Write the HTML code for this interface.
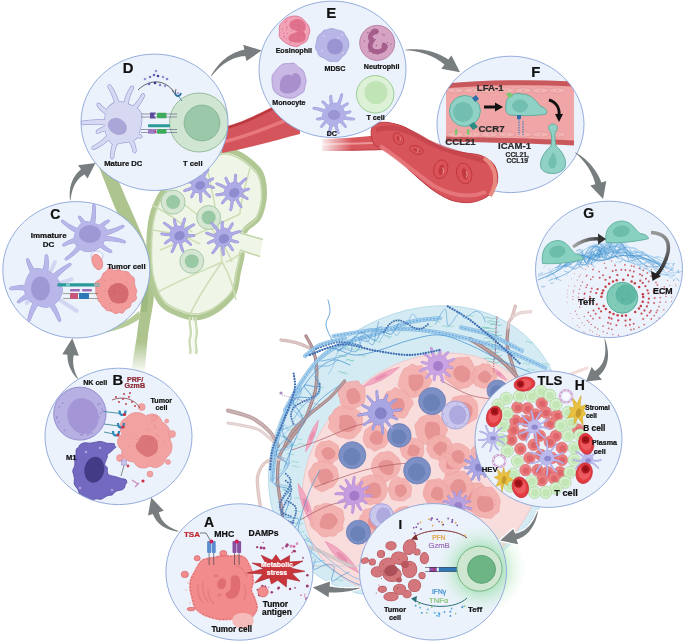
<!DOCTYPE html>
<html><head><meta charset="utf-8"><style>
html,body{margin:0;padding:0;background:#fff;width:685px;height:642px;overflow:hidden}
svg{display:block;will-change:transform}
text{font-family:"Liberation Sans",sans-serif}
</style></head><body>
<svg width="685" height="642" viewBox="0 0 685 642">
<defs><clipPath id="clipA"><ellipse cx="239.4" cy="572.0" rx="73.5" ry="68.2"/></clipPath><clipPath id="clipB"><ellipse cx="118.5" cy="436.4" rx="73.5" ry="68.2"/></clipPath><clipPath id="clipC"><ellipse cx="76.3" cy="269.8" rx="73.5" ry="68.2"/></clipPath><clipPath id="clipD"><ellipse cx="154.5" cy="122.3" rx="73.5" ry="68.2"/></clipPath><clipPath id="clipE"><ellipse cx="332.5" cy="69.3" rx="73.5" ry="68.2"/></clipPath><clipPath id="clipF"><ellipse cx="510.5" cy="124.4" rx="73.5" ry="68.2"/></clipPath><clipPath id="clipG"><ellipse cx="609.0" cy="269.4" rx="73.5" ry="68.2"/></clipPath><clipPath id="clipH"><ellipse cx="548.5" cy="439.2" rx="73.5" ry="68.2"/></clipPath><clipPath id="clipI"><ellipse cx="433.0" cy="571.8" rx="73.5" ry="68.2"/></clipPath>
<radialGradient id="glow" cx="0.5" cy="0.5" r="0.5"><stop offset="0" stop-color="#6fcf85" stop-opacity="0.85"/><stop offset="0.5" stop-color="#8fdca0" stop-opacity="0.55"/><stop offset="0.75" stop-color="#bfeac8" stop-opacity="0.3"/><stop offset="1" stop-color="#e0f5e4" stop-opacity="0"/></radialGradient>
<linearGradient id="vfade" x1="0" y1="0" x2="1" y2="0"><stop offset="0" stop-color="#fff" stop-opacity="1"/><stop offset="1" stop-color="#fff" stop-opacity="0"/></linearGradient>
<linearGradient id="gfade" x1="0" y1="0" x2="0" y2="1"><stop offset="0" stop-color="#fff" stop-opacity="0"/><stop offset="1" stop-color="#fff" stop-opacity="1"/></linearGradient>
<linearGradient id="garr" gradientUnits="userSpaceOnUse" x1="573" y1="0" x2="602" y2="0"><stop offset="0" stop-color="#aaa"/><stop offset="1" stop-color="#333"/></linearGradient>
<linearGradient id="curv" x1="0" y1="0" x2="0" y2="1"><stop offset="0" stop-color="#999" /><stop offset="1" stop-color="#222"/></linearGradient>
</defs>
<path d="M95.00,155.00 C94.40,156.70 98.90,166.50 101.00,172.00 C103.10,177.50 112.90,202.70 116.00,210.00 C119.10,217.30 129.50,238.50 132.00,245.00 C134.50,251.50 140.05,269.50 141.00,275.00 C141.95,280.50 141.90,294.00 141.50,300.00 C141.10,306.00 137.95,327.80 137.00,335.00 C136.05,342.20 131.30,368.30 132.00,372.00 C132.70,375.70 142.40,375.70 144.00,372.00 C145.60,368.30 147.04,342.20 148.00,335.00 C148.96,327.80 153.00,306.00 153.60,300.00 C154.20,294.00 154.76,280.50 154.00,275.00 C153.24,269.50 148.50,252.00 146.00,245.00 C143.50,238.00 132.30,212.70 129.00,205.00 C125.70,197.30 115.20,173.00 113.00,168.00 C110.80,163.00 108.80,156.30 107.00,155.00 C105.20,153.70 95.60,153.30 95.00,155.00Z" fill="#adc48f" stroke="none" stroke-width="1" />
<rect x="120" y="342" width="40" height="32" fill="url(#gfade)"/>
<path d="M141,318 C130,326 118,330 104,333 L104,330 C118,326 128,321 139,311 Z" fill="#b5cb98" stroke="none" stroke-width="1" />
<path d="M163.70,190.30 C169.43,182.20 180.23,168.99 190.00,163.00 C199.77,157.01 218.54,149.41 228.80,150.40 C239.06,151.39 253.07,163.16 258.40,169.60 C263.72,176.03 264.21,186.19 264.30,193.30 C264.39,200.41 261.75,211.65 259.00,217.00 C256.25,222.35 248.70,225.55 246.00,229.00 C243.30,232.45 241.60,236.25 241.00,240.00 C240.40,243.75 242.45,249.02 242.00,254.00 C241.55,258.98 239.35,267.20 238.00,273.20 C236.65,279.20 236.60,288.24 233.00,294.00 C229.40,299.76 220.18,308.06 214.00,311.60 C207.82,315.14 199.35,318.49 191.80,317.60 C184.25,316.72 169.70,311.04 163.70,305.70 C157.70,300.36 154.02,289.98 151.80,282.00 C149.58,274.02 148.90,262.25 148.90,252.50 C148.90,242.75 149.58,226.33 151.80,217.00 C154.02,207.67 157.97,198.40 163.70,190.30Z" fill="#eff6e7" stroke="#b1c895" stroke-width="5.5" />
<path d="M163.70,190.30 C169.43,182.20 180.23,168.99 190.00,163.00 C199.77,157.01 218.54,149.41 228.80,150.40 C239.06,151.39 253.07,163.16 258.40,169.60 C263.72,176.03 264.21,186.19 264.30,193.30 C264.39,200.41 261.75,211.65 259.00,217.00 C256.25,222.35 248.70,225.55 246.00,229.00 C243.30,232.45 241.60,236.25 241.00,240.00 C240.40,243.75 242.45,249.02 242.00,254.00 C241.55,258.98 239.35,267.20 238.00,273.20 C236.65,279.20 236.60,288.24 233.00,294.00 C229.40,299.76 220.18,308.06 214.00,311.60 C207.82,315.14 199.35,318.49 191.80,317.60 C184.25,316.72 169.70,311.04 163.70,305.70 C157.70,300.36 154.02,289.98 151.80,282.00 C149.58,274.02 148.90,262.25 148.90,252.50 C148.90,242.75 149.58,226.33 151.80,217.00 C154.02,207.67 157.97,198.40 163.70,190.30Z" fill="none" stroke="#c8dab0" stroke-width="1.6" transform="translate(206 234) scale(0.955) translate(-206 -234)"/>
<path d="M141,262 C142,280 143,296 141,312 L147,312 C149,296 149,280 147,262 Z" fill="#9bb87c" stroke="none" stroke-width="1" opacity="0.8"/>
<path d="M238,231 L263,239 L260,257 L238,251 Z" fill="#eff6e7" stroke="none" stroke-width="1" />
<path d="M240,233 L263,239.5 M240,250 L260,256.5" fill="none" stroke="#c3d6ab" stroke-width="1.4" />
<path d="M158,292 C180,280 200,272 222,262" fill="none" stroke="#cddeb6" stroke-width="1.5" />
<path d="M160,250 C186,240 214,226 240,214" fill="none" stroke="#cddeb6" stroke-width="1.5" />
<path d="M178,200 C198,214 220,232 232,262" fill="none" stroke="#cddeb6" stroke-width="1.5" />
<path d="M205,158 C212,190 218,215 222,262" fill="none" stroke="#cddeb6" stroke-width="1.5" />
<path d="M190,315 C196,300 206,285 222,262" fill="none" stroke="#cddeb6" stroke-width="1.5" />
<path d="M236,300 C234,290 230,275 222,262" fill="none" stroke="#cddeb6" stroke-width="1.5" />
<path d="M152,230 C172,232 186,236 200,244" fill="none" stroke="#cddeb6" stroke-width="1.5" />
<path d="M250,168 C244,190 240,205 240,214" fill="none" stroke="#cddeb6" stroke-width="1.5" />
<path d="M226,262 C236,258 240,254 242,252" fill="none" stroke="#cddeb6" stroke-width="1.5" />
<path d="M152,205 C170,214 180,222 192,232" fill="none" stroke="#cddeb6" stroke-width="1.5" />
<path d="M190,317 C188,325 193,330 190,338 C188,344 192,348 190,354" fill="none" stroke="#cadcb4" stroke-width="2.4" />
<path d="M196,317 C194,325 199,330 196,338 C194,344 198,348 196,354" fill="none" stroke="#cadcb4" stroke-width="2.4" />
<path d="M193,317 C191,325 196,330 193,338 C191,344 195,348 193,354" fill="none" stroke="#f3f8ec" stroke-width="1.2" />
<circle cx="173.10" cy="202.10" r="12.00" fill="#d5e7d3" stroke="#aac9a9" stroke-width="1" />
<circle cx="173.10" cy="202.10" r="7.00" fill="#99c9a4" stroke="none" stroke-width="1" />
<circle cx="208.70" cy="217.50" r="12.00" fill="#d5e7d3" stroke="#aac9a9" stroke-width="1" />
<circle cx="208.70" cy="217.50" r="7.00" fill="#99c9a4" stroke="none" stroke-width="1" />
<circle cx="191.80" cy="261.30" r="12.00" fill="#d5e7d3" stroke="#aac9a9" stroke-width="1" />
<circle cx="191.80" cy="261.30" r="7.00" fill="#99c9a4" stroke="none" stroke-width="1" />
<g >
<g fill="#918dd6" stroke="#918dd6" stroke-width="0.80" stroke-linejoin="round"><path d="M208.40,184.77 C207.93,186.76 205.50,189.46 204.00,190.80 C202.50,192.14 201.22,192.72 199.42,192.79 C197.62,192.87 194.44,192.24 193.21,191.24 C191.98,190.24 192.20,188.70 192.05,186.78 C191.89,184.85 191.47,181.27 192.30,179.68 C193.13,178.09 195.42,177.87 197.02,177.24 C198.63,176.60 200.29,175.60 201.92,175.87 C203.55,176.14 205.72,177.38 206.80,178.86 C207.89,180.34 208.87,182.78 208.40,184.77Z"/><path d="M204.09,186.84 L205.03,186.89 L205.97,186.97 L206.91,187.07 L207.84,187.21 L208.76,187.38 L209.68,187.57 L210.60,187.80 L211.51,188.06 L212.41,188.35 L213.31,188.67 L214.62,188.13 L214.07,186.82 L213.13,186.42 L212.18,186.05 L211.23,185.72 L210.26,185.41 L209.28,185.14 L208.29,184.89 L207.30,184.69 L206.29,184.51 L205.28,184.36 L204.25,184.25Z"/><path d="M201.45,188.95 L202.11,189.89 L202.80,190.81 L203.51,191.71 L204.24,192.58 L205.00,193.44 L205.78,194.26 L206.59,195.07 L207.42,195.85 L208.27,196.61 L209.14,197.35 L210.55,197.24 L210.45,195.83 L209.66,195.09 L208.89,194.33 L208.15,193.55 L207.43,192.75 L206.74,191.93 L206.07,191.09 L205.42,190.23 L204.81,189.36 L204.21,188.46 L203.64,187.55Z"/><path d="M198.37,189.76 L198.65,190.94 L198.89,192.12 L199.10,193.30 L199.28,194.49 L199.43,195.69 L199.55,196.88 L199.64,198.08 L199.70,199.29 L199.72,200.50 L199.72,201.72 L200.68,202.76 L201.72,201.80 L201.78,200.54 L201.82,199.27 L201.82,198.01 L201.79,196.75 L201.73,195.48 L201.63,194.23 L201.50,192.97 L201.34,191.71 L201.14,190.46 L200.91,189.20Z"/><path d="M195.58,187.93 L194.95,188.75 L194.35,189.58 L193.78,190.42 L193.24,191.28 L192.73,192.16 L192.25,193.06 L191.79,193.96 L191.37,194.89 L190.97,195.83 L190.61,196.78 L191.17,198.08 L192.47,197.52 L192.86,196.65 L193.28,195.80 L193.73,194.96 L194.20,194.15 L194.70,193.35 L195.22,192.57 L195.77,191.80 L196.34,191.05 L196.94,190.33 L197.56,189.61Z"/><path d="M193.83,185.28 L192.92,185.85 L191.99,186.40 L191.05,186.91 L190.09,187.40 L189.13,187.86 L188.14,188.29 L187.15,188.70 L186.14,189.07 L185.12,189.42 L184.08,189.74 L183.37,190.97 L184.59,191.68 L185.70,191.40 L186.80,191.09 L187.88,190.75 L188.96,190.38 L190.03,189.98 L191.08,189.55 L192.12,189.08 L193.15,188.59 L194.17,188.06 L195.18,187.50Z"/><path d="M194.68,182.03 L193.47,181.63 L192.26,181.27 L191.04,180.93 L189.81,180.63 L188.57,180.36 L187.34,180.12 L186.09,179.91 L184.84,179.74 L183.58,179.60 L182.32,179.49 L181.23,180.38 L182.12,181.48 L183.33,181.64 L184.52,181.83 L185.71,182.06 L186.89,182.31 L188.06,182.60 L189.22,182.91 L190.37,183.26 L191.51,183.63 L192.65,184.04 L193.78,184.47Z"/><path d="M196.68,179.55 L195.95,178.96 L195.23,178.34 L194.54,177.71 L193.86,177.05 L193.21,176.37 L192.59,175.67 L191.98,174.95 L191.39,174.20 L190.83,173.44 L190.29,172.65 L188.92,172.32 L188.59,173.70 L189.12,174.57 L189.67,175.43 L190.24,176.27 L190.85,177.08 L191.48,177.88 L192.13,178.65 L192.82,179.41 L193.53,180.14 L194.26,180.86 L195.02,181.55Z"/><path d="M200.05,179.39 L200.07,178.24 L200.06,177.09 L200.01,175.95 L199.93,174.81 L199.82,173.68 L199.67,172.55 L199.49,171.43 L199.28,170.31 L199.04,169.19 L198.77,168.08 L197.56,167.34 L196.82,168.54 L197.02,169.61 L197.20,170.67 L197.34,171.74 L197.45,172.81 L197.53,173.88 L197.57,174.95 L197.59,176.02 L197.58,177.10 L197.53,178.17 L197.46,179.25Z"/><path d="M203.02,180.55 L203.49,179.44 L203.99,178.34 L204.51,177.25 L205.06,176.19 L205.64,175.13 L206.25,174.09 L206.89,173.07 L207.55,172.06 L208.24,171.07 L208.96,170.08 L208.80,168.68 L207.39,168.84 L206.59,169.83 L205.82,170.83 L205.08,171.85 L204.36,172.89 L203.67,173.95 L203.01,175.02 L202.37,176.12 L201.77,177.23 L201.19,178.36 L200.64,179.51Z"/><path d="M204.20,183.67 L205.19,183.38 L206.16,183.06 L207.12,182.71 L208.07,182.33 L209.00,181.92 L209.91,181.49 L210.81,181.02 L211.70,180.52 L212.57,179.99 L213.43,179.43 L213.74,178.05 L212.36,177.74 L211.53,178.21 L210.69,178.66 L209.83,179.07 L208.97,179.45 L208.10,179.81 L207.22,180.13 L206.33,180.43 L205.42,180.70 L204.51,180.93 L203.59,181.14Z"/></g>
<g fill="#aeabe6"><path d="M208.40,184.77 C207.93,186.76 205.50,189.46 204.00,190.80 C202.50,192.14 201.22,192.72 199.42,192.79 C197.62,192.87 194.44,192.24 193.21,191.24 C191.98,190.24 192.20,188.70 192.05,186.78 C191.89,184.85 191.47,181.27 192.30,179.68 C193.13,178.09 195.42,177.87 197.02,177.24 C198.63,176.60 200.29,175.60 201.92,175.87 C203.55,176.14 205.72,177.38 206.80,178.86 C207.89,180.34 208.87,182.78 208.40,184.77Z"/><path d="M204.09,186.84 L205.03,186.89 L205.97,186.97 L206.91,187.07 L207.84,187.21 L208.76,187.38 L209.68,187.57 L210.60,187.80 L211.51,188.06 L212.41,188.35 L213.31,188.67 L214.62,188.13 L214.07,186.82 L213.13,186.42 L212.18,186.05 L211.23,185.72 L210.26,185.41 L209.28,185.14 L208.29,184.89 L207.30,184.69 L206.29,184.51 L205.28,184.36 L204.25,184.25Z"/><path d="M201.45,188.95 L202.11,189.89 L202.80,190.81 L203.51,191.71 L204.24,192.58 L205.00,193.44 L205.78,194.26 L206.59,195.07 L207.42,195.85 L208.27,196.61 L209.14,197.35 L210.55,197.24 L210.45,195.83 L209.66,195.09 L208.89,194.33 L208.15,193.55 L207.43,192.75 L206.74,191.93 L206.07,191.09 L205.42,190.23 L204.81,189.36 L204.21,188.46 L203.64,187.55Z"/><path d="M198.37,189.76 L198.65,190.94 L198.89,192.12 L199.10,193.30 L199.28,194.49 L199.43,195.69 L199.55,196.88 L199.64,198.08 L199.70,199.29 L199.72,200.50 L199.72,201.72 L200.68,202.76 L201.72,201.80 L201.78,200.54 L201.82,199.27 L201.82,198.01 L201.79,196.75 L201.73,195.48 L201.63,194.23 L201.50,192.97 L201.34,191.71 L201.14,190.46 L200.91,189.20Z"/><path d="M195.58,187.93 L194.95,188.75 L194.35,189.58 L193.78,190.42 L193.24,191.28 L192.73,192.16 L192.25,193.06 L191.79,193.96 L191.37,194.89 L190.97,195.83 L190.61,196.78 L191.17,198.08 L192.47,197.52 L192.86,196.65 L193.28,195.80 L193.73,194.96 L194.20,194.15 L194.70,193.35 L195.22,192.57 L195.77,191.80 L196.34,191.05 L196.94,190.33 L197.56,189.61Z"/><path d="M193.83,185.28 L192.92,185.85 L191.99,186.40 L191.05,186.91 L190.09,187.40 L189.13,187.86 L188.14,188.29 L187.15,188.70 L186.14,189.07 L185.12,189.42 L184.08,189.74 L183.37,190.97 L184.59,191.68 L185.70,191.40 L186.80,191.09 L187.88,190.75 L188.96,190.38 L190.03,189.98 L191.08,189.55 L192.12,189.08 L193.15,188.59 L194.17,188.06 L195.18,187.50Z"/><path d="M194.68,182.03 L193.47,181.63 L192.26,181.27 L191.04,180.93 L189.81,180.63 L188.57,180.36 L187.34,180.12 L186.09,179.91 L184.84,179.74 L183.58,179.60 L182.32,179.49 L181.23,180.38 L182.12,181.48 L183.33,181.64 L184.52,181.83 L185.71,182.06 L186.89,182.31 L188.06,182.60 L189.22,182.91 L190.37,183.26 L191.51,183.63 L192.65,184.04 L193.78,184.47Z"/><path d="M196.68,179.55 L195.95,178.96 L195.23,178.34 L194.54,177.71 L193.86,177.05 L193.21,176.37 L192.59,175.67 L191.98,174.95 L191.39,174.20 L190.83,173.44 L190.29,172.65 L188.92,172.32 L188.59,173.70 L189.12,174.57 L189.67,175.43 L190.24,176.27 L190.85,177.08 L191.48,177.88 L192.13,178.65 L192.82,179.41 L193.53,180.14 L194.26,180.86 L195.02,181.55Z"/><path d="M200.05,179.39 L200.07,178.24 L200.06,177.09 L200.01,175.95 L199.93,174.81 L199.82,173.68 L199.67,172.55 L199.49,171.43 L199.28,170.31 L199.04,169.19 L198.77,168.08 L197.56,167.34 L196.82,168.54 L197.02,169.61 L197.20,170.67 L197.34,171.74 L197.45,172.81 L197.53,173.88 L197.57,174.95 L197.59,176.02 L197.58,177.10 L197.53,178.17 L197.46,179.25Z"/><path d="M203.02,180.55 L203.49,179.44 L203.99,178.34 L204.51,177.25 L205.06,176.19 L205.64,175.13 L206.25,174.09 L206.89,173.07 L207.55,172.06 L208.24,171.07 L208.96,170.08 L208.80,168.68 L207.39,168.84 L206.59,169.83 L205.82,170.83 L205.08,171.85 L204.36,172.89 L203.67,173.95 L203.01,175.02 L202.37,176.12 L201.77,177.23 L201.19,178.36 L200.64,179.51Z"/><path d="M204.20,183.67 L205.19,183.38 L206.16,183.06 L207.12,182.71 L208.07,182.33 L209.00,181.92 L209.91,181.49 L210.81,181.02 L211.70,180.52 L212.57,179.99 L213.43,179.43 L213.74,178.05 L212.36,177.74 L211.53,178.21 L210.69,178.66 L209.83,179.07 L208.97,179.45 L208.10,179.81 L207.22,180.13 L206.33,180.43 L205.42,180.70 L204.51,180.93 L203.59,181.14Z"/></g>
<ellipse cx="200.2" cy="185.4" rx="5.1" ry="4.2" fill="#8f8bcf" transform="rotate(-25 200.2 185.4)"/>
</g>
<g >
<g fill="#918dd6" stroke="#918dd6" stroke-width="0.80" stroke-linejoin="round"><path d="M242.76,194.62 C242.39,196.11 241.03,196.00 239.32,197.11 C237.60,198.22 234.44,201.10 232.48,201.28 C230.51,201.47 228.91,199.55 227.51,198.23 C226.11,196.90 224.34,195.10 224.10,193.34 C223.85,191.58 225.09,189.28 226.04,187.67 C227.00,186.06 228.00,184.57 229.83,183.70 C231.66,182.84 235.09,181.75 237.04,182.49 C238.99,183.23 240.58,186.13 241.53,188.15 C242.48,190.17 243.13,193.13 242.76,194.62Z"/><path d="M237.67,195.41 L238.63,195.69 L239.59,196.00 L240.53,196.34 L241.46,196.71 L242.38,197.11 L243.28,197.54 L244.18,197.99 L245.06,198.47 L245.93,198.98 L246.79,199.53 L248.18,199.27 L247.93,197.88 L247.05,197.26 L246.16,196.66 L245.25,196.09 L244.33,195.55 L243.38,195.04 L242.43,194.56 L241.45,194.11 L240.46,193.68 L239.46,193.29 L238.44,192.93Z"/><path d="M234.52,197.02 L234.98,198.14 L235.47,199.24 L235.99,200.33 L236.54,201.41 L237.11,202.46 L237.72,203.50 L238.35,204.52 L239.01,205.53 L239.70,206.51 L240.42,207.48 L241.81,207.71 L242.04,206.31 L241.40,205.35 L240.80,204.38 L240.22,203.39 L239.67,202.39 L239.14,201.38 L238.65,200.36 L238.18,199.32 L237.75,198.26 L237.34,197.20 L236.96,196.12Z"/><path d="M231.15,197.12 L231.14,198.41 L231.10,199.69 L231.03,200.96 L230.93,202.23 L230.80,203.50 L230.63,204.77 L230.44,206.04 L230.21,207.30 L229.96,208.56 L229.67,209.81 L230.37,211.04 L231.60,210.33 L231.96,209.04 L232.29,207.75 L232.58,206.44 L232.84,205.14 L233.08,203.82 L233.27,202.51 L233.44,201.18 L233.58,199.85 L233.68,198.51 L233.75,197.17Z"/><path d="M228.66,194.65 L227.83,195.34 L227.02,196.06 L226.23,196.79 L225.47,197.55 L224.74,198.33 L224.03,199.13 L223.35,199.96 L222.69,200.80 L222.05,201.67 L221.44,202.55 L221.68,203.95 L223.08,203.71 L223.70,202.90 L224.34,202.13 L225.00,201.37 L225.69,200.64 L226.39,199.93 L227.12,199.24 L227.87,198.58 L228.64,197.94 L229.42,197.32 L230.24,196.72Z"/><path d="M227.48,191.50 L226.40,191.86 L225.31,192.20 L224.21,192.50 L223.10,192.77 L221.99,193.01 L220.87,193.23 L219.74,193.41 L218.61,193.56 L217.47,193.68 L216.32,193.77 L215.36,194.81 L216.40,195.77 L217.60,195.74 L218.81,195.67 L220.01,195.57 L221.20,195.44 L222.39,195.28 L223.58,195.08 L224.76,194.86 L225.94,194.60 L227.11,194.30 L228.28,193.98Z"/><path d="M229.05,188.34 L227.90,187.65 L226.74,186.99 L225.56,186.35 L224.37,185.75 L223.16,185.18 L221.94,184.64 L220.71,184.12 L219.47,183.64 L218.21,183.19 L216.94,182.77 L215.67,183.39 L216.29,184.66 L217.49,185.12 L218.68,185.61 L219.85,186.13 L221.01,186.67 L222.15,187.25 L223.28,187.85 L224.39,188.47 L225.49,189.13 L226.57,189.81 L227.64,190.52Z"/><path d="M231.71,186.25 L231.09,185.46 L230.50,184.64 L229.94,183.82 L229.41,182.97 L228.90,182.11 L228.42,181.23 L227.96,180.34 L227.53,179.43 L227.13,178.51 L226.75,177.56 L225.48,176.95 L224.86,178.22 L225.20,179.24 L225.57,180.25 L225.97,181.24 L226.41,182.22 L226.87,183.19 L227.36,184.14 L227.88,185.08 L228.43,186.01 L229.01,186.92 L229.62,187.81Z"/><path d="M235.20,186.81 L235.49,185.63 L235.74,184.44 L235.96,183.26 L236.15,182.07 L236.30,180.88 L236.42,179.68 L236.51,178.48 L236.57,177.28 L236.59,176.08 L236.58,174.87 L235.58,173.87 L234.58,174.86 L234.53,176.01 L234.45,177.16 L234.34,178.30 L234.20,179.43 L234.02,180.56 L233.82,181.68 L233.59,182.79 L233.32,183.90 L233.03,185.00 L232.70,186.10Z"/><path d="M237.99,188.70 L238.75,187.67 L239.53,186.65 L240.34,185.66 L241.17,184.69 L242.02,183.74 L242.90,182.81 L243.80,181.91 L244.73,181.02 L245.67,180.15 L246.65,179.31 L246.79,177.90 L245.39,177.75 L244.34,178.58 L243.31,179.44 L242.31,180.32 L241.33,181.22 L240.37,182.15 L239.43,183.10 L238.52,184.07 L237.63,185.07 L236.76,186.09 L235.91,187.13Z"/><path d="M238.55,192.16 L239.63,192.09 L240.70,191.99 L241.77,191.86 L242.83,191.69 L243.88,191.49 L244.93,191.26 L245.97,190.99 L247.00,190.70 L248.02,190.37 L249.03,190.01 L249.66,188.74 L248.39,188.12 L247.41,188.40 L246.44,188.65 L245.46,188.88 L244.47,189.07 L243.48,189.23 L242.49,189.35 L241.50,189.45 L240.50,189.52 L239.50,189.56 L238.49,189.56Z"/></g>
<g fill="#aeabe6"><path d="M242.76,194.62 C242.39,196.11 241.03,196.00 239.32,197.11 C237.60,198.22 234.44,201.10 232.48,201.28 C230.51,201.47 228.91,199.55 227.51,198.23 C226.11,196.90 224.34,195.10 224.10,193.34 C223.85,191.58 225.09,189.28 226.04,187.67 C227.00,186.06 228.00,184.57 229.83,183.70 C231.66,182.84 235.09,181.75 237.04,182.49 C238.99,183.23 240.58,186.13 241.53,188.15 C242.48,190.17 243.13,193.13 242.76,194.62Z"/><path d="M237.67,195.41 L238.63,195.69 L239.59,196.00 L240.53,196.34 L241.46,196.71 L242.38,197.11 L243.28,197.54 L244.18,197.99 L245.06,198.47 L245.93,198.98 L246.79,199.53 L248.18,199.27 L247.93,197.88 L247.05,197.26 L246.16,196.66 L245.25,196.09 L244.33,195.55 L243.38,195.04 L242.43,194.56 L241.45,194.11 L240.46,193.68 L239.46,193.29 L238.44,192.93Z"/><path d="M234.52,197.02 L234.98,198.14 L235.47,199.24 L235.99,200.33 L236.54,201.41 L237.11,202.46 L237.72,203.50 L238.35,204.52 L239.01,205.53 L239.70,206.51 L240.42,207.48 L241.81,207.71 L242.04,206.31 L241.40,205.35 L240.80,204.38 L240.22,203.39 L239.67,202.39 L239.14,201.38 L238.65,200.36 L238.18,199.32 L237.75,198.26 L237.34,197.20 L236.96,196.12Z"/><path d="M231.15,197.12 L231.14,198.41 L231.10,199.69 L231.03,200.96 L230.93,202.23 L230.80,203.50 L230.63,204.77 L230.44,206.04 L230.21,207.30 L229.96,208.56 L229.67,209.81 L230.37,211.04 L231.60,210.33 L231.96,209.04 L232.29,207.75 L232.58,206.44 L232.84,205.14 L233.08,203.82 L233.27,202.51 L233.44,201.18 L233.58,199.85 L233.68,198.51 L233.75,197.17Z"/><path d="M228.66,194.65 L227.83,195.34 L227.02,196.06 L226.23,196.79 L225.47,197.55 L224.74,198.33 L224.03,199.13 L223.35,199.96 L222.69,200.80 L222.05,201.67 L221.44,202.55 L221.68,203.95 L223.08,203.71 L223.70,202.90 L224.34,202.13 L225.00,201.37 L225.69,200.64 L226.39,199.93 L227.12,199.24 L227.87,198.58 L228.64,197.94 L229.42,197.32 L230.24,196.72Z"/><path d="M227.48,191.50 L226.40,191.86 L225.31,192.20 L224.21,192.50 L223.10,192.77 L221.99,193.01 L220.87,193.23 L219.74,193.41 L218.61,193.56 L217.47,193.68 L216.32,193.77 L215.36,194.81 L216.40,195.77 L217.60,195.74 L218.81,195.67 L220.01,195.57 L221.20,195.44 L222.39,195.28 L223.58,195.08 L224.76,194.86 L225.94,194.60 L227.11,194.30 L228.28,193.98Z"/><path d="M229.05,188.34 L227.90,187.65 L226.74,186.99 L225.56,186.35 L224.37,185.75 L223.16,185.18 L221.94,184.64 L220.71,184.12 L219.47,183.64 L218.21,183.19 L216.94,182.77 L215.67,183.39 L216.29,184.66 L217.49,185.12 L218.68,185.61 L219.85,186.13 L221.01,186.67 L222.15,187.25 L223.28,187.85 L224.39,188.47 L225.49,189.13 L226.57,189.81 L227.64,190.52Z"/><path d="M231.71,186.25 L231.09,185.46 L230.50,184.64 L229.94,183.82 L229.41,182.97 L228.90,182.11 L228.42,181.23 L227.96,180.34 L227.53,179.43 L227.13,178.51 L226.75,177.56 L225.48,176.95 L224.86,178.22 L225.20,179.24 L225.57,180.25 L225.97,181.24 L226.41,182.22 L226.87,183.19 L227.36,184.14 L227.88,185.08 L228.43,186.01 L229.01,186.92 L229.62,187.81Z"/><path d="M235.20,186.81 L235.49,185.63 L235.74,184.44 L235.96,183.26 L236.15,182.07 L236.30,180.88 L236.42,179.68 L236.51,178.48 L236.57,177.28 L236.59,176.08 L236.58,174.87 L235.58,173.87 L234.58,174.86 L234.53,176.01 L234.45,177.16 L234.34,178.30 L234.20,179.43 L234.02,180.56 L233.82,181.68 L233.59,182.79 L233.32,183.90 L233.03,185.00 L232.70,186.10Z"/><path d="M237.99,188.70 L238.75,187.67 L239.53,186.65 L240.34,185.66 L241.17,184.69 L242.02,183.74 L242.90,182.81 L243.80,181.91 L244.73,181.02 L245.67,180.15 L246.65,179.31 L246.79,177.90 L245.39,177.75 L244.34,178.58 L243.31,179.44 L242.31,180.32 L241.33,181.22 L240.37,182.15 L239.43,183.10 L238.52,184.07 L237.63,185.07 L236.76,186.09 L235.91,187.13Z"/><path d="M238.55,192.16 L239.63,192.09 L240.70,191.99 L241.77,191.86 L242.83,191.69 L243.88,191.49 L244.93,191.26 L245.97,190.99 L247.00,190.70 L248.02,190.37 L249.03,190.01 L249.66,188.74 L248.39,188.12 L247.41,188.40 L246.44,188.65 L245.46,188.88 L244.47,189.07 L243.48,189.23 L242.49,189.35 L241.50,189.45 L240.50,189.52 L239.50,189.56 L238.49,189.56Z"/></g>
<ellipse cx="234.2" cy="192.8" rx="5.4" ry="4.5" fill="#8f8bcf" transform="rotate(-25 234.2 192.8)"/>
</g>
<g >
<g fill="#918dd6" stroke="#918dd6" stroke-width="0.80" stroke-linejoin="round"><path d="M187.57,235.35 C187.21,237.25 186.40,240.14 184.87,241.38 C183.34,242.61 180.27,242.47 178.39,242.76 C176.52,243.05 174.94,244.07 173.60,243.11 C172.27,242.14 170.75,239.26 170.38,236.96 C170.01,234.66 170.42,231.12 171.37,229.31 C172.33,227.50 174.41,226.47 176.09,226.08 C177.77,225.70 179.62,226.36 181.45,227.00 C183.28,227.64 186.04,228.55 187.06,229.94 C188.08,231.33 187.94,233.44 187.57,235.35Z"/><path d="M182.04,239.22 L182.92,239.72 L183.78,240.23 L184.62,240.78 L185.44,241.34 L186.25,241.94 L187.03,242.56 L187.80,243.20 L188.55,243.87 L189.28,244.56 L190.00,245.28 L191.41,245.35 L191.48,243.94 L190.77,243.13 L190.03,242.35 L189.28,241.59 L188.50,240.86 L187.69,240.15 L186.87,239.47 L186.02,238.81 L185.15,238.17 L184.26,237.56 L183.35,236.97Z"/><path d="M178.61,240.08 L178.81,241.28 L179.04,242.46 L179.30,243.64 L179.59,244.81 L179.91,245.97 L180.27,247.12 L180.66,248.25 L181.07,249.38 L181.52,250.50 L182.00,251.60 L183.31,252.14 L183.85,250.83 L183.44,249.75 L183.07,248.67 L182.73,247.57 L182.42,246.48 L182.14,245.37 L181.89,244.26 L181.67,243.14 L181.48,242.02 L181.32,240.89 L181.19,239.75Z"/><path d="M175.30,239.43 L175.01,240.67 L174.68,241.91 L174.33,243.14 L173.94,244.36 L173.53,245.56 L173.08,246.76 L172.61,247.95 L172.10,249.13 L171.57,250.30 L171.01,251.46 L171.42,252.81 L172.77,252.39 L173.41,251.22 L174.02,250.03 L174.60,248.83 L175.15,247.62 L175.67,246.39 L176.16,245.15 L176.63,243.89 L177.06,242.63 L177.46,241.35 L177.83,240.06Z"/><path d="M173.44,236.46 L172.47,236.94 L171.52,237.46 L170.59,238.00 L169.68,238.56 L168.79,239.16 L167.92,239.78 L167.06,240.43 L166.23,241.10 L165.42,241.81 L164.62,242.53 L164.55,243.94 L165.96,244.02 L166.74,243.38 L167.54,242.77 L168.36,242.18 L169.19,241.62 L170.04,241.09 L170.90,240.58 L171.78,240.10 L172.67,239.65 L173.58,239.23 L174.50,238.83Z"/><path d="M173.00,233.12 L171.86,233.23 L170.72,233.31 L169.58,233.36 L168.44,233.38 L167.30,233.36 L166.17,233.32 L165.03,233.24 L163.89,233.13 L162.75,232.99 L161.61,232.82 L160.44,233.62 L161.24,234.79 L162.42,235.03 L163.60,235.23 L164.79,235.41 L165.99,235.55 L167.18,235.66 L168.38,235.74 L169.59,235.78 L170.79,235.79 L172.00,235.77 L173.22,235.71Z"/><path d="M175.24,230.40 L174.27,229.46 L173.29,228.56 L172.28,227.67 L171.25,226.82 L170.21,225.99 L169.14,225.19 L168.06,224.41 L166.96,223.66 L165.83,222.94 L164.69,222.24 L163.31,222.56 L163.63,223.94 L164.70,224.66 L165.75,225.40 L166.77,226.17 L167.78,226.96 L168.76,227.78 L169.72,228.62 L170.67,229.48 L171.59,230.36 L172.49,231.27 L173.37,232.20Z"/><path d="M178.29,228.96 L177.87,228.04 L177.48,227.12 L177.12,226.19 L176.79,225.24 L176.49,224.29 L176.21,223.33 L175.97,222.36 L175.76,221.37 L175.57,220.38 L175.42,219.38 L174.32,218.49 L173.43,219.59 L173.53,220.67 L173.67,221.73 L173.83,222.79 L174.03,223.84 L174.27,224.89 L174.53,225.92 L174.83,226.96 L175.16,227.98 L175.52,229.00 L175.91,230.01Z"/><path d="M181.57,230.28 L182.12,229.20 L182.63,228.10 L183.11,227.00 L183.56,225.88 L183.98,224.75 L184.37,223.62 L184.72,222.47 L185.05,221.31 L185.34,220.14 L185.60,218.96 L184.86,217.76 L183.65,218.51 L183.35,219.62 L183.01,220.71 L182.65,221.80 L182.25,222.87 L181.83,223.93 L181.38,224.97 L180.90,226.01 L180.40,227.03 L179.86,228.04 L179.30,229.03Z"/><path d="M183.86,232.75 L184.84,231.92 L185.83,231.11 L186.84,230.33 L187.86,229.57 L188.91,228.83 L189.97,228.13 L191.06,227.44 L192.16,226.79 L193.27,226.16 L194.41,225.55 L194.87,224.21 L193.53,223.75 L192.33,224.33 L191.13,224.93 L189.96,225.56 L188.80,226.22 L187.66,226.91 L186.53,227.62 L185.42,228.36 L184.33,229.14 L183.25,229.93 L182.19,230.76Z"/><path d="M183.63,236.26 L184.70,236.43 L185.77,236.57 L186.84,236.68 L187.91,236.76 L188.98,236.80 L190.05,236.81 L191.12,236.79 L192.19,236.73 L193.26,236.64 L194.33,236.52 L195.22,235.42 L194.13,234.53 L193.11,234.59 L192.11,234.61 L191.10,234.61 L190.10,234.57 L189.10,234.50 L188.10,234.41 L187.11,234.28 L186.13,234.12 L185.14,233.93 L184.16,233.71Z"/></g>
<g fill="#aeabe6"><path d="M187.57,235.35 C187.21,237.25 186.40,240.14 184.87,241.38 C183.34,242.61 180.27,242.47 178.39,242.76 C176.52,243.05 174.94,244.07 173.60,243.11 C172.27,242.14 170.75,239.26 170.38,236.96 C170.01,234.66 170.42,231.12 171.37,229.31 C172.33,227.50 174.41,226.47 176.09,226.08 C177.77,225.70 179.62,226.36 181.45,227.00 C183.28,227.64 186.04,228.55 187.06,229.94 C188.08,231.33 187.94,233.44 187.57,235.35Z"/><path d="M182.04,239.22 L182.92,239.72 L183.78,240.23 L184.62,240.78 L185.44,241.34 L186.25,241.94 L187.03,242.56 L187.80,243.20 L188.55,243.87 L189.28,244.56 L190.00,245.28 L191.41,245.35 L191.48,243.94 L190.77,243.13 L190.03,242.35 L189.28,241.59 L188.50,240.86 L187.69,240.15 L186.87,239.47 L186.02,238.81 L185.15,238.17 L184.26,237.56 L183.35,236.97Z"/><path d="M178.61,240.08 L178.81,241.28 L179.04,242.46 L179.30,243.64 L179.59,244.81 L179.91,245.97 L180.27,247.12 L180.66,248.25 L181.07,249.38 L181.52,250.50 L182.00,251.60 L183.31,252.14 L183.85,250.83 L183.44,249.75 L183.07,248.67 L182.73,247.57 L182.42,246.48 L182.14,245.37 L181.89,244.26 L181.67,243.14 L181.48,242.02 L181.32,240.89 L181.19,239.75Z"/><path d="M175.30,239.43 L175.01,240.67 L174.68,241.91 L174.33,243.14 L173.94,244.36 L173.53,245.56 L173.08,246.76 L172.61,247.95 L172.10,249.13 L171.57,250.30 L171.01,251.46 L171.42,252.81 L172.77,252.39 L173.41,251.22 L174.02,250.03 L174.60,248.83 L175.15,247.62 L175.67,246.39 L176.16,245.15 L176.63,243.89 L177.06,242.63 L177.46,241.35 L177.83,240.06Z"/><path d="M173.44,236.46 L172.47,236.94 L171.52,237.46 L170.59,238.00 L169.68,238.56 L168.79,239.16 L167.92,239.78 L167.06,240.43 L166.23,241.10 L165.42,241.81 L164.62,242.53 L164.55,243.94 L165.96,244.02 L166.74,243.38 L167.54,242.77 L168.36,242.18 L169.19,241.62 L170.04,241.09 L170.90,240.58 L171.78,240.10 L172.67,239.65 L173.58,239.23 L174.50,238.83Z"/><path d="M173.00,233.12 L171.86,233.23 L170.72,233.31 L169.58,233.36 L168.44,233.38 L167.30,233.36 L166.17,233.32 L165.03,233.24 L163.89,233.13 L162.75,232.99 L161.61,232.82 L160.44,233.62 L161.24,234.79 L162.42,235.03 L163.60,235.23 L164.79,235.41 L165.99,235.55 L167.18,235.66 L168.38,235.74 L169.59,235.78 L170.79,235.79 L172.00,235.77 L173.22,235.71Z"/><path d="M175.24,230.40 L174.27,229.46 L173.29,228.56 L172.28,227.67 L171.25,226.82 L170.21,225.99 L169.14,225.19 L168.06,224.41 L166.96,223.66 L165.83,222.94 L164.69,222.24 L163.31,222.56 L163.63,223.94 L164.70,224.66 L165.75,225.40 L166.77,226.17 L167.78,226.96 L168.76,227.78 L169.72,228.62 L170.67,229.48 L171.59,230.36 L172.49,231.27 L173.37,232.20Z"/><path d="M178.29,228.96 L177.87,228.04 L177.48,227.12 L177.12,226.19 L176.79,225.24 L176.49,224.29 L176.21,223.33 L175.97,222.36 L175.76,221.37 L175.57,220.38 L175.42,219.38 L174.32,218.49 L173.43,219.59 L173.53,220.67 L173.67,221.73 L173.83,222.79 L174.03,223.84 L174.27,224.89 L174.53,225.92 L174.83,226.96 L175.16,227.98 L175.52,229.00 L175.91,230.01Z"/><path d="M181.57,230.28 L182.12,229.20 L182.63,228.10 L183.11,227.00 L183.56,225.88 L183.98,224.75 L184.37,223.62 L184.72,222.47 L185.05,221.31 L185.34,220.14 L185.60,218.96 L184.86,217.76 L183.65,218.51 L183.35,219.62 L183.01,220.71 L182.65,221.80 L182.25,222.87 L181.83,223.93 L181.38,224.97 L180.90,226.01 L180.40,227.03 L179.86,228.04 L179.30,229.03Z"/><path d="M183.86,232.75 L184.84,231.92 L185.83,231.11 L186.84,230.33 L187.86,229.57 L188.91,228.83 L189.97,228.13 L191.06,227.44 L192.16,226.79 L193.27,226.16 L194.41,225.55 L194.87,224.21 L193.53,223.75 L192.33,224.33 L191.13,224.93 L189.96,225.56 L188.80,226.22 L187.66,226.91 L186.53,227.62 L185.42,228.36 L184.33,229.14 L183.25,229.93 L182.19,230.76Z"/><path d="M183.63,236.26 L184.70,236.43 L185.77,236.57 L186.84,236.68 L187.91,236.76 L188.98,236.80 L190.05,236.81 L191.12,236.79 L192.19,236.73 L193.26,236.64 L194.33,236.52 L195.22,235.42 L194.13,234.53 L193.11,234.59 L192.11,234.61 L191.10,234.61 L190.10,234.57 L189.10,234.50 L188.10,234.41 L187.11,234.28 L186.13,234.12 L185.14,233.93 L184.16,233.71Z"/></g>
<ellipse cx="179.5" cy="235.7" rx="5.4" ry="4.5" fill="#8f8bcf" transform="rotate(-25 179.5 235.7)"/>
</g>
<g >
<g fill="#918dd6" stroke="#918dd6" stroke-width="0.80" stroke-linejoin="round"><path d="M231.02,238.28 C230.51,239.98 229.68,242.37 228.55,243.72 C227.42,245.07 226.35,246.26 224.25,246.38 C222.16,246.50 217.60,245.71 215.99,244.43 C214.37,243.15 214.65,240.52 214.56,238.70 C214.47,236.89 214.69,234.92 215.47,233.54 C216.24,232.16 217.57,231.35 219.20,230.44 C220.83,229.53 223.18,227.55 225.25,228.06 C227.32,228.57 230.64,231.80 231.60,233.50 C232.57,235.20 231.53,236.57 231.02,238.28Z"/><path d="M225.33,242.90 L226.08,243.58 L226.80,244.28 L227.50,245.00 L228.17,245.74 L228.82,246.49 L229.45,247.27 L230.05,248.07 L230.63,248.90 L231.19,249.74 L231.72,250.60 L233.08,250.98 L233.47,249.62 L232.96,248.68 L232.42,247.75 L231.85,246.84 L231.25,245.95 L230.63,245.08 L229.98,244.23 L229.31,243.39 L228.60,242.58 L227.87,241.78 L227.11,241.01Z"/><path d="M221.80,242.97 L221.72,244.18 L221.68,245.39 L221.67,246.59 L221.69,247.80 L221.74,249.00 L221.83,250.20 L221.95,251.39 L222.11,252.58 L222.29,253.77 L222.51,254.96 L223.67,255.78 L224.48,254.62 L224.33,253.48 L224.21,252.34 L224.12,251.20 L224.07,250.06 L224.04,248.92 L224.05,247.78 L224.08,246.64 L224.15,245.50 L224.25,244.36 L224.38,243.23Z"/><path d="M218.72,241.59 L218.15,242.74 L217.56,243.87 L216.93,244.98 L216.29,246.08 L215.61,247.17 L214.91,248.23 L214.18,249.28 L213.42,250.32 L212.64,251.34 L211.83,252.34 L211.93,253.75 L213.34,253.65 L214.23,252.65 L215.09,251.63 L215.92,250.59 L216.73,249.53 L217.52,248.45 L218.27,247.35 L219.00,246.24 L219.71,245.10 L220.39,243.94 L221.04,242.77Z"/><path d="M217.57,238.27 L216.52,238.53 L215.48,238.81 L214.45,239.13 L213.43,239.48 L212.43,239.86 L211.44,240.27 L210.47,240.71 L209.50,241.18 L208.55,241.68 L207.62,242.21 L207.22,243.57 L208.58,243.96 L209.49,243.51 L210.41,243.10 L211.34,242.71 L212.27,242.35 L213.22,242.02 L214.17,241.72 L215.14,241.45 L216.11,241.21 L217.09,241.00 L218.08,240.82Z"/><path d="M217.89,234.92 L216.76,234.78 L215.63,234.60 L214.51,234.39 L213.40,234.15 L212.29,233.88 L211.19,233.58 L210.10,233.25 L209.02,232.89 L207.94,232.49 L206.87,232.07 L205.55,232.58 L206.06,233.90 L207.16,234.40 L208.27,234.87 L209.39,235.31 L210.52,235.71 L211.66,236.09 L212.81,236.43 L213.97,236.75 L215.15,237.03 L216.33,237.28 L217.52,237.50Z"/><path d="M220.69,232.77 L219.96,231.65 L219.20,230.54 L218.42,229.46 L217.61,228.39 L216.78,227.35 L215.92,226.33 L215.04,225.33 L214.13,224.35 L213.20,223.39 L212.25,222.45 L210.83,222.45 L210.83,223.87 L211.71,224.81 L212.56,225.77 L213.39,226.75 L214.19,227.75 L214.97,228.76 L215.72,229.80 L216.44,230.85 L217.14,231.92 L217.81,233.01 L218.46,234.11Z"/><path d="M223.99,232.06 L223.79,231.07 L223.61,230.09 L223.47,229.10 L223.36,228.10 L223.28,227.11 L223.23,226.11 L223.21,225.10 L223.22,224.10 L223.27,223.09 L223.34,222.08 L222.47,220.97 L221.36,221.84 L221.22,222.91 L221.11,223.98 L221.03,225.05 L220.99,226.11 L220.98,227.19 L221.01,228.26 L221.06,229.33 L221.15,230.40 L221.28,231.47 L221.43,232.55Z"/><path d="M226.89,234.09 L227.66,233.15 L228.41,232.20 L229.13,231.23 L229.81,230.24 L230.48,229.24 L231.11,228.22 L231.71,227.18 L232.29,226.13 L232.84,225.05 L233.36,223.97 L232.90,222.63 L231.57,223.08 L231.02,224.09 L230.44,225.09 L229.84,226.06 L229.22,227.02 L228.57,227.95 L227.90,228.87 L227.20,229.77 L226.47,230.65 L225.72,231.51 L224.95,232.36Z"/><path d="M228.56,237.01 L229.70,236.42 L230.85,235.85 L232.01,235.31 L233.18,234.81 L234.36,234.33 L235.56,233.88 L236.77,233.45 L237.99,233.06 L239.22,232.70 L240.46,232.36 L241.21,231.16 L240.01,230.42 L238.71,230.70 L237.41,231.02 L236.12,231.37 L234.84,231.75 L233.58,232.16 L232.32,232.61 L231.07,233.08 L229.83,233.59 L228.60,234.13 L227.38,234.69Z"/><path d="M227.55,240.37 L228.55,240.78 L229.56,241.16 L230.58,241.51 L231.60,241.82 L232.64,242.10 L233.68,242.35 L234.73,242.57 L235.78,242.76 L236.85,242.91 L237.91,243.03 L239.03,242.17 L238.17,241.05 L237.17,240.88 L236.18,240.68 L235.20,240.44 L234.23,240.18 L233.27,239.89 L232.32,239.58 L231.39,239.23 L230.46,238.85 L229.54,238.44 L228.64,238.01Z"/></g>
<g fill="#aeabe6"><path d="M231.02,238.28 C230.51,239.98 229.68,242.37 228.55,243.72 C227.42,245.07 226.35,246.26 224.25,246.38 C222.16,246.50 217.60,245.71 215.99,244.43 C214.37,243.15 214.65,240.52 214.56,238.70 C214.47,236.89 214.69,234.92 215.47,233.54 C216.24,232.16 217.57,231.35 219.20,230.44 C220.83,229.53 223.18,227.55 225.25,228.06 C227.32,228.57 230.64,231.80 231.60,233.50 C232.57,235.20 231.53,236.57 231.02,238.28Z"/><path d="M225.33,242.90 L226.08,243.58 L226.80,244.28 L227.50,245.00 L228.17,245.74 L228.82,246.49 L229.45,247.27 L230.05,248.07 L230.63,248.90 L231.19,249.74 L231.72,250.60 L233.08,250.98 L233.47,249.62 L232.96,248.68 L232.42,247.75 L231.85,246.84 L231.25,245.95 L230.63,245.08 L229.98,244.23 L229.31,243.39 L228.60,242.58 L227.87,241.78 L227.11,241.01Z"/><path d="M221.80,242.97 L221.72,244.18 L221.68,245.39 L221.67,246.59 L221.69,247.80 L221.74,249.00 L221.83,250.20 L221.95,251.39 L222.11,252.58 L222.29,253.77 L222.51,254.96 L223.67,255.78 L224.48,254.62 L224.33,253.48 L224.21,252.34 L224.12,251.20 L224.07,250.06 L224.04,248.92 L224.05,247.78 L224.08,246.64 L224.15,245.50 L224.25,244.36 L224.38,243.23Z"/><path d="M218.72,241.59 L218.15,242.74 L217.56,243.87 L216.93,244.98 L216.29,246.08 L215.61,247.17 L214.91,248.23 L214.18,249.28 L213.42,250.32 L212.64,251.34 L211.83,252.34 L211.93,253.75 L213.34,253.65 L214.23,252.65 L215.09,251.63 L215.92,250.59 L216.73,249.53 L217.52,248.45 L218.27,247.35 L219.00,246.24 L219.71,245.10 L220.39,243.94 L221.04,242.77Z"/><path d="M217.57,238.27 L216.52,238.53 L215.48,238.81 L214.45,239.13 L213.43,239.48 L212.43,239.86 L211.44,240.27 L210.47,240.71 L209.50,241.18 L208.55,241.68 L207.62,242.21 L207.22,243.57 L208.58,243.96 L209.49,243.51 L210.41,243.10 L211.34,242.71 L212.27,242.35 L213.22,242.02 L214.17,241.72 L215.14,241.45 L216.11,241.21 L217.09,241.00 L218.08,240.82Z"/><path d="M217.89,234.92 L216.76,234.78 L215.63,234.60 L214.51,234.39 L213.40,234.15 L212.29,233.88 L211.19,233.58 L210.10,233.25 L209.02,232.89 L207.94,232.49 L206.87,232.07 L205.55,232.58 L206.06,233.90 L207.16,234.40 L208.27,234.87 L209.39,235.31 L210.52,235.71 L211.66,236.09 L212.81,236.43 L213.97,236.75 L215.15,237.03 L216.33,237.28 L217.52,237.50Z"/><path d="M220.69,232.77 L219.96,231.65 L219.20,230.54 L218.42,229.46 L217.61,228.39 L216.78,227.35 L215.92,226.33 L215.04,225.33 L214.13,224.35 L213.20,223.39 L212.25,222.45 L210.83,222.45 L210.83,223.87 L211.71,224.81 L212.56,225.77 L213.39,226.75 L214.19,227.75 L214.97,228.76 L215.72,229.80 L216.44,230.85 L217.14,231.92 L217.81,233.01 L218.46,234.11Z"/><path d="M223.99,232.06 L223.79,231.07 L223.61,230.09 L223.47,229.10 L223.36,228.10 L223.28,227.11 L223.23,226.11 L223.21,225.10 L223.22,224.10 L223.27,223.09 L223.34,222.08 L222.47,220.97 L221.36,221.84 L221.22,222.91 L221.11,223.98 L221.03,225.05 L220.99,226.11 L220.98,227.19 L221.01,228.26 L221.06,229.33 L221.15,230.40 L221.28,231.47 L221.43,232.55Z"/><path d="M226.89,234.09 L227.66,233.15 L228.41,232.20 L229.13,231.23 L229.81,230.24 L230.48,229.24 L231.11,228.22 L231.71,227.18 L232.29,226.13 L232.84,225.05 L233.36,223.97 L232.90,222.63 L231.57,223.08 L231.02,224.09 L230.44,225.09 L229.84,226.06 L229.22,227.02 L228.57,227.95 L227.90,228.87 L227.20,229.77 L226.47,230.65 L225.72,231.51 L224.95,232.36Z"/><path d="M228.56,237.01 L229.70,236.42 L230.85,235.85 L232.01,235.31 L233.18,234.81 L234.36,234.33 L235.56,233.88 L236.77,233.45 L237.99,233.06 L239.22,232.70 L240.46,232.36 L241.21,231.16 L240.01,230.42 L238.71,230.70 L237.41,231.02 L236.12,231.37 L234.84,231.75 L233.58,232.16 L232.32,232.61 L231.07,233.08 L229.83,233.59 L228.60,234.13 L227.38,234.69Z"/><path d="M227.55,240.37 L228.55,240.78 L229.56,241.16 L230.58,241.51 L231.60,241.82 L232.64,242.10 L233.68,242.35 L234.73,242.57 L235.78,242.76 L236.85,242.91 L237.91,243.03 L239.03,242.17 L238.17,241.05 L237.17,240.88 L236.18,240.68 L235.20,240.44 L234.23,240.18 L233.27,239.89 L232.32,239.58 L231.39,239.23 L230.46,238.85 L229.54,238.44 L228.64,238.01Z"/></g>
<ellipse cx="223.9" cy="238.7" rx="5.4" ry="4.5" fill="#8f8bcf" transform="rotate(-25 223.9 238.7)"/>
</g>
<ellipse cx="416" cy="451.3" rx="159.4" ry="132.5" transform="rotate(-42.8 416 451.3)" fill="#d4ebf3" stroke="#b0d6e8" stroke-width="0.8"/>
<path d="M289.5,429.1 q2,-1.5 4,0 t4,0" fill="none" stroke="#6cc3b4" stroke-width="0.6" opacity="0.8"/>
<path d="M335.2,580.0 q2,-1.5 4,0 t4,0" fill="none" stroke="#6cc3b4" stroke-width="0.6" opacity="0.8"/>
<path d="M525.2,342.0 q2,-1.5 4,0 t4,0" fill="none" stroke="#6cc3b4" stroke-width="0.6" opacity="0.8"/>
<path d="M291.2,461.8 q2,-1.5 4,0 t4,0" fill="none" stroke="#6cc3b4" stroke-width="0.6" opacity="0.8"/>
<path d="M326.5,552.5 q2,-1.5 4,0 t4,0" fill="none" stroke="#6cc3b4" stroke-width="0.6" opacity="0.8"/>
<path d="M331.7,570.3 q2,-1.5 4,0 t4,0" fill="none" stroke="#6cc3b4" stroke-width="0.6" opacity="0.8"/>
<path d="M295.8,405.1 q2,-1.5 4,0 t4,0" fill="none" stroke="#6cc3b4" stroke-width="0.6" opacity="0.8"/>
<path d="M489.8,335.7 q2,-1.5 4,0 t4,0" fill="none" stroke="#6cc3b4" stroke-width="0.6" opacity="0.8"/>
<path d="M293.3,511.0 q2,-1.5 4,0 t4,0" fill="none" stroke="#6cc3b4" stroke-width="0.6" opacity="0.8"/>
<path d="M329.6,567.8 q2,-1.5 4,0 t4,0" fill="none" stroke="#6cc3b4" stroke-width="0.6" opacity="0.8"/>
<path d="M294.4,498.3 q2,-1.5 4,0 t4,0" fill="none" stroke="#6cc3b4" stroke-width="0.6" opacity="0.8"/>
<path d="M535.1,377.6 q2,-1.5 4,0 t4,0" fill="none" stroke="#6cc3b4" stroke-width="0.6" opacity="0.8"/>
<path d="M556.3,400.8 q2,-1.5 4,0 t4,0" fill="none" stroke="#6cc3b4" stroke-width="0.6" opacity="0.8"/>
<path d="M441.8,326.5 q2,-1.5 4,0 t4,0" fill="none" stroke="#6cc3b4" stroke-width="0.6" opacity="0.8"/>
<path d="M298.8,518.6 q2,-1.5 4,0 t4,0" fill="none" stroke="#6cc3b4" stroke-width="0.6" opacity="0.8"/>
<path d="M480.6,327.7 q2,-1.5 4,0 t4,0" fill="none" stroke="#6cc3b4" stroke-width="0.6" opacity="0.8"/>
<path d="M298.1,444.2 q2,-1.5 4,0 t4,0" fill="none" stroke="#6cc3b4" stroke-width="0.6" opacity="0.8"/>
<path d="M300.1,415.7 q2,-1.5 4,0 t4,0" fill="none" stroke="#6cc3b4" stroke-width="0.6" opacity="0.8"/>
<path d="M320.4,548.9 q2,-1.5 4,0 t4,0" fill="none" stroke="#6cc3b4" stroke-width="0.6" opacity="0.8"/>
<path d="M289.3,445.0 q2,-1.5 4,0 t4,0" fill="none" stroke="#6cc3b4" stroke-width="0.6" opacity="0.8"/>
<path d="M351.2,349.8 q2,-1.5 4,0 t4,0" fill="none" stroke="#6cc3b4" stroke-width="0.6" opacity="0.8"/>
<path d="M522.1,363.6 q2,-1.5 4,0 t4,0" fill="none" stroke="#6cc3b4" stroke-width="0.6" opacity="0.8"/>
<path d="M311.1,540.9 q2,-1.5 4,0 t4,0" fill="none" stroke="#6cc3b4" stroke-width="0.6" opacity="0.8"/>
<path d="M282.9,488.2 q2,-1.5 4,0 t4,0" fill="none" stroke="#6cc3b4" stroke-width="0.6" opacity="0.8"/>
<path d="M345.7,360.1 q2,-1.5 4,0 t4,0" fill="none" stroke="#6cc3b4" stroke-width="0.6" opacity="0.8"/>
<path d="M303.0,547.8 q2,-1.5 4,0 t4,0" fill="none" stroke="#6cc3b4" stroke-width="0.6" opacity="0.8"/>
<path d="M421.1,319.8 q2,-1.5 4,0 t4,0" fill="none" stroke="#6cc3b4" stroke-width="0.6" opacity="0.8"/>
<path d="M466.4,315.7 q2,-1.5 4,0 t4,0" fill="none" stroke="#6cc3b4" stroke-width="0.6" opacity="0.8"/>
<path d="M334.1,557.9 q2,-1.5 4,0 t4,0" fill="none" stroke="#6cc3b4" stroke-width="0.6" opacity="0.8"/>
<path d="M338.9,355.9 q2,-1.5 4,0 t4,0" fill="none" stroke="#6cc3b4" stroke-width="0.6" opacity="0.8"/>
<path d="M356.8,347.3 q2,-1.5 4,0 t4,0" fill="none" stroke="#6cc3b4" stroke-width="0.6" opacity="0.8"/>
<path d="M294.6,439.0 q2,-1.5 4,0 t4,0" fill="none" stroke="#6cc3b4" stroke-width="0.6" opacity="0.8"/>
<path d="M542.3,364.0 q2,-1.5 4,0 t4,0" fill="none" stroke="#6cc3b4" stroke-width="0.6" opacity="0.8"/>
<path d="M355.0,349.4 q2,-1.5 4,0 t4,0" fill="none" stroke="#6cc3b4" stroke-width="0.6" opacity="0.8"/>
<path d="M296.1,531.5 q2,-1.5 4,0 t4,0" fill="none" stroke="#6cc3b4" stroke-width="0.6" opacity="0.8"/>
<path d="M282.1,490.8 q2,-1.5 4,0 t4,0" fill="none" stroke="#6cc3b4" stroke-width="0.6" opacity="0.8"/>
<path d="M286.3,454.1 q2,-1.5 4,0 t4,0" fill="none" stroke="#6cc3b4" stroke-width="0.6" opacity="0.8"/>
<path d="M526.9,369.5 q2,-1.5 4,0 t4,0" fill="none" stroke="#6cc3b4" stroke-width="0.6" opacity="0.8"/>
<path d="M373.9,341.6 q2,-1.5 4,0 t4,0" fill="none" stroke="#6cc3b4" stroke-width="0.6" opacity="0.8"/>
<path d="M343.7,347.8 q2,-1.5 4,0 t4,0" fill="none" stroke="#6cc3b4" stroke-width="0.6" opacity="0.8"/>
<path d="M346.1,343.6 q2,-1.5 4,0 t4,0" fill="none" stroke="#6cc3b4" stroke-width="0.6" opacity="0.8"/>
<path d="M316.0,387.1 q2,-1.5 4,0 t4,0" fill="none" stroke="#6cc3b4" stroke-width="0.6" opacity="0.8"/>
<path d="M432.6,321.2 q2,-1.5 4,0 t4,0" fill="none" stroke="#6cc3b4" stroke-width="0.6" opacity="0.8"/>
<path d="M446.1,325.8 q2,-1.5 4,0 t4,0" fill="none" stroke="#6cc3b4" stroke-width="0.6" opacity="0.8"/>
<path d="M340.0,567.7 q2,-1.5 4,0 t4,0" fill="none" stroke="#6cc3b4" stroke-width="0.6" opacity="0.8"/>
<path d="M322.2,550.5 q2,-1.5 4,0 t4,0" fill="none" stroke="#6cc3b4" stroke-width="0.6" opacity="0.8"/>
<path d="M406.3,321.2 q2,-1.5 4,0 t4,0" fill="none" stroke="#6cc3b4" stroke-width="0.6" opacity="0.8"/>
<path d="M544.5,384.8 q2,-1.5 4,0 t4,0" fill="none" stroke="#6cc3b4" stroke-width="0.6" opacity="0.8"/>
<path d="M384.2,336.2 q2,-1.5 4,0 t4,0" fill="none" stroke="#6cc3b4" stroke-width="0.6" opacity="0.8"/>
<path d="M346.4,360.3 q2,-1.5 4,0 t4,0" fill="none" stroke="#6cc3b4" stroke-width="0.6" opacity="0.8"/>
<path d="M304.5,541.5 q2,-1.5 4,0 t4,0" fill="none" stroke="#6cc3b4" stroke-width="0.6" opacity="0.8"/>
<path d="M424.5,326.1 q2,-1.5 4,0 t4,0" fill="none" stroke="#6cc3b4" stroke-width="0.6" opacity="0.8"/>
<path d="M482.3,327.9 q2,-1.5 4,0 t4,0" fill="none" stroke="#6cc3b4" stroke-width="0.6" opacity="0.8"/>
<path d="M282.0,436.5 q2,-1.5 4,0 t4,0" fill="none" stroke="#6cc3b4" stroke-width="0.6" opacity="0.8"/>
<path d="M338.3,562.6 q2,-1.5 4,0 t4,0" fill="none" stroke="#6cc3b4" stroke-width="0.6" opacity="0.8"/>
<path d="M287.8,430.5 q2,-1.5 4,0 t4,0" fill="none" stroke="#6cc3b4" stroke-width="0.6" opacity="0.8"/>
<path d="M273.4,469.6 q2,-1.5 4,0 t4,0" fill="none" stroke="#6cc3b4" stroke-width="0.6" opacity="0.8"/>
<path d="M305.3,539.1 q2,-1.5 4,0 t4,0" fill="none" stroke="#6cc3b4" stroke-width="0.6" opacity="0.8"/>
<path d="M337.4,356.0 q2,-1.5 4,0 t4,0" fill="none" stroke="#6cc3b4" stroke-width="0.6" opacity="0.8"/>
<path d="M291.6,466.4 q2,-1.5 4,0 t4,0" fill="none" stroke="#6cc3b4" stroke-width="0.6" opacity="0.8"/>
<path d="M487.3,323.4 q2,-1.5 4,0 t4,0" fill="none" stroke="#6cc3b4" stroke-width="0.6" opacity="0.8"/>
<path d="M392.6,320.7 q2,-1.5 4,0 t4,0" fill="none" stroke="#6cc3b4" stroke-width="0.6" opacity="0.8"/>
<path d="M311.7,393.3 q2,-1.5 4,0 t4,0" fill="none" stroke="#6cc3b4" stroke-width="0.6" opacity="0.8"/>
<path d="M358.0,355.6 q2,-1.5 4,0 t4,0" fill="none" stroke="#6cc3b4" stroke-width="0.6" opacity="0.8"/>
<path d="M511.2,359.7 q2,-1.5 4,0 t4,0" fill="none" stroke="#6cc3b4" stroke-width="0.6" opacity="0.8"/>
<path d="M306.4,557.2 q2,-1.5 4,0 t4,0" fill="none" stroke="#6cc3b4" stroke-width="0.6" opacity="0.8"/>
<path d="M337.6,371.9 q2,-1.5 4,0 t4,0" fill="none" stroke="#6cc3b4" stroke-width="0.6" opacity="0.8"/>
<path d="M529.9,380.4 q2,-1.5 4,0 t4,0" fill="none" stroke="#6cc3b4" stroke-width="0.6" opacity="0.8"/>
<path d="M340.0,373.3 q2,-1.5 4,0 t4,0" fill="none" stroke="#6cc3b4" stroke-width="0.6" opacity="0.8"/>
<path d="M295.0,523.4 q2,-1.5 4,0 t4,0" fill="none" stroke="#6cc3b4" stroke-width="0.6" opacity="0.8"/>
<ellipse cx="423.7" cy="473.5" rx="132.8" ry="108" transform="rotate(-43.6 423.7 473.5)" fill="#f9dcdc" stroke="#f0c4c4" stroke-width="0.8"/>
<path d="M362.5,386.9 Q383.8,382.3 399.5,367.1 Q378.2,371.7 362.5,386.9Z" fill="#f2a9c2" stroke="#e58aaa" stroke-width="0.6" />
<ellipse cx="381.00" cy="377.00" rx="6.72" ry="1.80" fill="#e88fb0" stroke="none" stroke-width="1" transform="rotate(-28 381.00 377.00)" />
<path d="M305.6,451.8 Q316.6,437.9 318.4,420.2 Q307.4,434.1 305.6,451.8Z" fill="#f2a9c2" stroke="#e58aaa" stroke-width="0.6" />
<ellipse cx="312.00" cy="436.00" rx="5.44" ry="1.50" fill="#e88fb0" stroke="none" stroke-width="1" transform="rotate(-68 312.00 436.00)" />
<path d="M298.1,483.4 Q299.4,507.4 313.9,526.6 Q312.6,502.6 298.1,483.4Z" fill="#f2a9c2" stroke="#e58aaa" stroke-width="0.6" />
<ellipse cx="306.00" cy="505.00" rx="7.36" ry="2.10" fill="#e88fb0" stroke="none" stroke-width="1" transform="rotate(70 306.00 505.00)" />
<path d="M325.2,541.3 Q336.5,562.9 358.8,572.7 Q347.5,551.1 325.2,541.3Z" fill="#f2a9c2" stroke="#e58aaa" stroke-width="0.6" />
<ellipse cx="342.00" cy="557.00" rx="7.36" ry="2.40" fill="#e88fb0" stroke="none" stroke-width="1" transform="rotate(43 342.00 557.00)" />
<path d="M491.3,367.6 Q496.4,377.1 506.7,380.4 Q501.6,370.9 491.3,367.6Z" fill="#f2a9c2" stroke="#e58aaa" stroke-width="0.6" />
<ellipse cx="499.00" cy="374.00" rx="3.20" ry="1.20" fill="#e88fb0" stroke="none" stroke-width="1" transform="rotate(40 499.00 374.00)" />
<path d="M431.69,381.10 C431.69,382.54 430.04,384.00 429.42,385.42 C428.80,386.84 428.70,388.36 427.97,389.63 C427.24,390.89 426.13,392.01 425.03,393.02 C423.93,394.03 422.71,395.09 421.36,395.68 C420.01,396.28 418.44,396.25 416.93,396.59 C415.42,396.93 413.77,397.94 412.31,397.75 C410.85,397.55 409.50,396.18 408.16,395.42 C406.82,394.65 405.35,394.13 404.27,393.14 C403.18,392.15 402.67,390.68 401.66,389.48 C400.66,388.28 398.64,387.34 398.22,385.94 C397.80,384.54 398.85,382.63 399.14,381.10 C399.42,379.57 399.51,378.15 399.95,376.77 C400.39,375.39 401.11,374.14 401.79,372.80 C402.46,371.47 402.94,369.76 404.00,368.75 C405.06,367.74 406.77,367.52 408.14,366.74 C409.52,365.97 410.80,364.20 412.26,364.09 C413.71,363.99 415.28,365.83 416.86,366.10 C418.43,366.38 420.42,365.15 421.72,365.73 C423.02,366.32 423.67,368.43 424.67,369.60 C425.66,370.77 426.90,371.55 427.70,372.75 C428.50,373.94 428.78,375.38 429.45,376.77 C430.11,378.16 431.70,379.66 431.69,381.10Z" fill="#f2aeac" stroke="#e99c9c" stroke-width="0.5" fill-opacity="0.9"/>
<path d="M423.35,383.25 C422.89,385.36 421.50,387.09 420.00,388.46 C418.50,389.84 416.02,391.66 414.36,391.50 C412.69,391.34 410.96,389.33 410.00,387.52 C409.03,385.71 408.64,382.66 408.56,380.63 C408.49,378.60 407.98,376.36 409.55,375.35 C411.12,374.34 415.77,374.50 417.98,374.57 C420.19,374.64 421.89,374.33 422.79,375.77 C423.68,377.22 423.82,381.14 423.35,383.25Z" fill="#e38f90" stroke="none" stroke-width="1" opacity="0.9"/>
<circle cx="420.94" cy="371.80" r="0.35" fill="#e08a8c" stroke="none" stroke-width="1" />
<circle cx="422.14" cy="389.47" r="0.35" fill="#e08a8c" stroke="none" stroke-width="1" />
<circle cx="425.47" cy="378.01" r="0.35" fill="#e08a8c" stroke="none" stroke-width="1" />
<circle cx="415.55" cy="392.27" r="0.35" fill="#e08a8c" stroke="none" stroke-width="1" />
<circle cx="415.69" cy="392.26" r="0.35" fill="#e08a8c" stroke="none" stroke-width="1" />
<path d="M475.95,372.70 C475.90,374.15 475.79,375.49 475.65,377.00 C475.51,378.51 475.82,380.49 475.10,381.76 C474.38,383.03 472.58,383.71 471.33,384.63 C470.09,385.54 468.99,386.65 467.64,387.24 C466.29,387.83 464.72,387.86 463.22,388.15 C461.73,388.44 460.09,389.22 458.66,388.97 C457.23,388.72 455.87,387.48 454.64,386.63 C453.41,385.79 452.47,384.79 451.29,383.91 C450.11,383.03 448.66,382.41 447.56,381.34 C446.47,380.27 445.08,378.92 444.72,377.48 C444.36,376.04 445.34,374.28 445.37,372.70 C445.41,371.12 444.56,369.42 444.92,367.98 C445.28,366.54 446.59,365.26 447.54,364.05 C448.49,362.84 449.45,361.62 450.63,360.73 C451.80,359.84 453.24,359.23 454.61,358.71 C455.98,358.20 457.41,357.81 458.83,357.64 C460.26,357.46 461.61,357.76 463.16,357.67 C464.71,357.58 466.74,356.60 468.13,357.09 C469.51,357.59 470.60,359.35 471.46,360.63 C472.32,361.91 472.57,363.51 473.31,364.79 C474.05,366.07 475.46,367.01 475.90,368.32 C476.34,369.64 475.99,371.25 475.95,372.70Z" fill="#f2aeac" stroke="#e99c9c" stroke-width="0.5" fill-opacity="0.9"/>
<path d="M470.30,374.31 C470.13,376.06 469.61,379.15 468.13,380.46 C466.65,381.76 463.61,382.60 461.41,382.13 C459.22,381.66 456.28,379.45 454.95,377.62 C453.63,375.79 453.14,372.98 453.47,371.15 C453.81,369.33 455.32,367.55 456.97,366.67 C458.63,365.79 461.37,365.31 463.39,365.85 C465.42,366.39 467.99,368.51 469.14,369.92 C470.29,371.33 470.47,372.55 470.30,374.31Z" fill="#e38f90" stroke="none" stroke-width="1" opacity="0.9"/>
<circle cx="456.00" cy="382.72" r="0.35" fill="#e08a8c" stroke="none" stroke-width="1" />
<circle cx="462.64" cy="383.78" r="0.35" fill="#e08a8c" stroke="none" stroke-width="1" />
<circle cx="450.10" cy="375.30" r="0.35" fill="#e08a8c" stroke="none" stroke-width="1" />
<circle cx="450.90" cy="367.86" r="0.35" fill="#e08a8c" stroke="none" stroke-width="1" />
<circle cx="450.30" cy="376.02" r="0.35" fill="#e08a8c" stroke="none" stroke-width="1" />
<path d="M413.43,403.60 C413.31,404.97 411.63,406.37 410.86,407.61 C410.09,408.85 409.46,409.85 408.81,411.06 C408.17,412.27 407.81,413.72 406.98,414.88 C406.14,416.05 405.10,417.57 403.81,418.07 C402.52,418.56 400.72,417.72 399.25,417.86 C397.78,418.00 396.36,419.04 395.00,418.90 C393.64,418.76 392.37,417.64 391.07,417.02 C389.77,416.39 388.20,416.08 387.19,415.15 C386.18,414.22 385.76,412.65 384.99,411.44 C384.23,410.23 383.04,409.20 382.60,407.89 C382.15,406.58 382.26,405.01 382.33,403.60 C382.39,402.19 382.57,400.75 382.99,399.43 C383.41,398.10 384.18,396.93 384.85,395.66 C385.52,394.39 385.91,392.64 386.98,391.81 C388.06,390.98 389.99,391.40 391.30,390.69 C392.62,389.98 393.56,387.80 394.89,387.55 C396.22,387.30 397.86,388.77 399.27,389.19 C400.68,389.61 402.10,389.55 403.37,390.09 C404.64,390.63 405.98,391.42 406.88,392.43 C407.78,393.44 407.98,395.01 408.76,396.17 C409.55,397.33 410.79,398.14 411.57,399.38 C412.35,400.62 413.55,402.23 413.43,403.60Z" fill="#f2aeac" stroke="#e99c9c" stroke-width="0.5" fill-opacity="0.9"/>
<path d="M404.67,406.56 C404.49,408.33 403.80,410.26 402.37,411.14 C400.94,412.03 397.80,412.40 396.09,411.88 C394.37,411.36 392.95,409.60 392.09,408.02 C391.23,406.43 390.75,403.86 390.94,402.37 C391.13,400.87 391.82,399.78 393.24,399.06 C394.66,398.33 397.76,397.77 399.46,398.01 C401.16,398.25 402.55,399.05 403.42,400.47 C404.29,401.89 404.84,404.78 404.67,406.56Z" fill="#e38f90" stroke="none" stroke-width="1" opacity="0.9"/>
<circle cx="405.42" cy="410.13" r="0.35" fill="#e08a8c" stroke="none" stroke-width="1" />
<circle cx="407.44" cy="401.29" r="0.35" fill="#e08a8c" stroke="none" stroke-width="1" />
<circle cx="390.44" cy="411.63" r="0.35" fill="#e08a8c" stroke="none" stroke-width="1" />
<circle cx="386.80" cy="402.17" r="0.35" fill="#e08a8c" stroke="none" stroke-width="1" />
<circle cx="401.60" cy="413.13" r="0.35" fill="#e08a8c" stroke="none" stroke-width="1" />
<path d="M362.30,422.30 C362.23,423.87 362.30,425.45 361.93,426.95 C361.56,428.44 360.91,429.98 360.07,431.28 C359.22,432.57 357.99,433.59 356.87,434.73 C355.75,435.87 354.71,437.39 353.32,438.11 C351.93,438.84 350.08,439.14 348.51,439.07 C346.94,438.99 345.42,437.99 343.89,437.65 C342.37,437.32 340.76,437.57 339.36,437.06 C337.95,436.55 336.68,435.54 335.45,434.59 C334.22,433.64 333.17,432.55 331.98,431.37 C330.79,430.20 328.74,429.03 328.33,427.52 C327.93,426.00 329.45,424.02 329.53,422.30 C329.61,420.58 328.36,418.71 328.80,417.22 C329.24,415.73 331.19,414.69 332.17,413.35 C333.15,412.00 333.53,410.19 334.69,409.13 C335.84,408.07 337.61,407.64 339.10,406.96 C340.58,406.28 342.07,405.18 343.62,405.06 C345.17,404.95 346.81,405.98 348.41,406.26 C350.00,406.55 351.79,406.15 353.19,406.77 C354.59,407.39 355.51,408.96 356.79,409.97 C358.06,410.98 359.91,411.57 360.84,412.83 C361.77,414.09 362.11,415.95 362.35,417.53 C362.60,419.11 362.37,420.73 362.30,422.30Z" fill="#f2aeac" stroke="#e99c9c" stroke-width="0.5" fill-opacity="0.9"/>
<path d="M356.81,425.12 C356.63,427.07 354.81,429.67 352.78,430.79 C350.75,431.91 346.91,432.25 344.63,431.85 C342.36,431.44 339.94,430.11 339.12,428.36 C338.31,426.61 339.54,423.46 339.74,421.36 C339.93,419.26 338.76,416.77 340.29,415.76 C341.82,414.75 346.67,414.75 348.92,415.30 C351.18,415.85 352.52,417.42 353.84,419.05 C355.15,420.69 356.98,423.16 356.81,425.12Z" fill="#e38f90" stroke="none" stroke-width="1" opacity="0.9"/>
<circle cx="352.17" cy="432.54" r="0.35" fill="#e08a8c" stroke="none" stroke-width="1" />
<circle cx="357.58" cy="419.18" r="0.35" fill="#e08a8c" stroke="none" stroke-width="1" />
<circle cx="356.68" cy="416.86" r="0.35" fill="#e08a8c" stroke="none" stroke-width="1" />
<circle cx="343.28" cy="410.74" r="0.35" fill="#e08a8c" stroke="none" stroke-width="1" />
<circle cx="337.59" cy="430.62" r="0.35" fill="#e08a8c" stroke="none" stroke-width="1" />
<path d="M388.38,437.30 C388.44,438.50 388.68,439.79 388.40,440.94 C388.13,442.09 387.39,443.18 386.73,444.20 C386.07,445.21 385.40,446.37 384.44,447.04 C383.48,447.71 382.08,447.73 380.98,448.20 C379.87,448.68 378.97,449.40 377.81,449.89 C376.65,450.38 375.17,451.35 374.01,451.14 C372.85,450.92 371.99,449.20 370.83,448.61 C369.68,448.02 368.02,448.32 367.08,447.59 C366.14,446.87 365.80,445.35 365.19,444.24 C364.59,443.14 363.78,442.14 363.44,440.99 C363.11,439.83 363.06,438.49 363.19,437.30 C363.33,436.11 363.94,435.02 364.26,433.85 C364.58,432.69 364.52,431.29 365.13,430.31 C365.74,429.33 366.97,428.69 367.92,427.98 C368.88,427.27 369.85,426.79 370.87,426.07 C371.89,425.35 372.89,423.85 374.04,423.67 C375.19,423.49 376.49,424.80 377.77,424.99 C379.04,425.19 380.58,424.40 381.69,424.84 C382.80,425.27 383.61,426.63 384.42,427.58 C385.24,428.52 385.96,429.48 386.56,430.51 C387.17,431.54 387.75,432.63 388.05,433.76 C388.35,434.89 388.32,436.10 388.38,437.30Z" fill="#f2aeac" stroke="#e99c9c" stroke-width="0.5" fill-opacity="0.9"/>
<path d="M382.80,439.93 C382.51,441.52 382.17,443.01 380.90,443.78 C379.63,444.55 376.72,444.76 375.15,444.55 C373.58,444.34 372.45,443.68 371.50,442.49 C370.55,441.31 369.14,439.17 369.45,437.43 C369.77,435.69 372.12,433.19 373.40,432.05 C374.68,430.90 375.59,430.18 377.13,430.55 C378.67,430.92 381.72,432.69 382.66,434.25 C383.61,435.82 383.09,438.34 382.80,439.93Z" fill="#e38f90" stroke="none" stroke-width="1" opacity="0.9"/>
<circle cx="382.90" cy="443.23" r="0.35" fill="#e08a8c" stroke="none" stroke-width="1" />
<circle cx="367.31" cy="434.61" r="0.35" fill="#e08a8c" stroke="none" stroke-width="1" />
<circle cx="367.17" cy="435.10" r="0.35" fill="#e08a8c" stroke="none" stroke-width="1" />
<circle cx="385.07" cy="438.00" r="0.35" fill="#e08a8c" stroke="none" stroke-width="1" />
<circle cx="384.05" cy="441.55" r="0.35" fill="#e08a8c" stroke="none" stroke-width="1" />
<path d="M339.67,452.20 C339.61,453.30 338.73,454.31 338.45,455.45 C338.18,456.58 338.63,458.14 338.03,459.03 C337.43,459.93 335.76,460.05 334.86,460.81 C333.95,461.57 333.57,463.14 332.60,463.59 C331.63,464.03 330.15,463.57 329.02,463.49 C327.90,463.40 326.92,463.18 325.84,463.07 C324.76,462.96 323.69,463.02 322.54,462.84 C321.39,462.66 319.73,462.72 318.91,461.99 C318.10,461.26 318.30,459.49 317.66,458.46 C317.02,457.43 315.42,456.87 315.06,455.82 C314.69,454.78 315.32,453.36 315.47,452.20 C315.62,451.04 315.62,449.90 315.95,448.84 C316.28,447.77 316.85,446.76 317.44,445.80 C318.03,444.84 318.62,443.76 319.48,443.06 C320.33,442.36 321.51,441.91 322.57,441.62 C323.63,441.34 324.76,441.56 325.84,441.36 C326.93,441.17 328.03,440.40 329.09,440.46 C330.15,440.52 331.22,441.20 332.19,441.72 C333.15,442.24 333.90,442.97 334.87,443.58 C335.83,444.19 337.32,444.52 337.98,445.40 C338.64,446.28 338.53,447.72 338.81,448.85 C339.10,449.98 339.73,451.10 339.67,452.20Z" fill="#f2aeac" stroke="#e99c9c" stroke-width="0.5" fill-opacity="0.9"/>
<path d="M335.48,453.39 C335.38,454.76 334.37,457.09 332.91,458.14 C331.45,459.19 328.24,459.88 326.73,459.69 C325.21,459.50 324.70,458.35 323.82,457.02 C322.94,455.68 321.27,453.18 321.45,451.67 C321.64,450.16 323.63,448.69 324.90,447.94 C326.18,447.19 327.66,446.85 329.10,447.18 C330.54,447.51 332.48,448.87 333.54,449.91 C334.61,450.94 335.59,452.02 335.48,453.39Z" fill="#e38f90" stroke="none" stroke-width="1" opacity="0.9"/>
<circle cx="319.39" cy="449.68" r="0.35" fill="#e08a8c" stroke="none" stroke-width="1" />
<circle cx="323.42" cy="459.60" r="0.35" fill="#e08a8c" stroke="none" stroke-width="1" />
<circle cx="323.90" cy="444.56" r="0.35" fill="#e08a8c" stroke="none" stroke-width="1" />
<circle cx="322.01" cy="445.76" r="0.35" fill="#e08a8c" stroke="none" stroke-width="1" />
<circle cx="329.50" cy="460.33" r="0.35" fill="#e08a8c" stroke="none" stroke-width="1" />
<path d="M447.74,429.80 C447.73,431.24 446.14,432.67 445.57,434.11 C445.00,435.55 445.05,437.16 444.32,438.43 C443.60,439.70 442.46,440.95 441.23,441.72 C440.00,442.49 438.30,442.49 436.95,443.05 C435.59,443.60 434.48,444.65 433.10,445.07 C431.71,445.49 430.06,445.77 428.64,445.55 C427.21,445.33 425.85,444.41 424.53,443.76 C423.20,443.10 421.75,442.56 420.66,441.62 C419.57,440.67 418.75,439.34 418.00,438.09 C417.25,436.84 416.58,435.51 416.18,434.12 C415.78,432.74 415.80,431.30 415.59,429.80 C415.38,428.30 414.56,426.52 414.91,425.11 C415.27,423.70 416.83,422.59 417.74,421.34 C418.65,420.10 419.22,418.55 420.35,417.62 C421.48,416.70 423.10,416.25 424.50,415.78 C425.90,415.32 427.31,415.06 428.75,414.84 C430.18,414.61 431.58,414.50 433.11,414.44 C434.64,414.37 436.56,413.87 437.91,414.45 C439.26,415.02 440.03,416.84 441.23,417.88 C442.42,418.92 444.35,419.41 445.10,420.68 C445.84,421.94 445.24,423.94 445.68,425.46 C446.13,426.98 447.76,428.36 447.74,429.80Z" fill="#f2aeac" stroke="#e99c9c" stroke-width="0.5" fill-opacity="0.9"/>
<path d="M440.02,433.22 C439.68,435.37 438.64,436.36 436.93,437.50 C435.21,438.65 431.57,440.42 429.72,440.09 C427.88,439.75 426.69,437.17 425.85,435.48 C425.02,433.80 424.59,432.09 424.70,429.99 C424.82,427.89 425.28,424.23 426.57,422.88 C427.86,421.52 430.39,421.57 432.46,421.85 C434.52,422.14 437.69,422.70 438.95,424.59 C440.21,426.49 440.35,431.07 440.02,433.22Z" fill="#e38f90" stroke="none" stroke-width="1" opacity="0.9"/>
<circle cx="423.71" cy="421.21" r="0.35" fill="#e08a8c" stroke="none" stroke-width="1" />
<circle cx="441.77" cy="432.49" r="0.35" fill="#e08a8c" stroke="none" stroke-width="1" />
<circle cx="421.51" cy="435.90" r="0.35" fill="#e08a8c" stroke="none" stroke-width="1" />
<circle cx="429.38" cy="440.90" r="0.35" fill="#e08a8c" stroke="none" stroke-width="1" />
<circle cx="439.43" cy="422.54" r="0.35" fill="#e08a8c" stroke="none" stroke-width="1" />
<path d="M423.82,449.70 C423.81,450.82 423.83,451.94 423.62,453.05 C423.41,454.16 423.17,455.42 422.57,456.36 C421.97,457.31 420.92,458.01 420.03,458.73 C419.14,459.45 418.24,460.25 417.22,460.69 C416.19,461.12 414.97,461.35 413.87,461.34 C412.78,461.33 411.72,460.80 410.63,460.63 C409.54,460.46 408.29,460.75 407.35,460.32 C406.41,459.88 405.83,458.73 405.00,458.01 C404.16,457.30 402.91,456.90 402.34,456.04 C401.77,455.17 401.92,453.87 401.58,452.82 C401.23,451.76 400.38,450.78 400.26,449.70 C400.14,448.62 400.46,447.40 400.84,446.37 C401.23,445.33 401.88,444.36 402.56,443.50 C403.23,442.65 404.09,442.01 404.87,441.25 C405.66,440.48 406.35,439.53 407.28,438.92 C408.20,438.30 409.36,437.63 410.45,437.55 C411.54,437.47 412.69,438.25 413.82,438.43 C414.95,438.61 416.24,438.23 417.25,438.63 C418.27,439.03 418.91,440.15 419.89,440.83 C420.87,441.50 422.53,441.74 423.16,442.66 C423.79,443.57 423.58,445.15 423.68,446.33 C423.79,447.50 423.83,448.58 423.82,449.70Z" fill="#f2aeac" stroke="#e99c9c" stroke-width="0.5" fill-opacity="0.9"/>
<path d="M419.61,450.78 C419.38,452.04 418.95,454.24 417.61,455.16 C416.26,456.08 413.20,456.53 411.51,456.30 C409.82,456.07 408.06,454.94 407.48,453.77 C406.90,452.61 407.65,450.70 408.05,449.30 C408.44,447.90 408.80,446.15 409.84,445.40 C410.88,444.65 412.77,444.42 414.28,444.79 C415.80,445.16 418.07,446.61 418.96,447.61 C419.84,448.61 419.83,449.52 419.61,450.78Z" fill="#e38f90" stroke="none" stroke-width="1" opacity="0.9"/>
<circle cx="419.87" cy="453.13" r="0.35" fill="#e08a8c" stroke="none" stroke-width="1" />
<circle cx="403.80" cy="449.84" r="0.35" fill="#e08a8c" stroke="none" stroke-width="1" />
<circle cx="412.55" cy="458.09" r="0.35" fill="#e08a8c" stroke="none" stroke-width="1" />
<circle cx="420.52" cy="448.54" r="0.35" fill="#e08a8c" stroke="none" stroke-width="1" />
<circle cx="405.96" cy="444.07" r="0.35" fill="#e08a8c" stroke="none" stroke-width="1" />
<path d="M400.26,466.00 C400.15,467.37 400.06,468.75 399.64,470.01 C399.23,471.27 398.47,472.41 397.77,473.56 C397.07,474.71 396.45,476.06 395.45,476.90 C394.45,477.75 392.99,478.00 391.77,478.63 C390.54,479.25 389.45,480.06 388.11,480.65 C386.76,481.24 385.05,482.37 383.67,482.18 C382.30,481.99 381.13,480.25 379.84,479.49 C378.55,478.73 376.95,478.56 375.93,477.63 C374.90,476.70 374.39,475.15 373.69,473.91 C372.99,472.67 372.11,471.51 371.73,470.19 C371.35,468.87 371.29,467.36 371.40,466.00 C371.51,464.64 371.98,463.30 372.40,462.01 C372.83,460.72 373.20,459.34 373.95,458.25 C374.70,457.17 375.92,456.46 376.90,455.50 C377.89,454.55 378.66,453.04 379.85,452.53 C381.04,452.02 382.67,452.63 384.05,452.44 C385.43,452.24 386.76,451.34 388.10,451.37 C389.45,451.39 390.92,451.94 392.13,452.58 C393.33,453.22 394.31,454.30 395.34,455.22 C396.38,456.13 397.52,456.97 398.34,458.07 C399.17,459.16 399.98,460.48 400.30,461.80 C400.62,463.12 400.37,464.63 400.26,466.00Z" fill="#f2aeac" stroke="#e99c9c" stroke-width="0.5" fill-opacity="0.9"/>
<path d="M394.00,468.23 C393.79,470.22 393.12,473.26 391.94,474.34 C390.76,475.41 388.68,475.14 386.91,474.68 C385.13,474.22 382.73,473.25 381.32,471.59 C379.90,469.92 378.12,466.54 378.41,464.69 C378.70,462.84 381.33,461.21 383.06,460.49 C384.79,459.77 387.09,460.04 388.78,460.36 C390.47,460.68 392.34,461.08 393.21,462.39 C394.08,463.71 394.21,466.24 394.00,468.23Z" fill="#e38f90" stroke="none" stroke-width="1" opacity="0.9"/>
<circle cx="396.25" cy="463.74" r="0.35" fill="#e08a8c" stroke="none" stroke-width="1" />
<circle cx="396.13" cy="468.77" r="0.35" fill="#e08a8c" stroke="none" stroke-width="1" />
<circle cx="376.81" cy="460.91" r="0.35" fill="#e08a8c" stroke="none" stroke-width="1" />
<circle cx="387.70" cy="476.36" r="0.35" fill="#e08a8c" stroke="none" stroke-width="1" />
<circle cx="382.28" cy="475.82" r="0.35" fill="#e08a8c" stroke="none" stroke-width="1" />
<path d="M338.60,475.90 C338.65,477.27 338.32,478.78 337.80,480.04 C337.29,481.30 336.29,482.37 335.50,483.48 C334.71,484.59 334.08,485.90 333.06,486.71 C332.04,487.51 330.59,487.73 329.38,488.33 C328.16,488.94 327.10,489.76 325.78,490.34 C324.45,490.92 322.79,491.95 321.41,491.81 C320.03,491.67 318.77,490.23 317.50,489.48 C316.22,488.74 314.78,488.30 313.78,487.35 C312.78,486.39 312.05,485.00 311.50,483.74 C310.95,482.48 310.91,481.08 310.50,479.78 C310.08,478.47 309.29,477.28 309.01,475.90 C308.72,474.52 308.38,472.84 308.78,471.52 C309.18,470.20 310.61,469.22 311.39,467.99 C312.17,466.75 312.46,465.04 313.48,464.10 C314.50,463.17 316.16,462.76 317.52,462.37 C318.89,461.98 320.28,461.96 321.67,461.75 C323.05,461.55 324.44,461.06 325.82,461.14 C327.20,461.22 328.74,461.58 329.94,462.24 C331.14,462.90 331.94,464.23 333.03,465.13 C334.13,466.03 335.78,466.54 336.52,467.66 C337.27,468.78 337.14,470.48 337.49,471.85 C337.84,473.22 338.55,474.53 338.60,475.90Z" fill="#f2aeac" stroke="#e99c9c" stroke-width="0.5" fill-opacity="0.9"/>
<path d="M333.49,477.49 C332.97,479.33 329.73,481.52 327.91,482.76 C326.10,484.00 324.08,485.30 322.61,484.94 C321.15,484.57 320.01,482.20 319.14,480.55 C318.27,478.91 317.17,476.79 317.42,475.05 C317.66,473.32 319.09,471.20 320.62,470.15 C322.15,469.11 324.85,468.52 326.59,468.78 C328.33,469.04 329.90,470.27 331.05,471.72 C332.21,473.17 334.02,475.65 333.49,477.49Z" fill="#e38f90" stroke="none" stroke-width="1" opacity="0.9"/>
<circle cx="313.82" cy="479.46" r="0.35" fill="#e08a8c" stroke="none" stroke-width="1" />
<circle cx="313.32" cy="477.48" r="0.35" fill="#e08a8c" stroke="none" stroke-width="1" />
<circle cx="314.68" cy="481.27" r="0.35" fill="#e08a8c" stroke="none" stroke-width="1" />
<circle cx="333.18" cy="480.42" r="0.35" fill="#e08a8c" stroke="none" stroke-width="1" />
<circle cx="333.06" cy="480.65" r="0.35" fill="#e08a8c" stroke="none" stroke-width="1" />
<path d="M387.49,489.60 C387.52,490.97 386.76,492.36 386.36,493.73 C385.96,495.10 385.82,496.64 385.10,497.82 C384.37,499.00 383.05,499.78 382.01,500.81 C380.98,501.84 380.16,503.52 378.88,504.01 C377.60,504.51 375.80,503.65 374.34,503.79 C372.88,503.93 371.48,504.97 370.11,504.86 C368.74,504.75 367.40,503.77 366.12,503.13 C364.85,502.48 363.48,501.91 362.44,500.98 C361.40,500.05 360.55,498.79 359.90,497.57 C359.26,496.34 358.86,494.96 358.56,493.64 C358.25,492.31 358.39,491.04 358.07,489.60 C357.75,488.16 356.35,486.34 356.62,485.00 C356.89,483.65 358.84,482.75 359.71,481.51 C360.58,480.27 360.75,478.38 361.84,477.53 C362.93,476.68 364.88,476.81 366.27,476.40 C367.67,475.99 368.86,475.31 370.21,475.07 C371.57,474.83 372.98,474.90 374.40,474.98 C375.82,475.06 377.48,474.93 378.73,475.53 C379.97,476.12 380.78,477.59 381.88,478.54 C382.98,479.49 384.62,480.06 385.34,481.22 C386.06,482.38 385.82,484.13 386.18,485.53 C386.54,486.92 387.46,488.23 387.49,489.60Z" fill="#f2aeac" stroke="#e99c9c" stroke-width="0.5" fill-opacity="0.9"/>
<path d="M381.25,491.34 C381.17,493.41 380.32,495.99 378.83,497.09 C377.33,498.19 374.42,498.32 372.27,497.94 C370.11,497.55 367.07,496.36 365.92,494.79 C364.77,493.22 364.99,490.15 365.38,488.51 C365.77,486.88 366.85,486.04 368.27,484.98 C369.69,483.92 372.07,482.20 373.91,482.14 C375.75,482.08 378.09,483.09 379.31,484.62 C380.54,486.15 381.33,489.26 381.25,491.34Z" fill="#e38f90" stroke="none" stroke-width="1" opacity="0.9"/>
<circle cx="381.14" cy="483.94" r="0.35" fill="#e08a8c" stroke="none" stroke-width="1" />
<circle cx="367.62" cy="499.00" r="0.35" fill="#e08a8c" stroke="none" stroke-width="1" />
<circle cx="381.70" cy="494.27" r="0.35" fill="#e08a8c" stroke="none" stroke-width="1" />
<circle cx="370.35" cy="499.92" r="0.35" fill="#e08a8c" stroke="none" stroke-width="1" />
<circle cx="378.96" cy="481.48" r="0.35" fill="#e08a8c" stroke="none" stroke-width="1" />
<path d="M411.60,489.60 C411.54,490.71 411.04,491.71 410.87,492.88 C410.69,494.04 411.15,495.66 410.57,496.58 C409.98,497.51 408.34,497.78 407.36,498.44 C406.38,499.10 405.69,500.09 404.69,500.53 C403.69,500.97 402.45,501.06 401.35,501.10 C400.25,501.15 399.17,500.95 398.09,500.80 C397.01,500.66 395.92,500.53 394.85,500.21 C393.78,499.89 392.46,499.62 391.66,498.88 C390.86,498.15 390.48,496.83 390.04,495.81 C389.60,494.79 389.38,493.77 389.03,492.73 C388.67,491.70 387.90,490.64 387.90,489.60 C387.90,488.56 388.68,487.50 389.03,486.47 C389.39,485.43 389.62,484.44 390.05,483.40 C390.47,482.35 390.79,481.00 391.57,480.22 C392.35,479.43 393.68,479.30 394.73,478.71 C395.77,478.12 396.75,476.75 397.84,476.69 C398.94,476.63 400.16,478.06 401.32,478.34 C402.48,478.62 403.83,477.97 404.82,478.38 C405.82,478.80 406.57,479.98 407.30,480.83 C408.02,481.69 408.52,482.61 409.17,483.51 C409.82,484.41 410.80,485.21 411.20,486.22 C411.61,487.24 411.65,488.49 411.60,489.60Z" fill="#f2aeac" stroke="#e99c9c" stroke-width="0.5" fill-opacity="0.9"/>
<path d="M406.98,491.54 C406.67,492.94 404.90,494.72 403.75,495.66 C402.60,496.60 401.37,497.42 400.07,497.17 C398.76,496.92 396.78,495.38 395.90,494.17 C395.03,492.95 394.75,491.28 394.82,489.88 C394.90,488.49 395.08,486.73 396.35,485.79 C397.62,484.85 400.90,483.99 402.45,484.24 C403.99,484.49 404.86,486.06 405.62,487.27 C406.37,488.49 407.29,490.14 406.98,491.54Z" fill="#e38f90" stroke="none" stroke-width="1" opacity="0.9"/>
<circle cx="402.23" cy="481.59" r="0.35" fill="#e08a8c" stroke="none" stroke-width="1" />
<circle cx="402.99" cy="481.87" r="0.35" fill="#e08a8c" stroke="none" stroke-width="1" />
<circle cx="404.84" cy="496.25" r="0.35" fill="#e08a8c" stroke="none" stroke-width="1" />
<circle cx="398.58" cy="497.92" r="0.35" fill="#e08a8c" stroke="none" stroke-width="1" />
<circle cx="391.31" cy="489.30" r="0.35" fill="#e08a8c" stroke="none" stroke-width="1" />
<path d="M452.54,447.20 C452.51,448.39 451.91,449.53 451.63,450.73 C451.35,451.94 451.46,453.40 450.86,454.44 C450.27,455.47 449.10,456.36 448.05,456.95 C446.99,457.54 445.63,457.51 444.52,457.98 C443.42,458.46 442.53,459.55 441.41,459.81 C440.30,460.07 438.99,459.76 437.83,459.54 C436.66,459.33 435.61,458.87 434.44,458.51 C433.26,458.14 431.70,458.11 430.79,457.36 C429.89,456.61 429.65,455.08 429.02,454.00 C428.39,452.92 427.32,452.03 427.00,450.90 C426.67,449.77 426.91,448.39 427.06,447.20 C427.22,446.01 427.61,444.91 427.92,443.77 C428.23,442.63 428.31,441.31 428.92,440.34 C429.54,439.37 430.68,438.70 431.60,437.97 C432.53,437.24 433.42,436.39 434.46,435.95 C435.51,435.52 436.75,435.53 437.90,435.35 C439.05,435.18 440.25,434.75 441.37,434.90 C442.48,435.06 443.52,435.81 444.59,436.28 C445.66,436.75 446.86,437.06 447.80,437.74 C448.74,438.42 449.55,439.40 450.22,440.38 C450.88,441.36 451.41,442.48 451.80,443.62 C452.19,444.75 452.57,446.01 452.54,447.20Z" fill="#f2aeac" stroke="#e99c9c" stroke-width="0.5" fill-opacity="0.9"/>
<path d="M446.46,449.88 C445.97,451.51 444.71,452.71 443.55,453.68 C442.40,454.65 440.92,455.90 439.55,455.69 C438.18,455.49 436.43,453.76 435.33,452.45 C434.22,451.14 432.51,449.43 432.91,447.83 C433.32,446.22 436.41,443.88 437.73,442.82 C439.06,441.77 439.38,441.32 440.85,441.50 C442.31,441.68 445.58,442.49 446.51,443.89 C447.45,445.29 446.96,448.24 446.46,449.88Z" fill="#e38f90" stroke="none" stroke-width="1" opacity="0.9"/>
<circle cx="438.53" cy="438.16" r="0.35" fill="#e08a8c" stroke="none" stroke-width="1" />
<circle cx="442.44" cy="455.85" r="0.35" fill="#e08a8c" stroke="none" stroke-width="1" />
<circle cx="441.93" cy="438.40" r="0.35" fill="#e08a8c" stroke="none" stroke-width="1" />
<circle cx="445.14" cy="454.42" r="0.35" fill="#e08a8c" stroke="none" stroke-width="1" />
<circle cx="432.33" cy="452.67" r="0.35" fill="#e08a8c" stroke="none" stroke-width="1" />
<path d="M450.49,492.10 C450.51,493.36 450.24,494.60 450.04,495.90 C449.83,497.20 449.97,498.87 449.27,499.92 C448.57,500.97 446.96,501.50 445.85,502.20 C444.73,502.89 443.72,503.52 442.59,504.11 C441.46,504.71 440.29,505.62 439.07,505.78 C437.84,505.95 436.52,505.26 435.23,505.08 C433.95,504.89 432.64,505.01 431.35,504.68 C430.07,504.35 428.54,503.97 427.55,503.13 C426.55,502.28 426.06,500.79 425.41,499.62 C424.75,498.44 423.95,497.32 423.59,496.07 C423.23,494.81 423.17,493.39 423.26,492.10 C423.36,490.81 423.77,489.53 424.16,488.30 C424.55,487.07 425.06,485.94 425.60,484.71 C426.13,483.47 426.40,481.70 427.37,480.88 C428.35,480.06 430.16,480.02 431.48,479.78 C432.79,479.55 434.02,479.68 435.28,479.45 C436.55,479.23 437.85,478.33 439.06,478.45 C440.27,478.57 441.42,479.58 442.55,480.17 C443.67,480.77 444.67,481.36 445.84,482.02 C447.00,482.67 448.85,483.06 449.53,484.11 C450.22,485.16 449.79,487.00 449.95,488.33 C450.11,489.66 450.48,490.84 450.49,492.10Z" fill="#f2aeac" stroke="#e99c9c" stroke-width="0.5" fill-opacity="0.9"/>
<path d="M444.87,494.01 C444.47,495.64 442.82,498.26 441.65,499.41 C440.49,500.57 439.29,501.21 437.90,500.92 C436.50,500.63 434.53,499.01 433.31,497.68 C432.08,496.35 430.38,494.78 430.54,492.93 C430.70,491.09 432.93,487.93 434.28,486.62 C435.63,485.31 437.00,484.58 438.64,485.08 C440.27,485.59 443.04,488.16 444.08,489.65 C445.12,491.13 445.27,492.38 444.87,494.01Z" fill="#e38f90" stroke="none" stroke-width="1" opacity="0.9"/>
<circle cx="445.58" cy="497.01" r="0.35" fill="#e08a8c" stroke="none" stroke-width="1" />
<circle cx="428.49" cy="496.78" r="0.35" fill="#e08a8c" stroke="none" stroke-width="1" />
<circle cx="445.44" cy="486.95" r="0.35" fill="#e08a8c" stroke="none" stroke-width="1" />
<circle cx="427.72" cy="489.28" r="0.35" fill="#e08a8c" stroke="none" stroke-width="1" />
<circle cx="437.70" cy="482.32" r="0.35" fill="#e08a8c" stroke="none" stroke-width="1" />
<path d="M477.54,409.80 C477.53,411.16 477.61,412.48 477.45,413.87 C477.28,415.25 477.32,417.02 476.56,418.13 C475.81,419.25 474.09,419.77 472.92,420.56 C471.76,421.35 470.78,422.24 469.57,422.88 C468.37,423.53 467.07,424.04 465.71,424.44 C464.34,424.84 462.73,425.52 461.38,425.27 C460.02,425.03 458.80,423.72 457.59,422.96 C456.38,422.20 455.15,421.63 454.13,420.73 C453.10,419.84 452.22,418.74 451.45,417.61 C450.67,416.48 449.84,415.25 449.48,413.95 C449.11,412.65 449.11,411.15 449.23,409.80 C449.35,408.45 449.88,407.20 450.20,405.86 C450.51,404.53 450.65,403.16 451.13,401.79 C451.61,400.42 452.01,398.54 453.07,397.64 C454.13,396.75 456.07,396.76 457.49,396.42 C458.90,396.08 460.20,395.73 461.56,395.59 C462.92,395.46 464.24,395.56 465.64,395.60 C467.05,395.64 468.70,395.34 469.98,395.83 C471.26,396.33 472.28,397.59 473.34,398.56 C474.40,399.52 475.65,400.42 476.34,401.62 C477.02,402.81 477.28,404.36 477.48,405.73 C477.68,407.09 477.54,408.44 477.54,409.80Z" fill="#f2aeac" stroke="#e99c9c" stroke-width="0.5" fill-opacity="0.9"/>
<path d="M472.62,411.95 C472.42,413.95 471.36,416.42 470.01,417.72 C468.67,419.01 466.65,420.12 464.55,419.74 C462.46,419.36 458.60,417.20 457.45,415.42 C456.31,413.65 457.21,411.04 457.70,409.11 C458.20,407.17 459.20,404.96 460.41,403.80 C461.62,402.64 463.18,401.84 464.98,402.16 C466.78,402.49 469.93,404.11 471.20,405.74 C472.48,407.38 472.82,409.96 472.62,411.95Z" fill="#e38f90" stroke="none" stroke-width="1" opacity="0.9"/>
<circle cx="457.10" cy="418.05" r="0.35" fill="#e08a8c" stroke="none" stroke-width="1" />
<circle cx="454.96" cy="415.77" r="0.35" fill="#e08a8c" stroke="none" stroke-width="1" />
<circle cx="470.00" cy="418.12" r="0.35" fill="#e08a8c" stroke="none" stroke-width="1" />
<circle cx="454.43" cy="404.69" r="0.35" fill="#e08a8c" stroke="none" stroke-width="1" />
<circle cx="469.87" cy="418.22" r="0.35" fill="#e08a8c" stroke="none" stroke-width="1" />
<path d="M499.97,454.80 C500.03,456.10 498.71,457.43 498.22,458.74 C497.74,460.06 497.80,461.60 497.08,462.69 C496.36,463.78 494.88,464.30 493.89,465.29 C492.90,466.28 492.31,468.09 491.12,468.65 C489.94,469.21 488.20,468.49 486.79,468.64 C485.38,468.80 483.94,469.87 482.67,469.60 C481.41,469.34 480.47,467.66 479.20,467.07 C477.93,466.48 475.97,466.91 475.04,466.06 C474.12,465.21 474.17,463.21 473.66,461.96 C473.15,460.71 472.43,459.75 472.00,458.56 C471.56,457.37 471.24,456.11 471.06,454.80 C470.87,453.49 470.51,451.95 470.86,450.71 C471.22,449.47 472.34,448.35 473.20,447.35 C474.06,446.34 475.05,445.52 476.02,444.67 C477.00,443.82 477.95,442.99 479.06,442.22 C480.17,441.45 481.41,440.15 482.68,440.05 C483.95,439.95 485.32,441.37 486.70,441.60 C488.07,441.82 489.73,440.92 490.93,441.38 C492.12,441.84 492.77,443.47 493.86,444.35 C494.95,445.23 496.81,445.55 497.48,446.65 C498.15,447.76 497.45,449.61 497.86,450.96 C498.28,452.32 499.91,453.50 499.97,454.80Z" fill="#f2aeac" stroke="#e99c9c" stroke-width="0.5" fill-opacity="0.9"/>
<path d="M492.56,456.65 C492.40,458.42 490.75,460.89 489.43,461.97 C488.11,463.04 486.22,463.33 484.63,463.10 C483.05,462.87 480.74,462.09 479.92,460.59 C479.10,459.09 479.36,455.83 479.68,454.11 C480.01,452.39 480.62,451.23 481.89,450.28 C483.15,449.33 485.85,448.22 487.28,448.40 C488.70,448.57 489.53,449.94 490.41,451.31 C491.29,452.69 492.73,454.87 492.56,456.65Z" fill="#e38f90" stroke="none" stroke-width="1" opacity="0.9"/>
<circle cx="491.84" cy="447.99" r="0.35" fill="#e08a8c" stroke="none" stroke-width="1" />
<circle cx="482.38" cy="445.30" r="0.35" fill="#e08a8c" stroke="none" stroke-width="1" />
<circle cx="485.02" cy="464.60" r="0.35" fill="#e08a8c" stroke="none" stroke-width="1" />
<circle cx="491.49" cy="461.96" r="0.35" fill="#e08a8c" stroke="none" stroke-width="1" />
<circle cx="483.00" cy="464.43" r="0.35" fill="#e08a8c" stroke="none" stroke-width="1" />
<path d="M488.83,497.20 C488.82,498.57 488.58,499.98 488.22,501.32 C487.85,502.65 487.37,504.03 486.63,505.19 C485.89,506.35 484.84,507.36 483.79,508.26 C482.74,509.17 481.58,510.08 480.33,510.62 C479.08,511.17 477.62,511.39 476.26,511.52 C474.90,511.65 473.50,511.59 472.16,511.40 C470.81,511.21 469.33,511.02 468.18,510.38 C467.03,509.73 466.31,508.40 465.24,507.54 C464.18,506.67 462.62,506.22 461.79,505.18 C460.95,504.14 460.65,502.63 460.23,501.30 C459.82,499.97 459.49,498.62 459.31,497.20 C459.14,495.78 458.76,494.12 459.18,492.79 C459.59,491.46 461.01,490.48 461.79,489.23 C462.57,487.97 462.78,486.10 463.87,485.27 C464.95,484.45 466.91,484.64 468.29,484.26 C469.67,483.88 470.84,483.21 472.16,483.01 C473.48,482.81 474.80,483.10 476.23,483.07 C477.67,483.03 479.54,482.27 480.78,482.80 C482.02,483.33 482.84,485.11 483.67,486.27 C484.50,487.44 484.98,488.65 485.75,489.78 C486.51,490.91 487.72,491.84 488.24,493.08 C488.75,494.31 488.83,495.83 488.83,497.20Z" fill="#f2aeac" stroke="#e99c9c" stroke-width="0.5" fill-opacity="0.9"/>
<path d="M482.85,498.36 C482.77,500.06 481.60,502.60 480.21,504.01 C478.83,505.42 476.51,506.98 474.54,506.82 C472.56,506.66 469.51,504.84 468.37,503.05 C467.24,501.25 467.27,497.79 467.71,496.06 C468.15,494.33 469.52,493.41 471.03,492.66 C472.55,491.92 475.18,491.40 476.78,491.59 C478.39,491.78 479.67,492.68 480.68,493.80 C481.69,494.93 482.92,496.66 482.85,498.36Z" fill="#e38f90" stroke="none" stroke-width="1" opacity="0.9"/>
<circle cx="463.77" cy="498.45" r="0.35" fill="#e08a8c" stroke="none" stroke-width="1" />
<circle cx="484.51" cy="499.20" r="0.35" fill="#e08a8c" stroke="none" stroke-width="1" />
<circle cx="474.81" cy="507.68" r="0.35" fill="#e08a8c" stroke="none" stroke-width="1" />
<circle cx="482.51" cy="490.79" r="0.35" fill="#e08a8c" stroke="none" stroke-width="1" />
<circle cx="478.73" cy="487.73" r="0.35" fill="#e08a8c" stroke="none" stroke-width="1" />
<path d="M344.27,519.80 C344.17,521.36 343.06,522.72 342.80,524.38 C342.54,526.04 343.46,528.41 342.69,529.75 C341.91,531.10 339.51,531.40 338.16,532.45 C336.81,533.49 336.04,535.41 334.60,536.00 C333.16,536.59 331.18,535.80 329.53,535.99 C327.88,536.17 326.27,537.25 324.71,537.12 C323.15,536.98 321.46,536.10 320.18,535.17 C318.90,534.24 318.18,532.62 317.02,531.55 C315.85,530.49 314.34,529.93 313.20,528.80 C312.05,527.67 310.63,526.30 310.17,524.80 C309.70,523.30 310.31,521.43 310.43,519.80 C310.55,518.17 310.43,516.51 310.88,515.01 C311.34,513.50 312.40,512.24 313.14,510.77 C313.89,509.29 314.15,507.09 315.37,506.15 C316.60,505.21 318.92,505.61 320.50,505.13 C322.07,504.65 323.33,503.48 324.82,503.27 C326.32,503.06 328.01,503.50 329.49,503.88 C330.97,504.26 332.31,504.95 333.71,505.55 C335.10,506.16 336.38,506.78 337.84,507.52 C339.30,508.25 341.55,508.73 342.47,509.99 C343.39,511.24 343.08,513.41 343.38,515.05 C343.68,516.68 344.36,518.24 344.27,519.80Z" fill="#f2aeac" stroke="#e99c9c" stroke-width="0.5" fill-opacity="0.9"/>
<path d="M337.74,521.01 C337.41,523.23 334.28,527.04 332.28,528.39 C330.29,529.74 327.83,529.44 325.78,529.11 C323.73,528.78 320.84,527.87 319.98,526.41 C319.12,524.95 320.07,522.21 320.59,520.33 C321.12,518.46 321.67,516.36 323.11,515.14 C324.55,513.93 327.37,513.04 329.23,513.03 C331.09,513.02 332.84,513.75 334.26,515.08 C335.68,516.41 338.07,518.80 337.74,521.01Z" fill="#e38f90" stroke="none" stroke-width="1" opacity="0.9"/>
<circle cx="337.83" cy="514.45" r="0.35" fill="#e08a8c" stroke="none" stroke-width="1" />
<circle cx="315.35" cy="518.70" r="0.35" fill="#e08a8c" stroke="none" stroke-width="1" />
<circle cx="337.36" cy="526.00" r="0.35" fill="#e08a8c" stroke="none" stroke-width="1" />
<circle cx="315.32" cy="519.07" r="0.35" fill="#e08a8c" stroke="none" stroke-width="1" />
<circle cx="338.46" cy="523.64" r="0.35" fill="#e08a8c" stroke="none" stroke-width="1" />
<path d="M386.80,521.00 C386.80,522.27 386.85,523.58 386.55,524.80 C386.26,526.03 385.67,527.23 385.03,528.34 C384.38,529.45 383.61,530.57 382.67,531.47 C381.73,532.36 380.59,533.21 379.40,533.71 C378.22,534.21 376.84,534.31 375.54,534.49 C374.24,534.67 372.88,534.99 371.61,534.81 C370.35,534.63 369.06,534.03 367.93,533.42 C366.80,532.81 365.81,531.96 364.82,531.13 C363.83,530.31 362.84,529.47 361.98,528.47 C361.13,527.46 360.06,526.32 359.70,525.08 C359.35,523.84 359.84,522.36 359.85,521.00 C359.85,519.64 359.33,518.14 359.74,516.93 C360.16,515.72 361.64,514.95 362.32,513.75 C363.00,512.55 362.87,510.53 363.83,509.72 C364.79,508.92 366.77,509.23 368.08,508.91 C369.39,508.59 370.46,508.07 371.70,507.80 C372.95,507.54 374.24,507.33 375.57,507.32 C376.89,507.31 378.51,507.16 379.66,507.73 C380.81,508.30 381.64,509.73 382.48,510.75 C383.33,511.77 384.07,512.76 384.75,513.84 C385.42,514.91 386.20,516.01 386.54,517.20 C386.88,518.39 386.79,519.73 386.80,521.00Z" fill="#f2aeac" stroke="#e99c9c" stroke-width="0.5" fill-opacity="0.9"/>
<path d="M382.64,523.82 C382.47,525.52 380.33,527.98 378.95,528.92 C377.57,529.86 375.97,529.92 374.35,529.45 C372.73,528.98 370.31,527.66 369.24,526.13 C368.16,524.59 367.58,521.95 367.92,520.24 C368.26,518.52 369.97,516.86 371.30,515.85 C372.63,514.85 374.46,513.75 375.90,514.23 C377.34,514.71 378.83,517.12 379.95,518.71 C381.07,520.31 382.81,522.12 382.64,523.82Z" fill="#e38f90" stroke="none" stroke-width="1" opacity="0.9"/>
<circle cx="364.79" cy="516.70" r="0.35" fill="#e08a8c" stroke="none" stroke-width="1" />
<circle cx="383.02" cy="523.71" r="0.35" fill="#e08a8c" stroke="none" stroke-width="1" />
<circle cx="382.70" cy="517.37" r="0.35" fill="#e08a8c" stroke="none" stroke-width="1" />
<circle cx="365.19" cy="515.97" r="0.35" fill="#e08a8c" stroke="none" stroke-width="1" />
<circle cx="363.87" cy="519.80" r="0.35" fill="#e08a8c" stroke="none" stroke-width="1" />
<path d="M419.45,520.00 C419.44,521.26 418.30,522.51 417.86,523.78 C417.43,525.04 417.48,526.51 416.82,527.60 C416.16,528.68 414.93,529.47 413.91,530.29 C412.90,531.10 411.88,532.02 410.70,532.49 C409.53,532.96 408.16,532.97 406.89,533.11 C405.61,533.25 404.36,533.41 403.08,533.33 C401.81,533.25 400.37,533.17 399.23,532.63 C398.09,532.10 397.20,530.99 396.23,530.13 C395.25,529.26 394.10,528.51 393.39,527.46 C392.68,526.41 392.35,525.07 391.98,523.82 C391.62,522.58 391.11,521.25 391.20,520.00 C391.29,518.75 392.14,517.57 392.52,516.33 C392.89,515.09 392.82,513.66 393.43,512.56 C394.03,511.47 395.15,510.60 396.14,509.78 C397.13,508.96 398.20,508.14 399.36,507.66 C400.52,507.17 401.84,507.13 403.11,506.89 C404.38,506.64 405.75,506.02 406.98,506.20 C408.22,506.37 409.35,507.36 410.50,507.95 C411.66,508.54 412.89,508.96 413.90,509.73 C414.91,510.50 415.87,511.50 416.54,512.58 C417.21,513.66 417.42,514.98 417.90,516.21 C418.39,517.45 419.45,518.74 419.45,520.00Z" fill="#f2aeac" stroke="#e99c9c" stroke-width="0.5" fill-opacity="0.9"/>
<path d="M412.26,522.30 C412.16,523.95 412.22,525.43 411.04,526.57 C409.86,527.71 407.18,529.37 405.20,529.15 C403.21,528.92 400.30,526.74 399.11,525.21 C397.92,523.69 397.69,521.80 398.06,520.01 C398.44,518.22 399.94,515.53 401.38,514.47 C402.82,513.41 405.00,513.28 406.71,513.65 C408.42,514.02 410.70,515.25 411.63,516.69 C412.55,518.13 412.36,520.66 412.26,522.30Z" fill="#e38f90" stroke="none" stroke-width="1" opacity="0.9"/>
<circle cx="395.21" cy="520.40" r="0.35" fill="#e08a8c" stroke="none" stroke-width="1" />
<circle cx="395.25" cy="520.99" r="0.35" fill="#e08a8c" stroke="none" stroke-width="1" />
<circle cx="400.24" cy="511.44" r="0.35" fill="#e08a8c" stroke="none" stroke-width="1" />
<circle cx="396.28" cy="515.53" r="0.35" fill="#e08a8c" stroke="none" stroke-width="1" />
<circle cx="413.81" cy="524.30" r="0.35" fill="#e08a8c" stroke="none" stroke-width="1" />
<path d="M508.95,420.00 C508.94,421.18 507.43,422.30 507.01,423.53 C506.60,424.75 507.11,426.40 506.46,427.37 C505.81,428.34 504.15,428.69 503.10,429.34 C502.05,430.00 501.22,430.80 500.17,431.31 C499.12,431.83 497.98,432.01 496.79,432.43 C495.59,432.84 494.17,434.00 493.02,433.81 C491.86,433.61 490.96,431.91 489.85,431.27 C488.75,430.63 487.32,430.67 486.38,429.95 C485.43,429.24 484.77,428.02 484.16,426.96 C483.56,425.91 482.97,424.76 482.73,423.60 C482.48,422.44 482.58,421.17 482.70,420.00 C482.81,418.83 483.16,417.75 483.42,416.60 C483.68,415.45 483.86,414.30 484.25,413.09 C484.65,411.89 484.88,410.15 485.80,409.38 C486.71,408.61 488.49,408.72 489.73,408.46 C490.97,408.20 492.07,407.99 493.25,407.81 C494.43,407.62 495.56,407.44 496.82,407.35 C498.08,407.27 499.71,406.80 500.80,407.30 C501.89,407.81 502.53,409.39 503.36,410.35 C504.19,411.31 505.18,412.05 505.79,413.06 C506.41,414.08 506.52,415.31 507.05,416.46 C507.58,417.62 508.96,418.82 508.95,420.00Z" fill="#f2aeac" stroke="#e99c9c" stroke-width="0.5" fill-opacity="0.9"/>
<path d="M502.11,422.71 C501.78,424.30 500.95,425.12 499.63,425.80 C498.32,426.48 495.79,426.95 494.22,426.79 C492.64,426.63 490.97,426.03 490.19,424.83 C489.42,423.63 489.28,421.09 489.57,419.60 C489.86,418.11 490.83,416.70 491.92,415.87 C493.02,415.03 494.53,414.54 496.14,414.61 C497.75,414.67 500.60,414.91 501.59,416.26 C502.59,417.61 502.43,421.12 502.11,422.71Z" fill="#e38f90" stroke="none" stroke-width="1" opacity="0.9"/>
<circle cx="496.21" cy="410.98" r="0.35" fill="#e08a8c" stroke="none" stroke-width="1" />
<circle cx="485.95" cy="419.03" r="0.35" fill="#e08a8c" stroke="none" stroke-width="1" />
<circle cx="487.09" cy="415.50" r="0.35" fill="#e08a8c" stroke="none" stroke-width="1" />
<circle cx="502.56" cy="414.93" r="0.35" fill="#e08a8c" stroke="none" stroke-width="1" />
<circle cx="486.38" cy="422.92" r="0.35" fill="#e08a8c" stroke="none" stroke-width="1" />
<path d="M365.16,395.00 C365.15,396.27 365.11,397.51 364.93,398.80 C364.75,400.09 364.73,401.67 364.06,402.75 C363.40,403.84 362.02,404.58 360.93,405.31 C359.84,406.03 358.69,406.59 357.52,407.08 C356.35,407.58 355.18,407.84 353.91,408.26 C352.64,408.69 351.16,409.77 349.90,409.63 C348.64,409.48 347.52,408.05 346.35,407.38 C345.17,406.71 343.82,406.41 342.82,405.59 C341.83,404.77 340.88,403.64 340.37,402.47 C339.86,401.31 340.12,399.84 339.77,398.59 C339.42,397.35 338.52,396.27 338.28,395.00 C338.05,393.73 338.03,392.25 338.36,391.00 C338.69,389.74 339.60,388.65 340.27,387.46 C340.93,386.27 341.35,384.70 342.35,383.86 C343.35,383.02 344.96,382.77 346.26,382.42 C347.55,382.08 348.82,382.02 350.10,381.81 C351.39,381.60 352.62,381.29 353.99,381.17 C355.36,381.06 357.20,380.51 358.34,381.12 C359.47,381.74 359.76,383.88 360.80,384.84 C361.84,385.81 363.88,385.86 364.57,386.92 C365.27,387.98 364.89,389.84 364.99,391.19 C365.08,392.53 365.16,393.73 365.16,395.00Z" fill="#f2aeac" stroke="#e99c9c" stroke-width="0.5" fill-opacity="0.9"/>
<path d="M360.51,396.73 C360.50,398.33 360.47,400.68 358.88,401.91 C357.29,403.14 352.78,404.38 350.96,404.12 C349.14,403.85 348.72,401.67 347.96,400.30 C347.20,398.93 346.45,397.52 346.39,395.89 C346.33,394.26 346.35,391.82 347.60,390.52 C348.84,389.21 351.99,387.78 353.87,388.08 C355.76,388.38 357.79,390.88 358.90,392.32 C360.01,393.77 360.51,395.13 360.51,396.73Z" fill="#e38f90" stroke="none" stroke-width="1" opacity="0.9"/>
<circle cx="344.25" cy="389.00" r="0.35" fill="#e08a8c" stroke="none" stroke-width="1" />
<circle cx="343.95" cy="400.59" r="0.35" fill="#e08a8c" stroke="none" stroke-width="1" />
<circle cx="360.84" cy="399.23" r="0.35" fill="#e08a8c" stroke="none" stroke-width="1" />
<circle cx="356.36" cy="386.22" r="0.35" fill="#e08a8c" stroke="none" stroke-width="1" />
<circle cx="349.34" cy="385.57" r="0.35" fill="#e08a8c" stroke="none" stroke-width="1" />
<path d="M496.99,376.00 C496.99,377.12 496.05,378.37 495.43,379.36 C494.80,380.34 493.89,381.06 493.23,381.93 C492.56,382.80 492.19,383.85 491.43,384.58 C490.68,385.31 489.66,385.76 488.70,386.30 C487.75,386.83 486.77,387.48 485.70,387.80 C484.62,388.12 483.34,388.38 482.25,388.20 C481.15,388.02 480.22,387.13 479.11,386.71 C478.00,386.30 476.44,386.42 475.59,385.70 C474.74,384.99 474.71,383.41 474.03,382.41 C473.36,381.40 471.84,380.73 471.53,379.66 C471.23,378.59 472.08,377.18 472.21,376.00 C472.33,374.82 471.91,373.58 472.28,372.56 C472.64,371.53 473.81,370.83 474.41,369.84 C475.01,368.85 475.07,367.33 475.88,366.63 C476.69,365.93 478.21,366.12 479.26,365.63 C480.32,365.14 481.15,363.92 482.23,363.68 C483.30,363.43 484.52,364.04 485.70,364.15 C486.89,364.26 488.34,363.82 489.33,364.34 C490.31,364.85 490.87,366.32 491.61,367.22 C492.35,368.12 493.12,368.83 493.75,369.73 C494.38,370.64 494.86,371.61 495.40,372.65 C495.94,373.70 496.98,374.88 496.99,376.00Z" fill="#f2aeac" stroke="#e99c9c" stroke-width="0.5" fill-opacity="0.9"/>
<path d="M491.42,377.14 C491.08,378.54 489.02,381.29 487.79,382.25 C486.56,383.22 485.42,383.21 484.02,382.92 C482.63,382.64 480.44,381.72 479.43,380.52 C478.42,379.32 477.59,377.14 477.98,375.73 C478.37,374.31 480.48,372.87 481.77,372.01 C483.06,371.15 484.40,370.24 485.74,370.55 C487.08,370.86 488.84,372.78 489.79,373.88 C490.74,374.97 491.75,375.75 491.42,377.14Z" fill="#e38f90" stroke="none" stroke-width="1" opacity="0.9"/>
<circle cx="486.44" cy="384.04" r="0.35" fill="#e08a8c" stroke="none" stroke-width="1" />
<circle cx="476.65" cy="371.93" r="0.35" fill="#e08a8c" stroke="none" stroke-width="1" />
<circle cx="475.63" cy="376.66" r="0.35" fill="#e08a8c" stroke="none" stroke-width="1" />
<circle cx="477.57" cy="370.59" r="0.35" fill="#e08a8c" stroke="none" stroke-width="1" />
<circle cx="480.61" cy="368.31" r="0.35" fill="#e08a8c" stroke="none" stroke-width="1" />
<path d="M452.92,520.00 C452.88,521.08 451.28,522.05 450.92,523.21 C450.57,524.37 451.33,525.98 450.81,526.95 C450.29,527.92 448.78,528.34 447.82,529.03 C446.87,529.72 446.09,530.67 445.07,531.10 C444.04,531.53 442.80,531.47 441.67,531.61 C440.54,531.75 439.39,532.07 438.28,531.94 C437.18,531.81 436.00,531.40 435.05,530.84 C434.10,530.28 433.39,529.32 432.58,528.57 C431.76,527.82 430.73,527.22 430.15,526.33 C429.56,525.44 429.37,524.27 429.06,523.21 C428.76,522.16 428.23,521.05 428.29,520.00 C428.36,518.95 429.19,517.98 429.47,516.91 C429.75,515.83 429.56,514.60 429.95,513.54 C430.35,512.49 430.98,511.29 431.84,510.59 C432.71,509.89 434.05,509.75 435.13,509.33 C436.20,508.92 437.20,508.22 438.29,508.10 C439.37,507.97 440.55,508.38 441.64,508.59 C442.74,508.80 443.83,508.97 444.86,509.36 C445.89,509.76 446.88,510.32 447.83,510.96 C448.79,511.60 450.06,512.22 450.61,513.18 C451.16,514.14 450.76,515.59 451.15,516.73 C451.53,517.86 452.95,518.92 452.92,520.00Z" fill="#f2aeac" stroke="#e99c9c" stroke-width="0.5" fill-opacity="0.9"/>
<path d="M447.22,521.52 C446.99,522.95 445.78,525.10 444.56,526.03 C443.35,526.97 441.27,527.40 439.91,527.12 C438.55,526.84 437.19,525.40 436.41,524.35 C435.63,523.30 434.92,522.13 435.22,520.81 C435.52,519.49 437.13,517.42 438.20,516.44 C439.27,515.46 440.35,514.77 441.64,514.94 C442.94,515.11 445.05,516.35 445.98,517.45 C446.91,518.55 447.46,520.09 447.22,521.52Z" fill="#e38f90" stroke="none" stroke-width="1" opacity="0.9"/>
<circle cx="431.65" cy="519.05" r="0.35" fill="#e08a8c" stroke="none" stroke-width="1" />
<circle cx="447.93" cy="522.78" r="0.35" fill="#e08a8c" stroke="none" stroke-width="1" />
<circle cx="431.88" cy="517.85" r="0.35" fill="#e08a8c" stroke="none" stroke-width="1" />
<circle cx="446.94" cy="524.73" r="0.35" fill="#e08a8c" stroke="none" stroke-width="1" />
<circle cx="448.35" cy="520.89" r="0.35" fill="#e08a8c" stroke="none" stroke-width="1" />
<path d="M473.91,486.60 C473.93,488.03 472.61,489.54 471.96,490.90 C471.30,492.26 470.78,493.57 469.99,494.76 C469.20,495.95 468.28,497.11 467.21,498.04 C466.14,498.97 464.87,499.72 463.58,500.35 C462.29,500.99 460.89,501.71 459.49,501.86 C458.10,502.02 456.62,501.49 455.19,501.27 C453.76,501.06 452.21,501.12 450.93,500.56 C449.64,500.00 448.58,498.87 447.48,497.93 C446.38,496.99 445.38,496.03 444.35,494.92 C443.33,493.81 441.73,492.68 441.33,491.29 C440.93,489.90 441.83,488.12 441.96,486.60 C442.09,485.08 441.69,483.51 442.11,482.14 C442.53,480.77 443.84,479.80 444.47,478.35 C445.10,476.91 444.86,474.48 445.90,473.45 C446.94,472.41 449.18,472.59 450.69,472.14 C452.21,471.68 453.56,470.81 455.02,470.71 C456.48,470.62 457.92,471.46 459.46,471.58 C461.00,471.70 462.89,470.88 464.23,471.42 C465.58,471.96 466.52,473.66 467.53,474.80 C468.54,475.94 469.56,477.00 470.29,478.25 C471.01,479.51 471.26,480.93 471.86,482.32 C472.47,483.72 473.90,485.17 473.91,486.60Z" fill="#f2aeac" stroke="#e99c9c" stroke-width="0.5" fill-opacity="0.9"/>
<path d="M466.38,489.73 C466.23,491.61 464.82,491.81 463.33,492.99 C461.84,494.17 459.44,497.07 457.44,496.82 C455.44,496.56 452.56,493.16 451.34,491.45 C450.13,489.73 449.66,488.35 450.16,486.52 C450.66,484.68 452.83,481.65 454.32,480.45 C455.80,479.25 457.43,479.10 459.08,479.31 C460.73,479.52 463.00,479.96 464.21,481.70 C465.43,483.43 466.53,487.85 466.38,489.73Z" fill="#e38f90" stroke="none" stroke-width="1" opacity="0.9"/>
<circle cx="456.96" cy="475.41" r="0.35" fill="#e08a8c" stroke="none" stroke-width="1" />
<circle cx="456.92" cy="497.79" r="0.35" fill="#e08a8c" stroke="none" stroke-width="1" />
<circle cx="459.88" cy="475.70" r="0.35" fill="#e08a8c" stroke="none" stroke-width="1" />
<circle cx="459.48" cy="475.61" r="0.35" fill="#e08a8c" stroke="none" stroke-width="1" />
<circle cx="450.58" cy="495.56" r="0.35" fill="#e08a8c" stroke="none" stroke-width="1" />
<path d="M500.25,502.60 C500.18,504.05 499.41,505.35 499.18,506.88 C498.96,508.41 499.60,510.51 498.89,511.79 C498.19,513.06 496.16,513.50 494.96,514.55 C493.76,515.61 493.05,517.57 491.69,518.13 C490.33,518.68 488.33,518.06 486.80,517.89 C485.27,517.73 483.93,517.38 482.51,517.13 C481.09,516.88 479.62,516.90 478.30,516.41 C476.97,515.91 475.74,515.04 474.58,514.16 C473.43,513.28 472.22,512.29 471.36,511.11 C470.51,509.92 469.83,508.46 469.46,507.05 C469.08,505.63 468.97,504.04 469.11,502.60 C469.25,501.16 469.86,499.79 470.29,498.40 C470.71,497.01 471.10,495.71 471.64,494.27 C472.17,492.84 472.41,490.76 473.50,489.78 C474.58,488.81 476.69,489.09 478.14,488.45 C479.59,487.80 480.76,486.12 482.20,485.92 C483.65,485.73 485.23,487.09 486.80,487.30 C488.37,487.51 490.27,486.64 491.64,487.19 C493.00,487.75 493.96,489.46 494.98,490.63 C495.99,491.79 496.95,492.91 497.72,494.17 C498.48,495.43 499.14,496.80 499.56,498.21 C499.98,499.61 500.31,501.15 500.25,502.60Z" fill="#f2aeac" stroke="#e99c9c" stroke-width="0.5" fill-opacity="0.9"/>
<path d="M493.69,504.70 C493.68,506.68 493.52,508.79 491.88,510.03 C490.24,511.28 486.06,512.37 483.84,512.17 C481.63,511.97 479.72,510.66 478.60,508.85 C477.48,507.04 476.92,503.38 477.11,501.30 C477.30,499.22 478.20,497.19 479.73,496.37 C481.26,495.55 484.26,496.05 486.29,496.35 C488.32,496.65 490.67,496.79 491.90,498.18 C493.14,499.57 493.69,502.73 493.69,504.70Z" fill="#e38f90" stroke="none" stroke-width="1" opacity="0.9"/>
<circle cx="474.09" cy="506.48" r="0.35" fill="#e08a8c" stroke="none" stroke-width="1" />
<circle cx="495.61" cy="504.68" r="0.35" fill="#e08a8c" stroke="none" stroke-width="1" />
<circle cx="495.57" cy="500.32" r="0.35" fill="#e08a8c" stroke="none" stroke-width="1" />
<circle cx="495.21" cy="499.01" r="0.35" fill="#e08a8c" stroke="none" stroke-width="1" />
<circle cx="493.70" cy="496.08" r="0.35" fill="#e08a8c" stroke="none" stroke-width="1" />
<path d="M463.43,462.50 C463.48,463.60 462.78,464.82 462.29,465.84 C461.79,466.87 461.09,467.74 460.46,468.64 C459.83,469.55 459.33,470.62 458.50,471.27 C457.67,471.93 456.48,472.11 455.49,472.54 C454.49,472.98 453.60,473.48 452.54,473.88 C451.47,474.28 450.21,475.02 449.11,474.94 C448.01,474.86 446.98,473.90 445.93,473.39 C444.87,472.88 443.59,472.63 442.78,471.87 C441.97,471.11 441.69,469.80 441.08,468.81 C440.47,467.83 439.37,467.02 439.11,465.96 C438.85,464.91 439.64,463.69 439.52,462.50 C439.40,461.31 438.13,459.88 438.38,458.82 C438.63,457.77 440.33,457.15 441.03,456.16 C441.72,455.16 441.71,453.55 442.55,452.87 C443.40,452.18 445.04,452.59 446.13,452.05 C447.21,451.51 447.97,449.85 449.05,449.61 C450.13,449.38 451.40,450.46 452.61,450.64 C453.81,450.83 455.27,450.24 456.28,450.72 C457.29,451.21 457.99,452.59 458.66,453.54 C459.34,454.49 459.76,455.50 460.32,456.45 C460.88,457.39 461.52,458.22 462.04,459.23 C462.56,460.24 463.39,461.40 463.43,462.50Z" fill="#f2aeac" stroke="#e99c9c" stroke-width="0.5" fill-opacity="0.9"/>
<path d="M458.94,464.29 C458.70,465.61 457.08,467.07 455.79,467.88 C454.49,468.70 452.71,469.20 451.18,469.20 C449.65,469.21 447.40,468.99 446.62,467.90 C445.84,466.82 446.10,464.26 446.50,462.70 C446.90,461.14 447.89,459.30 449.00,458.56 C450.11,457.82 451.80,458.00 453.17,458.23 C454.54,458.47 456.27,458.94 457.23,459.95 C458.19,460.96 459.18,462.96 458.94,464.29Z" fill="#e38f90" stroke="none" stroke-width="1" opacity="0.9"/>
<circle cx="442.88" cy="465.00" r="0.35" fill="#e08a8c" stroke="none" stroke-width="1" />
<circle cx="457.44" cy="467.77" r="0.35" fill="#e08a8c" stroke="none" stroke-width="1" />
<circle cx="449.55" cy="470.79" r="0.35" fill="#e08a8c" stroke="none" stroke-width="1" />
<circle cx="457.69" cy="457.55" r="0.35" fill="#e08a8c" stroke="none" stroke-width="1" />
<circle cx="446.30" cy="469.53" r="0.35" fill="#e08a8c" stroke="none" stroke-width="1" />
<path d="M448.72,493.00 C448.65,494.11 447.71,495.08 447.48,496.25 C447.25,497.42 447.88,499.07 447.33,500.02 C446.78,500.97 445.23,501.47 444.17,501.97 C443.12,502.48 442.02,502.67 440.99,503.06 C439.97,503.46 439.07,504.11 438.03,504.35 C436.99,504.59 435.83,504.63 434.74,504.52 C433.66,504.41 432.62,504.02 431.52,503.70 C430.41,503.37 428.95,503.30 428.10,502.58 C427.24,501.87 427.08,500.42 426.40,499.42 C425.73,498.43 424.32,497.70 424.04,496.63 C423.76,495.56 424.43,494.13 424.72,493.00 C425.01,491.87 425.43,490.91 425.77,489.88 C426.12,488.85 426.36,487.85 426.81,486.83 C427.25,485.82 427.67,484.60 428.44,483.81 C429.21,483.03 430.41,482.70 431.44,482.13 C432.46,481.56 433.49,480.48 434.59,480.40 C435.69,480.31 436.87,481.42 438.04,481.62 C439.21,481.82 440.61,481.17 441.60,481.61 C442.59,482.05 443.01,483.53 443.98,484.25 C444.94,484.97 446.74,485.04 447.39,485.94 C448.04,486.83 447.68,488.44 447.91,489.62 C448.13,490.80 448.79,491.89 448.72,493.00Z" fill="#f2aeac" stroke="#e99c9c" stroke-width="0.5" fill-opacity="0.9"/>
<path d="M443.14,495.40 C443.05,497.03 442.87,498.38 441.88,499.18 C440.88,499.97 438.81,500.43 437.19,500.19 C435.56,499.95 433.19,498.82 432.14,497.74 C431.10,496.66 430.73,495.27 430.92,493.72 C431.12,492.17 432.22,489.58 433.31,488.45 C434.40,487.31 435.93,486.74 437.46,486.90 C438.99,487.07 441.52,488.01 442.47,489.43 C443.42,490.85 443.24,493.78 443.14,495.40Z" fill="#e38f90" stroke="none" stroke-width="1" opacity="0.9"/>
<circle cx="428.05" cy="493.89" r="0.35" fill="#e08a8c" stroke="none" stroke-width="1" />
<circle cx="443.90" cy="496.79" r="0.35" fill="#e08a8c" stroke="none" stroke-width="1" />
<circle cx="436.86" cy="484.61" r="0.35" fill="#e08a8c" stroke="none" stroke-width="1" />
<circle cx="430.53" cy="499.01" r="0.35" fill="#e08a8c" stroke="none" stroke-width="1" />
<circle cx="428.62" cy="489.83" r="0.35" fill="#e08a8c" stroke="none" stroke-width="1" />
<path d="M469.69,455.80 C469.76,456.99 470.15,458.24 469.99,459.44 C469.82,460.63 469.39,461.94 468.73,462.95 C468.07,463.97 467.05,464.88 466.03,465.53 C465.02,466.18 463.75,466.37 462.64,466.84 C461.54,467.31 460.55,468.07 459.40,468.35 C458.26,468.62 456.97,468.62 455.78,468.48 C454.59,468.33 453.35,468.00 452.26,467.49 C451.17,466.98 450.10,466.26 449.25,465.43 C448.40,464.60 447.71,463.54 447.16,462.51 C446.61,461.47 446.36,460.34 445.95,459.22 C445.55,458.10 444.69,456.93 444.73,455.80 C444.77,454.67 445.84,453.60 446.19,452.45 C446.53,451.29 446.22,449.82 446.81,448.86 C447.39,447.90 448.76,447.40 449.71,446.69 C450.65,445.98 451.47,445.16 452.49,444.60 C453.50,444.05 454.67,443.53 455.81,443.36 C456.96,443.20 458.21,443.39 459.35,443.62 C460.49,443.85 461.58,444.29 462.64,444.76 C463.70,445.24 464.71,445.79 465.70,446.45 C466.68,447.12 467.90,447.79 468.55,448.76 C469.20,449.73 469.42,451.10 469.61,452.27 C469.80,453.45 469.63,454.61 469.69,455.80Z" fill="#f2aeac" stroke="#e99c9c" stroke-width="0.5" fill-opacity="0.9"/>
<path d="M464.36,458.24 C464.06,459.82 463.16,462.26 462.12,463.11 C461.07,463.97 459.40,463.74 458.09,463.39 C456.78,463.05 455.39,462.37 454.28,461.03 C453.17,459.69 451.50,456.98 451.43,455.38 C451.35,453.78 452.51,452.36 453.83,451.46 C455.16,450.56 457.69,449.63 459.38,449.99 C461.06,450.35 463.12,452.25 463.95,453.63 C464.78,455.00 464.67,456.66 464.36,458.24Z" fill="#e38f90" stroke="none" stroke-width="1" opacity="0.9"/>
<circle cx="452.21" cy="448.47" r="0.35" fill="#e08a8c" stroke="none" stroke-width="1" />
<circle cx="448.78" cy="453.56" r="0.35" fill="#e08a8c" stroke="none" stroke-width="1" />
<circle cx="466.20" cy="458.77" r="0.35" fill="#e08a8c" stroke="none" stroke-width="1" />
<circle cx="452.53" cy="463.36" r="0.35" fill="#e08a8c" stroke="none" stroke-width="1" />
<circle cx="466.33" cy="458.37" r="0.35" fill="#e08a8c" stroke="none" stroke-width="1" />
<path d="M512.10,470.00 C512.15,471.09 511.53,472.17 511.30,473.32 C511.07,474.47 511.32,475.96 510.72,476.89 C510.13,477.83 508.69,478.25 507.74,478.93 C506.78,479.60 506.00,480.48 504.99,480.94 C503.98,481.39 502.79,481.53 501.68,481.66 C500.56,481.78 499.38,481.92 498.32,481.70 C497.25,481.48 496.21,480.89 495.28,480.34 C494.34,479.80 493.56,479.09 492.70,478.42 C491.85,477.75 490.76,477.20 490.15,476.33 C489.54,475.46 489.38,474.27 489.06,473.21 C488.74,472.16 488.49,471.15 488.23,470.00 C487.96,468.85 487.14,467.38 487.45,466.32 C487.76,465.25 489.33,464.55 490.08,463.63 C490.84,462.70 491.15,461.47 491.99,460.76 C492.83,460.04 494.09,459.85 495.13,459.33 C496.17,458.81 497.13,457.78 498.22,457.63 C499.31,457.48 500.59,458.06 501.67,458.41 C502.74,458.76 503.69,459.28 504.69,459.73 C505.69,460.19 506.80,460.50 507.67,461.14 C508.55,461.79 509.37,462.68 509.93,463.62 C510.49,464.56 510.66,465.70 511.02,466.76 C511.38,467.83 512.06,468.91 512.10,470.00Z" fill="#f2aeac" stroke="#e99c9c" stroke-width="0.5" fill-opacity="0.9"/>
<path d="M506.95,471.26 C506.74,472.49 506.06,474.40 504.87,475.27 C503.69,476.14 501.23,476.59 499.85,476.47 C498.47,476.36 497.39,475.78 496.58,474.57 C495.78,473.36 494.95,470.58 495.04,469.21 C495.13,467.83 495.88,467.00 497.12,466.33 C498.36,465.66 500.97,464.93 502.47,465.19 C503.98,465.45 505.42,466.89 506.16,467.90 C506.91,468.92 507.17,470.03 506.95,471.26Z" fill="#e38f90" stroke="none" stroke-width="1" opacity="0.9"/>
<circle cx="507.07" cy="474.53" r="0.35" fill="#e08a8c" stroke="none" stroke-width="1" />
<circle cx="493.31" cy="475.08" r="0.35" fill="#e08a8c" stroke="none" stroke-width="1" />
<circle cx="492.31" cy="473.37" r="0.35" fill="#e08a8c" stroke="none" stroke-width="1" />
<circle cx="508.39" cy="470.46" r="0.35" fill="#e08a8c" stroke="none" stroke-width="1" />
<circle cx="491.61" cy="469.70" r="0.35" fill="#e08a8c" stroke="none" stroke-width="1" />
<path d="M292.00,450.00 C296.67,448.33 310.00,443.83 320.00,440.00 C330.00,436.17 343.33,430.00 352.00,427.00 C360.67,424.00 364.83,424.00 372.00,422.00 C379.17,420.00 391.17,416.17 395.00,415.00" fill="none" stroke="#a4525a" stroke-width="0.8" opacity="0.8"/>
<path d="M315.00,487.00 C319.17,485.50 331.67,480.83 340.00,478.00 C348.33,475.17 356.67,472.17 365.00,470.00 C373.33,467.83 380.83,466.33 390.00,465.00 C399.17,463.67 415.00,462.50 420.00,462.00" fill="none" stroke="#a4525a" stroke-width="0.8" opacity="0.8"/>
<path d="M300.00,520.00 C305.00,517.50 320.00,508.33 330.00,505.00 C340.00,501.67 355.00,500.83 360.00,500.00" fill="none" stroke="#a4525a" stroke-width="0.8" opacity="0.8"/>
<path d="M440.00,380.00 C445.00,382.50 460.00,391.67 470.00,395.00 C480.00,398.33 495.00,399.17 500.00,400.00" fill="none" stroke="#a4525a" stroke-width="0.8" opacity="0.8"/>
<circle cx="352.30" cy="455.20" r="13.50" fill="#7c90c6" stroke="#6479b3" stroke-width="0.7" />
<circle cx="351.80" cy="456.70" r="8.64" fill="#6a82b8" stroke="none" stroke-width="1" />
<circle cx="399.30" cy="435.40" r="11.80" fill="#7c90c6" stroke="#6479b3" stroke-width="0.7" />
<circle cx="398.80" cy="436.90" r="7.55" fill="#6a82b8" stroke="none" stroke-width="1" />
<circle cx="417.10" cy="470.50" r="13.50" fill="#7c90c6" stroke="#6479b3" stroke-width="0.7" />
<circle cx="416.60" cy="472.00" r="8.64" fill="#6a82b8" stroke="none" stroke-width="1" />
<circle cx="432.10" cy="401.10" r="13.50" fill="#7c90c6" stroke="#6479b3" stroke-width="0.7" />
<circle cx="431.60" cy="402.60" r="8.64" fill="#6a82b8" stroke="none" stroke-width="1" />
<circle cx="358.40" cy="532.20" r="12.00" fill="#7c90c6" stroke="#6479b3" stroke-width="0.7" />
<circle cx="357.90" cy="533.70" r="7.68" fill="#6a82b8" stroke="none" stroke-width="1" />
<circle cx="497.50" cy="390.50" r="10.50" fill="#7c90c6" stroke="#6479b3" stroke-width="0.7" />
<circle cx="497.00" cy="392.00" r="6.72" fill="#6a82b8" stroke="none" stroke-width="1" />
<circle cx="455.70" cy="415.00" r="14.00" fill="#cbc8ee" stroke="#a19cd8" stroke-width="0.9" />
<ellipse cx="457.70" cy="415.00" rx="8.68" ry="9.80" fill="#aea9df" stroke="none" stroke-width="1" />
<circle cx="467.60" cy="415.00" r="0.50" fill="#9c96d6" stroke="none" stroke-width="1" />
<circle cx="463.99" cy="423.54" r="0.50" fill="#9c96d6" stroke="none" stroke-width="1" />
<circle cx="455.35" cy="426.89" r="0.50" fill="#9c96d6" stroke="none" stroke-width="1" />
<circle cx="446.93" cy="423.04" r="0.50" fill="#9c96d6" stroke="none" stroke-width="1" />
<circle cx="443.82" cy="414.31" r="0.50" fill="#9c96d6" stroke="none" stroke-width="1" />
<circle cx="447.92" cy="405.99" r="0.50" fill="#9c96d6" stroke="none" stroke-width="1" />
<circle cx="456.74" cy="403.15" r="0.50" fill="#9c96d6" stroke="none" stroke-width="1" />
<circle cx="464.93" cy="407.49" r="0.50" fill="#9c96d6" stroke="none" stroke-width="1" />
<circle cx="381.50" cy="515.70" r="12.00" fill="#cbc8ee" stroke="#a19cd8" stroke-width="0.9" />
<ellipse cx="383.50" cy="515.70" rx="7.44" ry="8.40" fill="#aea9df" stroke="none" stroke-width="1" />
<circle cx="391.70" cy="515.70" r="0.50" fill="#9c96d6" stroke="none" stroke-width="1" />
<circle cx="388.61" cy="523.02" r="0.50" fill="#9c96d6" stroke="none" stroke-width="1" />
<circle cx="381.20" cy="525.90" r="0.50" fill="#9c96d6" stroke="none" stroke-width="1" />
<circle cx="373.98" cy="522.59" r="0.50" fill="#9c96d6" stroke="none" stroke-width="1" />
<circle cx="371.32" cy="515.10" r="0.50" fill="#9c96d6" stroke="none" stroke-width="1" />
<circle cx="374.83" cy="507.98" r="0.50" fill="#9c96d6" stroke="none" stroke-width="1" />
<circle cx="382.39" cy="505.54" r="0.50" fill="#9c96d6" stroke="none" stroke-width="1" />
<circle cx="389.41" cy="509.26" r="0.50" fill="#9c96d6" stroke="none" stroke-width="1" />
<g >
<g fill="#b08ad0" stroke="#b08ad0" stroke-width="0.80" stroke-linejoin="round"><path d="M447.93,365.44 C447.38,367.78 444.51,370.96 442.75,372.53 C440.99,374.10 439.47,374.79 437.36,374.88 C435.24,374.96 431.50,374.23 430.06,373.05 C428.61,371.87 428.86,370.06 428.68,367.80 C428.51,365.53 428.00,361.32 428.98,359.45 C429.95,357.58 432.65,357.32 434.54,356.58 C436.43,355.83 438.38,354.65 440.29,354.96 C442.21,355.28 444.78,356.74 446.05,358.48 C447.32,360.23 448.47,363.10 447.93,365.44Z"/><path d="M442.95,367.54 L443.87,367.53 L444.79,367.55 L445.70,367.60 L446.60,367.68 L447.51,367.79 L448.41,367.93 L449.31,368.10 L450.21,368.30 L451.11,368.53 L452.00,368.80 L453.16,368.27 L452.63,367.11 L451.71,366.73 L450.79,366.39 L449.85,366.07 L448.90,365.78 L447.95,365.53 L446.98,365.31 L446.01,365.12 L445.02,364.96 L444.03,364.84 L443.02,364.75Z"/><path d="M440.56,369.85 L441.35,370.66 L442.15,371.44 L442.97,372.20 L443.81,372.93 L444.67,373.63 L445.55,374.31 L446.45,374.96 L447.36,375.58 L448.30,376.18 L449.26,376.75 L450.50,376.47 L450.23,375.23 L449.37,374.61 L448.54,373.96 L447.73,373.29 L446.94,372.61 L446.18,371.90 L445.44,371.17 L444.72,370.41 L444.02,369.64 L443.35,368.84 L442.69,368.03Z"/><path d="M437.80,371.30 L438.36,372.33 L438.89,373.38 L439.38,374.44 L439.86,375.51 L440.30,376.59 L440.71,377.69 L441.10,378.79 L441.45,379.92 L441.78,381.05 L442.08,382.20 L443.14,382.90 L443.84,381.84 L443.63,380.63 L443.39,379.42 L443.12,378.22 L442.81,377.03 L442.47,375.84 L442.10,374.67 L441.70,373.50 L441.27,372.34 L440.80,371.19 L440.31,370.05Z"/><path d="M434.64,370.40 L434.35,371.36 L434.10,372.33 L433.87,373.30 L433.68,374.28 L433.53,375.26 L433.40,376.24 L433.31,377.22 L433.26,378.21 L433.23,379.20 L433.24,380.19 L434.12,381.11 L435.04,380.24 L435.13,379.31 L435.25,378.39 L435.40,377.48 L435.58,376.59 L435.79,375.70 L436.02,374.82 L436.29,373.94 L436.59,373.08 L436.91,372.23 L437.27,371.38Z"/><path d="M431.98,368.78 L431.45,369.68 L430.89,370.56 L430.31,371.42 L429.70,372.27 L429.07,373.09 L428.41,373.90 L427.73,374.69 L427.02,375.47 L426.29,376.22 L425.53,376.96 L425.43,378.23 L426.70,378.33 L427.56,377.63 L428.41,376.91 L429.23,376.16 L430.03,375.39 L430.81,374.60 L431.56,373.79 L432.29,372.95 L433.00,372.08 L433.68,371.19 L434.34,370.28Z"/><path d="M431.15,365.58 L429.94,365.89 L428.75,366.23 L427.57,366.61 L426.40,367.01 L425.25,367.44 L424.11,367.90 L422.98,368.40 L421.87,368.92 L420.77,369.47 L419.68,370.06 L419.28,371.26 L420.48,371.67 L421.57,371.19 L422.67,370.75 L423.77,370.34 L424.88,369.96 L426.00,369.62 L427.12,369.30 L428.26,369.01 L429.40,368.75 L430.55,368.52 L431.70,368.33Z"/><path d="M431.25,362.46 L430.33,362.47 L429.41,362.45 L428.50,362.40 L427.60,362.32 L426.69,362.21 L425.79,362.07 L424.89,361.90 L423.99,361.70 L423.09,361.47 L422.20,361.20 L421.04,361.73 L421.57,362.89 L422.49,363.27 L423.41,363.61 L424.35,363.93 L425.30,364.22 L426.25,364.47 L427.22,364.69 L428.19,364.88 L429.18,365.04 L430.17,365.16 L431.18,365.25Z"/><path d="M433.64,360.15 L432.85,359.34 L432.05,358.56 L431.23,357.80 L430.39,357.07 L429.53,356.37 L428.65,355.69 L427.75,355.04 L426.84,354.42 L425.90,353.82 L424.94,353.25 L423.70,353.53 L423.97,354.77 L424.83,355.39 L425.66,356.04 L426.47,356.71 L427.26,357.39 L428.02,358.10 L428.76,358.83 L429.48,359.59 L430.18,360.36 L430.85,361.16 L431.51,361.97Z"/><path d="M436.40,358.70 L435.84,357.67 L435.31,356.62 L434.82,355.56 L434.34,354.49 L433.90,353.41 L433.49,352.31 L433.10,351.21 L432.75,350.08 L432.42,348.95 L432.12,347.80 L431.06,347.10 L430.36,348.16 L430.57,349.37 L430.81,350.58 L431.08,351.78 L431.39,352.97 L431.73,354.16 L432.10,355.33 L432.50,356.50 L432.93,357.66 L433.40,358.81 L433.89,359.95Z"/><path d="M439.56,359.60 L439.85,358.64 L440.10,357.67 L440.33,356.70 L440.52,355.72 L440.67,354.74 L440.80,353.76 L440.89,352.78 L440.94,351.79 L440.97,350.80 L440.96,349.81 L440.08,348.89 L439.16,349.76 L439.07,350.69 L438.95,351.61 L438.80,352.52 L438.62,353.41 L438.41,354.30 L438.18,355.18 L437.91,356.06 L437.61,356.92 L437.29,357.77 L436.93,358.62Z"/><path d="M442.22,361.22 L442.75,360.32 L443.31,359.44 L443.89,358.58 L444.50,357.73 L445.13,356.91 L445.79,356.10 L446.47,355.31 L447.18,354.53 L447.91,353.78 L448.67,353.04 L448.77,351.77 L447.50,351.67 L446.64,352.37 L445.79,353.09 L444.97,353.84 L444.17,354.61 L443.39,355.40 L442.64,356.21 L441.91,357.05 L441.20,357.92 L440.52,358.81 L439.86,359.72Z"/><path d="M443.05,364.42 L444.26,364.11 L445.45,363.77 L446.63,363.39 L447.80,362.99 L448.95,362.56 L450.09,362.10 L451.22,361.60 L452.33,361.08 L453.43,360.53 L454.52,359.94 L454.92,358.74 L453.72,358.33 L452.63,358.81 L451.53,359.25 L450.43,359.66 L449.32,360.04 L448.20,360.38 L447.08,360.70 L445.94,360.99 L444.80,361.25 L443.65,361.48 L442.50,361.67Z"/></g>
<g fill="#c9a3e3"><path d="M447.93,365.44 C447.38,367.78 444.51,370.96 442.75,372.53 C440.99,374.10 439.47,374.79 437.36,374.88 C435.24,374.96 431.50,374.23 430.06,373.05 C428.61,371.87 428.86,370.06 428.68,367.80 C428.51,365.53 428.00,361.32 428.98,359.45 C429.95,357.58 432.65,357.32 434.54,356.58 C436.43,355.83 438.38,354.65 440.29,354.96 C442.21,355.28 444.78,356.74 446.05,358.48 C447.32,360.23 448.47,363.10 447.93,365.44Z"/><path d="M442.95,367.54 L443.87,367.53 L444.79,367.55 L445.70,367.60 L446.60,367.68 L447.51,367.79 L448.41,367.93 L449.31,368.10 L450.21,368.30 L451.11,368.53 L452.00,368.80 L453.16,368.27 L452.63,367.11 L451.71,366.73 L450.79,366.39 L449.85,366.07 L448.90,365.78 L447.95,365.53 L446.98,365.31 L446.01,365.12 L445.02,364.96 L444.03,364.84 L443.02,364.75Z"/><path d="M440.56,369.85 L441.35,370.66 L442.15,371.44 L442.97,372.20 L443.81,372.93 L444.67,373.63 L445.55,374.31 L446.45,374.96 L447.36,375.58 L448.30,376.18 L449.26,376.75 L450.50,376.47 L450.23,375.23 L449.37,374.61 L448.54,373.96 L447.73,373.29 L446.94,372.61 L446.18,371.90 L445.44,371.17 L444.72,370.41 L444.02,369.64 L443.35,368.84 L442.69,368.03Z"/><path d="M437.80,371.30 L438.36,372.33 L438.89,373.38 L439.38,374.44 L439.86,375.51 L440.30,376.59 L440.71,377.69 L441.10,378.79 L441.45,379.92 L441.78,381.05 L442.08,382.20 L443.14,382.90 L443.84,381.84 L443.63,380.63 L443.39,379.42 L443.12,378.22 L442.81,377.03 L442.47,375.84 L442.10,374.67 L441.70,373.50 L441.27,372.34 L440.80,371.19 L440.31,370.05Z"/><path d="M434.64,370.40 L434.35,371.36 L434.10,372.33 L433.87,373.30 L433.68,374.28 L433.53,375.26 L433.40,376.24 L433.31,377.22 L433.26,378.21 L433.23,379.20 L433.24,380.19 L434.12,381.11 L435.04,380.24 L435.13,379.31 L435.25,378.39 L435.40,377.48 L435.58,376.59 L435.79,375.70 L436.02,374.82 L436.29,373.94 L436.59,373.08 L436.91,372.23 L437.27,371.38Z"/><path d="M431.98,368.78 L431.45,369.68 L430.89,370.56 L430.31,371.42 L429.70,372.27 L429.07,373.09 L428.41,373.90 L427.73,374.69 L427.02,375.47 L426.29,376.22 L425.53,376.96 L425.43,378.23 L426.70,378.33 L427.56,377.63 L428.41,376.91 L429.23,376.16 L430.03,375.39 L430.81,374.60 L431.56,373.79 L432.29,372.95 L433.00,372.08 L433.68,371.19 L434.34,370.28Z"/><path d="M431.15,365.58 L429.94,365.89 L428.75,366.23 L427.57,366.61 L426.40,367.01 L425.25,367.44 L424.11,367.90 L422.98,368.40 L421.87,368.92 L420.77,369.47 L419.68,370.06 L419.28,371.26 L420.48,371.67 L421.57,371.19 L422.67,370.75 L423.77,370.34 L424.88,369.96 L426.00,369.62 L427.12,369.30 L428.26,369.01 L429.40,368.75 L430.55,368.52 L431.70,368.33Z"/><path d="M431.25,362.46 L430.33,362.47 L429.41,362.45 L428.50,362.40 L427.60,362.32 L426.69,362.21 L425.79,362.07 L424.89,361.90 L423.99,361.70 L423.09,361.47 L422.20,361.20 L421.04,361.73 L421.57,362.89 L422.49,363.27 L423.41,363.61 L424.35,363.93 L425.30,364.22 L426.25,364.47 L427.22,364.69 L428.19,364.88 L429.18,365.04 L430.17,365.16 L431.18,365.25Z"/><path d="M433.64,360.15 L432.85,359.34 L432.05,358.56 L431.23,357.80 L430.39,357.07 L429.53,356.37 L428.65,355.69 L427.75,355.04 L426.84,354.42 L425.90,353.82 L424.94,353.25 L423.70,353.53 L423.97,354.77 L424.83,355.39 L425.66,356.04 L426.47,356.71 L427.26,357.39 L428.02,358.10 L428.76,358.83 L429.48,359.59 L430.18,360.36 L430.85,361.16 L431.51,361.97Z"/><path d="M436.40,358.70 L435.84,357.67 L435.31,356.62 L434.82,355.56 L434.34,354.49 L433.90,353.41 L433.49,352.31 L433.10,351.21 L432.75,350.08 L432.42,348.95 L432.12,347.80 L431.06,347.10 L430.36,348.16 L430.57,349.37 L430.81,350.58 L431.08,351.78 L431.39,352.97 L431.73,354.16 L432.10,355.33 L432.50,356.50 L432.93,357.66 L433.40,358.81 L433.89,359.95Z"/><path d="M439.56,359.60 L439.85,358.64 L440.10,357.67 L440.33,356.70 L440.52,355.72 L440.67,354.74 L440.80,353.76 L440.89,352.78 L440.94,351.79 L440.97,350.80 L440.96,349.81 L440.08,348.89 L439.16,349.76 L439.07,350.69 L438.95,351.61 L438.80,352.52 L438.62,353.41 L438.41,354.30 L438.18,355.18 L437.91,356.06 L437.61,356.92 L437.29,357.77 L436.93,358.62Z"/><path d="M442.22,361.22 L442.75,360.32 L443.31,359.44 L443.89,358.58 L444.50,357.73 L445.13,356.91 L445.79,356.10 L446.47,355.31 L447.18,354.53 L447.91,353.78 L448.67,353.04 L448.77,351.77 L447.50,351.67 L446.64,352.37 L445.79,353.09 L444.97,353.84 L444.17,354.61 L443.39,355.40 L442.64,356.21 L441.91,357.05 L441.20,357.92 L440.52,358.81 L439.86,359.72Z"/><path d="M443.05,364.42 L444.26,364.11 L445.45,363.77 L446.63,363.39 L447.80,362.99 L448.95,362.56 L450.09,362.10 L451.22,361.60 L452.33,361.08 L453.43,360.53 L454.52,359.94 L454.92,358.74 L453.72,358.33 L452.63,358.81 L451.53,359.25 L450.43,359.66 L449.32,360.04 L448.20,360.38 L447.08,360.70 L445.94,360.99 L444.80,361.25 L443.65,361.48 L442.50,361.67Z"/></g>
<circle cx="438.1" cy="366" r="5.0" fill="#a57fcb"/>
</g>
<g >
<g fill="#8c88d2" stroke="#8c88d2" stroke-width="0.80" stroke-linejoin="round"><path d="M392.55,416.06 C392.06,418.05 390.24,417.90 387.96,419.38 C385.67,420.86 381.46,424.69 378.84,424.94 C376.21,425.19 374.07,422.64 372.21,420.87 C370.35,419.11 367.99,416.70 367.66,414.35 C367.34,412.00 368.99,408.93 370.26,406.79 C371.53,404.65 372.86,402.65 375.31,401.50 C377.75,400.35 382.32,398.90 384.92,399.89 C387.52,400.88 389.64,404.73 390.91,407.43 C392.18,410.12 393.04,414.07 392.55,416.06Z"/><path d="M386.14,416.36 L387.22,416.59 L388.30,416.86 L389.37,417.15 L390.43,417.47 L391.48,417.83 L392.52,418.21 L393.55,418.62 L394.58,419.07 L395.59,419.54 L396.60,420.05 L397.83,419.72 L397.50,418.49 L396.49,417.87 L395.48,417.28 L394.45,416.73 L393.40,416.20 L392.34,415.70 L391.27,415.22 L390.18,414.78 L389.07,414.37 L387.95,413.99 L386.81,413.64Z"/><path d="M383.03,418.69 L383.77,419.80 L384.54,420.89 L385.33,421.95 L386.14,422.99 L386.98,424.01 L387.85,425.01 L388.73,425.98 L389.64,426.94 L390.58,427.87 L391.54,428.78 L392.81,428.77 L392.81,427.50 L391.95,426.56 L391.12,425.59 L390.32,424.61 L389.55,423.61 L388.79,422.59 L388.07,421.56 L387.37,420.51 L386.70,419.44 L386.05,418.36 L385.43,417.25Z"/><path d="M379.45,419.78 L379.83,421.14 L380.18,422.51 L380.51,423.89 L380.80,425.27 L381.06,426.66 L381.29,428.06 L381.49,429.46 L381.66,430.88 L381.80,432.29 L381.91,433.72 L382.83,434.59 L383.71,433.66 L383.70,432.20 L383.66,430.73 L383.58,429.27 L383.48,427.80 L383.34,426.34 L383.17,424.89 L382.96,423.43 L382.73,421.98 L382.46,420.53 L382.16,419.08Z"/><path d="M375.89,418.28 L375.35,419.34 L374.85,420.41 L374.38,421.49 L373.94,422.58 L373.53,423.68 L373.15,424.79 L372.81,425.91 L372.49,427.04 L372.21,428.18 L371.96,429.33 L372.61,430.42 L373.71,429.76 L374.04,428.69 L374.40,427.63 L374.80,426.59 L375.22,425.56 L375.66,424.54 L376.14,423.54 L376.64,422.55 L377.17,421.58 L377.73,420.62 L378.32,419.68Z"/><path d="M373.14,415.74 L372.27,416.66 L371.38,417.56 L370.47,418.43 L369.53,419.29 L368.58,420.11 L367.61,420.92 L366.61,421.70 L365.60,422.46 L364.56,423.19 L363.50,423.90 L363.19,425.14 L364.42,425.45 L365.57,424.80 L366.71,424.12 L367.82,423.42 L368.92,422.68 L370.00,421.93 L371.06,421.14 L372.10,420.33 L373.13,419.49 L374.13,418.62 L375.12,417.72Z"/><path d="M372.63,411.90 L371.16,412.01 L369.69,412.15 L368.23,412.33 L366.77,412.53 L365.32,412.77 L363.88,413.04 L362.45,413.34 L361.02,413.67 L359.60,414.04 L358.19,414.43 L357.54,415.53 L358.63,416.18 L360.03,415.89 L361.43,415.63 L362.83,415.40 L364.24,415.21 L365.64,415.05 L367.05,414.92 L368.46,414.81 L369.88,414.75 L371.29,414.71 L372.71,414.70Z"/><path d="M373.46,408.24 L372.38,408.01 L371.30,407.74 L370.23,407.45 L369.17,407.13 L368.12,406.77 L367.08,406.39 L366.05,405.98 L365.02,405.53 L364.01,405.06 L363.00,404.55 L361.77,404.88 L362.10,406.11 L363.11,406.73 L364.12,407.32 L365.15,407.87 L366.20,408.40 L367.26,408.90 L368.33,409.38 L369.42,409.82 L370.53,410.23 L371.65,410.61 L372.79,410.96Z"/><path d="M376.57,405.91 L375.83,404.80 L375.06,403.71 L374.27,402.65 L373.46,401.61 L372.62,400.59 L371.75,399.59 L370.87,398.62 L369.96,397.66 L369.02,396.73 L368.06,395.82 L366.79,395.83 L366.79,397.10 L367.65,398.04 L368.48,399.01 L369.28,399.99 L370.05,400.99 L370.81,402.01 L371.53,403.04 L372.23,404.09 L372.90,405.16 L373.55,406.24 L374.17,407.35Z"/><path d="M380.15,404.82 L379.77,403.46 L379.42,402.09 L379.09,400.71 L378.80,399.33 L378.54,397.94 L378.31,396.54 L378.11,395.14 L377.94,393.72 L377.80,392.31 L377.69,390.88 L376.77,390.01 L375.89,390.94 L375.90,392.40 L375.94,393.87 L376.02,395.33 L376.12,396.80 L376.26,398.26 L376.43,399.71 L376.64,401.17 L376.87,402.62 L377.14,404.07 L377.44,405.52Z"/><path d="M383.71,406.32 L384.25,405.26 L384.75,404.19 L385.22,403.11 L385.66,402.02 L386.07,400.92 L386.45,399.81 L386.79,398.69 L387.11,397.56 L387.39,396.42 L387.64,395.27 L386.99,394.18 L385.89,394.84 L385.56,395.91 L385.20,396.97 L384.80,398.01 L384.38,399.04 L383.94,400.06 L383.46,401.06 L382.96,402.05 L382.43,403.02 L381.87,403.98 L381.28,404.92Z"/><path d="M386.46,408.86 L387.33,407.94 L388.22,407.04 L389.13,406.17 L390.07,405.31 L391.02,404.49 L391.99,403.68 L392.99,402.90 L394.00,402.14 L395.04,401.41 L396.10,400.70 L396.41,399.46 L395.18,399.15 L394.03,399.80 L392.89,400.48 L391.78,401.18 L390.68,401.92 L389.60,402.67 L388.54,403.46 L387.50,404.27 L386.47,405.11 L385.47,405.98 L384.48,406.88Z"/><path d="M386.97,412.70 L388.44,412.59 L389.91,412.45 L391.37,412.27 L392.83,412.07 L394.28,411.83 L395.72,411.56 L397.15,411.26 L398.58,410.93 L400.00,410.56 L401.41,410.17 L402.06,409.07 L400.97,408.42 L399.57,408.71 L398.17,408.97 L396.77,409.20 L395.36,409.39 L393.96,409.55 L392.55,409.68 L391.14,409.79 L389.72,409.85 L388.31,409.89 L386.89,409.90Z"/></g>
<g fill="#a9a6e3"><path d="M392.55,416.06 C392.06,418.05 390.24,417.90 387.96,419.38 C385.67,420.86 381.46,424.69 378.84,424.94 C376.21,425.19 374.07,422.64 372.21,420.87 C370.35,419.11 367.99,416.70 367.66,414.35 C367.34,412.00 368.99,408.93 370.26,406.79 C371.53,404.65 372.86,402.65 375.31,401.50 C377.75,400.35 382.32,398.90 384.92,399.89 C387.52,400.88 389.64,404.73 390.91,407.43 C392.18,410.12 393.04,414.07 392.55,416.06Z"/><path d="M386.14,416.36 L387.22,416.59 L388.30,416.86 L389.37,417.15 L390.43,417.47 L391.48,417.83 L392.52,418.21 L393.55,418.62 L394.58,419.07 L395.59,419.54 L396.60,420.05 L397.83,419.72 L397.50,418.49 L396.49,417.87 L395.48,417.28 L394.45,416.73 L393.40,416.20 L392.34,415.70 L391.27,415.22 L390.18,414.78 L389.07,414.37 L387.95,413.99 L386.81,413.64Z"/><path d="M383.03,418.69 L383.77,419.80 L384.54,420.89 L385.33,421.95 L386.14,422.99 L386.98,424.01 L387.85,425.01 L388.73,425.98 L389.64,426.94 L390.58,427.87 L391.54,428.78 L392.81,428.77 L392.81,427.50 L391.95,426.56 L391.12,425.59 L390.32,424.61 L389.55,423.61 L388.79,422.59 L388.07,421.56 L387.37,420.51 L386.70,419.44 L386.05,418.36 L385.43,417.25Z"/><path d="M379.45,419.78 L379.83,421.14 L380.18,422.51 L380.51,423.89 L380.80,425.27 L381.06,426.66 L381.29,428.06 L381.49,429.46 L381.66,430.88 L381.80,432.29 L381.91,433.72 L382.83,434.59 L383.71,433.66 L383.70,432.20 L383.66,430.73 L383.58,429.27 L383.48,427.80 L383.34,426.34 L383.17,424.89 L382.96,423.43 L382.73,421.98 L382.46,420.53 L382.16,419.08Z"/><path d="M375.89,418.28 L375.35,419.34 L374.85,420.41 L374.38,421.49 L373.94,422.58 L373.53,423.68 L373.15,424.79 L372.81,425.91 L372.49,427.04 L372.21,428.18 L371.96,429.33 L372.61,430.42 L373.71,429.76 L374.04,428.69 L374.40,427.63 L374.80,426.59 L375.22,425.56 L375.66,424.54 L376.14,423.54 L376.64,422.55 L377.17,421.58 L377.73,420.62 L378.32,419.68Z"/><path d="M373.14,415.74 L372.27,416.66 L371.38,417.56 L370.47,418.43 L369.53,419.29 L368.58,420.11 L367.61,420.92 L366.61,421.70 L365.60,422.46 L364.56,423.19 L363.50,423.90 L363.19,425.14 L364.42,425.45 L365.57,424.80 L366.71,424.12 L367.82,423.42 L368.92,422.68 L370.00,421.93 L371.06,421.14 L372.10,420.33 L373.13,419.49 L374.13,418.62 L375.12,417.72Z"/><path d="M372.63,411.90 L371.16,412.01 L369.69,412.15 L368.23,412.33 L366.77,412.53 L365.32,412.77 L363.88,413.04 L362.45,413.34 L361.02,413.67 L359.60,414.04 L358.19,414.43 L357.54,415.53 L358.63,416.18 L360.03,415.89 L361.43,415.63 L362.83,415.40 L364.24,415.21 L365.64,415.05 L367.05,414.92 L368.46,414.81 L369.88,414.75 L371.29,414.71 L372.71,414.70Z"/><path d="M373.46,408.24 L372.38,408.01 L371.30,407.74 L370.23,407.45 L369.17,407.13 L368.12,406.77 L367.08,406.39 L366.05,405.98 L365.02,405.53 L364.01,405.06 L363.00,404.55 L361.77,404.88 L362.10,406.11 L363.11,406.73 L364.12,407.32 L365.15,407.87 L366.20,408.40 L367.26,408.90 L368.33,409.38 L369.42,409.82 L370.53,410.23 L371.65,410.61 L372.79,410.96Z"/><path d="M376.57,405.91 L375.83,404.80 L375.06,403.71 L374.27,402.65 L373.46,401.61 L372.62,400.59 L371.75,399.59 L370.87,398.62 L369.96,397.66 L369.02,396.73 L368.06,395.82 L366.79,395.83 L366.79,397.10 L367.65,398.04 L368.48,399.01 L369.28,399.99 L370.05,400.99 L370.81,402.01 L371.53,403.04 L372.23,404.09 L372.90,405.16 L373.55,406.24 L374.17,407.35Z"/><path d="M380.15,404.82 L379.77,403.46 L379.42,402.09 L379.09,400.71 L378.80,399.33 L378.54,397.94 L378.31,396.54 L378.11,395.14 L377.94,393.72 L377.80,392.31 L377.69,390.88 L376.77,390.01 L375.89,390.94 L375.90,392.40 L375.94,393.87 L376.02,395.33 L376.12,396.80 L376.26,398.26 L376.43,399.71 L376.64,401.17 L376.87,402.62 L377.14,404.07 L377.44,405.52Z"/><path d="M383.71,406.32 L384.25,405.26 L384.75,404.19 L385.22,403.11 L385.66,402.02 L386.07,400.92 L386.45,399.81 L386.79,398.69 L387.11,397.56 L387.39,396.42 L387.64,395.27 L386.99,394.18 L385.89,394.84 L385.56,395.91 L385.20,396.97 L384.80,398.01 L384.38,399.04 L383.94,400.06 L383.46,401.06 L382.96,402.05 L382.43,403.02 L381.87,403.98 L381.28,404.92Z"/><path d="M386.46,408.86 L387.33,407.94 L388.22,407.04 L389.13,406.17 L390.07,405.31 L391.02,404.49 L391.99,403.68 L392.99,402.90 L394.00,402.14 L395.04,401.41 L396.10,400.70 L396.41,399.46 L395.18,399.15 L394.03,399.80 L392.89,400.48 L391.78,401.18 L390.68,401.92 L389.60,402.67 L388.54,403.46 L387.50,404.27 L386.47,405.11 L385.47,405.98 L384.48,406.88Z"/><path d="M386.97,412.70 L388.44,412.59 L389.91,412.45 L391.37,412.27 L392.83,412.07 L394.28,411.83 L395.72,411.56 L397.15,411.26 L398.58,410.93 L400.00,410.56 L401.41,410.17 L402.06,409.07 L400.97,408.42 L399.57,408.71 L398.17,408.97 L396.77,409.20 L395.36,409.39 L393.96,409.55 L392.55,409.68 L391.14,409.79 L389.72,409.85 L388.31,409.89 L386.89,409.90Z"/></g>
<circle cx="380.8" cy="413.3" r="6.0" fill="#8682c8"/>
</g>
<g >
<g fill="#ad85cf" stroke="#ad85cf" stroke-width="0.80" stroke-linejoin="round"><path d="M363.48,495.52 C363.07,497.64 362.17,500.84 360.47,502.22 C358.77,503.59 355.37,503.44 353.28,503.76 C351.20,504.08 349.44,505.21 347.96,504.14 C346.47,503.07 344.79,499.86 344.38,497.31 C343.97,494.75 344.43,490.82 345.48,488.81 C346.54,486.79 348.86,485.65 350.72,485.22 C352.59,484.80 354.65,485.53 356.68,486.25 C358.71,486.96 361.78,487.96 362.91,489.51 C364.04,491.05 363.89,493.40 363.48,495.52Z"/><path d="M357.88,499.35 L358.73,499.68 L359.57,500.04 L360.40,500.43 L361.21,500.84 L362.01,501.28 L362.79,501.75 L363.56,502.25 L364.32,502.77 L365.06,503.32 L365.79,503.90 L367.06,503.85 L367.01,502.58 L366.30,501.88 L365.57,501.21 L364.82,500.57 L364.05,499.95 L363.26,499.35 L362.45,498.79 L361.61,498.25 L360.76,497.73 L359.88,497.24 L358.99,496.78Z"/><path d="M354.80,500.59 L355.22,501.64 L355.67,502.66 L356.14,503.67 L356.65,504.66 L357.18,505.64 L357.75,506.60 L358.34,507.53 L358.95,508.46 L359.60,509.36 L360.27,510.25 L361.53,510.46 L361.74,509.20 L361.18,508.30 L360.65,507.39 L360.15,506.47 L359.67,505.54 L359.23,504.59 L358.82,503.64 L358.43,502.67 L358.08,501.69 L357.75,500.70 L357.45,499.70Z"/><path d="M351.69,500.90 L351.82,502.07 L351.92,503.24 L351.98,504.41 L352.02,505.57 L352.02,506.74 L352.00,507.92 L351.94,509.09 L351.85,510.26 L351.73,511.43 L351.57,512.61 L352.29,513.66 L353.34,512.94 L353.60,511.73 L353.83,510.52 L354.03,509.31 L354.19,508.09 L354.32,506.86 L354.42,505.64 L354.48,504.40 L354.52,503.17 L354.52,501.92 L354.48,500.68Z"/><path d="M349.10,498.89 L348.47,499.67 L347.87,500.47 L347.30,501.29 L346.76,502.12 L346.25,502.97 L345.76,503.84 L345.31,504.71 L344.89,505.61 L344.50,506.52 L344.13,507.44 L344.60,508.63 L345.78,508.16 L346.21,507.33 L346.67,506.52 L347.15,505.74 L347.65,504.97 L348.17,504.22 L348.72,503.50 L349.30,502.79 L349.90,502.10 L350.52,501.43 L351.16,500.78Z"/><path d="M347.24,496.38 L346.41,497.02 L345.56,497.63 L344.70,498.21 L343.82,498.77 L342.92,499.30 L342.01,499.80 L341.08,500.28 L340.13,500.73 L339.17,501.15 L338.19,501.55 L337.62,502.69 L338.76,503.26 L339.83,502.94 L340.88,502.58 L341.92,502.20 L342.95,501.79 L343.97,501.35 L344.97,500.87 L345.97,500.37 L346.95,499.83 L347.91,499.26 L348.87,498.66Z"/><path d="M347.67,493.11 L346.43,492.95 L345.20,492.82 L343.96,492.72 L342.73,492.66 L341.50,492.62 L340.27,492.63 L339.04,492.66 L337.81,492.73 L336.58,492.83 L335.35,492.96 L334.53,493.93 L335.50,494.76 L336.68,494.73 L337.86,494.73 L339.04,494.76 L340.21,494.83 L341.38,494.92 L342.54,495.05 L343.70,495.21 L344.85,495.39 L346.00,495.61 L347.15,495.86Z"/><path d="M348.92,490.25 L348.07,489.92 L347.23,489.56 L346.40,489.17 L345.59,488.76 L344.79,488.32 L344.01,487.85 L343.24,487.35 L342.48,486.83 L341.74,486.28 L341.01,485.70 L339.74,485.75 L339.79,487.02 L340.50,487.72 L341.23,488.39 L341.98,489.03 L342.75,489.65 L343.54,490.25 L344.35,490.81 L345.19,491.35 L346.04,491.87 L346.92,492.36 L347.81,492.82Z"/><path d="M352.00,489.01 L351.58,487.96 L351.13,486.94 L350.66,485.93 L350.15,484.94 L349.62,483.96 L349.05,483.00 L348.46,482.07 L347.85,481.14 L347.20,480.24 L346.53,479.35 L345.27,479.14 L345.06,480.40 L345.62,481.30 L346.15,482.21 L346.65,483.13 L347.13,484.06 L347.57,485.01 L347.98,485.96 L348.37,486.93 L348.72,487.91 L349.05,488.90 L349.35,489.90Z"/><path d="M355.11,488.70 L354.98,487.53 L354.88,486.36 L354.82,485.19 L354.78,484.03 L354.78,482.86 L354.80,481.68 L354.86,480.51 L354.95,479.34 L355.07,478.17 L355.23,476.99 L354.51,475.94 L353.46,476.66 L353.20,477.87 L352.97,479.08 L352.77,480.29 L352.61,481.51 L352.48,482.74 L352.38,483.96 L352.32,485.20 L352.28,486.43 L352.28,487.68 L352.32,488.92Z"/><path d="M357.70,490.71 L358.33,489.93 L358.93,489.13 L359.50,488.31 L360.04,487.48 L360.55,486.63 L361.04,485.76 L361.49,484.89 L361.91,483.99 L362.30,483.08 L362.67,482.16 L362.20,480.97 L361.02,481.44 L360.59,482.27 L360.13,483.08 L359.65,483.86 L359.15,484.63 L358.63,485.38 L358.08,486.10 L357.50,486.81 L356.90,487.50 L356.28,488.17 L355.64,488.82Z"/><path d="M359.56,493.22 L360.39,492.58 L361.24,491.97 L362.10,491.39 L362.98,490.83 L363.88,490.30 L364.79,489.80 L365.72,489.32 L366.67,488.87 L367.63,488.45 L368.61,488.05 L369.18,486.91 L368.04,486.34 L366.97,486.66 L365.92,487.02 L364.88,487.40 L363.85,487.81 L362.83,488.25 L361.83,488.73 L360.83,489.23 L359.85,489.77 L358.89,490.34 L357.93,490.94Z"/><path d="M359.13,496.49 L360.37,496.65 L361.60,496.78 L362.84,496.88 L364.07,496.94 L365.30,496.98 L366.53,496.97 L367.76,496.94 L368.99,496.87 L370.22,496.77 L371.45,496.64 L372.27,495.67 L371.30,494.84 L370.12,494.87 L368.94,494.87 L367.76,494.84 L366.59,494.77 L365.42,494.68 L364.26,494.55 L363.10,494.39 L361.95,494.21 L360.80,493.99 L359.65,493.74Z"/></g>
<g fill="#c69ce0"><path d="M363.48,495.52 C363.07,497.64 362.17,500.84 360.47,502.22 C358.77,503.59 355.37,503.44 353.28,503.76 C351.20,504.08 349.44,505.21 347.96,504.14 C346.47,503.07 344.79,499.86 344.38,497.31 C343.97,494.75 344.43,490.82 345.48,488.81 C346.54,486.79 348.86,485.65 350.72,485.22 C352.59,484.80 354.65,485.53 356.68,486.25 C358.71,486.96 361.78,487.96 362.91,489.51 C364.04,491.05 363.89,493.40 363.48,495.52Z"/><path d="M357.88,499.35 L358.73,499.68 L359.57,500.04 L360.40,500.43 L361.21,500.84 L362.01,501.28 L362.79,501.75 L363.56,502.25 L364.32,502.77 L365.06,503.32 L365.79,503.90 L367.06,503.85 L367.01,502.58 L366.30,501.88 L365.57,501.21 L364.82,500.57 L364.05,499.95 L363.26,499.35 L362.45,498.79 L361.61,498.25 L360.76,497.73 L359.88,497.24 L358.99,496.78Z"/><path d="M354.80,500.59 L355.22,501.64 L355.67,502.66 L356.14,503.67 L356.65,504.66 L357.18,505.64 L357.75,506.60 L358.34,507.53 L358.95,508.46 L359.60,509.36 L360.27,510.25 L361.53,510.46 L361.74,509.20 L361.18,508.30 L360.65,507.39 L360.15,506.47 L359.67,505.54 L359.23,504.59 L358.82,503.64 L358.43,502.67 L358.08,501.69 L357.75,500.70 L357.45,499.70Z"/><path d="M351.69,500.90 L351.82,502.07 L351.92,503.24 L351.98,504.41 L352.02,505.57 L352.02,506.74 L352.00,507.92 L351.94,509.09 L351.85,510.26 L351.73,511.43 L351.57,512.61 L352.29,513.66 L353.34,512.94 L353.60,511.73 L353.83,510.52 L354.03,509.31 L354.19,508.09 L354.32,506.86 L354.42,505.64 L354.48,504.40 L354.52,503.17 L354.52,501.92 L354.48,500.68Z"/><path d="M349.10,498.89 L348.47,499.67 L347.87,500.47 L347.30,501.29 L346.76,502.12 L346.25,502.97 L345.76,503.84 L345.31,504.71 L344.89,505.61 L344.50,506.52 L344.13,507.44 L344.60,508.63 L345.78,508.16 L346.21,507.33 L346.67,506.52 L347.15,505.74 L347.65,504.97 L348.17,504.22 L348.72,503.50 L349.30,502.79 L349.90,502.10 L350.52,501.43 L351.16,500.78Z"/><path d="M347.24,496.38 L346.41,497.02 L345.56,497.63 L344.70,498.21 L343.82,498.77 L342.92,499.30 L342.01,499.80 L341.08,500.28 L340.13,500.73 L339.17,501.15 L338.19,501.55 L337.62,502.69 L338.76,503.26 L339.83,502.94 L340.88,502.58 L341.92,502.20 L342.95,501.79 L343.97,501.35 L344.97,500.87 L345.97,500.37 L346.95,499.83 L347.91,499.26 L348.87,498.66Z"/><path d="M347.67,493.11 L346.43,492.95 L345.20,492.82 L343.96,492.72 L342.73,492.66 L341.50,492.62 L340.27,492.63 L339.04,492.66 L337.81,492.73 L336.58,492.83 L335.35,492.96 L334.53,493.93 L335.50,494.76 L336.68,494.73 L337.86,494.73 L339.04,494.76 L340.21,494.83 L341.38,494.92 L342.54,495.05 L343.70,495.21 L344.85,495.39 L346.00,495.61 L347.15,495.86Z"/><path d="M348.92,490.25 L348.07,489.92 L347.23,489.56 L346.40,489.17 L345.59,488.76 L344.79,488.32 L344.01,487.85 L343.24,487.35 L342.48,486.83 L341.74,486.28 L341.01,485.70 L339.74,485.75 L339.79,487.02 L340.50,487.72 L341.23,488.39 L341.98,489.03 L342.75,489.65 L343.54,490.25 L344.35,490.81 L345.19,491.35 L346.04,491.87 L346.92,492.36 L347.81,492.82Z"/><path d="M352.00,489.01 L351.58,487.96 L351.13,486.94 L350.66,485.93 L350.15,484.94 L349.62,483.96 L349.05,483.00 L348.46,482.07 L347.85,481.14 L347.20,480.24 L346.53,479.35 L345.27,479.14 L345.06,480.40 L345.62,481.30 L346.15,482.21 L346.65,483.13 L347.13,484.06 L347.57,485.01 L347.98,485.96 L348.37,486.93 L348.72,487.91 L349.05,488.90 L349.35,489.90Z"/><path d="M355.11,488.70 L354.98,487.53 L354.88,486.36 L354.82,485.19 L354.78,484.03 L354.78,482.86 L354.80,481.68 L354.86,480.51 L354.95,479.34 L355.07,478.17 L355.23,476.99 L354.51,475.94 L353.46,476.66 L353.20,477.87 L352.97,479.08 L352.77,480.29 L352.61,481.51 L352.48,482.74 L352.38,483.96 L352.32,485.20 L352.28,486.43 L352.28,487.68 L352.32,488.92Z"/><path d="M357.70,490.71 L358.33,489.93 L358.93,489.13 L359.50,488.31 L360.04,487.48 L360.55,486.63 L361.04,485.76 L361.49,484.89 L361.91,483.99 L362.30,483.08 L362.67,482.16 L362.20,480.97 L361.02,481.44 L360.59,482.27 L360.13,483.08 L359.65,483.86 L359.15,484.63 L358.63,485.38 L358.08,486.10 L357.50,486.81 L356.90,487.50 L356.28,488.17 L355.64,488.82Z"/><path d="M359.56,493.22 L360.39,492.58 L361.24,491.97 L362.10,491.39 L362.98,490.83 L363.88,490.30 L364.79,489.80 L365.72,489.32 L366.67,488.87 L367.63,488.45 L368.61,488.05 L369.18,486.91 L368.04,486.34 L366.97,486.66 L365.92,487.02 L364.88,487.40 L363.85,487.81 L362.83,488.25 L361.83,488.73 L360.83,489.23 L359.85,489.77 L358.89,490.34 L357.93,490.94Z"/><path d="M359.13,496.49 L360.37,496.65 L361.60,496.78 L362.84,496.88 L364.07,496.94 L365.30,496.98 L366.53,496.97 L367.76,496.94 L368.99,496.87 L370.22,496.77 L371.45,496.64 L372.27,495.67 L371.30,494.84 L370.12,494.87 L368.94,494.87 L367.76,494.84 L366.59,494.77 L365.42,494.68 L364.26,494.55 L363.10,494.39 L361.95,494.21 L360.80,493.99 L359.65,493.74Z"/></g>
<circle cx="354.4" cy="495.8" r="5.0" fill="#a27ac8"/>
</g>
<g >
<g fill="#a08bd0" stroke="#a08bd0" stroke-width="0.80" stroke-linejoin="round"><path d="M464.52,505.51 C464.07,507.03 463.33,509.15 462.32,510.35 C461.32,511.55 460.36,512.61 458.50,512.72 C456.64,512.82 452.59,512.12 451.15,510.98 C449.72,509.84 449.96,507.50 449.89,505.89 C449.81,504.28 450.01,502.53 450.69,501.30 C451.38,500.08 452.56,499.36 454.01,498.55 C455.46,497.74 457.55,495.98 459.39,496.43 C461.22,496.88 464.18,499.75 465.04,501.27 C465.89,502.78 464.97,504.00 464.52,505.51Z"/><path d="M460.01,509.52 L460.64,509.87 L461.25,510.25 L461.84,510.65 L462.41,511.07 L462.97,511.51 L463.50,511.98 L464.02,512.48 L464.52,513.00 L465.01,513.55 L465.47,514.12 L466.72,514.36 L466.96,513.11 L466.54,512.42 L466.08,511.75 L465.60,511.10 L465.10,510.47 L464.56,509.86 L464.00,509.27 L463.42,508.71 L462.80,508.17 L462.16,507.65 L461.50,507.15Z"/><path d="M457.23,509.75 L457.38,510.66 L457.57,511.56 L457.79,512.44 L458.04,513.31 L458.32,514.17 L458.63,515.02 L458.97,515.86 L459.35,516.68 L459.75,517.49 L460.19,518.28 L461.40,518.69 L461.80,517.48 L461.48,516.70 L461.20,515.92 L460.94,515.13 L460.72,514.34 L460.53,513.54 L460.37,512.74 L460.24,511.93 L460.13,511.12 L460.06,510.30 L460.02,509.48Z"/><path d="M454.74,509.55 L454.70,510.47 L454.64,511.39 L454.54,512.31 L454.41,513.22 L454.25,514.13 L454.06,515.04 L453.84,515.94 L453.59,516.83 L453.30,517.73 L452.99,518.61 L453.46,519.80 L454.64,519.33 L455.07,518.43 L455.47,517.51 L455.84,516.58 L456.18,515.64 L456.48,514.69 L456.76,513.73 L457.00,512.75 L457.21,511.77 L457.39,510.77 L457.53,509.77Z"/><path d="M453.18,507.29 L452.53,507.81 L451.91,508.36 L451.32,508.92 L450.75,509.50 L450.21,510.11 L449.70,510.74 L449.21,511.38 L448.76,512.05 L448.33,512.74 L447.92,513.44 L448.21,514.68 L449.45,514.40 L449.89,513.81 L450.36,513.25 L450.84,512.71 L451.34,512.20 L451.87,511.71 L452.41,511.24 L452.96,510.80 L453.54,510.38 L454.14,509.99 L454.75,509.61Z"/><path d="M452.06,505.07 L451.34,505.47 L450.61,505.84 L449.87,506.18 L449.11,506.50 L448.35,506.79 L447.57,507.05 L446.78,507.28 L445.98,507.48 L445.16,507.65 L444.33,507.80 L443.52,508.78 L444.50,509.59 L445.41,509.54 L446.31,509.45 L447.21,509.33 L448.10,509.18 L448.98,509.00 L449.86,508.78 L450.73,508.53 L451.60,508.25 L452.46,507.93 L453.31,507.58Z"/><path d="M453.20,502.55 L452.24,502.21 L451.28,501.90 L450.31,501.63 L449.34,501.38 L448.36,501.17 L447.38,501.00 L446.39,500.85 L445.40,500.74 L444.40,500.66 L443.40,500.62 L442.43,501.45 L443.26,502.41 L444.19,502.55 L445.11,502.72 L446.02,502.92 L446.92,503.15 L447.80,503.41 L448.68,503.69 L449.55,504.01 L450.40,504.35 L451.25,504.72 L452.09,505.12Z"/><path d="M454.59,500.48 L453.96,500.13 L453.35,499.75 L452.76,499.35 L452.19,498.93 L451.63,498.49 L451.10,498.02 L450.58,497.52 L450.08,497.00 L449.59,496.45 L449.13,495.88 L447.88,495.64 L447.64,496.89 L448.06,497.58 L448.52,498.25 L449.00,498.90 L449.50,499.53 L450.04,500.14 L450.60,500.73 L451.18,501.29 L451.80,501.83 L452.44,502.35 L453.10,502.85Z"/><path d="M457.37,500.25 L457.22,499.34 L457.03,498.44 L456.81,497.56 L456.56,496.69 L456.28,495.83 L455.97,494.98 L455.63,494.14 L455.25,493.32 L454.85,492.51 L454.41,491.72 L453.20,491.31 L452.80,492.52 L453.12,493.30 L453.40,494.08 L453.66,494.87 L453.88,495.66 L454.07,496.46 L454.23,497.26 L454.36,498.07 L454.47,498.88 L454.54,499.70 L454.58,500.52Z"/><path d="M459.86,500.45 L459.90,499.53 L459.96,498.61 L460.06,497.69 L460.19,496.78 L460.35,495.87 L460.54,494.96 L460.76,494.06 L461.01,493.17 L461.30,492.27 L461.61,491.39 L461.14,490.20 L459.96,490.67 L459.53,491.57 L459.13,492.49 L458.76,493.42 L458.42,494.36 L458.12,495.31 L457.84,496.27 L457.60,497.25 L457.39,498.23 L457.21,499.23 L457.07,500.23Z"/><path d="M461.42,502.71 L462.07,502.19 L462.69,501.64 L463.28,501.08 L463.85,500.50 L464.39,499.89 L464.90,499.26 L465.39,498.62 L465.84,497.95 L466.27,497.26 L466.68,496.56 L466.39,495.32 L465.15,495.60 L464.71,496.19 L464.24,496.75 L463.76,497.29 L463.26,497.80 L462.73,498.29 L462.19,498.76 L461.64,499.20 L461.06,499.62 L460.46,500.01 L459.85,500.39Z"/><path d="M462.54,504.93 L463.26,504.53 L463.99,504.16 L464.73,503.82 L465.49,503.50 L466.25,503.21 L467.03,502.95 L467.82,502.72 L468.62,502.52 L469.44,502.35 L470.27,502.20 L471.08,501.22 L470.10,500.41 L469.19,500.46 L468.29,500.55 L467.39,500.67 L466.50,500.82 L465.62,501.00 L464.74,501.22 L463.87,501.47 L463.00,501.75 L462.14,502.07 L461.29,502.42Z"/><path d="M461.40,507.45 L462.36,507.79 L463.32,508.10 L464.29,508.37 L465.26,508.62 L466.24,508.83 L467.22,509.00 L468.21,509.15 L469.20,509.26 L470.20,509.34 L471.20,509.38 L472.17,508.55 L471.34,507.59 L470.41,507.45 L469.49,507.28 L468.58,507.08 L467.68,506.85 L466.80,506.59 L465.92,506.31 L465.05,505.99 L464.20,505.65 L463.35,505.28 L462.51,504.88Z"/></g>
<g fill="#b9a2e0"><path d="M464.52,505.51 C464.07,507.03 463.33,509.15 462.32,510.35 C461.32,511.55 460.36,512.61 458.50,512.72 C456.64,512.82 452.59,512.12 451.15,510.98 C449.72,509.84 449.96,507.50 449.89,505.89 C449.81,504.28 450.01,502.53 450.69,501.30 C451.38,500.08 452.56,499.36 454.01,498.55 C455.46,497.74 457.55,495.98 459.39,496.43 C461.22,496.88 464.18,499.75 465.04,501.27 C465.89,502.78 464.97,504.00 464.52,505.51Z"/><path d="M460.01,509.52 L460.64,509.87 L461.25,510.25 L461.84,510.65 L462.41,511.07 L462.97,511.51 L463.50,511.98 L464.02,512.48 L464.52,513.00 L465.01,513.55 L465.47,514.12 L466.72,514.36 L466.96,513.11 L466.54,512.42 L466.08,511.75 L465.60,511.10 L465.10,510.47 L464.56,509.86 L464.00,509.27 L463.42,508.71 L462.80,508.17 L462.16,507.65 L461.50,507.15Z"/><path d="M457.23,509.75 L457.38,510.66 L457.57,511.56 L457.79,512.44 L458.04,513.31 L458.32,514.17 L458.63,515.02 L458.97,515.86 L459.35,516.68 L459.75,517.49 L460.19,518.28 L461.40,518.69 L461.80,517.48 L461.48,516.70 L461.20,515.92 L460.94,515.13 L460.72,514.34 L460.53,513.54 L460.37,512.74 L460.24,511.93 L460.13,511.12 L460.06,510.30 L460.02,509.48Z"/><path d="M454.74,509.55 L454.70,510.47 L454.64,511.39 L454.54,512.31 L454.41,513.22 L454.25,514.13 L454.06,515.04 L453.84,515.94 L453.59,516.83 L453.30,517.73 L452.99,518.61 L453.46,519.80 L454.64,519.33 L455.07,518.43 L455.47,517.51 L455.84,516.58 L456.18,515.64 L456.48,514.69 L456.76,513.73 L457.00,512.75 L457.21,511.77 L457.39,510.77 L457.53,509.77Z"/><path d="M453.18,507.29 L452.53,507.81 L451.91,508.36 L451.32,508.92 L450.75,509.50 L450.21,510.11 L449.70,510.74 L449.21,511.38 L448.76,512.05 L448.33,512.74 L447.92,513.44 L448.21,514.68 L449.45,514.40 L449.89,513.81 L450.36,513.25 L450.84,512.71 L451.34,512.20 L451.87,511.71 L452.41,511.24 L452.96,510.80 L453.54,510.38 L454.14,509.99 L454.75,509.61Z"/><path d="M452.06,505.07 L451.34,505.47 L450.61,505.84 L449.87,506.18 L449.11,506.50 L448.35,506.79 L447.57,507.05 L446.78,507.28 L445.98,507.48 L445.16,507.65 L444.33,507.80 L443.52,508.78 L444.50,509.59 L445.41,509.54 L446.31,509.45 L447.21,509.33 L448.10,509.18 L448.98,509.00 L449.86,508.78 L450.73,508.53 L451.60,508.25 L452.46,507.93 L453.31,507.58Z"/><path d="M453.20,502.55 L452.24,502.21 L451.28,501.90 L450.31,501.63 L449.34,501.38 L448.36,501.17 L447.38,501.00 L446.39,500.85 L445.40,500.74 L444.40,500.66 L443.40,500.62 L442.43,501.45 L443.26,502.41 L444.19,502.55 L445.11,502.72 L446.02,502.92 L446.92,503.15 L447.80,503.41 L448.68,503.69 L449.55,504.01 L450.40,504.35 L451.25,504.72 L452.09,505.12Z"/><path d="M454.59,500.48 L453.96,500.13 L453.35,499.75 L452.76,499.35 L452.19,498.93 L451.63,498.49 L451.10,498.02 L450.58,497.52 L450.08,497.00 L449.59,496.45 L449.13,495.88 L447.88,495.64 L447.64,496.89 L448.06,497.58 L448.52,498.25 L449.00,498.90 L449.50,499.53 L450.04,500.14 L450.60,500.73 L451.18,501.29 L451.80,501.83 L452.44,502.35 L453.10,502.85Z"/><path d="M457.37,500.25 L457.22,499.34 L457.03,498.44 L456.81,497.56 L456.56,496.69 L456.28,495.83 L455.97,494.98 L455.63,494.14 L455.25,493.32 L454.85,492.51 L454.41,491.72 L453.20,491.31 L452.80,492.52 L453.12,493.30 L453.40,494.08 L453.66,494.87 L453.88,495.66 L454.07,496.46 L454.23,497.26 L454.36,498.07 L454.47,498.88 L454.54,499.70 L454.58,500.52Z"/><path d="M459.86,500.45 L459.90,499.53 L459.96,498.61 L460.06,497.69 L460.19,496.78 L460.35,495.87 L460.54,494.96 L460.76,494.06 L461.01,493.17 L461.30,492.27 L461.61,491.39 L461.14,490.20 L459.96,490.67 L459.53,491.57 L459.13,492.49 L458.76,493.42 L458.42,494.36 L458.12,495.31 L457.84,496.27 L457.60,497.25 L457.39,498.23 L457.21,499.23 L457.07,500.23Z"/><path d="M461.42,502.71 L462.07,502.19 L462.69,501.64 L463.28,501.08 L463.85,500.50 L464.39,499.89 L464.90,499.26 L465.39,498.62 L465.84,497.95 L466.27,497.26 L466.68,496.56 L466.39,495.32 L465.15,495.60 L464.71,496.19 L464.24,496.75 L463.76,497.29 L463.26,497.80 L462.73,498.29 L462.19,498.76 L461.64,499.20 L461.06,499.62 L460.46,500.01 L459.85,500.39Z"/><path d="M462.54,504.93 L463.26,504.53 L463.99,504.16 L464.73,503.82 L465.49,503.50 L466.25,503.21 L467.03,502.95 L467.82,502.72 L468.62,502.52 L469.44,502.35 L470.27,502.20 L471.08,501.22 L470.10,500.41 L469.19,500.46 L468.29,500.55 L467.39,500.67 L466.50,500.82 L465.62,501.00 L464.74,501.22 L463.87,501.47 L463.00,501.75 L462.14,502.07 L461.29,502.42Z"/><path d="M461.40,507.45 L462.36,507.79 L463.32,508.10 L464.29,508.37 L465.26,508.62 L466.24,508.83 L467.22,509.00 L468.21,509.15 L469.20,509.26 L470.20,509.34 L471.20,509.38 L472.17,508.55 L471.34,507.59 L470.41,507.45 L469.49,507.28 L468.58,507.08 L467.68,506.85 L466.80,506.59 L465.92,506.31 L465.05,505.99 L464.20,505.65 L463.35,505.28 L462.51,504.88Z"/></g>
<circle cx="458.3" cy="506" r="4.0" fill="#9a82c8"/>
</g>
<g >
<g fill="#8c88d2" stroke="#8c88d2" stroke-width="0.80" stroke-linejoin="round"><path d="M486.32,468.07 C486.24,470.06 484.70,472.42 483.24,473.63 C481.79,474.83 479.13,475.35 477.58,475.30 C476.04,475.25 475.28,474.71 473.97,473.34 C472.67,471.96 470.05,468.89 469.73,467.05 C469.42,465.21 471.18,463.54 472.09,462.29 C473.00,461.03 473.76,460.11 475.19,459.53 C476.63,458.95 479.27,458.45 480.70,458.82 C482.12,459.18 482.79,460.19 483.73,461.73 C484.67,463.27 486.40,466.09 486.32,468.07Z"/><path d="M479.80,471.45 L480.35,471.92 L480.87,472.40 L481.38,472.91 L481.86,473.43 L482.32,473.97 L482.76,474.54 L483.17,475.13 L483.57,475.73 L483.94,476.36 L484.28,477.01 L485.47,477.49 L485.94,476.30 L485.65,475.54 L485.33,474.80 L484.99,474.07 L484.61,473.35 L484.20,472.66 L483.76,471.97 L483.30,471.31 L482.80,470.66 L482.27,470.02 L481.71,469.41Z"/><path d="M477.02,471.15 L477.00,472.07 L477.01,472.99 L477.06,473.90 L477.14,474.80 L477.25,475.70 L477.39,476.59 L477.57,477.48 L477.78,478.36 L478.03,479.23 L478.30,480.09 L479.41,480.72 L480.03,479.61 L479.87,478.78 L479.74,477.96 L479.64,477.14 L479.58,476.32 L479.54,475.50 L479.53,474.68 L479.56,473.86 L479.61,473.05 L479.70,472.23 L479.81,471.42Z"/><path d="M474.62,470.48 L474.41,471.38 L474.16,472.27 L473.89,473.15 L473.59,474.02 L473.26,474.88 L472.90,475.74 L472.52,476.58 L472.10,477.41 L471.65,478.23 L471.17,479.04 L471.41,480.29 L472.66,480.06 L473.25,479.25 L473.82,478.43 L474.36,477.59 L474.87,476.73 L475.35,475.86 L475.80,474.96 L476.22,474.05 L476.62,473.13 L476.98,472.19 L477.32,471.23Z"/><path d="M473.52,467.97 L472.78,468.35 L472.07,468.77 L471.38,469.21 L470.71,469.67 L470.07,470.16 L469.44,470.68 L468.85,471.22 L468.27,471.79 L467.72,472.38 L467.19,473.00 L467.23,474.27 L468.50,474.23 L469.05,473.74 L469.61,473.27 L470.19,472.84 L470.78,472.43 L471.39,472.05 L472.00,471.69 L472.64,471.37 L473.28,471.07 L473.94,470.79 L474.62,470.54Z"/><path d="M472.84,465.57 L472.06,465.82 L471.27,466.05 L470.48,466.24 L469.68,466.41 L468.87,466.55 L468.06,466.65 L467.24,466.73 L466.41,466.77 L465.58,466.79 L464.74,466.77 L463.76,467.58 L464.56,468.56 L465.46,468.68 L466.36,468.77 L467.26,468.83 L468.17,468.85 L469.07,468.84 L469.97,468.79 L470.88,468.71 L471.78,468.60 L472.69,468.45 L473.59,468.27Z"/><path d="M474.44,463.32 L473.57,462.80 L472.68,462.31 L471.78,461.85 L470.87,461.43 L469.95,461.04 L469.02,460.68 L468.08,460.35 L467.13,460.05 L466.16,459.78 L465.19,459.55 L464.08,460.17 L464.71,461.28 L465.60,461.60 L466.47,461.94 L467.32,462.31 L468.16,462.70 L468.98,463.12 L469.79,463.57 L470.58,464.05 L471.35,464.55 L472.11,465.07 L472.86,465.63Z"/><path d="M476.20,461.55 L475.65,461.08 L475.13,460.60 L474.62,460.09 L474.14,459.57 L473.68,459.03 L473.24,458.46 L472.83,457.87 L472.43,457.27 L472.06,456.64 L471.72,455.99 L470.53,455.51 L470.06,456.70 L470.35,457.46 L470.67,458.20 L471.01,458.93 L471.39,459.65 L471.80,460.34 L472.24,461.03 L472.70,461.69 L473.20,462.34 L473.73,462.98 L474.29,463.59Z"/><path d="M478.98,461.85 L479.00,460.93 L478.99,460.01 L478.94,459.10 L478.86,458.20 L478.75,457.30 L478.61,456.41 L478.43,455.52 L478.22,454.64 L477.97,453.77 L477.70,452.91 L476.59,452.28 L475.97,453.39 L476.13,454.22 L476.26,455.04 L476.36,455.86 L476.42,456.68 L476.46,457.50 L476.47,458.32 L476.44,459.14 L476.39,459.95 L476.30,460.77 L476.19,461.58Z"/><path d="M481.38,462.52 L481.59,461.62 L481.84,460.73 L482.11,459.85 L482.41,458.98 L482.74,458.12 L483.10,457.26 L483.48,456.42 L483.90,455.59 L484.35,454.77 L484.83,453.96 L484.59,452.71 L483.34,452.94 L482.75,453.75 L482.18,454.57 L481.64,455.41 L481.13,456.27 L480.65,457.14 L480.20,458.04 L479.78,458.95 L479.38,459.87 L479.02,460.81 L478.68,461.77Z"/><path d="M482.48,465.03 L483.22,464.65 L483.93,464.23 L484.62,463.79 L485.29,463.33 L485.93,462.84 L486.56,462.32 L487.15,461.78 L487.73,461.21 L488.28,460.62 L488.81,460.00 L488.77,458.73 L487.50,458.77 L486.95,459.26 L486.39,459.73 L485.81,460.16 L485.22,460.57 L484.61,460.95 L484.00,461.31 L483.36,461.63 L482.72,461.93 L482.06,462.21 L481.38,462.46Z"/><path d="M483.16,467.43 L483.94,467.18 L484.73,466.95 L485.52,466.76 L486.32,466.59 L487.13,466.45 L487.94,466.35 L488.76,466.27 L489.59,466.23 L490.42,466.21 L491.26,466.23 L492.24,465.42 L491.44,464.44 L490.54,464.32 L489.64,464.23 L488.74,464.17 L487.83,464.15 L486.93,464.16 L486.03,464.21 L485.12,464.29 L484.22,464.40 L483.31,464.55 L482.41,464.73Z"/><path d="M481.56,469.68 L482.43,470.20 L483.32,470.69 L484.22,471.15 L485.13,471.57 L486.05,471.96 L486.98,472.32 L487.92,472.65 L488.87,472.95 L489.84,473.22 L490.81,473.45 L491.92,472.83 L491.29,471.72 L490.40,471.40 L489.53,471.06 L488.68,470.69 L487.84,470.30 L487.02,469.88 L486.21,469.43 L485.42,468.95 L484.65,468.45 L483.89,467.93 L483.14,467.37Z"/></g>
<g fill="#a9a6e3"><path d="M486.32,468.07 C486.24,470.06 484.70,472.42 483.24,473.63 C481.79,474.83 479.13,475.35 477.58,475.30 C476.04,475.25 475.28,474.71 473.97,473.34 C472.67,471.96 470.05,468.89 469.73,467.05 C469.42,465.21 471.18,463.54 472.09,462.29 C473.00,461.03 473.76,460.11 475.19,459.53 C476.63,458.95 479.27,458.45 480.70,458.82 C482.12,459.18 482.79,460.19 483.73,461.73 C484.67,463.27 486.40,466.09 486.32,468.07Z"/><path d="M479.80,471.45 L480.35,471.92 L480.87,472.40 L481.38,472.91 L481.86,473.43 L482.32,473.97 L482.76,474.54 L483.17,475.13 L483.57,475.73 L483.94,476.36 L484.28,477.01 L485.47,477.49 L485.94,476.30 L485.65,475.54 L485.33,474.80 L484.99,474.07 L484.61,473.35 L484.20,472.66 L483.76,471.97 L483.30,471.31 L482.80,470.66 L482.27,470.02 L481.71,469.41Z"/><path d="M477.02,471.15 L477.00,472.07 L477.01,472.99 L477.06,473.90 L477.14,474.80 L477.25,475.70 L477.39,476.59 L477.57,477.48 L477.78,478.36 L478.03,479.23 L478.30,480.09 L479.41,480.72 L480.03,479.61 L479.87,478.78 L479.74,477.96 L479.64,477.14 L479.58,476.32 L479.54,475.50 L479.53,474.68 L479.56,473.86 L479.61,473.05 L479.70,472.23 L479.81,471.42Z"/><path d="M474.62,470.48 L474.41,471.38 L474.16,472.27 L473.89,473.15 L473.59,474.02 L473.26,474.88 L472.90,475.74 L472.52,476.58 L472.10,477.41 L471.65,478.23 L471.17,479.04 L471.41,480.29 L472.66,480.06 L473.25,479.25 L473.82,478.43 L474.36,477.59 L474.87,476.73 L475.35,475.86 L475.80,474.96 L476.22,474.05 L476.62,473.13 L476.98,472.19 L477.32,471.23Z"/><path d="M473.52,467.97 L472.78,468.35 L472.07,468.77 L471.38,469.21 L470.71,469.67 L470.07,470.16 L469.44,470.68 L468.85,471.22 L468.27,471.79 L467.72,472.38 L467.19,473.00 L467.23,474.27 L468.50,474.23 L469.05,473.74 L469.61,473.27 L470.19,472.84 L470.78,472.43 L471.39,472.05 L472.00,471.69 L472.64,471.37 L473.28,471.07 L473.94,470.79 L474.62,470.54Z"/><path d="M472.84,465.57 L472.06,465.82 L471.27,466.05 L470.48,466.24 L469.68,466.41 L468.87,466.55 L468.06,466.65 L467.24,466.73 L466.41,466.77 L465.58,466.79 L464.74,466.77 L463.76,467.58 L464.56,468.56 L465.46,468.68 L466.36,468.77 L467.26,468.83 L468.17,468.85 L469.07,468.84 L469.97,468.79 L470.88,468.71 L471.78,468.60 L472.69,468.45 L473.59,468.27Z"/><path d="M474.44,463.32 L473.57,462.80 L472.68,462.31 L471.78,461.85 L470.87,461.43 L469.95,461.04 L469.02,460.68 L468.08,460.35 L467.13,460.05 L466.16,459.78 L465.19,459.55 L464.08,460.17 L464.71,461.28 L465.60,461.60 L466.47,461.94 L467.32,462.31 L468.16,462.70 L468.98,463.12 L469.79,463.57 L470.58,464.05 L471.35,464.55 L472.11,465.07 L472.86,465.63Z"/><path d="M476.20,461.55 L475.65,461.08 L475.13,460.60 L474.62,460.09 L474.14,459.57 L473.68,459.03 L473.24,458.46 L472.83,457.87 L472.43,457.27 L472.06,456.64 L471.72,455.99 L470.53,455.51 L470.06,456.70 L470.35,457.46 L470.67,458.20 L471.01,458.93 L471.39,459.65 L471.80,460.34 L472.24,461.03 L472.70,461.69 L473.20,462.34 L473.73,462.98 L474.29,463.59Z"/><path d="M478.98,461.85 L479.00,460.93 L478.99,460.01 L478.94,459.10 L478.86,458.20 L478.75,457.30 L478.61,456.41 L478.43,455.52 L478.22,454.64 L477.97,453.77 L477.70,452.91 L476.59,452.28 L475.97,453.39 L476.13,454.22 L476.26,455.04 L476.36,455.86 L476.42,456.68 L476.46,457.50 L476.47,458.32 L476.44,459.14 L476.39,459.95 L476.30,460.77 L476.19,461.58Z"/><path d="M481.38,462.52 L481.59,461.62 L481.84,460.73 L482.11,459.85 L482.41,458.98 L482.74,458.12 L483.10,457.26 L483.48,456.42 L483.90,455.59 L484.35,454.77 L484.83,453.96 L484.59,452.71 L483.34,452.94 L482.75,453.75 L482.18,454.57 L481.64,455.41 L481.13,456.27 L480.65,457.14 L480.20,458.04 L479.78,458.95 L479.38,459.87 L479.02,460.81 L478.68,461.77Z"/><path d="M482.48,465.03 L483.22,464.65 L483.93,464.23 L484.62,463.79 L485.29,463.33 L485.93,462.84 L486.56,462.32 L487.15,461.78 L487.73,461.21 L488.28,460.62 L488.81,460.00 L488.77,458.73 L487.50,458.77 L486.95,459.26 L486.39,459.73 L485.81,460.16 L485.22,460.57 L484.61,460.95 L484.00,461.31 L483.36,461.63 L482.72,461.93 L482.06,462.21 L481.38,462.46Z"/><path d="M483.16,467.43 L483.94,467.18 L484.73,466.95 L485.52,466.76 L486.32,466.59 L487.13,466.45 L487.94,466.35 L488.76,466.27 L489.59,466.23 L490.42,466.21 L491.26,466.23 L492.24,465.42 L491.44,464.44 L490.54,464.32 L489.64,464.23 L488.74,464.17 L487.83,464.15 L486.93,464.16 L486.03,464.21 L485.12,464.29 L484.22,464.40 L483.31,464.55 L482.41,464.73Z"/><path d="M481.56,469.68 L482.43,470.20 L483.32,470.69 L484.22,471.15 L485.13,471.57 L486.05,471.96 L486.98,472.32 L487.92,472.65 L488.87,472.95 L489.84,473.22 L490.81,473.45 L491.92,472.83 L491.29,471.72 L490.40,471.40 L489.53,471.06 L488.68,470.69 L487.84,470.30 L487.02,469.88 L486.21,469.43 L485.42,468.95 L484.65,468.45 L483.89,467.93 L483.14,467.37Z"/></g>
<circle cx="479" cy="467.5" r="4.0" fill="#8682c8"/>
</g>
<path d="M277.90,446.00 C276.58,443.67 274.32,436.67 270.00,432.00 C265.68,427.33 259.00,421.58 252.00,418.00 C245.00,414.42 232.00,411.75 228.00,410.50" fill="none" stroke="#b49494" stroke-width="4" stroke-linecap="round" opacity="0.85"/>
<path d="M277.90,446.00 C276.58,443.67 274.32,436.67 270.00,432.00 C265.68,427.33 259.00,421.58 252.00,418.00 C245.00,414.42 232.00,411.75 228.00,410.50" fill="none" stroke="#d4bcbc" stroke-width="1.4" stroke-linecap="round" opacity="0.68"/>
<path d="M228.00,423.00 C230.83,423.50 239.80,424.83 245.00,426.00 C250.20,427.17 254.37,427.33 259.20,430.00 C264.03,432.67 271.53,440.00 274.00,442.00" fill="none" stroke="#d8c2c0" stroke-width="3" stroke-linecap="round" opacity="0.8"/>
<path d="M228.00,423.00 C230.83,423.50 239.80,424.83 245.00,426.00 C250.20,427.17 254.37,427.33 259.20,430.00 C264.03,432.67 271.53,440.00 274.00,442.00" fill="none" stroke="#ece0df" stroke-width="1.0499999999999998" stroke-linecap="round" opacity="0.6400000000000001"/>
<path d="M281.00,340.00 C283.50,340.45 290.83,341.20 296.00,342.70 C301.17,344.20 309.33,347.95 312.00,349.00" fill="none" stroke="#c9aaa8" stroke-width="3.3" stroke-linecap="round" opacity="0.8"/>
<path d="M281.00,340.00 C283.50,340.45 290.83,341.20 296.00,342.70 C301.17,344.20 309.33,347.95 312.00,349.00" fill="none" stroke="#e2cfcd" stroke-width="1.1549999999999998" stroke-linecap="round" opacity="0.6400000000000001"/>
<path d="M306.00,336.00 C307.15,338.22 311.13,344.30 312.90,349.30 C314.67,354.30 316.13,359.47 316.60,366.00 C317.07,372.53 316.80,381.67 315.70,388.50 C314.60,395.33 312.03,401.42 310.00,407.00 C307.97,412.58 306.83,416.50 303.50,422.00 C300.17,427.50 293.92,434.50 290.00,440.00 C286.08,445.50 282.07,448.33 280.00,455.00 C277.93,461.67 277.43,471.67 277.60,480.00 C277.77,488.33 280.10,498.00 281.00,505.00 C281.90,512.00 282.67,519.17 283.00,522.00" fill="none" stroke="#a88789" stroke-width="3.3" stroke-linecap="round" opacity="1.0"/>
<path d="M306.00,336.00 C307.15,338.22 311.13,344.30 312.90,349.30 C314.67,354.30 316.13,359.47 316.60,366.00 C317.07,372.53 316.80,381.67 315.70,388.50 C314.60,395.33 312.03,401.42 310.00,407.00 C307.97,412.58 306.83,416.50 303.50,422.00 C300.17,427.50 293.92,434.50 290.00,440.00 C286.08,445.50 282.07,448.33 280.00,455.00 C277.93,461.67 277.43,471.67 277.60,480.00 C277.77,488.33 280.10,498.00 281.00,505.00 C281.90,512.00 282.67,519.17 283.00,522.00" fill="none" stroke="#c8aeae" stroke-width="1.1549999999999998" stroke-linecap="round" opacity="0.8"/>
<path d="M344.60,381.00 C342.12,383.82 335.63,392.28 329.70,397.90 C323.77,403.52 314.95,409.42 309.00,414.70 C303.05,419.98 298.00,424.55 294.00,429.60 C290.00,434.65 286.50,442.43 285.00,445.00" fill="none" stroke="#a88789" stroke-width="3.3" stroke-linecap="round" opacity="1.0"/>
<path d="M344.60,381.00 C342.12,383.82 335.63,392.28 329.70,397.90 C323.77,403.52 314.95,409.42 309.00,414.70 C303.05,419.98 298.00,424.55 294.00,429.60 C290.00,434.65 286.50,442.43 285.00,445.00" fill="none" stroke="#c8aeae" stroke-width="1.1549999999999998" stroke-linecap="round" opacity="0.8"/>
<path d="M282.30,458.60 C279.58,459.17 270.05,459.27 266.00,462.00 C261.95,464.73 259.33,470.33 258.00,475.00 C256.67,479.67 257.58,484.67 258.00,490.00 C258.42,495.33 260.08,504.17 260.50,507.00" fill="none" stroke="#d8bcb9" stroke-width="3.3" stroke-linecap="round" opacity="0.9"/>
<path d="M282.30,458.60 C279.58,459.17 270.05,459.27 266.00,462.00 C261.95,464.73 259.33,470.33 258.00,475.00 C256.67,479.67 257.58,484.67 258.00,490.00 C258.42,495.33 260.08,504.17 260.50,507.00" fill="none" stroke="#ead9d7" stroke-width="1.1549999999999998" stroke-linecap="round" opacity="0.7200000000000001"/>
<path d="M515.20,373.20 C513.90,368.78 508.57,354.23 507.40,346.70 C506.23,339.17 508.07,331.12 508.20,328.00" fill="none" stroke="#a88789" stroke-width="3.3" stroke-linecap="round" opacity="1.0"/>
<path d="M515.20,373.20 C513.90,368.78 508.57,354.23 507.40,346.70 C506.23,339.17 508.07,331.12 508.20,328.00" fill="none" stroke="#c8aeae" stroke-width="1.1549999999999998" stroke-linecap="round" opacity="0.8"/>
<path d="M508.20,328.00 C508.33,327.00 508.37,323.82 509.00,322.00 C509.63,320.18 510.97,319.73 512.00,317.10 C513.03,314.47 514.67,308.02 515.20,306.20" fill="none" stroke="#d2b4b2" stroke-width="3.3" stroke-linecap="round" opacity="0.9"/>
<path d="M508.20,328.00 C508.33,327.00 508.37,323.82 509.00,322.00 C509.63,320.18 510.97,319.73 512.00,317.10 C513.03,314.47 514.67,308.02 515.20,306.20" fill="none" stroke="#e8d6d4" stroke-width="1.1549999999999998" stroke-linecap="round" opacity="0.7200000000000001"/>
<path d="M512.00,317.10 C513.33,316.42 516.88,313.90 520.00,313.00 C523.12,312.10 528.92,311.92 530.70,311.70" fill="none" stroke="#e0c8c6" stroke-width="3.3" stroke-linecap="round" opacity="0.8"/>
<path d="M512.00,317.10 C513.33,316.42 516.88,313.90 520.00,313.00 C523.12,312.10 528.92,311.92 530.70,311.70" fill="none" stroke="#f0e4e2" stroke-width="1.1549999999999998" stroke-linecap="round" opacity="0.6400000000000001"/>
<path d="M556,380 C566,376 576,372 587,368" fill="none" stroke="#f0d4d0" stroke-width="3.2" stroke-linecap="round" opacity="0.8"/>
<path d="M484,318.0 q3,-1.5 6,0 t6,0" fill="none" stroke="#67c0b0" stroke-width="0.6" />
<path d="M487,321.4 q3,-1.5 6,0 t6,0" fill="none" stroke="#67c0b0" stroke-width="0.6" />
<path d="M490,324.8 q3,-1.5 6,0 t6,0" fill="none" stroke="#67c0b0" stroke-width="0.6" />
<path d="M484,328.2 q3,-1.5 6,0 t6,0" fill="none" stroke="#67c0b0" stroke-width="0.6" />
<path d="M487,331.6 q3,-1.5 6,0 t6,0" fill="none" stroke="#67c0b0" stroke-width="0.6" />
<path d="M490,335.0 q3,-1.5 6,0 t6,0" fill="none" stroke="#67c0b0" stroke-width="0.6" />
<path d="M484,338.4 q3,-1.5 6,0 t6,0" fill="none" stroke="#67c0b0" stroke-width="0.6" />
<path d="M487,341.8 q3,-1.5 6,0 t6,0" fill="none" stroke="#67c0b0" stroke-width="0.6" />
<path d="M490,345.2 q3,-1.5 6,0 t6,0" fill="none" stroke="#67c0b0" stroke-width="0.6" />
<path d="M484,348.6 q3,-1.5 6,0 t6,0" fill="none" stroke="#67c0b0" stroke-width="0.6" />
<path d="M487,352.0 q3,-1.5 6,0 t6,0" fill="none" stroke="#67c0b0" stroke-width="0.6" />
<path d="M490,355.4 q3,-1.5 6,0 t6,0" fill="none" stroke="#67c0b0" stroke-width="0.6" />
<path d="M484,358.8 q3,-1.5 6,0 t6,0" fill="none" stroke="#67c0b0" stroke-width="0.6" />
<path d="M487,362.2 q3,-1.5 6,0 t6,0" fill="none" stroke="#67c0b0" stroke-width="0.6" />
<path d="M497,317 C495,330 497,345 494,360 C493,366 494,370 494,374" fill="none" stroke="#c45a5a" stroke-width="1.3" stroke-linecap="round" stroke-dasharray="0 2.6"/>
<path d="M497,318.3 C495,331 497,346 494,361" fill="none" stroke="#4a78b8" stroke-width="1.0" stroke-linecap="round" stroke-dasharray="0 2.6"/>
<path d="M470.00,339.00 C473.33,341.17 484.17,347.83 490.00,352.00 C495.83,356.17 500.55,359.95 505.00,364.00 C509.45,368.05 514.75,374.25 516.70,376.30" fill="none" stroke="#a88789" stroke-width="4" stroke-linecap="round" opacity="1.0"/>
<path d="M470.00,339.00 C473.33,341.17 484.17,347.83 490.00,352.00 C495.83,356.17 500.55,359.95 505.00,364.00 C509.45,368.05 514.75,374.25 516.70,376.30" fill="none" stroke="#c8aeae" stroke-width="1.4" stroke-linecap="round" opacity="0.8"/>
<path d="M308.00,547.00 C310.33,547.83 317.00,549.83 322.00,552.00 C327.00,554.17 333.00,557.67 338.00,560.00 C343.00,562.33 349.67,565.00 352.00,566.00" fill="none" stroke="#c8bcbc" stroke-width="3.3" stroke-linecap="round" opacity="0.8"/>
<path d="M308.00,547.00 C310.33,547.83 317.00,549.83 322.00,552.00 C327.00,554.17 333.00,557.67 338.00,560.00 C343.00,562.33 349.67,565.00 352.00,566.00" fill="none" stroke="#e4dcdc" stroke-width="1.1549999999999998" stroke-linecap="round" opacity="0.6400000000000001"/>
<path d="M300,566 L360,566" fill="none" stroke="#d0d0d4" stroke-width="1.2" />
<path d="M300.00,540.00 C303.33,543.33 312.50,553.67 320.00,560.00 C327.50,566.33 338.33,573.83 345.00,578.00 C351.67,582.17 357.50,583.83 360.00,585.00" fill="none" stroke="#4d97d4" stroke-width="0.7" stroke-linecap="round"/>
<path d="M305.00,535.00 C308.33,538.50 317.50,549.33 325.00,556.00 C332.50,562.67 343.83,571.00 350.00,575.00 C356.17,579.00 360.00,579.17 362.00,580.00" fill="none" stroke="#6aaade" stroke-width="0.6" stroke-linecap="round"/>
<path d="M333.50,336.00 C340.42,335.00 360.92,331.07 375.00,330.00 C389.08,328.93 403.00,328.27 418.00,329.60 C433.00,330.93 450.17,334.47 465.00,338.00 C479.83,341.53 493.63,345.85 507.00,350.80 C520.37,355.75 538.83,364.88 545.20,367.70" fill="none" stroke="#5f9fd6" stroke-width="4.2" stroke-linecap="round" opacity="0.6"/>
<path d="M333.50,336.00 C340.42,335.00 360.92,331.07 375.00,330.00 C389.08,328.93 403.00,328.27 418.00,329.60 C433.00,330.93 450.17,334.47 465.00,338.00 C479.83,341.53 493.63,345.85 507.00,350.80 C520.37,355.75 538.83,364.88 545.20,367.70" fill="none" stroke="#a8d4f0" stroke-width="2.8" stroke-linecap="round"/>
<path d="M333.50,336.00 C340.42,335.00 360.92,331.07 375.00,330.00 C389.08,328.93 403.00,328.27 418.00,329.60 C433.00,330.93 450.17,334.47 465.00,338.00 C479.83,341.53 493.63,345.85 507.00,350.80 C520.37,355.75 538.83,364.88 545.20,367.70" fill="none" stroke="#3f86c8" stroke-width="0.6" stroke-dasharray="2.2 1.2"/>
<path d="M333.50,336.00 C340.42,335.00 360.92,331.07 375.00,330.00 C389.08,328.93 403.00,328.27 418.00,329.60 C433.00,330.93 450.17,334.47 465.00,338.00 C479.83,341.53 493.63,345.85 507.00,350.80 C520.37,355.75 538.83,364.88 545.20,367.70" fill="none" stroke="#5b9ad3" stroke-width="0.5" stroke-dasharray="1 2.4" transform="translate(0.7,0.9)"/>
<path d="M285.00,410.00 C287.50,405.67 294.50,392.33 300.00,384.00 C305.50,375.67 311.33,366.50 318.00,360.00 C324.67,353.50 330.37,349.35 340.00,345.00 C349.63,340.65 364.13,337.73 375.80,333.90 C387.47,330.07 399.30,324.65 410.00,322.00 C420.70,319.35 435.00,318.67 440.00,318.00" fill="none" stroke="#5f9fd6" stroke-width="4.2" stroke-linecap="round" opacity="0.6"/>
<path d="M285.00,410.00 C287.50,405.67 294.50,392.33 300.00,384.00 C305.50,375.67 311.33,366.50 318.00,360.00 C324.67,353.50 330.37,349.35 340.00,345.00 C349.63,340.65 364.13,337.73 375.80,333.90 C387.47,330.07 399.30,324.65 410.00,322.00 C420.70,319.35 435.00,318.67 440.00,318.00" fill="none" stroke="#a8d4f0" stroke-width="2.8" stroke-linecap="round"/>
<path d="M285.00,410.00 C287.50,405.67 294.50,392.33 300.00,384.00 C305.50,375.67 311.33,366.50 318.00,360.00 C324.67,353.50 330.37,349.35 340.00,345.00 C349.63,340.65 364.13,337.73 375.80,333.90 C387.47,330.07 399.30,324.65 410.00,322.00 C420.70,319.35 435.00,318.67 440.00,318.00" fill="none" stroke="#3f86c8" stroke-width="0.6" stroke-dasharray="2.2 1.2"/>
<path d="M285.00,410.00 C287.50,405.67 294.50,392.33 300.00,384.00 C305.50,375.67 311.33,366.50 318.00,360.00 C324.67,353.50 330.37,349.35 340.00,345.00 C349.63,340.65 364.13,337.73 375.80,333.90 C387.47,330.07 399.30,324.65 410.00,322.00 C420.70,319.35 435.00,318.67 440.00,318.00" fill="none" stroke="#5b9ad3" stroke-width="0.5" stroke-dasharray="1 2.4" transform="translate(0.7,0.9)"/>
<path d="M272.00,480.00 C272.67,474.17 273.83,455.83 276.00,445.00 C278.17,434.17 281.00,424.50 285.00,415.00 C289.00,405.50 297.50,392.50 300.00,388.00" fill="none" stroke="#5f9fd6" stroke-width="4.2" stroke-linecap="round" opacity="0.6"/>
<path d="M272.00,480.00 C272.67,474.17 273.83,455.83 276.00,445.00 C278.17,434.17 281.00,424.50 285.00,415.00 C289.00,405.50 297.50,392.50 300.00,388.00" fill="none" stroke="#a8d4f0" stroke-width="2.8" stroke-linecap="round"/>
<path d="M272.00,480.00 C272.67,474.17 273.83,455.83 276.00,445.00 C278.17,434.17 281.00,424.50 285.00,415.00 C289.00,405.50 297.50,392.50 300.00,388.00" fill="none" stroke="#3f86c8" stroke-width="0.6" stroke-dasharray="2.2 1.2"/>
<path d="M272.00,480.00 C272.67,474.17 273.83,455.83 276.00,445.00 C278.17,434.17 281.00,424.50 285.00,415.00 C289.00,405.50 297.50,392.50 300.00,388.00" fill="none" stroke="#5b9ad3" stroke-width="0.5" stroke-dasharray="1 2.4" transform="translate(0.7,0.9)"/>
<path d="M305.00,356.00 C307.50,354.17 313.33,348.00 320.00,345.00 C326.67,342.00 340.83,339.17 345.00,338.00" fill="none" stroke="#5f9fd6" stroke-width="4.2" stroke-linecap="round" opacity="0.6"/>
<path d="M305.00,356.00 C307.50,354.17 313.33,348.00 320.00,345.00 C326.67,342.00 340.83,339.17 345.00,338.00" fill="none" stroke="#a8d4f0" stroke-width="2.8" stroke-linecap="round"/>
<path d="M305.00,356.00 C307.50,354.17 313.33,348.00 320.00,345.00 C326.67,342.00 340.83,339.17 345.00,338.00" fill="none" stroke="#3f86c8" stroke-width="0.6" stroke-dasharray="2.2 1.2"/>
<path d="M305.00,356.00 C307.50,354.17 313.33,348.00 320.00,345.00 C326.67,342.00 340.83,339.17 345.00,338.00" fill="none" stroke="#5b9ad3" stroke-width="0.5" stroke-dasharray="1 2.4" transform="translate(0.7,0.9)"/>
<path d="M461.00,327.40 C465.83,328.67 479.88,331.12 490.00,335.00 C500.12,338.88 516.42,348.08 521.70,350.70" fill="none" stroke="#5f9fd6" stroke-width="4.2" stroke-linecap="round" opacity="0.6"/>
<path d="M461.00,327.40 C465.83,328.67 479.88,331.12 490.00,335.00 C500.12,338.88 516.42,348.08 521.70,350.70" fill="none" stroke="#a8d4f0" stroke-width="2.8" stroke-linecap="round"/>
<path d="M461.00,327.40 C465.83,328.67 479.88,331.12 490.00,335.00 C500.12,338.88 516.42,348.08 521.70,350.70" fill="none" stroke="#3f86c8" stroke-width="0.6" stroke-dasharray="2.2 1.2"/>
<path d="M461.00,327.40 C465.83,328.67 479.88,331.12 490.00,335.00 C500.12,338.88 516.42,348.08 521.70,350.70" fill="none" stroke="#5b9ad3" stroke-width="0.5" stroke-dasharray="1 2.4" transform="translate(0.7,0.9)"/>
<path d="M306.00,356.00 C310.00,354.67 321.83,348.17 330.00,348.00 C338.17,347.83 346.67,354.67 355.00,355.00 C363.33,355.33 370.83,352.50 380.00,350.00 C389.17,347.50 400.00,342.50 410.00,340.00 C420.00,337.50 430.00,334.17 440.00,335.00 C450.00,335.83 460.00,340.83 470.00,345.00 C480.00,349.17 490.00,355.50 500.00,360.00 C510.00,364.50 525.00,370.00 530.00,372.00" fill="none" stroke="#4d97d4" stroke-width="0.8" stroke-linecap="round"/>
<path d="M300.00,392.00 C302.50,388.67 309.50,377.33 315.00,372.00 C320.50,366.67 327.17,361.17 333.00,360.00 C338.83,358.83 347.17,364.17 350.00,365.00" fill="none" stroke="#4d97d4" stroke-width="0.8" stroke-linecap="round"/>
<path d="M284.00,468.00 C285.83,463.33 291.50,448.00 295.00,440.00 C298.50,432.00 300.83,426.67 305.00,420.00 C309.17,413.33 314.17,405.83 320.00,400.00 C325.83,394.17 336.67,387.50 340.00,385.00" fill="none" stroke="#4d97d4" stroke-width="0.7" stroke-linecap="round"/>
<path d="M297.00,540.00 C297.50,536.67 297.83,528.33 300.00,520.00 C302.17,511.67 306.67,498.33 310.00,490.00 C313.33,481.67 318.33,473.33 320.00,470.00" fill="none" stroke="#4d97d4" stroke-width="0.7" stroke-linecap="round"/>
<path d="M328.00,300.00 C328.33,302.00 330.33,307.83 330.00,312.00 C329.67,316.17 325.67,320.33 326.00,325.00 C326.33,329.67 331.00,337.50 332.00,340.00" fill="none" stroke="#4d97d4" stroke-width="0.8" stroke-linecap="round"/>
<path d="M520.00,380.00 C521.67,382.50 526.67,388.33 530.00,395.00 C533.33,401.67 538.33,415.83 540.00,420.00" fill="none" stroke="#4d97d4" stroke-width="0.7" stroke-linecap="round"/>
<path d="M310.00,355.00 C315.33,353.25 331.03,345.20 342.00,344.50 C352.97,343.80 364.52,349.05 375.80,350.80 C387.08,352.55 399.00,355.13 409.70,355.00 C420.40,354.87 434.95,350.83 440.00,350.00" fill="none" stroke="#3f6cb0" stroke-width="2.3" stroke-linecap="round" stroke-dasharray="0 2.7"/>
<path d="M447.80,306.40 C451.50,308.67 461.30,313.57 470.00,320.00 C478.70,326.43 491.70,337.75 500.00,345.00 C508.30,352.25 516.50,360.42 519.80,363.50" fill="none" stroke="#3f6cb0" stroke-width="2.3" stroke-linecap="round" stroke-dasharray="0 2.7"/>
<path d="M293.70,373.60 C293.90,375.88 295.53,382.12 294.90,387.30 C294.27,392.48 292.40,397.63 289.90,404.70 C287.40,411.77 282.80,422.22 279.90,429.70 C277.00,437.18 274.15,442.88 272.50,449.60 C270.85,456.32 270.42,466.60 270.00,470.00" fill="none" stroke="#3f6cb0" stroke-width="2.3" stroke-linecap="round" stroke-dasharray="0 2.7"/>
<path d="M316.00,349.00 C320.00,347.83 332.33,342.50 340.00,342.00 C347.67,341.50 358.33,345.33 362.00,346.00" fill="none" stroke="#4a78b8" stroke-width="2.0" stroke-linecap="round" stroke-dasharray="0 2.7"/>
<path d="M288.39,465.43 C288.22,464.49 289.29,461.66 287.40,459.79 C285.51,457.91 276.74,456.13 277.05,454.19 C277.36,452.24 287.47,450.13 289.26,448.12 C291.05,446.10 288.82,444.21 287.79,442.08 C286.76,439.96 283.02,437.44 283.07,435.37 C283.13,433.31 288.27,431.93 288.12,429.68 C287.97,427.42 283.17,423.16 282.18,421.85" fill="none" stroke="#7fb8e2" stroke-width="0.5797872496296146" stroke-linecap="round"/>
<path d="M338.05,350.78 C339.37,349.77 343.33,346.80 345.95,344.76 C348.57,342.72 351.11,340.55 353.77,338.53 C356.43,336.51 358.33,332.33 361.89,332.63 C365.46,332.93 371.87,340.48 375.19,340.31 C378.50,340.14 379.09,332.69 381.81,331.63 C384.53,330.57 388.72,335.36 391.53,333.94 C394.33,332.52 397.47,324.92 398.66,323.11" fill="none" stroke="#4d97d4" stroke-width="0.8787436268230677" stroke-linecap="round"/>
<path d="M293.88,418.91 C294.85,417.41 297.45,412.74 299.68,409.90 C301.90,407.07 304.29,404.24 307.25,401.89 C310.21,399.55 315.30,398.53 317.44,395.83 C319.58,393.12 320.55,390.31 320.08,385.65 C319.61,380.98 313.11,371.14 314.62,367.81 C316.13,364.49 325.23,367.09 329.14,365.69 C333.05,364.28 336.59,360.41 338.08,359.36" fill="none" stroke="#6aaade" stroke-width="0.7422036512574567" stroke-linecap="round"/>
<path d="M435.19,324.41 C436.85,321.84 442.93,308.73 445.13,308.98 C447.33,309.22 446.04,325.23 448.39,325.88 C450.74,326.53 456.48,314.16 459.22,312.89 C461.96,311.62 462.18,318.48 464.82,318.25 C467.47,318.02 472.28,312.17 475.10,311.52 C477.92,310.86 480.04,312.49 481.76,314.32 C483.48,316.16 484.82,321.16 485.43,322.52" fill="none" stroke="#4d97d4" stroke-width="0.5439169675806279" stroke-linecap="round"/>
<path d="M305.97,543.95 C303.49,544.06 293.37,546.46 291.10,544.61 C288.83,542.76 291.13,537.08 292.34,532.85 C293.56,528.63 299.56,521.95 298.39,519.26 C297.22,516.57 287.11,518.92 285.33,516.73 C283.55,514.53 286.74,509.59 287.70,506.10 C288.65,502.61 291.71,498.60 291.07,495.78 C290.42,492.97 285.05,490.30 283.85,489.20" fill="none" stroke="#4d97d4" stroke-width="0.7561734682662343" stroke-linecap="round"/>
<path d="M276.14,451.29 C278.96,449.98 292.73,446.41 293.05,443.42 C293.37,440.43 278.45,436.19 278.05,433.35 C277.66,430.51 286.63,428.52 290.70,426.38 C294.76,424.24 302.12,423.50 302.46,420.51 C302.80,417.52 293.55,411.78 292.73,408.43 C291.92,405.08 296.13,403.16 297.58,400.40 C299.02,397.63 300.77,393.28 301.41,391.86" fill="none" stroke="#6aaade" stroke-width="0.743213826242755" stroke-linecap="round"/>
<path d="M289.28,463.79 C289.26,462.95 289.06,460.45 289.15,458.76 C289.24,457.08 289.43,455.36 289.82,453.66 C290.20,451.96 291.22,450.27 291.47,448.56 C291.71,446.85 292.34,445.24 291.29,443.40 C290.23,441.55 286.63,439.48 285.15,437.48 C283.67,435.49 282.65,433.38 282.42,431.42 C282.20,429.46 283.57,426.69 283.80,425.75" fill="none" stroke="#3f86c8" stroke-width="0.5468853081997218" stroke-linecap="round"/>
<path d="M379.49,341.36 C380.21,340.24 382.32,337.15 383.76,334.64 C385.20,332.13 386.08,326.22 388.13,326.31 C390.19,326.40 393.91,334.59 396.09,335.20 C398.27,335.80 399.46,331.71 401.24,329.93 C403.01,328.15 404.85,327.14 406.73,324.51 C408.60,321.88 410.47,314.53 412.46,314.12 C414.45,313.71 417.64,320.74 418.67,322.07" fill="none" stroke="#7fb8e2" stroke-width="0.8254754464953441" stroke-linecap="round"/>
<path d="M303.43,419.27 C302.76,418.02 301.13,414.55 299.41,411.77 C297.68,408.99 293.32,404.98 293.10,402.59 C292.88,400.21 295.04,398.41 298.09,397.45 C301.13,396.49 310.38,398.83 311.37,396.82 C312.37,394.80 302.84,387.02 304.05,385.35 C305.26,383.68 316.87,388.34 318.62,386.79 C320.38,385.25 315.25,377.86 314.58,376.07" fill="none" stroke="#4d97d4" stroke-width="0.8496920606132796" stroke-linecap="round"/>
<path d="M337.34,350.94 C338.53,350.56 341.60,348.56 344.47,348.71 C347.34,348.85 352.05,352.03 354.56,351.81 C357.06,351.58 358.40,350.05 359.49,347.36 C360.59,344.67 358.96,336.07 361.11,335.65 C363.25,335.22 369.96,344.89 372.36,344.79 C374.76,344.70 374.49,338.87 375.51,335.06 C376.53,331.25 377.99,324.11 378.49,321.92" fill="none" stroke="#3f86c8" stroke-width="0.5278706565593203" stroke-linecap="round"/>
<path d="M288.95,505.39 C288.06,504.20 283.43,501.28 283.60,498.26 C283.77,495.24 291.84,489.90 289.95,487.27 C288.07,484.65 273.53,485.18 272.29,482.51 C271.06,479.83 280.22,474.67 282.55,471.23 C284.87,467.78 287.89,464.86 286.25,461.83 C284.61,458.80 274.12,456.13 272.72,453.02 C271.32,449.91 276.99,444.82 277.85,443.18" fill="none" stroke="#6aaade" stroke-width="0.6129163425533732" stroke-linecap="round"/>
<path d="M320.95,361.15 C322.90,360.74 329.03,359.58 332.70,358.70 C336.36,357.81 339.86,357.12 342.93,355.85 C346.00,354.58 349.28,354.24 351.12,351.07 C352.97,347.90 351.35,338.40 354.02,336.82 C356.69,335.24 363.96,342.54 367.14,341.58 C370.32,340.62 370.66,333.59 373.10,331.08 C375.53,328.57 380.29,327.26 381.73,326.50" fill="none" stroke="#6aaade" stroke-width="0.8565315832645042" stroke-linecap="round"/>
<path d="M328.51,374.12 C329.40,372.50 332.28,368.10 333.83,364.42 C335.38,360.74 335.55,355.12 337.80,352.01 C340.05,348.91 343.70,347.01 347.31,345.80 C350.91,344.58 356.48,347.23 359.44,344.74 C362.40,342.24 362.22,333.35 365.07,330.84 C367.92,328.33 372.44,328.38 376.55,329.66 C380.65,330.93 387.50,337.01 389.70,338.48" fill="none" stroke="#6aaade" stroke-width="0.5005169854226712" stroke-linecap="round"/>
<path d="M278.22,502.87 C280.08,500.72 289.93,492.96 289.37,489.95 C288.82,486.94 276.09,487.44 274.90,484.79 C273.70,482.15 280.03,477.45 282.20,474.06 C284.36,470.67 288.75,467.45 287.88,464.46 C287.01,461.47 278.48,459.10 277.00,456.11 C275.52,453.11 277.29,449.60 278.98,446.51 C280.68,443.41 285.80,439.04 287.16,437.55" fill="none" stroke="#3f86c8" stroke-width="0.5801138423062393" stroke-linecap="round"/>
<path d="M349.00,572.24 C347.69,572.84 344.05,574.33 341.15,575.81 C338.26,577.28 332.78,582.41 331.63,581.10 C330.48,579.80 334.41,570.73 334.25,567.96 C334.10,565.19 332.43,564.94 330.69,564.49 C328.95,564.03 326.65,564.43 323.82,565.23 C320.98,566.02 315.07,570.20 313.67,569.25 C312.27,568.31 315.12,561.16 315.40,559.54" fill="none" stroke="#3f86c8" stroke-width="0.5776015542646152" stroke-linecap="round"/>
<path d="M323.92,560.51 C321.63,560.64 312.07,563.75 310.14,561.28 C308.21,558.82 313.15,549.35 312.34,545.74 C311.54,542.12 309.13,540.66 305.30,539.59 C301.47,538.51 292.91,540.80 289.36,539.31 C285.80,537.81 285.43,533.70 283.96,530.60 C282.50,527.50 281.05,524.28 280.56,520.71 C280.08,517.15 280.96,511.13 281.04,509.21" fill="none" stroke="#7fb8e2" stroke-width="0.6672652171906319" stroke-linecap="round"/>
<path d="M383.91,332.09 C384.98,330.65 387.94,325.39 390.33,323.42 C392.73,321.45 395.54,320.28 398.28,320.28 C401.02,320.29 404.04,322.15 406.77,323.47 C409.50,324.78 412.11,327.35 414.64,328.18 C417.18,329.00 419.46,329.34 421.99,328.43 C424.52,327.53 428.53,323.68 429.84,322.73" fill="none" stroke="#4a74b4" stroke-width="2.0" stroke-linecap="round" stroke-dasharray="0 2.5"/>
<path d="M304.03,540.71 C302.47,540.41 296.90,540.20 294.64,538.89 C292.37,537.59 290.82,535.50 290.44,532.89 C290.05,530.28 291.44,526.49 292.34,523.24 C293.23,520.00 295.37,516.25 295.82,513.43 C296.26,510.61 296.27,508.28 295.02,506.32 C293.77,504.36 289.44,502.45 288.33,501.68" fill="none" stroke="#4a74b4" stroke-width="2.0" stroke-linecap="round" stroke-dasharray="0 2.5"/>
<path d="M293.33,522.76 C291.90,522.18 286.63,521.00 284.71,519.27 C282.78,517.55 281.68,515.16 281.78,512.44 C281.88,509.72 283.88,506.10 285.32,502.96 C286.75,499.82 289.46,496.38 290.39,493.59 C291.32,490.80 291.74,488.42 290.90,486.21 C290.06,484.00 286.28,481.31 285.35,480.33" fill="none" stroke="#4a74b4" stroke-width="2.0" stroke-linecap="round" stroke-dasharray="0 2.5"/>
<path d="M290.62,516.37 C289.24,515.70 284.11,514.20 282.31,512.36 C280.51,510.51 279.56,508.03 279.82,505.29 C280.08,502.55 282.27,499.02 283.87,495.93 C285.47,492.84 288.35,489.53 289.43,486.76 C290.51,484.00 291.07,481.63 290.37,479.35 C289.67,477.08 286.10,474.14 285.24,473.10" fill="none" stroke="#4a74b4" stroke-width="2.0" stroke-linecap="round" stroke-dasharray="0 2.5"/>
<path d="M293.35,423.87 C292.95,422.37 290.80,417.63 290.95,414.83 C291.11,412.02 292.23,409.23 294.27,407.02 C296.32,404.82 300.11,403.22 303.23,401.61 C306.35,400.00 310.42,399.04 313.00,397.37 C315.57,395.70 317.55,394.01 318.68,391.57 C319.81,389.12 319.61,384.18 319.80,382.70" fill="none" stroke="#4a74b4" stroke-width="2.0" stroke-linecap="round" stroke-dasharray="0 2.5"/>
<path d="M282,395 L300,400 L320,405" fill="none" stroke="#8a6aa0" stroke-width="0.6" stroke-dasharray="1.2 1"/>
<circle cx="281.00" cy="393.00" r="1.60" fill="#a98bc8" stroke="none" stroke-width="1" />
<ellipse cx="510.5" cy="124.4" rx="73.5" ry="68.2" fill="#ebf2fc"/>
<g clip-path="url(#clipF)">
<path d="M446,84 C490,80 530,80 574,82 L574,144 C530,142 490,140 446,140 Z" fill="#f0a6a6" stroke="none" stroke-width="1" />
<path d="M446,86 C490,82 530,82 574,84" fill="none" stroke="#c9585d" stroke-width="5" />
<path d="M446,139 C490,140 530,141 574,143" fill="none" stroke="#c9585d" stroke-width="5" />
<ellipse cx="455.50" cy="90.50" rx="8.50" ry="2.60" fill="#f2b3b3" stroke="#e39293" stroke-width="0.6" />
<circle cx="455.50" cy="90.50" r="1.00" fill="#e69a9b" stroke="none" stroke-width="1" />
<ellipse cx="455.50" cy="134.50" rx="8.50" ry="2.60" fill="#f2b3b3" stroke="#e39293" stroke-width="0.6" />
<circle cx="455.50" cy="134.50" r="1.00" fill="#e69a9b" stroke="none" stroke-width="1" />
<ellipse cx="472.50" cy="90.50" rx="8.50" ry="2.60" fill="#f2b3b3" stroke="#e39293" stroke-width="0.6" />
<circle cx="472.50" cy="90.50" r="1.00" fill="#e69a9b" stroke="none" stroke-width="1" />
<ellipse cx="472.50" cy="134.50" rx="8.50" ry="2.60" fill="#f2b3b3" stroke="#e39293" stroke-width="0.6" />
<circle cx="472.50" cy="134.50" r="1.00" fill="#e69a9b" stroke="none" stroke-width="1" />
<ellipse cx="489.50" cy="90.50" rx="8.50" ry="2.60" fill="#f2b3b3" stroke="#e39293" stroke-width="0.6" />
<circle cx="489.50" cy="90.50" r="1.00" fill="#e69a9b" stroke="none" stroke-width="1" />
<ellipse cx="489.50" cy="134.50" rx="8.50" ry="2.60" fill="#f2b3b3" stroke="#e39293" stroke-width="0.6" />
<circle cx="489.50" cy="134.50" r="1.00" fill="#e69a9b" stroke="none" stroke-width="1" />
<ellipse cx="506.50" cy="90.50" rx="8.50" ry="2.60" fill="#f2b3b3" stroke="#e39293" stroke-width="0.6" />
<circle cx="506.50" cy="90.50" r="1.00" fill="#e69a9b" stroke="none" stroke-width="1" />
<ellipse cx="506.50" cy="134.50" rx="8.50" ry="2.60" fill="#f2b3b3" stroke="#e39293" stroke-width="0.6" />
<circle cx="506.50" cy="134.50" r="1.00" fill="#e69a9b" stroke="none" stroke-width="1" />
<ellipse cx="523.50" cy="90.50" rx="8.50" ry="2.60" fill="#f2b3b3" stroke="#e39293" stroke-width="0.6" />
<circle cx="523.50" cy="90.50" r="1.00" fill="#e69a9b" stroke="none" stroke-width="1" />
<ellipse cx="523.50" cy="134.50" rx="8.50" ry="2.60" fill="#f2b3b3" stroke="#e39293" stroke-width="0.6" />
<circle cx="523.50" cy="134.50" r="1.00" fill="#e69a9b" stroke="none" stroke-width="1" />
<ellipse cx="540.50" cy="90.50" rx="8.50" ry="2.60" fill="#f2b3b3" stroke="#e39293" stroke-width="0.6" />
<circle cx="540.50" cy="90.50" r="1.00" fill="#e69a9b" stroke="none" stroke-width="1" />
<ellipse cx="540.50" cy="134.50" rx="8.50" ry="2.60" fill="#f2b3b3" stroke="#e39293" stroke-width="0.6" />
<circle cx="540.50" cy="134.50" r="1.00" fill="#e69a9b" stroke="none" stroke-width="1" />
<ellipse cx="557.50" cy="90.50" rx="8.50" ry="2.60" fill="#f2b3b3" stroke="#e39293" stroke-width="0.6" />
<circle cx="557.50" cy="90.50" r="1.00" fill="#e69a9b" stroke="none" stroke-width="1" />
<ellipse cx="557.50" cy="134.50" rx="8.50" ry="2.60" fill="#f2b3b3" stroke="#e39293" stroke-width="0.6" />
<circle cx="557.50" cy="134.50" r="1.00" fill="#e69a9b" stroke="none" stroke-width="1" />
<circle cx="464.90" cy="111.00" r="15.50" fill="#8fd1c4" stroke="#5ea99b" stroke-width="0.9" />
<circle cx="463.00" cy="112.00" r="10.00" fill="#72bfb1" stroke="none" stroke-width="1" />
<path d="M472,98 l4,-3 l3,4 l-4,3 Z" fill="#2f6fa8" stroke="none" stroke-width="1" />
<path d="M469,125 l5,-3 l4,5 l-5,3 Z" fill="#2e8c84" stroke="none" stroke-width="1" />
<rect x="455" y="129" width="2.4" height="6" rx="1" fill="#7cc870"/>
<rect x="467" y="129" width="2.4" height="6" rx="1" fill="#7cc870"/>
<path d="M484,107 L497,107" fill="none" stroke="#111" stroke-width="3" />
<path d="M495,102.5 L503,107 L495,111.5 Z" fill="#111" stroke="none" stroke-width="1" />
<path d="M506,104 C506,96 514,92 522,94 C530,94 536,100 540,106 C546,108 548,111 546,114 C538,116 520,116 510,115 C506,114 505,110 506,104 Z" fill="#8fd1c4" stroke="#5ea99b" stroke-width="0.9" />
<ellipse cx="520.00" cy="106.00" rx="8.00" ry="6.50" fill="#72bfb1" stroke="none" stroke-width="1" />
<path d="M506,94 l4,-2 l3,4 l-4,2 Z" fill="#7cc870" stroke="none" stroke-width="1" />
<path d="M517,115 l4,0 l0,4 l-4,0 Z" fill="#2f6fa8" stroke="none" stroke-width="1" />
<path d="M519,119 L519,135 M523,121 L523,135" fill="none" stroke="#4b7fc0" stroke-width="1.2" stroke-dasharray="1.6 1"/>
<path d="M549,100 C556,102 560,108 559,116" fill="none" stroke="#111" stroke-width="3" />
<path d="M555,114 L559,122 L563,114 Z" fill="#111" stroke="none" stroke-width="1" />
<path d="M553,124 C557,124 559,128 556,131 C554,134 555,140 556,146 C563,152 567,160 565,167 C562,175 545,176 541,168 C539,160 544,152 551,146 C552,140 552,134 550,131 C547,128 549,124 553,124 Z" fill="#8fd1c4" stroke="#5ea99b" stroke-width="0.9" />
<path d="M553,152 C557,158 558,164 554,168 C550,170 547,165 549,160 Z" fill="#72bfb1" stroke="none" stroke-width="1" />
</g>
<ellipse cx="510.5" cy="124.4" rx="73.5" ry="68.2" fill="none" stroke="#8aa4d8" stroke-width="0.9"/>
<text x="535.8" y="77.4" font-size="14.8" font-weight="bold" fill="#111111" stroke="#111111" stroke-width="0.22" text-anchor="middle" >F</text>
<text x="490.2" y="91.0" font-size="9.61" font-weight="bold" fill="#2a2a2a" stroke="#2a2a2a" stroke-width="0.22" text-anchor="middle" >LFA-1</text>
<text x="491.5" y="131.5" font-size="9.61" font-weight="bold" fill="#2a2a2a" stroke="#2a2a2a" stroke-width="0.22" text-anchor="middle" >CCR7</text>
<text x="460.5" y="144.7" font-size="9.61" font-weight="bold" fill="#2a2a2a" stroke="#2a2a2a" stroke-width="0.22" text-anchor="middle" >CCL21</text>
<text x="514.5" y="149.0" font-size="9.61" font-weight="bold" fill="#2a2a2a" stroke="#2a2a2a" stroke-width="0.22" text-anchor="middle" >ICAM-1</text>
<text x="517.2" y="157.2" font-size="6.79" font-weight="bold" fill="#2a2a2a" stroke="#2a2a2a" stroke-width="0.22" text-anchor="middle" >CCL21,</text>
<text x="517.2" y="163.4" font-size="6.79" font-weight="bold" fill="#2a2a2a" stroke="#2a2a2a" stroke-width="0.22" text-anchor="middle" >CCL19</text>
<path d="M222,127 C240,124 262,112 286,100 L300,118 L300,134 C276,140 250,148 222,153 Z" fill="#d4545b" stroke="none" stroke-width="1" />
<path d="M222,129 C242,125 262,114 286,102" fill="none" stroke="#b9373e" stroke-width="2.2" />
<path d="M222,142 C244,138 266,128 292,118" fill="none" stroke="#e8787c" stroke-width="3.5" />
<path d="M322,139 C340,138.5 360,137.5 380,135 L384,150 C360,150.5 340,151 322,151 Z" fill="#d8575d"/>
<path d="M322,144.5 C340,144 360,143.5 382,142.5" stroke="#ee9597" stroke-width="2.2" fill="none"/>
<path d="M322,150.3 C340,150.3 360,150 384,149.5" stroke="#c0424a" stroke-width="1" fill="none"/>
<rect x="318" y="132" width="34" height="22" fill="url(#vfade)"/>
<path d="M372.70,126.40 C374.57,124.33 379.23,122.20 383.80,122.20 C388.38,122.20 396.96,123.91 403.20,126.40 C409.44,128.89 419.16,135.49 425.40,138.80 C431.64,142.12 438.98,146.41 444.80,148.50 C450.62,150.59 458.78,151.65 464.20,152.70 C469.62,153.75 476.52,153.84 480.90,155.50 C485.28,157.16 490.91,160.89 493.40,163.80 C495.89,166.71 497.09,171.57 497.50,174.90 C497.91,178.23 497.77,182.67 496.10,186.00 C494.44,189.33 490.34,194.61 486.40,197.10 C482.45,199.59 475.20,202.18 469.80,202.60 C464.40,203.02 456.22,201.97 450.40,199.90 C444.58,197.83 436.83,192.97 431.00,188.80 C425.17,184.63 416.92,176.88 411.50,172.10 C406.08,167.31 399.47,160.44 394.90,156.90 C390.32,153.36 384.12,150.38 381.00,148.50 C377.88,146.62 375.56,146.28 374.10,144.40 C372.65,142.53 371.51,138.70 371.30,136.00 C371.09,133.30 370.82,128.47 372.70,126.40Z" fill="#d6545a" stroke="#bb3a40" stroke-width="1" />
<path d="M376,130 C392,124 410,130 428,142 C448,152 470,156 488,162" fill="none" stroke="#c2424a" stroke-width="5" opacity="0.7"/>
<path d="M380,146 C396,156 414,172 434,186 C452,196 470,198 486,192" fill="none" stroke="#e8797d" stroke-width="4" opacity="0.9"/>
<path d="M484,158 C496,166 499,182 490,196" fill="none" stroke="#e98a80" stroke-width="4" />
<ellipse cx="398.50" cy="138.80" rx="4.50" ry="6.50" fill="#db5258" stroke="#b8343a" stroke-width="0.8" transform="rotate(-35 398.50 138.80)" />
<ellipse cx="399.10" cy="139.30" rx="1.57" ry="3.58" fill="#c03a40" stroke="none" stroke-width="1" transform="rotate(-35 399.10 139.30)" />
<path d="M399.9,137.5 q0.9,2.6 0,3.9" fill="none" stroke="#f2b0b2" stroke-width="0.8" />
<ellipse cx="416.50" cy="149.90" rx="4.00" ry="7.00" fill="#db5258" stroke="#b8343a" stroke-width="0.8" transform="rotate(-70 416.50 149.90)" />
<ellipse cx="417.10" cy="150.40" rx="1.40" ry="3.85" fill="#c03a40" stroke="none" stroke-width="1" transform="rotate(-70 417.10 150.40)" />
<path d="M417.7,148.5 q0.8,2.8 0,4.2" fill="none" stroke="#f2b0b2" stroke-width="0.8" />
<ellipse cx="440.70" cy="169.30" rx="7.00" ry="9.50" fill="#db5258" stroke="#b8343a" stroke-width="0.8" transform="rotate(15 440.70 169.30)" />
<ellipse cx="441.30" cy="169.80" rx="2.45" ry="5.23" fill="#c03a40" stroke="none" stroke-width="1" transform="rotate(15 441.30 169.80)" />
<path d="M442.8,167.4 q1.4,3.8 0,5.7" fill="none" stroke="#f2b0b2" stroke-width="0.8" />
<ellipse cx="464.20" cy="173.50" rx="7.50" ry="10.50" fill="#db5258" stroke="#b8343a" stroke-width="0.8" transform="rotate(-15 464.20 173.50)" />
<ellipse cx="464.80" cy="174.00" rx="2.62" ry="5.78" fill="#c03a40" stroke="none" stroke-width="1" transform="rotate(-15 464.80 174.00)" />
<path d="M466.4,171.4 q1.5,4.2 0,6.3" fill="none" stroke="#f2b0b2" stroke-width="0.8" />
<ellipse cx="154.5" cy="122.3" rx="73.5" ry="68.2" fill="#ebf2fc"/>
<g clip-path="url(#clipD)">
<g >
<g fill="#9fa3d8" stroke="#9fa3d8" stroke-width="1.40" stroke-linejoin="round"><path d="M141.15,124.59 C140.38,129.25 138.67,136.30 135.44,139.32 C132.21,142.34 125.74,142.00 121.78,142.70 C117.81,143.41 114.48,145.91 111.66,143.55 C108.84,141.18 105.65,134.14 104.86,128.52 C104.08,122.90 104.95,114.25 106.96,109.82 C108.97,105.39 113.37,102.87 116.91,101.93 C120.46,100.99 124.37,102.61 128.23,104.18 C132.09,105.75 137.92,107.96 140.07,111.36 C142.22,114.76 141.92,119.93 141.15,124.59Z"/><path d="M110.95,120.52 L108.01,120.25 L105.07,120.07 L102.14,119.96 L99.22,119.94 L96.30,120.00 L93.39,120.14 L90.48,120.36 L87.58,120.67 L84.68,121.05 L81.79,121.51 L80.51,123.21 L82.21,124.49 L85.04,124.23 L87.86,124.05 L90.68,123.96 L93.49,123.94 L96.30,124.00 L99.10,124.14 L101.90,124.36 L104.69,124.65 L107.47,125.03 L110.25,125.48Z"/><path d="M113.75,112.48 L112.06,112.02 L110.43,111.46 L108.86,110.81 L107.36,110.08 L105.92,109.25 L104.53,108.33 L103.21,107.31 L101.94,106.19 L100.73,104.97 L99.57,103.65 L97.48,103.32 L97.15,105.41 L98.26,107.01 L99.46,108.52 L100.76,109.95 L102.14,111.28 L103.61,112.52 L105.17,113.66 L106.82,114.71 L108.56,115.66 L110.38,116.51 L112.29,117.26Z"/><path d="M120.52,110.24 L120.04,107.54 L119.45,104.88 L118.74,102.27 L117.91,99.70 L116.97,97.19 L115.92,94.71 L114.75,92.29 L113.46,89.91 L112.07,87.59 L110.56,85.30 L108.48,84.87 L108.05,86.95 L109.36,89.19 L110.55,91.47 L111.63,93.78 L112.60,96.11 L113.45,98.48 L114.20,100.88 L114.83,103.31 L115.35,105.78 L115.76,108.27 L116.06,110.80Z"/><path d="M127.39,110.43 L127.49,108.09 L127.71,105.78 L128.03,103.50 L128.47,101.24 L129.02,99.01 L129.68,96.80 L130.46,94.62 L131.35,92.46 L132.36,90.32 L133.48,88.21 L132.97,86.15 L130.91,86.66 L129.59,88.82 L128.38,91.03 L127.28,93.28 L126.30,95.57 L125.44,97.91 L124.69,100.28 L124.06,102.70 L123.55,105.16 L123.16,107.66 L122.90,110.19Z"/><path d="M130.18,114.28 L132.08,112.74 L133.87,111.12 L135.55,109.43 L137.14,107.67 L138.61,105.84 L139.99,103.94 L141.25,101.97 L142.42,99.93 L143.48,97.83 L144.43,95.66 L143.68,93.68 L141.69,94.43 L140.67,96.40 L139.56,98.28 L138.36,100.09 L137.08,101.82 L135.71,103.47 L134.25,105.05 L132.70,106.55 L131.07,107.99 L129.35,109.35 L127.54,110.64Z"/><path d="M129.25,132.30 L130.16,133.23 L131.13,134.08 L132.13,134.85 L133.19,135.54 L134.28,136.15 L135.41,136.68 L136.58,137.12 L137.79,137.49 L139.02,137.77 L140.29,137.99 L142.07,136.83 L140.92,135.05 L139.89,134.69 L138.92,134.28 L138.01,133.82 L137.16,133.31 L136.37,132.74 L135.64,132.13 L134.95,131.48 L134.32,130.77 L133.73,130.02 L133.19,129.22Z"/><path d="M125.02,136.63 L126.28,137.89 L127.44,139.19 L128.49,140.55 L129.45,141.95 L130.31,143.40 L131.07,144.91 L131.73,146.48 L132.30,148.10 L132.76,149.78 L133.12,151.52 L134.81,152.81 L136.10,151.12 L135.85,149.17 L135.49,147.26 L135.00,145.38 L134.40,143.55 L133.68,141.75 L132.83,140.01 L131.87,138.30 L130.78,136.65 L129.57,135.04 L128.25,133.49Z"/><path d="M116.94,134.50 L115.76,136.68 L114.69,138.88 L113.75,141.12 L112.93,143.39 L112.23,145.68 L111.66,148.00 L111.21,150.35 L110.88,152.72 L110.67,155.12 L110.58,157.54 L112.01,159.10 L113.58,157.67 L113.80,155.41 L114.14,153.19 L114.59,151.02 L115.15,148.88 L115.82,146.79 L116.59,144.73 L117.47,142.71 L118.46,140.73 L119.56,138.78 L120.77,136.87Z"/><path d="M111.62,130.28 L110.09,132.29 L108.48,134.21 L106.78,136.04 L105.01,137.80 L103.16,139.47 L101.23,141.06 L99.21,142.57 L97.11,143.99 L94.93,145.33 L92.66,146.58 L91.97,148.59 L93.98,149.28 L96.44,148.09 L98.82,146.81 L101.13,145.43 L103.36,143.96 L105.52,142.38 L107.61,140.71 L109.62,138.94 L111.55,137.07 L113.40,135.10 L115.17,133.04Z"/><path d="M111.19,125.02 L109.57,125.22 L107.99,125.51 L106.45,125.88 L104.94,126.33 L103.48,126.86 L102.05,127.46 L100.66,128.15 L99.32,128.90 L98.01,129.74 L96.74,130.64 L96.32,132.72 L98.39,133.15 L99.62,132.50 L100.87,131.93 L102.13,131.43 L103.40,131.01 L104.69,130.67 L106.00,130.40 L107.32,130.20 L108.66,130.06 L110.01,130.00 L111.39,130.01Z"/></g>
<g fill="#d6d9f1"><path d="M141.15,124.59 C140.38,129.25 138.67,136.30 135.44,139.32 C132.21,142.34 125.74,142.00 121.78,142.70 C117.81,143.41 114.48,145.91 111.66,143.55 C108.84,141.18 105.65,134.14 104.86,128.52 C104.08,122.90 104.95,114.25 106.96,109.82 C108.97,105.39 113.37,102.87 116.91,101.93 C120.46,100.99 124.37,102.61 128.23,104.18 C132.09,105.75 137.92,107.96 140.07,111.36 C142.22,114.76 141.92,119.93 141.15,124.59Z"/><path d="M110.95,120.52 L108.01,120.25 L105.07,120.07 L102.14,119.96 L99.22,119.94 L96.30,120.00 L93.39,120.14 L90.48,120.36 L87.58,120.67 L84.68,121.05 L81.79,121.51 L80.51,123.21 L82.21,124.49 L85.04,124.23 L87.86,124.05 L90.68,123.96 L93.49,123.94 L96.30,124.00 L99.10,124.14 L101.90,124.36 L104.69,124.65 L107.47,125.03 L110.25,125.48Z"/><path d="M113.75,112.48 L112.06,112.02 L110.43,111.46 L108.86,110.81 L107.36,110.08 L105.92,109.25 L104.53,108.33 L103.21,107.31 L101.94,106.19 L100.73,104.97 L99.57,103.65 L97.48,103.32 L97.15,105.41 L98.26,107.01 L99.46,108.52 L100.76,109.95 L102.14,111.28 L103.61,112.52 L105.17,113.66 L106.82,114.71 L108.56,115.66 L110.38,116.51 L112.29,117.26Z"/><path d="M120.52,110.24 L120.04,107.54 L119.45,104.88 L118.74,102.27 L117.91,99.70 L116.97,97.19 L115.92,94.71 L114.75,92.29 L113.46,89.91 L112.07,87.59 L110.56,85.30 L108.48,84.87 L108.05,86.95 L109.36,89.19 L110.55,91.47 L111.63,93.78 L112.60,96.11 L113.45,98.48 L114.20,100.88 L114.83,103.31 L115.35,105.78 L115.76,108.27 L116.06,110.80Z"/><path d="M127.39,110.43 L127.49,108.09 L127.71,105.78 L128.03,103.50 L128.47,101.24 L129.02,99.01 L129.68,96.80 L130.46,94.62 L131.35,92.46 L132.36,90.32 L133.48,88.21 L132.97,86.15 L130.91,86.66 L129.59,88.82 L128.38,91.03 L127.28,93.28 L126.30,95.57 L125.44,97.91 L124.69,100.28 L124.06,102.70 L123.55,105.16 L123.16,107.66 L122.90,110.19Z"/><path d="M130.18,114.28 L132.08,112.74 L133.87,111.12 L135.55,109.43 L137.14,107.67 L138.61,105.84 L139.99,103.94 L141.25,101.97 L142.42,99.93 L143.48,97.83 L144.43,95.66 L143.68,93.68 L141.69,94.43 L140.67,96.40 L139.56,98.28 L138.36,100.09 L137.08,101.82 L135.71,103.47 L134.25,105.05 L132.70,106.55 L131.07,107.99 L129.35,109.35 L127.54,110.64Z"/><path d="M129.25,132.30 L130.16,133.23 L131.13,134.08 L132.13,134.85 L133.19,135.54 L134.28,136.15 L135.41,136.68 L136.58,137.12 L137.79,137.49 L139.02,137.77 L140.29,137.99 L142.07,136.83 L140.92,135.05 L139.89,134.69 L138.92,134.28 L138.01,133.82 L137.16,133.31 L136.37,132.74 L135.64,132.13 L134.95,131.48 L134.32,130.77 L133.73,130.02 L133.19,129.22Z"/><path d="M125.02,136.63 L126.28,137.89 L127.44,139.19 L128.49,140.55 L129.45,141.95 L130.31,143.40 L131.07,144.91 L131.73,146.48 L132.30,148.10 L132.76,149.78 L133.12,151.52 L134.81,152.81 L136.10,151.12 L135.85,149.17 L135.49,147.26 L135.00,145.38 L134.40,143.55 L133.68,141.75 L132.83,140.01 L131.87,138.30 L130.78,136.65 L129.57,135.04 L128.25,133.49Z"/><path d="M116.94,134.50 L115.76,136.68 L114.69,138.88 L113.75,141.12 L112.93,143.39 L112.23,145.68 L111.66,148.00 L111.21,150.35 L110.88,152.72 L110.67,155.12 L110.58,157.54 L112.01,159.10 L113.58,157.67 L113.80,155.41 L114.14,153.19 L114.59,151.02 L115.15,148.88 L115.82,146.79 L116.59,144.73 L117.47,142.71 L118.46,140.73 L119.56,138.78 L120.77,136.87Z"/><path d="M111.62,130.28 L110.09,132.29 L108.48,134.21 L106.78,136.04 L105.01,137.80 L103.16,139.47 L101.23,141.06 L99.21,142.57 L97.11,143.99 L94.93,145.33 L92.66,146.58 L91.97,148.59 L93.98,149.28 L96.44,148.09 L98.82,146.81 L101.13,145.43 L103.36,143.96 L105.52,142.38 L107.61,140.71 L109.62,138.94 L111.55,137.07 L113.40,135.10 L115.17,133.04Z"/><path d="M111.19,125.02 L109.57,125.22 L107.99,125.51 L106.45,125.88 L104.94,126.33 L103.48,126.86 L102.05,127.46 L100.66,128.15 L99.32,128.90 L98.01,129.74 L96.74,130.64 L96.32,132.72 L98.39,133.15 L99.62,132.50 L100.87,131.93 L102.13,131.43 L103.40,131.01 L104.69,130.67 L106.00,130.40 L107.32,130.20 L108.66,130.06 L110.01,130.00 L111.39,130.01Z"/></g>
<ellipse cx="117.4" cy="126.4" rx="10" ry="8" fill="#aaa6d8" transform="rotate(30 117.4 126.4)"/>
</g>
<circle cx="199.00" cy="122.50" r="29.50" fill="#d1e5d3" stroke="#8db592" stroke-width="0.9" />
<circle cx="202.00" cy="123.00" r="17.90" fill="#9bc8a8" stroke="#7db08a" stroke-width="0.8" />
<path d="M141,114 L177,114" fill="none" stroke="#555577" stroke-width="0.6" />
<path d="M141,117 L177,117" fill="none" stroke="#555577" stroke-width="0.6" />
<path d="M141,129.5 L177,129.5" fill="none" stroke="#555577" stroke-width="0.6" />
<path d="M141,132.5 L177,132.5" fill="none" stroke="#555577" stroke-width="0.6" />
<path d="M150,112.5 L156,112.5 L154,115.5 L156,118.5 L150,118.5 Z" fill="#5b4c9c" stroke="none" stroke-width="1" />
<rect x="157" y="112.8" width="9.5" height="5.5" rx="1" fill="#3faa5c"/>
<rect x="148" y="124.3" width="22" height="3" rx="1" fill="#2b9a98"/>
<rect x="148" y="129" width="8" height="4.8" rx="1" fill="#9b7bc0"/>
<circle cx="155.50" cy="131.40" r="0.90" fill="#d02050" stroke="none" stroke-width="1" />
<rect x="157" y="129" width="9.5" height="4.8" rx="1" fill="#3faa5c"/>
<path d="M138,90 C150,78 166,80 174,92" fill="none" stroke="#222" stroke-width="0.7" />
<path d="M172,90 L175,94 L176,89" fill="none" stroke="#222" stroke-width="0.7" />
<circle cx="145.00" cy="79.00" r="1.30" fill="#9c92d0" stroke="none" stroke-width="1" />
<circle cx="150.00" cy="77.00" r="1.30" fill="#8077c0" stroke="none" stroke-width="1" />
<circle cx="154.00" cy="75.00" r="1.30" fill="#6e64b8" stroke="none" stroke-width="1" />
<circle cx="158.00" cy="76.00" r="1.30" fill="#4a3c98" stroke="none" stroke-width="1" />
<circle cx="163.00" cy="77.00" r="1.30" fill="#9c92d0" stroke="none" stroke-width="1" />
<circle cx="167.00" cy="79.00" r="1.30" fill="#8a80c6" stroke="none" stroke-width="1" />
<circle cx="149.00" cy="84.00" r="1.30" fill="#7066b8" stroke="none" stroke-width="1" />
<circle cx="155.00" cy="83.00" r="1.30" fill="#3e3290" stroke="none" stroke-width="1" />
<circle cx="160.00" cy="85.00" r="1.30" fill="#8a80c6" stroke="none" stroke-width="1" />
<circle cx="165.00" cy="86.00" r="1.30" fill="#9c92d0" stroke="none" stroke-width="1" />
<circle cx="156.00" cy="71.00" r="1.30" fill="#9c92d0" stroke="none" stroke-width="1" />
<path d="M175,93 C176,97 180,97 181,93" fill="none" stroke="#2d6fa0" stroke-width="1.8" />
<circle cx="178.00" cy="93.00" r="1.20" fill="#b9a4d8" stroke="none" stroke-width="1" />
<path d="M179,97 L182,101" fill="none" stroke="#2d6fa0" stroke-width="0.8" />
</g>
<ellipse cx="154.5" cy="122.3" rx="73.5" ry="68.2" fill="none" stroke="#8aa4d8" stroke-width="0.9"/>
<text x="128.0" y="72.7" font-size="14.8" font-weight="bold" fill="#111111" stroke="#111111" stroke-width="0.22" text-anchor="middle" >D</text>
<text x="123.2" y="165.5" font-size="7.63" font-weight="bold" fill="#111111" stroke="#111111" stroke-width="0.22" text-anchor="middle" >Mature DC</text>
<text x="192.8" y="165.5" font-size="7.63" font-weight="bold" fill="#111111" stroke="#111111" stroke-width="0.22" text-anchor="middle" >T cell</text>
<ellipse cx="332.5" cy="69.3" rx="73.5" ry="68.2" fill="#ebf2fc"/>
<g clip-path="url(#clipE)">
<path d="M309.79,31.20 C309.75,32.91 308.93,34.61 308.37,36.28 C307.80,37.96 307.48,39.97 306.39,41.26 C305.29,42.54 303.33,43.11 301.79,43.99 C300.24,44.87 298.76,46.23 297.10,46.53 C295.44,46.82 293.49,46.22 291.83,45.75 C290.18,45.29 288.64,44.56 287.16,43.74 C285.67,42.92 284.20,42.02 282.92,40.83 C281.64,39.65 280.05,38.23 279.48,36.63 C278.91,35.02 279.49,33.01 279.50,31.20 C279.51,29.39 278.99,27.42 279.54,25.79 C280.09,24.17 281.58,22.75 282.80,21.46 C284.01,20.18 285.33,18.93 286.82,18.08 C288.32,17.22 290.08,16.66 291.78,16.34 C293.48,16.02 295.37,15.85 297.05,16.17 C298.73,16.49 300.46,17.31 301.87,18.26 C303.27,19.22 304.36,20.61 305.48,21.91 C306.60,23.20 307.87,24.49 308.59,26.04 C309.31,27.58 309.82,29.49 309.79,31.20Z" fill="#f1a2b6" stroke="#de7390" stroke-width="0.9" />
<path d="M290,23 C293,18 301,18 304,22 C307,26 306,30 303,32 C306,34 307,38 304,41 C300,44 292,43 289,40 C287,37 290,34 294,33 L297,31 C293,30 288,28 290,23 Z" fill="#e0728e" stroke="none" stroke-width="1" />
<path d="M291,32.5 L298,31.5" fill="none" stroke="#f1a2b6" stroke-width="0.8" />
<circle cx="292.15" cy="35.72" r="0.50" fill="#d65c78" stroke="none" stroke-width="1" />
<circle cx="292.35" cy="28.36" r="0.50" fill="#d65c78" stroke="none" stroke-width="1" />
<circle cx="286.73" cy="29.46" r="0.50" fill="#d65c78" stroke="none" stroke-width="1" />
<circle cx="303.05" cy="34.50" r="0.50" fill="#d65c78" stroke="none" stroke-width="1" />
<circle cx="302.72" cy="33.20" r="0.50" fill="#d65c78" stroke="none" stroke-width="1" />
<circle cx="297.94" cy="32.86" r="0.50" fill="#d65c78" stroke="none" stroke-width="1" />
<circle cx="283.89" cy="36.61" r="0.50" fill="#d65c78" stroke="none" stroke-width="1" />
<circle cx="298.78" cy="35.51" r="0.50" fill="#d65c78" stroke="none" stroke-width="1" />
<circle cx="285.57" cy="22.13" r="0.50" fill="#d65c78" stroke="none" stroke-width="1" />
<circle cx="287.15" cy="27.40" r="0.50" fill="#d65c78" stroke="none" stroke-width="1" />
<circle cx="297.17" cy="30.77" r="0.50" fill="#d65c78" stroke="none" stroke-width="1" />
<circle cx="298.79" cy="25.75" r="0.50" fill="#d65c78" stroke="none" stroke-width="1" />
<circle cx="297.15" cy="34.71" r="0.50" fill="#d65c78" stroke="none" stroke-width="1" />
<circle cx="290.19" cy="42.16" r="0.50" fill="#d65c78" stroke="none" stroke-width="1" />
<circle cx="298.59" cy="40.19" r="0.50" fill="#d65c78" stroke="none" stroke-width="1" />
<circle cx="289.29" cy="25.13" r="0.50" fill="#d65c78" stroke="none" stroke-width="1" />
<circle cx="291.29" cy="30.24" r="0.50" fill="#d65c78" stroke="none" stroke-width="1" />
<circle cx="299.89" cy="33.36" r="0.50" fill="#d65c78" stroke="none" stroke-width="1" />
<circle cx="290.78" cy="23.51" r="0.50" fill="#d65c78" stroke="none" stroke-width="1" />
<circle cx="290.51" cy="40.35" r="0.50" fill="#d65c78" stroke="none" stroke-width="1" />
<circle cx="287.59" cy="33.27" r="0.50" fill="#d65c78" stroke="none" stroke-width="1" />
<circle cx="297.37" cy="20.74" r="0.50" fill="#d65c78" stroke="none" stroke-width="1" />
<circle cx="294.77" cy="41.05" r="0.50" fill="#d65c78" stroke="none" stroke-width="1" />
<circle cx="282.39" cy="29.30" r="0.50" fill="#d65c78" stroke="none" stroke-width="1" />
<circle cx="293.49" cy="24.28" r="0.50" fill="#d65c78" stroke="none" stroke-width="1" />
<circle cx="298.83" cy="30.63" r="0.50" fill="#d65c78" stroke="none" stroke-width="1" />
<circle cx="284.56" cy="36.78" r="0.50" fill="#d65c78" stroke="none" stroke-width="1" />
<circle cx="299.65" cy="38.62" r="0.50" fill="#d65c78" stroke="none" stroke-width="1" />
<circle cx="304.71" cy="33.79" r="0.50" fill="#d65c78" stroke="none" stroke-width="1" />
<circle cx="295.28" cy="21.40" r="0.50" fill="#d65c78" stroke="none" stroke-width="1" />
<circle cx="299.55" cy="26.05" r="0.50" fill="#d65c78" stroke="none" stroke-width="1" />
<circle cx="291.00" cy="21.77" r="0.50" fill="#d65c78" stroke="none" stroke-width="1" />
<circle cx="286.69" cy="26.99" r="0.50" fill="#d65c78" stroke="none" stroke-width="1" />
<circle cx="301.14" cy="20.51" r="0.50" fill="#d65c78" stroke="none" stroke-width="1" />
<circle cx="283.95" cy="32.93" r="0.50" fill="#d65c78" stroke="none" stroke-width="1" />
<circle cx="304.51" cy="35.25" r="0.50" fill="#d65c78" stroke="none" stroke-width="1" />
<circle cx="286.58" cy="20.87" r="0.50" fill="#d65c78" stroke="none" stroke-width="1" />
<circle cx="297.41" cy="24.95" r="0.50" fill="#d65c78" stroke="none" stroke-width="1" />
<circle cx="286.40" cy="38.20" r="0.50" fill="#d65c78" stroke="none" stroke-width="1" />
<circle cx="303.14" cy="32.45" r="0.50" fill="#d65c78" stroke="none" stroke-width="1" />
<path d="M348.81,44.90 C348.78,46.04 348.64,47.23 348.28,48.30 C347.93,49.37 347.20,50.31 346.70,51.31 C346.19,52.31 345.92,53.46 345.24,54.30 C344.56,55.15 343.44,55.61 342.64,56.38 C341.84,57.16 341.25,58.11 340.42,58.97 C339.60,59.84 338.78,61.17 337.72,61.57 C336.65,61.96 335.22,61.36 334.03,61.35 C332.84,61.35 331.67,61.71 330.55,61.53 C329.43,61.36 328.31,60.81 327.30,60.28 C326.30,59.75 325.52,58.89 324.53,58.35 C323.54,57.81 322.38,57.61 321.37,57.04 C320.36,56.47 319.15,55.85 318.49,54.94 C317.83,54.02 317.91,52.60 317.42,51.52 C316.93,50.44 315.82,49.56 315.55,48.46 C315.28,47.36 315.63,46.05 315.81,44.90 C315.99,43.75 316.43,42.70 316.66,41.58 C316.89,40.46 316.84,39.25 317.21,38.18 C317.57,37.11 318.12,35.99 318.86,35.13 C319.59,34.28 320.78,33.84 321.62,33.04 C322.46,32.24 322.94,30.91 323.89,30.34 C324.85,29.77 326.22,29.91 327.34,29.63 C328.45,29.35 329.49,28.78 330.59,28.66 C331.70,28.54 332.89,28.69 333.98,28.91 C335.07,29.13 336.06,29.69 337.14,29.99 C338.23,30.29 339.41,30.32 340.50,30.70 C341.59,31.08 342.87,31.47 343.68,32.26 C344.48,33.05 344.72,34.45 345.32,35.44 C345.92,36.43 346.77,37.22 347.30,38.22 C347.82,39.23 348.22,40.35 348.48,41.46 C348.73,42.57 348.85,43.76 348.81,44.90Z" fill="#b8b6e6" stroke="#a19fd8" stroke-width="0.8" />
<circle cx="335.00" cy="46.50" r="8.00" fill="#9995d3" stroke="none" stroke-width="1" />
<circle cx="324.00" cy="36.00" r="0.80" fill="#e0e0f6" stroke="none" stroke-width="1" />
<circle cx="342.00" cy="35.00" r="0.80" fill="#e0e0f6" stroke="none" stroke-width="1" />
<circle cx="343.00" cy="53.00" r="0.80" fill="#e0e0f6" stroke="none" stroke-width="1" />
<circle cx="322.00" cy="51.00" r="0.80" fill="#e0e0f6" stroke="none" stroke-width="1" />
<circle cx="338.00" cy="38.00" r="0.80" fill="#e0e0f6" stroke="none" stroke-width="1" />
<circle cx="377.20" cy="42.90" r="17.50" fill="#d5a2c2" stroke="#b37ca3" stroke-width="0.9" />
<path d="M375,32 C370,33 369,38 372,41 C370,44 369,48 372,50 C375,53 380,52 383,50 C386,48 386,46 384,45" fill="none" stroke="#a65e8d" stroke-width="4.6" stroke-linecap="round" stroke-linejoin="round"/>
<ellipse cx="375.00" cy="31.50" rx="3.60" ry="3.00" fill="#a65e8d" stroke="none" stroke-width="1" />
<ellipse cx="384.50" cy="46.50" rx="3.00" ry="2.60" fill="#a65e8d" stroke="none" stroke-width="1" />
<circle cx="378.04" cy="53.93" r="0.60" fill="#8e4b78" stroke="none" stroke-width="1" />
<circle cx="369.23" cy="51.41" r="0.60" fill="#8e4b78" stroke="none" stroke-width="1" />
<circle cx="374.49" cy="40.18" r="0.60" fill="#8e4b78" stroke="none" stroke-width="1" />
<circle cx="390.88" cy="44.03" r="0.60" fill="#8e4b78" stroke="none" stroke-width="1" />
<circle cx="376.78" cy="50.15" r="0.60" fill="#8e4b78" stroke="none" stroke-width="1" />
<circle cx="387.48" cy="42.59" r="0.60" fill="#8e4b78" stroke="none" stroke-width="1" />
<circle cx="382.53" cy="34.02" r="0.60" fill="#8e4b78" stroke="none" stroke-width="1" />
<circle cx="373.45" cy="38.44" r="0.60" fill="#8e4b78" stroke="none" stroke-width="1" />
<circle cx="367.93" cy="32.44" r="0.60" fill="#8e4b78" stroke="none" stroke-width="1" />
<circle cx="364.42" cy="41.05" r="0.60" fill="#8e4b78" stroke="none" stroke-width="1" />
<circle cx="375.39" cy="39.56" r="0.60" fill="#8e4b78" stroke="none" stroke-width="1" />
<circle cx="377.77" cy="31.38" r="0.60" fill="#8e4b78" stroke="none" stroke-width="1" />
<circle cx="376.37" cy="45.41" r="0.60" fill="#8e4b78" stroke="none" stroke-width="1" />
<circle cx="384.02" cy="35.17" r="0.60" fill="#8e4b78" stroke="none" stroke-width="1" />
<path d="M306.10,81.00 C306.11,82.76 305.43,84.50 305.01,86.30 C304.59,88.10 304.61,90.37 303.58,91.81 C302.55,93.25 300.39,93.95 298.81,94.92 C297.24,95.90 295.80,97.12 294.11,97.66 C292.43,98.19 290.47,98.24 288.70,98.13 C286.93,98.02 285.18,97.55 283.50,97.01 C281.81,96.47 280.13,95.82 278.60,94.90 C277.07,93.97 275.33,92.89 274.32,91.45 C273.31,90.01 272.91,87.99 272.53,86.25 C272.15,84.51 272.10,82.77 272.05,81.00 C272.00,79.23 271.71,77.28 272.24,75.65 C272.77,74.02 274.16,72.62 275.24,71.22 C276.32,69.82 277.39,68.46 278.71,67.25 C280.04,66.05 281.50,64.59 283.17,63.97 C284.83,63.35 286.82,63.62 288.70,63.53 C290.58,63.43 292.77,62.76 294.42,63.39 C296.08,64.03 297.18,66.15 298.63,67.33 C300.08,68.52 302.06,69.13 303.12,70.52 C304.18,71.92 304.48,73.97 304.97,75.71 C305.47,77.46 306.09,79.24 306.10,81.00Z" fill="#c9b7e5" stroke="#ac96d2" stroke-width="0.8" />
<path d="M280,84 C280,76 288,72 292,76 C294,70 302,74 301,82 C300,92 288,96 282,92 C279,90 280,87 280,84 Z" fill="#a98fcb" stroke="none" stroke-width="1" />
<circle cx="375.20" cy="94.30" r="18.70" fill="#dcf1d6" stroke="#8fc98a" stroke-width="0.9" />
<circle cx="376.00" cy="92.50" r="11.50" fill="#c0e4b6" stroke="none" stroke-width="1" />
<g >
<g fill="#9d9ad8" stroke="#9d9ad8" stroke-width="0.80" stroke-linejoin="round"><path d="M345.18,118.15 C344.73,119.97 343.07,119.84 340.98,121.19 C338.88,122.55 335.02,126.06 332.62,126.29 C330.21,126.52 328.25,124.18 326.55,122.56 C324.84,120.94 322.67,118.73 322.38,116.58 C322.08,114.43 323.59,111.61 324.75,109.65 C325.92,107.69 327.14,105.86 329.38,104.80 C331.62,103.75 335.81,102.42 338.20,103.32 C340.58,104.23 342.52,107.76 343.68,110.24 C344.85,112.71 345.64,116.32 345.18,118.15Z"/><path d="M328.02,111.27 L326.65,110.59 L325.26,109.97 L323.86,109.42 L322.44,108.92 L321.01,108.49 L319.56,108.11 L318.10,107.80 L316.63,107.54 L315.14,107.35 L313.64,107.22 L312.53,108.10 L313.42,109.20 L314.82,109.45 L316.20,109.74 L317.56,110.10 L318.89,110.50 L320.21,110.96 L321.49,111.47 L322.76,112.04 L324.00,112.65 L325.23,113.33 L326.43,114.05Z"/><path d="M326.47,115.06 L325.58,115.52 L324.68,115.95 L323.77,116.35 L322.85,116.71 L321.91,117.03 L320.96,117.32 L319.99,117.57 L319.01,117.78 L318.02,117.96 L317.01,118.10 L316.08,119.17 L317.15,120.10 L318.24,120.05 L319.33,119.96 L320.41,119.83 L321.49,119.66 L322.56,119.44 L323.62,119.19 L324.67,118.89 L325.71,118.56 L326.75,118.18 L327.78,117.76Z"/><path d="M330.57,108.91 L329.97,107.98 L329.33,107.07 L328.67,106.20 L327.98,105.35 L327.26,104.54 L326.50,103.75 L325.72,102.99 L324.91,102.27 L324.07,101.57 L323.20,100.90 L321.80,101.05 L321.94,102.45 L322.69,103.15 L323.40,103.86 L324.08,104.60 L324.73,105.36 L325.34,106.14 L325.92,106.95 L326.48,107.77 L327.00,108.62 L327.49,109.48 L327.95,110.37Z"/><path d="M334.01,107.72 L333.63,106.58 L333.28,105.43 L332.97,104.27 L332.70,103.10 L332.46,101.92 L332.26,100.73 L332.10,99.54 L331.98,98.34 L331.90,97.13 L331.86,95.91 L330.88,94.89 L329.86,95.86 L329.80,97.15 L329.78,98.43 L329.81,99.71 L329.88,100.99 L329.99,102.27 L330.13,103.54 L330.33,104.81 L330.56,106.08 L330.83,107.35 L331.15,108.61Z"/><path d="M337.23,109.40 L338.04,108.00 L338.80,106.58 L339.50,105.13 L340.13,103.67 L340.71,102.19 L341.23,100.69 L341.69,99.17 L342.09,97.63 L342.44,96.07 L342.72,94.49 L341.93,93.32 L340.76,94.11 L340.39,95.59 L339.97,97.05 L339.50,98.47 L338.97,99.88 L338.39,101.25 L337.76,102.61 L337.08,103.93 L336.34,105.23 L335.55,106.51 L334.71,107.76Z"/><path d="M339.81,111.64 L340.53,110.80 L341.27,109.99 L342.04,109.20 L342.83,108.45 L343.65,107.72 L344.50,107.02 L345.37,106.35 L346.27,105.70 L347.20,105.09 L348.15,104.50 L348.57,103.15 L347.21,102.74 L346.15,103.27 L345.11,103.84 L344.09,104.44 L343.09,105.08 L342.12,105.75 L341.16,106.46 L340.23,107.20 L339.33,107.97 L338.45,108.79 L337.59,109.63Z"/><path d="M339.98,115.05 L341.09,115.00 L342.19,114.91 L343.28,114.77 L344.36,114.59 L345.42,114.37 L346.48,114.12 L347.53,113.82 L348.56,113.48 L349.59,113.10 L350.60,112.68 L351.18,111.39 L349.89,110.81 L348.91,111.11 L347.93,111.37 L346.96,111.59 L345.97,111.77 L344.99,111.91 L344.00,112.02 L343.01,112.08 L342.02,112.11 L341.02,112.10 L340.02,112.05Z"/><path d="M339.35,117.44 L340.78,117.99 L342.21,118.46 L343.66,118.88 L345.12,119.23 L346.58,119.53 L348.06,119.76 L349.54,119.93 L351.03,120.03 L352.53,120.08 L354.04,120.07 L355.04,119.07 L354.05,118.07 L352.62,117.98 L351.22,117.84 L349.83,117.64 L348.46,117.39 L347.10,117.08 L345.76,116.71 L344.44,116.29 L343.13,115.82 L341.84,115.29 L340.56,114.70Z"/><path d="M337.33,120.61 L338.17,121.14 L338.99,121.71 L339.79,122.30 L340.56,122.92 L341.31,123.57 L342.04,124.26 L342.74,124.97 L343.41,125.71 L344.07,126.48 L344.69,127.28 L346.08,127.55 L346.35,126.16 L345.76,125.24 L345.14,124.34 L344.48,123.47 L343.80,122.62 L343.08,121.81 L342.33,121.02 L341.55,120.25 L340.73,119.51 L339.89,118.81 L339.01,118.13Z"/><path d="M333.72,121.23 L333.92,122.51 L334.16,123.78 L334.44,125.04 L334.76,126.29 L335.12,127.52 L335.52,128.73 L335.96,129.94 L336.44,131.13 L336.95,132.30 L337.51,133.46 L338.83,133.96 L339.33,132.64 L338.89,131.50 L338.50,130.35 L338.14,129.20 L337.82,128.04 L337.54,126.87 L337.29,125.69 L337.09,124.51 L336.92,123.32 L336.79,122.13 L336.70,120.92Z"/><path d="M330.30,120.89 L330.16,122.29 L329.98,123.69 L329.76,125.08 L329.50,126.46 L329.20,127.84 L328.87,129.20 L328.50,130.56 L328.08,131.91 L327.63,133.26 L327.14,134.60 L327.68,135.91 L328.99,135.37 L329.59,134.02 L330.15,132.66 L330.68,131.28 L331.17,129.89 L331.62,128.48 L332.03,127.06 L332.40,125.63 L332.73,124.19 L333.03,122.73 L333.28,121.26Z"/><path d="M327.99,118.13 L327.11,118.81 L326.27,119.51 L325.45,120.25 L324.67,121.02 L323.92,121.81 L323.20,122.62 L322.52,123.47 L321.86,124.34 L321.24,125.24 L320.65,126.16 L320.92,127.55 L322.31,127.28 L322.93,126.48 L323.59,125.71 L324.26,124.97 L324.96,124.26 L325.69,123.57 L326.44,122.92 L327.21,122.30 L328.01,121.71 L328.83,121.14 L329.67,120.61Z"/></g>
<g fill="#b2b0e6"><path d="M345.18,118.15 C344.73,119.97 343.07,119.84 340.98,121.19 C338.88,122.55 335.02,126.06 332.62,126.29 C330.21,126.52 328.25,124.18 326.55,122.56 C324.84,120.94 322.67,118.73 322.38,116.58 C322.08,114.43 323.59,111.61 324.75,109.65 C325.92,107.69 327.14,105.86 329.38,104.80 C331.62,103.75 335.81,102.42 338.20,103.32 C340.58,104.23 342.52,107.76 343.68,110.24 C344.85,112.71 345.64,116.32 345.18,118.15Z"/><path d="M328.02,111.27 L326.65,110.59 L325.26,109.97 L323.86,109.42 L322.44,108.92 L321.01,108.49 L319.56,108.11 L318.10,107.80 L316.63,107.54 L315.14,107.35 L313.64,107.22 L312.53,108.10 L313.42,109.20 L314.82,109.45 L316.20,109.74 L317.56,110.10 L318.89,110.50 L320.21,110.96 L321.49,111.47 L322.76,112.04 L324.00,112.65 L325.23,113.33 L326.43,114.05Z"/><path d="M326.47,115.06 L325.58,115.52 L324.68,115.95 L323.77,116.35 L322.85,116.71 L321.91,117.03 L320.96,117.32 L319.99,117.57 L319.01,117.78 L318.02,117.96 L317.01,118.10 L316.08,119.17 L317.15,120.10 L318.24,120.05 L319.33,119.96 L320.41,119.83 L321.49,119.66 L322.56,119.44 L323.62,119.19 L324.67,118.89 L325.71,118.56 L326.75,118.18 L327.78,117.76Z"/><path d="M330.57,108.91 L329.97,107.98 L329.33,107.07 L328.67,106.20 L327.98,105.35 L327.26,104.54 L326.50,103.75 L325.72,102.99 L324.91,102.27 L324.07,101.57 L323.20,100.90 L321.80,101.05 L321.94,102.45 L322.69,103.15 L323.40,103.86 L324.08,104.60 L324.73,105.36 L325.34,106.14 L325.92,106.95 L326.48,107.77 L327.00,108.62 L327.49,109.48 L327.95,110.37Z"/><path d="M334.01,107.72 L333.63,106.58 L333.28,105.43 L332.97,104.27 L332.70,103.10 L332.46,101.92 L332.26,100.73 L332.10,99.54 L331.98,98.34 L331.90,97.13 L331.86,95.91 L330.88,94.89 L329.86,95.86 L329.80,97.15 L329.78,98.43 L329.81,99.71 L329.88,100.99 L329.99,102.27 L330.13,103.54 L330.33,104.81 L330.56,106.08 L330.83,107.35 L331.15,108.61Z"/><path d="M337.23,109.40 L338.04,108.00 L338.80,106.58 L339.50,105.13 L340.13,103.67 L340.71,102.19 L341.23,100.69 L341.69,99.17 L342.09,97.63 L342.44,96.07 L342.72,94.49 L341.93,93.32 L340.76,94.11 L340.39,95.59 L339.97,97.05 L339.50,98.47 L338.97,99.88 L338.39,101.25 L337.76,102.61 L337.08,103.93 L336.34,105.23 L335.55,106.51 L334.71,107.76Z"/><path d="M339.81,111.64 L340.53,110.80 L341.27,109.99 L342.04,109.20 L342.83,108.45 L343.65,107.72 L344.50,107.02 L345.37,106.35 L346.27,105.70 L347.20,105.09 L348.15,104.50 L348.57,103.15 L347.21,102.74 L346.15,103.27 L345.11,103.84 L344.09,104.44 L343.09,105.08 L342.12,105.75 L341.16,106.46 L340.23,107.20 L339.33,107.97 L338.45,108.79 L337.59,109.63Z"/><path d="M339.98,115.05 L341.09,115.00 L342.19,114.91 L343.28,114.77 L344.36,114.59 L345.42,114.37 L346.48,114.12 L347.53,113.82 L348.56,113.48 L349.59,113.10 L350.60,112.68 L351.18,111.39 L349.89,110.81 L348.91,111.11 L347.93,111.37 L346.96,111.59 L345.97,111.77 L344.99,111.91 L344.00,112.02 L343.01,112.08 L342.02,112.11 L341.02,112.10 L340.02,112.05Z"/><path d="M339.35,117.44 L340.78,117.99 L342.21,118.46 L343.66,118.88 L345.12,119.23 L346.58,119.53 L348.06,119.76 L349.54,119.93 L351.03,120.03 L352.53,120.08 L354.04,120.07 L355.04,119.07 L354.05,118.07 L352.62,117.98 L351.22,117.84 L349.83,117.64 L348.46,117.39 L347.10,117.08 L345.76,116.71 L344.44,116.29 L343.13,115.82 L341.84,115.29 L340.56,114.70Z"/><path d="M337.33,120.61 L338.17,121.14 L338.99,121.71 L339.79,122.30 L340.56,122.92 L341.31,123.57 L342.04,124.26 L342.74,124.97 L343.41,125.71 L344.07,126.48 L344.69,127.28 L346.08,127.55 L346.35,126.16 L345.76,125.24 L345.14,124.34 L344.48,123.47 L343.80,122.62 L343.08,121.81 L342.33,121.02 L341.55,120.25 L340.73,119.51 L339.89,118.81 L339.01,118.13Z"/><path d="M333.72,121.23 L333.92,122.51 L334.16,123.78 L334.44,125.04 L334.76,126.29 L335.12,127.52 L335.52,128.73 L335.96,129.94 L336.44,131.13 L336.95,132.30 L337.51,133.46 L338.83,133.96 L339.33,132.64 L338.89,131.50 L338.50,130.35 L338.14,129.20 L337.82,128.04 L337.54,126.87 L337.29,125.69 L337.09,124.51 L336.92,123.32 L336.79,122.13 L336.70,120.92Z"/><path d="M330.30,120.89 L330.16,122.29 L329.98,123.69 L329.76,125.08 L329.50,126.46 L329.20,127.84 L328.87,129.20 L328.50,130.56 L328.08,131.91 L327.63,133.26 L327.14,134.60 L327.68,135.91 L328.99,135.37 L329.59,134.02 L330.15,132.66 L330.68,131.28 L331.17,129.89 L331.62,128.48 L332.03,127.06 L332.40,125.63 L332.73,124.19 L333.03,122.73 L333.28,121.26Z"/><path d="M327.99,118.13 L327.11,118.81 L326.27,119.51 L325.45,120.25 L324.67,121.02 L323.92,121.81 L323.20,122.62 L322.52,123.47 L321.86,124.34 L321.24,125.24 L320.65,126.16 L320.92,127.55 L322.31,127.28 L322.93,126.48 L323.59,125.71 L324.26,124.97 L324.96,124.26 L325.69,123.57 L326.44,122.92 L327.21,122.30 L328.01,121.71 L328.83,121.14 L329.67,120.61Z"/></g>
<ellipse cx="334" cy="115" rx="6.2" ry="5" fill="#9995d3"/>
</g>
</g>
<ellipse cx="332.5" cy="69.3" rx="73.5" ry="68.2" fill="none" stroke="#8aa4d8" stroke-width="0.9"/>
<text x="331.3" y="18.4" font-size="15" font-weight="bold" fill="#111111" stroke="#111111" stroke-width="0.22" text-anchor="middle" >E</text>
<text x="293.8" y="53.0" font-size="7.11" font-weight="bold" fill="#111111" stroke="#111111" stroke-width="0.22" text-anchor="middle" >Eosinophil</text>
<text x="335.0" y="70.6" font-size="7.11" font-weight="bold" fill="#111111" stroke="#111111" stroke-width="0.22" text-anchor="middle" >MDSC</text>
<text x="381.6" y="68.6" font-size="7.11" font-weight="bold" fill="#111111" stroke="#111111" stroke-width="0.22" text-anchor="middle" >Neutrophil</text>
<text x="288.9" y="104.7" font-size="7.11" font-weight="bold" fill="#111111" stroke="#111111" stroke-width="0.22" text-anchor="middle" >Monocyte</text>
<text x="375.6" y="119.7" font-size="7.11" font-weight="bold" fill="#111111" stroke="#111111" stroke-width="0.22" text-anchor="middle" >T cell</text>
<text x="331.8" y="136.4" font-size="7.11" font-weight="bold" fill="#111111" stroke="#111111" stroke-width="0.22" text-anchor="middle" >DC</text>
<ellipse cx="609.0" cy="269.4" rx="73.5" ry="68.2" fill="#ebf2fc"/>
<g clip-path="url(#clipG)">
<circle cx="643.19" cy="297.10" r="1.25" fill="#c0343b" stroke="none" stroke-width="1" opacity="0.95"/>
<circle cx="642.69" cy="301.68" r="1.25" fill="#c0343b" stroke="none" stroke-width="1" opacity="0.95"/>
<circle cx="640.84" cy="306.03" r="1.25" fill="#c0343b" stroke="none" stroke-width="1" opacity="0.95"/>
<circle cx="638.98" cy="308.58" r="1.25" fill="#c0343b" stroke="none" stroke-width="1" opacity="0.95"/>
<circle cx="635.19" cy="311.91" r="1.25" fill="#c0343b" stroke="none" stroke-width="1" opacity="0.95"/>
<circle cx="625.93" cy="315.48" r="1.25" fill="#c0343b" stroke="none" stroke-width="1" opacity="0.95"/>
<circle cx="622.06" cy="315.75" r="1.25" fill="#c0343b" stroke="none" stroke-width="1" opacity="0.95"/>
<circle cx="617.65" cy="315.30" r="1.25" fill="#c0343b" stroke="none" stroke-width="1" opacity="0.95"/>
<circle cx="613.48" cy="314.06" r="1.25" fill="#c0343b" stroke="none" stroke-width="1" opacity="0.95"/>
<circle cx="609.89" cy="312.22" r="1.25" fill="#c0343b" stroke="none" stroke-width="1" opacity="0.95"/>
<circle cx="605.89" cy="308.88" r="1.25" fill="#c0343b" stroke="none" stroke-width="1" opacity="0.95"/>
<circle cx="603.76" cy="306.04" r="1.25" fill="#c0343b" stroke="none" stroke-width="1" opacity="0.95"/>
<circle cx="601.42" cy="296.85" r="1.25" fill="#c0343b" stroke="none" stroke-width="1" opacity="0.95"/>
<circle cx="602.05" cy="293.22" r="1.25" fill="#c0343b" stroke="none" stroke-width="1" opacity="0.95"/>
<circle cx="603.14" cy="290.49" r="1.25" fill="#c0343b" stroke="none" stroke-width="1" opacity="0.95"/>
<circle cx="605.58" cy="286.87" r="1.25" fill="#c0343b" stroke="none" stroke-width="1" opacity="0.95"/>
<circle cx="609.12" cy="283.69" r="1.25" fill="#c0343b" stroke="none" stroke-width="1" opacity="0.95"/>
<circle cx="613.02" cy="281.53" r="1.25" fill="#c0343b" stroke="none" stroke-width="1" opacity="0.95"/>
<circle cx="616.69" cy="280.31" r="1.25" fill="#c0343b" stroke="none" stroke-width="1" opacity="0.95"/>
<circle cx="623.33" cy="279.67" r="1.25" fill="#c0343b" stroke="none" stroke-width="1" opacity="0.95"/>
<circle cx="631.57" cy="281.52" r="1.25" fill="#c0343b" stroke="none" stroke-width="1" opacity="0.95"/>
<circle cx="634.80" cy="283.24" r="1.25" fill="#c0343b" stroke="none" stroke-width="1" opacity="0.95"/>
<circle cx="639.18" cy="287.06" r="1.25" fill="#c0343b" stroke="none" stroke-width="1" opacity="0.95"/>
<circle cx="642.81" cy="294.24" r="1.25" fill="#c0343b" stroke="none" stroke-width="1" opacity="0.95"/>
<circle cx="646.94" cy="306.41" r="1.13" fill="#c0343b" stroke="none" stroke-width="1" opacity="0.87"/>
<circle cx="644.41" cy="310.50" r="1.13" fill="#c0343b" stroke="none" stroke-width="1" opacity="0.87"/>
<circle cx="641.50" cy="313.62" r="1.13" fill="#c0343b" stroke="none" stroke-width="1" opacity="0.87"/>
<circle cx="630.11" cy="319.68" r="1.13" fill="#c0343b" stroke="none" stroke-width="1" opacity="0.87"/>
<circle cx="625.48" cy="320.52" r="1.13" fill="#c0343b" stroke="none" stroke-width="1" opacity="0.87"/>
<circle cx="618.26" cy="320.42" r="1.13" fill="#c0343b" stroke="none" stroke-width="1" opacity="0.87"/>
<circle cx="611.49" cy="318.71" r="1.13" fill="#c0343b" stroke="none" stroke-width="1" opacity="0.87"/>
<circle cx="609.08" cy="317.65" r="1.13" fill="#c0343b" stroke="none" stroke-width="1" opacity="0.87"/>
<circle cx="601.00" cy="311.49" r="1.13" fill="#c0343b" stroke="none" stroke-width="1" opacity="0.87"/>
<circle cx="598.84" cy="308.57" r="1.13" fill="#c0343b" stroke="none" stroke-width="1" opacity="0.87"/>
<circle cx="596.82" cy="304.34" r="1.13" fill="#c0343b" stroke="none" stroke-width="1" opacity="0.87"/>
<circle cx="596.24" cy="293.02" r="1.13" fill="#c0343b" stroke="none" stroke-width="1" opacity="0.87"/>
<circle cx="597.56" cy="289.21" r="1.13" fill="#c0343b" stroke="none" stroke-width="1" opacity="0.87"/>
<circle cx="605.51" cy="279.86" r="1.13" fill="#c0343b" stroke="none" stroke-width="1" opacity="0.87"/>
<circle cx="609.84" cy="277.38" r="1.13" fill="#c0343b" stroke="none" stroke-width="1" opacity="0.87"/>
<circle cx="617.35" cy="275.11" r="1.13" fill="#c0343b" stroke="none" stroke-width="1" opacity="0.87"/>
<circle cx="628.02" cy="275.25" r="1.13" fill="#c0343b" stroke="none" stroke-width="1" opacity="0.87"/>
<circle cx="632.64" cy="276.52" r="1.13" fill="#c0343b" stroke="none" stroke-width="1" opacity="0.87"/>
<circle cx="640.25" cy="280.73" r="1.13" fill="#c0343b" stroke="none" stroke-width="1" opacity="0.87"/>
<circle cx="642.73" cy="282.96" r="1.13" fill="#c0343b" stroke="none" stroke-width="1" opacity="0.87"/>
<circle cx="645.38" cy="286.24" r="1.13" fill="#c0343b" stroke="none" stroke-width="1" opacity="0.87"/>
<circle cx="647.50" cy="290.30" r="1.13" fill="#c0343b" stroke="none" stroke-width="1" opacity="0.87"/>
<circle cx="648.42" cy="293.27" r="1.13" fill="#c0343b" stroke="none" stroke-width="1" opacity="0.87"/>
<circle cx="648.89" cy="298.72" r="1.13" fill="#c0343b" stroke="none" stroke-width="1" opacity="0.87"/>
<circle cx="648.30" cy="302.61" r="1.13" fill="#c0343b" stroke="none" stroke-width="1" opacity="0.87"/>
<circle cx="647.11" cy="315.62" r="1.01" fill="#c0343b" stroke="none" stroke-width="1" opacity="0.79"/>
<circle cx="643.11" cy="319.08" r="1.01" fill="#c0343b" stroke="none" stroke-width="1" opacity="0.79"/>
<circle cx="633.72" cy="323.83" r="1.01" fill="#c0343b" stroke="none" stroke-width="1" opacity="0.79"/>
<circle cx="629.80" cy="324.87" r="1.01" fill="#c0343b" stroke="none" stroke-width="1" opacity="0.79"/>
<circle cx="625.72" cy="325.47" r="1.01" fill="#c0343b" stroke="none" stroke-width="1" opacity="0.79"/>
<circle cx="616.34" cy="325.15" r="1.01" fill="#c0343b" stroke="none" stroke-width="1" opacity="0.79"/>
<circle cx="610.61" cy="323.74" r="1.01" fill="#c0343b" stroke="none" stroke-width="1" opacity="0.79"/>
<circle cx="608.00" cy="322.75" r="1.01" fill="#c0343b" stroke="none" stroke-width="1" opacity="0.79"/>
<circle cx="599.68" cy="317.66" r="1.01" fill="#c0343b" stroke="none" stroke-width="1" opacity="0.79"/>
<circle cx="595.78" cy="313.68" r="1.01" fill="#c0343b" stroke="none" stroke-width="1" opacity="0.79"/>
<circle cx="593.56" cy="310.50" r="1.01" fill="#c0343b" stroke="none" stroke-width="1" opacity="0.79"/>
<circle cx="590.42" cy="302.37" r="1.01" fill="#c0343b" stroke="none" stroke-width="1" opacity="0.79"/>
<circle cx="589.98" cy="298.57" r="1.01" fill="#c0343b" stroke="none" stroke-width="1" opacity="0.79"/>
<circle cx="589.98" cy="296.78" r="1.01" fill="#c0343b" stroke="none" stroke-width="1" opacity="0.79"/>
<circle cx="590.72" cy="291.67" r="1.01" fill="#c0343b" stroke="none" stroke-width="1" opacity="0.79"/>
<circle cx="591.73" cy="288.58" r="1.01" fill="#c0343b" stroke="none" stroke-width="1" opacity="0.79"/>
<circle cx="599.69" cy="277.73" r="1.01" fill="#c0343b" stroke="none" stroke-width="1" opacity="0.79"/>
<circle cx="603.10" cy="275.22" r="1.01" fill="#c0343b" stroke="none" stroke-width="1" opacity="0.79"/>
<circle cx="612.70" cy="271.03" r="1.01" fill="#c0343b" stroke="none" stroke-width="1" opacity="0.79"/>
<circle cx="616.02" cy="270.30" r="1.01" fill="#c0343b" stroke="none" stroke-width="1" opacity="0.79"/>
<circle cx="621.32" cy="269.78" r="1.01" fill="#c0343b" stroke="none" stroke-width="1" opacity="0.79"/>
<circle cx="625.43" cy="269.90" r="1.01" fill="#c0343b" stroke="none" stroke-width="1" opacity="0.79"/>
<circle cx="630.06" cy="270.59" r="1.01" fill="#c0343b" stroke="none" stroke-width="1" opacity="0.79"/>
<circle cx="633.83" cy="271.61" r="1.01" fill="#c0343b" stroke="none" stroke-width="1" opacity="0.79"/>
<circle cx="639.96" cy="274.30" r="1.01" fill="#c0343b" stroke="none" stroke-width="1" opacity="0.79"/>
<circle cx="642.06" cy="275.59" r="1.01" fill="#c0343b" stroke="none" stroke-width="1" opacity="0.79"/>
<circle cx="646.02" cy="278.72" r="1.01" fill="#c0343b" stroke="none" stroke-width="1" opacity="0.79"/>
<circle cx="648.70" cy="281.57" r="1.01" fill="#c0343b" stroke="none" stroke-width="1" opacity="0.79"/>
<circle cx="653.61" cy="290.69" r="1.01" fill="#c0343b" stroke="none" stroke-width="1" opacity="0.79"/>
<circle cx="654.11" cy="292.65" r="1.01" fill="#c0343b" stroke="none" stroke-width="1" opacity="0.79"/>
<circle cx="654.64" cy="298.11" r="1.01" fill="#c0343b" stroke="none" stroke-width="1" opacity="0.79"/>
<circle cx="654.06" cy="302.97" r="1.01" fill="#c0343b" stroke="none" stroke-width="1" opacity="0.79"/>
<circle cx="650.87" cy="310.79" r="1.01" fill="#c0343b" stroke="none" stroke-width="1" opacity="0.79"/>
<circle cx="649.65" cy="312.60" r="1.01" fill="#c0343b" stroke="none" stroke-width="1" opacity="0.79"/>
<circle cx="638.86" cy="327.30" r="0.89" fill="#c0343b" stroke="none" stroke-width="1" opacity="0.71"/>
<circle cx="633.82" cy="329.03" r="0.89" fill="#c0343b" stroke="none" stroke-width="1" opacity="0.71"/>
<circle cx="630.94" cy="329.71" r="0.89" fill="#c0343b" stroke="none" stroke-width="1" opacity="0.71"/>
<circle cx="611.86" cy="329.31" r="0.89" fill="#c0343b" stroke="none" stroke-width="1" opacity="0.71"/>
<circle cx="608.63" cy="328.38" r="0.89" fill="#c0343b" stroke="none" stroke-width="1" opacity="0.71"/>
<circle cx="603.10" cy="326.08" r="0.89" fill="#c0343b" stroke="none" stroke-width="1" opacity="0.71"/>
<circle cx="592.97" cy="318.65" r="0.89" fill="#c0343b" stroke="none" stroke-width="1" opacity="0.71"/>
<circle cx="590.59" cy="315.87" r="0.89" fill="#c0343b" stroke="none" stroke-width="1" opacity="0.71"/>
<circle cx="588.26" cy="312.40" r="0.89" fill="#c0343b" stroke="none" stroke-width="1" opacity="0.71"/>
<circle cx="584.70" cy="302.80" r="0.89" fill="#c0343b" stroke="none" stroke-width="1" opacity="0.71"/>
<circle cx="584.25" cy="298.34" r="0.89" fill="#c0343b" stroke="none" stroke-width="1" opacity="0.71"/>
<circle cx="584.46" cy="294.19" r="0.89" fill="#c0343b" stroke="none" stroke-width="1" opacity="0.71"/>
<circle cx="584.60" cy="293.21" r="0.89" fill="#c0343b" stroke="none" stroke-width="1" opacity="0.71"/>
<circle cx="586.17" cy="287.36" r="0.89" fill="#c0343b" stroke="none" stroke-width="1" opacity="0.71"/>
<circle cx="587.22" cy="284.94" r="0.89" fill="#c0343b" stroke="none" stroke-width="1" opacity="0.71"/>
<circle cx="590.75" cy="279.31" r="0.89" fill="#c0343b" stroke="none" stroke-width="1" opacity="0.71"/>
<circle cx="592.81" cy="276.92" r="0.89" fill="#c0343b" stroke="none" stroke-width="1" opacity="0.71"/>
<circle cx="599.11" cy="271.63" r="0.89" fill="#c0343b" stroke="none" stroke-width="1" opacity="0.71"/>
<circle cx="605.87" cy="268.05" r="0.89" fill="#c0343b" stroke="none" stroke-width="1" opacity="0.71"/>
<circle cx="615.03" cy="265.43" r="0.89" fill="#c0343b" stroke="none" stroke-width="1" opacity="0.71"/>
<circle cx="624.87" cy="264.91" r="0.89" fill="#c0343b" stroke="none" stroke-width="1" opacity="0.71"/>
<circle cx="631.49" cy="265.80" r="0.89" fill="#c0343b" stroke="none" stroke-width="1" opacity="0.71"/>
<circle cx="634.10" cy="266.45" r="0.89" fill="#c0343b" stroke="none" stroke-width="1" opacity="0.71"/>
<circle cx="639.27" cy="268.28" r="0.89" fill="#c0343b" stroke="none" stroke-width="1" opacity="0.71"/>
<circle cx="643.23" cy="270.25" r="0.89" fill="#c0343b" stroke="none" stroke-width="1" opacity="0.71"/>
<circle cx="647.35" cy="272.95" r="0.89" fill="#c0343b" stroke="none" stroke-width="1" opacity="0.71"/>
<circle cx="651.04" cy="276.15" r="0.89" fill="#c0343b" stroke="none" stroke-width="1" opacity="0.71"/>
<circle cx="653.16" cy="278.46" r="0.89" fill="#c0343b" stroke="none" stroke-width="1" opacity="0.71"/>
<circle cx="656.00" cy="282.42" r="0.89" fill="#c0343b" stroke="none" stroke-width="1" opacity="0.71"/>
<circle cx="657.37" cy="284.94" r="0.89" fill="#c0343b" stroke="none" stroke-width="1" opacity="0.71"/>
<circle cx="660.01" cy="293.28" r="0.89" fill="#c0343b" stroke="none" stroke-width="1" opacity="0.71"/>
<circle cx="660.36" cy="297.61" r="0.89" fill="#c0343b" stroke="none" stroke-width="1" opacity="0.71"/>
<circle cx="660.02" cy="302.10" r="0.89" fill="#c0343b" stroke="none" stroke-width="1" opacity="0.71"/>
<circle cx="658.95" cy="306.55" r="0.89" fill="#c0343b" stroke="none" stroke-width="1" opacity="0.71"/>
<circle cx="657.37" cy="310.47" r="0.89" fill="#c0343b" stroke="none" stroke-width="1" opacity="0.71"/>
<circle cx="656.34" cy="312.41" r="0.89" fill="#c0343b" stroke="none" stroke-width="1" opacity="0.71"/>
<circle cx="654.24" cy="315.57" r="0.89" fill="#c0343b" stroke="none" stroke-width="1" opacity="0.71"/>
<circle cx="651.29" cy="319.00" r="0.89" fill="#c0343b" stroke="none" stroke-width="1" opacity="0.71"/>
<circle cx="644.21" cy="324.58" r="0.89" fill="#c0343b" stroke="none" stroke-width="1" opacity="0.71"/>
<circle cx="627.50" cy="335.24" r="0.77" fill="#c0343b" stroke="none" stroke-width="1" opacity="0.63"/>
<circle cx="618.53" cy="335.37" r="0.77" fill="#c0343b" stroke="none" stroke-width="1" opacity="0.63"/>
<circle cx="612.74" cy="334.60" r="0.77" fill="#c0343b" stroke="none" stroke-width="1" opacity="0.63"/>
<circle cx="607.26" cy="333.21" r="0.77" fill="#c0343b" stroke="none" stroke-width="1" opacity="0.63"/>
<circle cx="603.21" cy="331.73" r="0.77" fill="#c0343b" stroke="none" stroke-width="1" opacity="0.63"/>
<circle cx="597.78" cy="329.03" r="0.77" fill="#c0343b" stroke="none" stroke-width="1" opacity="0.63"/>
<circle cx="595.17" cy="327.38" r="0.77" fill="#c0343b" stroke="none" stroke-width="1" opacity="0.63"/>
<circle cx="591.30" cy="324.40" r="0.77" fill="#c0343b" stroke="none" stroke-width="1" opacity="0.63"/>
<circle cx="588.86" cy="322.11" r="0.77" fill="#c0343b" stroke="none" stroke-width="1" opacity="0.63"/>
<circle cx="587.31" cy="320.42" r="0.77" fill="#c0343b" stroke="none" stroke-width="1" opacity="0.63"/>
<circle cx="584.26" cy="316.42" r="0.77" fill="#c0343b" stroke="none" stroke-width="1" opacity="0.63"/>
<circle cx="579.85" cy="306.95" r="0.77" fill="#c0343b" stroke="none" stroke-width="1" opacity="0.63"/>
<circle cx="578.73" cy="301.44" r="0.77" fill="#c0343b" stroke="none" stroke-width="1" opacity="0.63"/>
<circle cx="578.52" cy="297.15" r="0.77" fill="#c0343b" stroke="none" stroke-width="1" opacity="0.63"/>
<circle cx="578.79" cy="293.54" r="0.77" fill="#c0343b" stroke="none" stroke-width="1" opacity="0.63"/>
<circle cx="579.63" cy="289.24" r="0.77" fill="#c0343b" stroke="none" stroke-width="1" opacity="0.63"/>
<circle cx="580.75" cy="285.80" r="0.77" fill="#c0343b" stroke="none" stroke-width="1" opacity="0.63"/>
<circle cx="582.47" cy="282.01" r="0.77" fill="#c0343b" stroke="none" stroke-width="1" opacity="0.63"/>
<circle cx="586.33" cy="276.15" r="0.77" fill="#c0343b" stroke="none" stroke-width="1" opacity="0.63"/>
<circle cx="586.98" cy="275.36" r="0.77" fill="#c0343b" stroke="none" stroke-width="1" opacity="0.63"/>
<circle cx="592.73" cy="269.82" r="0.77" fill="#c0343b" stroke="none" stroke-width="1" opacity="0.63"/>
<circle cx="593.33" cy="269.35" r="0.77" fill="#c0343b" stroke="none" stroke-width="1" opacity="0.63"/>
<circle cx="604.41" cy="263.19" r="0.77" fill="#c0343b" stroke="none" stroke-width="1" opacity="0.63"/>
<circle cx="611.58" cy="261.04" r="0.77" fill="#c0343b" stroke="none" stroke-width="1" opacity="0.63"/>
<circle cx="646.62" cy="266.26" r="0.77" fill="#c0343b" stroke="none" stroke-width="1" opacity="0.63"/>
<circle cx="651.40" cy="269.45" r="0.77" fill="#c0343b" stroke="none" stroke-width="1" opacity="0.63"/>
<circle cx="657.14" cy="274.80" r="0.77" fill="#c0343b" stroke="none" stroke-width="1" opacity="0.63"/>
<circle cx="659.05" cy="277.15" r="0.77" fill="#c0343b" stroke="none" stroke-width="1" opacity="0.63"/>
<circle cx="664.21" cy="286.76" r="0.77" fill="#c0343b" stroke="none" stroke-width="1" opacity="0.63"/>
<circle cx="664.71" cy="288.31" r="0.77" fill="#c0343b" stroke="none" stroke-width="1" opacity="0.63"/>
<circle cx="665.89" cy="294.16" r="0.77" fill="#c0343b" stroke="none" stroke-width="1" opacity="0.63"/>
<circle cx="666.06" cy="296.46" r="0.77" fill="#c0343b" stroke="none" stroke-width="1" opacity="0.63"/>
<circle cx="665.79" cy="302.03" r="0.77" fill="#c0343b" stroke="none" stroke-width="1" opacity="0.63"/>
<circle cx="663.77" cy="309.83" r="0.77" fill="#c0343b" stroke="none" stroke-width="1" opacity="0.63"/>
<circle cx="659.13" cy="318.14" r="0.77" fill="#c0343b" stroke="none" stroke-width="1" opacity="0.63"/>
<circle cx="656.46" cy="321.35" r="0.77" fill="#c0343b" stroke="none" stroke-width="1" opacity="0.63"/>
<circle cx="654.42" cy="323.39" r="0.77" fill="#c0343b" stroke="none" stroke-width="1" opacity="0.63"/>
<circle cx="650.52" cy="326.61" r="0.77" fill="#c0343b" stroke="none" stroke-width="1" opacity="0.63"/>
<circle cx="646.81" cy="329.03" r="0.77" fill="#c0343b" stroke="none" stroke-width="1" opacity="0.63"/>
<circle cx="642.69" cy="331.16" r="0.77" fill="#c0343b" stroke="none" stroke-width="1" opacity="0.63"/>
<circle cx="638.95" cy="332.67" r="0.77" fill="#c0343b" stroke="none" stroke-width="1" opacity="0.63"/>
<circle cx="634.75" cy="333.95" r="0.77" fill="#c0343b" stroke="none" stroke-width="1" opacity="0.63"/>
<circle cx="631.76" cy="334.62" r="0.77" fill="#c0343b" stroke="none" stroke-width="1" opacity="0.63"/>
<circle cx="599.42" cy="335.61" r="0.65" fill="#c0343b" stroke="none" stroke-width="1" opacity="0.55"/>
<circle cx="596.85" cy="334.36" r="0.65" fill="#c0343b" stroke="none" stroke-width="1" opacity="0.55"/>
<circle cx="592.51" cy="331.84" r="0.65" fill="#c0343b" stroke="none" stroke-width="1" opacity="0.55"/>
<circle cx="590.05" cy="330.13" r="0.65" fill="#c0343b" stroke="none" stroke-width="1" opacity="0.55"/>
<circle cx="584.29" cy="325.09" r="0.65" fill="#c0343b" stroke="none" stroke-width="1" opacity="0.55"/>
<circle cx="582.09" cy="322.63" r="0.65" fill="#c0343b" stroke="none" stroke-width="1" opacity="0.55"/>
<circle cx="579.02" cy="318.45" r="0.65" fill="#c0343b" stroke="none" stroke-width="1" opacity="0.55"/>
<circle cx="576.78" cy="314.50" r="0.65" fill="#c0343b" stroke="none" stroke-width="1" opacity="0.55"/>
<circle cx="575.34" cy="311.23" r="0.65" fill="#c0343b" stroke="none" stroke-width="1" opacity="0.55"/>
<circle cx="572.84" cy="299.50" r="0.65" fill="#c0343b" stroke="none" stroke-width="1" opacity="0.55"/>
<circle cx="572.82" cy="296.56" r="0.65" fill="#c0343b" stroke="none" stroke-width="1" opacity="0.55"/>
<circle cx="573.20" cy="292.27" r="0.65" fill="#c0343b" stroke="none" stroke-width="1" opacity="0.55"/>
<circle cx="573.50" cy="290.53" r="0.65" fill="#c0343b" stroke="none" stroke-width="1" opacity="0.55"/>
<circle cx="574.70" cy="285.97" r="0.65" fill="#c0343b" stroke="none" stroke-width="1" opacity="0.55"/>
<circle cx="577.22" cy="280.05" r="0.65" fill="#c0343b" stroke="none" stroke-width="1" opacity="0.55"/>
<circle cx="579.18" cy="276.71" r="0.65" fill="#c0343b" stroke="none" stroke-width="1" opacity="0.55"/>
<circle cx="580.48" cy="274.83" r="0.65" fill="#c0343b" stroke="none" stroke-width="1" opacity="0.55"/>
<circle cx="585.33" cy="269.28" r="0.65" fill="#c0343b" stroke="none" stroke-width="1" opacity="0.55"/>
<circle cx="588.29" cy="266.64" r="0.65" fill="#c0343b" stroke="none" stroke-width="1" opacity="0.55"/>
<circle cx="591.29" cy="264.38" r="0.65" fill="#c0343b" stroke="none" stroke-width="1" opacity="0.55"/>
<circle cx="599.58" cy="259.72" r="0.65" fill="#c0343b" stroke="none" stroke-width="1" opacity="0.55"/>
<circle cx="649.26" cy="261.85" r="0.65" fill="#c0343b" stroke="none" stroke-width="1" opacity="0.55"/>
<circle cx="653.18" cy="264.29" r="0.65" fill="#c0343b" stroke="none" stroke-width="1" opacity="0.55"/>
<circle cx="656.44" cy="266.74" r="0.65" fill="#c0343b" stroke="none" stroke-width="1" opacity="0.55"/>
<circle cx="659.97" cy="269.97" r="0.65" fill="#c0343b" stroke="none" stroke-width="1" opacity="0.55"/>
<circle cx="667.57" cy="280.40" r="0.65" fill="#c0343b" stroke="none" stroke-width="1" opacity="0.55"/>
<circle cx="669.72" cy="285.43" r="0.65" fill="#c0343b" stroke="none" stroke-width="1" opacity="0.55"/>
<circle cx="670.87" cy="289.44" r="0.65" fill="#c0343b" stroke="none" stroke-width="1" opacity="0.55"/>
<circle cx="671.58" cy="293.65" r="0.65" fill="#c0343b" stroke="none" stroke-width="1" opacity="0.55"/>
<circle cx="671.80" cy="297.17" r="0.65" fill="#c0343b" stroke="none" stroke-width="1" opacity="0.55"/>
<circle cx="671.62" cy="301.34" r="0.65" fill="#c0343b" stroke="none" stroke-width="1" opacity="0.55"/>
<circle cx="670.79" cy="306.30" r="0.65" fill="#c0343b" stroke="none" stroke-width="1" opacity="0.55"/>
<circle cx="670.47" cy="307.54" r="0.65" fill="#c0343b" stroke="none" stroke-width="1" opacity="0.55"/>
<circle cx="668.75" cy="312.48" r="0.65" fill="#c0343b" stroke="none" stroke-width="1" opacity="0.55"/>
<circle cx="666.21" cy="317.44" r="0.65" fill="#c0343b" stroke="none" stroke-width="1" opacity="0.55"/>
<circle cx="665.77" cy="318.15" r="0.65" fill="#c0343b" stroke="none" stroke-width="1" opacity="0.55"/>
<circle cx="663.12" cy="321.88" r="0.65" fill="#c0343b" stroke="none" stroke-width="1" opacity="0.55"/>
<circle cx="659.33" cy="326.07" r="0.65" fill="#c0343b" stroke="none" stroke-width="1" opacity="0.55"/>
<circle cx="655.10" cy="329.72" r="0.65" fill="#c0343b" stroke="none" stroke-width="1" opacity="0.55"/>
<circle cx="652.91" cy="331.30" r="0.65" fill="#c0343b" stroke="none" stroke-width="1" opacity="0.55"/>
<circle cx="649.79" cy="333.25" r="0.65" fill="#c0343b" stroke="none" stroke-width="1" opacity="0.55"/>
<circle cx="646.87" cy="334.81" r="0.65" fill="#c0343b" stroke="none" stroke-width="1" opacity="0.55"/>
<circle cx="641.92" cy="336.95" r="0.65" fill="#c0343b" stroke="none" stroke-width="1" opacity="0.55"/>
<circle cx="634.08" cy="339.22" r="0.65" fill="#c0343b" stroke="none" stroke-width="1" opacity="0.55"/>
<circle cx="631.67" cy="339.68" r="0.65" fill="#c0343b" stroke="none" stroke-width="1" opacity="0.55"/>
<circle cx="629.20" cy="340.03" r="0.65" fill="#c0343b" stroke="none" stroke-width="1" opacity="0.55"/>
<circle cx="614.71" cy="339.94" r="0.65" fill="#c0343b" stroke="none" stroke-width="1" opacity="0.55"/>
<circle cx="584.96" cy="332.84" r="0.53" fill="#c0343b" stroke="none" stroke-width="1" opacity="0.47"/>
<circle cx="583.65" cy="331.76" r="0.53" fill="#c0343b" stroke="none" stroke-width="1" opacity="0.47"/>
<circle cx="579.09" cy="327.40" r="0.53" fill="#c0343b" stroke="none" stroke-width="1" opacity="0.47"/>
<circle cx="577.35" cy="325.40" r="0.53" fill="#c0343b" stroke="none" stroke-width="1" opacity="0.47"/>
<circle cx="572.58" cy="318.46" r="0.53" fill="#c0343b" stroke="none" stroke-width="1" opacity="0.47"/>
<circle cx="570.25" cy="313.62" r="0.53" fill="#c0343b" stroke="none" stroke-width="1" opacity="0.47"/>
<circle cx="567.36" cy="302.47" r="0.53" fill="#c0343b" stroke="none" stroke-width="1" opacity="0.47"/>
<circle cx="567.09" cy="296.97" r="0.53" fill="#c0343b" stroke="none" stroke-width="1" opacity="0.47"/>
<circle cx="567.26" cy="293.82" r="0.53" fill="#c0343b" stroke="none" stroke-width="1" opacity="0.47"/>
<circle cx="567.77" cy="290.21" r="0.53" fill="#c0343b" stroke="none" stroke-width="1" opacity="0.47"/>
<circle cx="568.85" cy="285.73" r="0.53" fill="#c0343b" stroke="none" stroke-width="1" opacity="0.47"/>
<circle cx="571.63" cy="278.75" r="0.53" fill="#c0343b" stroke="none" stroke-width="1" opacity="0.47"/>
<circle cx="574.62" cy="273.64" r="0.53" fill="#c0343b" stroke="none" stroke-width="1" opacity="0.47"/>
<circle cx="580.05" cy="266.99" r="0.53" fill="#c0343b" stroke="none" stroke-width="1" opacity="0.47"/>
<circle cx="581.94" cy="265.15" r="0.53" fill="#c0343b" stroke="none" stroke-width="1" opacity="0.47"/>
<circle cx="665.18" cy="267.65" r="0.53" fill="#c0343b" stroke="none" stroke-width="1" opacity="0.47"/>
<circle cx="668.43" cy="271.48" r="0.53" fill="#c0343b" stroke="none" stroke-width="1" opacity="0.47"/>
<circle cx="673.84" cy="280.58" r="0.53" fill="#c0343b" stroke="none" stroke-width="1" opacity="0.47"/>
<circle cx="675.27" cy="284.22" r="0.53" fill="#c0343b" stroke="none" stroke-width="1" opacity="0.47"/>
<circle cx="675.80" cy="285.89" r="0.53" fill="#c0343b" stroke="none" stroke-width="1" opacity="0.47"/>
<circle cx="677.36" cy="294.04" r="0.53" fill="#c0343b" stroke="none" stroke-width="1" opacity="0.47"/>
<circle cx="677.52" cy="297.29" r="0.53" fill="#c0343b" stroke="none" stroke-width="1" opacity="0.47"/>
<circle cx="677.49" cy="299.14" r="0.53" fill="#c0343b" stroke="none" stroke-width="1" opacity="0.47"/>
<circle cx="676.27" cy="307.80" r="0.53" fill="#c0343b" stroke="none" stroke-width="1" opacity="0.47"/>
<circle cx="675.08" cy="311.72" r="0.53" fill="#c0343b" stroke="none" stroke-width="1" opacity="0.47"/>
<circle cx="673.21" cy="316.16" r="0.53" fill="#c0343b" stroke="none" stroke-width="1" opacity="0.47"/>
<circle cx="671.56" cy="319.25" r="0.53" fill="#c0343b" stroke="none" stroke-width="1" opacity="0.47"/>
<circle cx="670.77" cy="320.54" r="0.53" fill="#c0343b" stroke="none" stroke-width="1" opacity="0.47"/>
<circle cx="666.25" cy="326.57" r="0.53" fill="#c0343b" stroke="none" stroke-width="1" opacity="0.47"/>
<circle cx="665.27" cy="327.65" r="0.53" fill="#c0343b" stroke="none" stroke-width="1" opacity="0.47"/>
<circle cx="659.54" cy="332.91" r="0.53" fill="#c0343b" stroke="none" stroke-width="1" opacity="0.47"/>
<circle cx="656.25" cy="335.31" r="0.53" fill="#c0343b" stroke="none" stroke-width="1" opacity="0.47"/>
<circle cx="652.93" cy="337.38" r="0.53" fill="#c0343b" stroke="none" stroke-width="1" opacity="0.47"/>
<circle cx="650.64" cy="338.63" r="0.53" fill="#c0343b" stroke="none" stroke-width="1" opacity="0.47"/>
<circle cx="647.05" cy="340.33" r="0.53" fill="#c0343b" stroke="none" stroke-width="1" opacity="0.47"/>
<circle cx="639.72" cy="342.95" r="0.53" fill="#c0343b" stroke="none" stroke-width="1" opacity="0.47"/>
<circle cx="638.65" cy="343.25" r="0.53" fill="#c0343b" stroke="none" stroke-width="1" opacity="0.47"/>
<circle cx="631.85" cy="344.67" r="0.53" fill="#c0343b" stroke="none" stroke-width="1" opacity="0.47"/>
<circle cx="629.92" cy="344.93" r="0.53" fill="#c0343b" stroke="none" stroke-width="1" opacity="0.47"/>
<circle cx="620.16" cy="345.35" r="0.53" fill="#c0343b" stroke="none" stroke-width="1" opacity="0.47"/>
<circle cx="613.38" cy="344.76" r="0.53" fill="#c0343b" stroke="none" stroke-width="1" opacity="0.47"/>
<circle cx="608.97" cy="343.98" r="0.53" fill="#c0343b" stroke="none" stroke-width="1" opacity="0.47"/>
<circle cx="603.39" cy="342.51" r="0.53" fill="#c0343b" stroke="none" stroke-width="1" opacity="0.47"/>
<circle cx="602.80" cy="342.32" r="0.53" fill="#c0343b" stroke="none" stroke-width="1" opacity="0.47"/>
<circle cx="594.52" cy="338.92" r="0.53" fill="#c0343b" stroke="none" stroke-width="1" opacity="0.47"/>
<path d="M590.25,255.49 C591.32,256.17 594.52,260.95 596.65,259.58 C598.78,258.20 600.91,248.66 603.05,247.23 C605.18,245.80 607.31,250.15 609.44,251.03 C611.58,251.90 613.71,252.21 615.84,252.50 C617.97,252.79 620.10,252.78 622.24,252.74 C624.37,252.69 627.57,252.31 628.63,252.23" fill="none" stroke="#3d8fcc" stroke-width="0.6583775061319666" />
<path d="M556.13,261.24 C557.71,262.18 562.46,266.79 565.62,266.87 C568.78,266.95 571.94,262.56 575.10,261.73 C578.26,260.91 581.42,264.33 584.58,261.92 C587.74,259.51 590.90,248.54 594.06,247.30 C597.22,246.05 600.38,254.11 603.54,254.45 C606.70,254.80 611.44,250.21 613.02,249.36" fill="none" stroke="#6fb0de" stroke-width="0.6100083266333716" />
<path d="M589.21,253.77 C590.72,253.98 595.26,256.59 598.28,255.03 C601.30,253.47 604.32,244.14 607.34,244.42 C610.36,244.71 613.39,255.32 616.41,256.75 C619.43,258.17 622.45,254.40 625.47,252.95 C628.49,251.49 631.51,246.92 634.54,248.01 C637.56,249.11 642.09,257.62 643.60,259.54" fill="none" stroke="#9cc9ea" stroke-width="0.7782014654831552" />
<path d="M598.64,248.10 C599.68,249.92 602.77,259.25 604.84,258.98 C606.90,258.71 608.97,249.41 611.03,246.47 C613.10,243.53 615.16,241.21 617.23,241.34 C619.29,241.47 621.36,245.19 623.42,247.26 C625.49,249.33 627.55,251.65 629.62,253.76 C631.68,255.86 634.78,258.86 635.81,259.88" fill="none" stroke="#4f98d2" stroke-width="0.42676446833809895" />
<path d="M557.40,266.57 C560.28,264.60 568.92,256.20 574.68,254.75 C580.45,253.30 586.21,258.77 591.97,257.87 C597.74,256.98 603.50,249.60 609.26,249.39 C615.02,249.17 620.79,254.86 626.55,256.57 C632.31,258.29 638.07,257.03 643.84,259.68 C649.60,262.33 658.24,270.36 661.12,272.49" fill="none" stroke="#5aa0d6" stroke-width="0.6048288499931946" />
<path d="M598.40,256.37 C600.34,255.35 606.17,250.82 610.05,250.27 C613.93,249.73 617.82,252.55 621.70,253.10 C625.58,253.65 629.47,253.61 633.35,253.56 C637.23,253.51 641.12,249.73 645.00,252.80 C648.88,255.88 652.77,268.26 656.65,272.00 C660.53,275.75 666.36,274.72 668.30,275.27" fill="none" stroke="#8bbfe6" stroke-width="0.7067848103236434" />
<path d="M590.99,263.27 C592.52,261.31 597.13,252.19 600.20,251.50 C603.27,250.82 606.34,260.67 609.42,259.17 C612.49,257.66 615.56,243.75 618.63,242.45 C621.70,241.16 624.77,248.71 627.85,251.39 C630.92,254.07 633.99,255.99 637.06,258.54 C640.13,261.08 644.74,265.31 646.27,266.67" fill="none" stroke="#3d8fcc" stroke-width="0.60830678956819" />
<path d="M586.58,259.00 C587.82,258.97 591.56,259.73 594.05,258.82 C596.54,257.91 599.03,256.34 601.52,253.52 C604.01,250.71 606.50,242.05 608.99,241.94 C611.48,241.83 613.97,252.68 616.46,252.86 C618.95,253.04 621.44,243.25 623.93,243.02 C626.42,242.78 630.15,250.04 631.40,251.45" fill="none" stroke="#6fb0de" stroke-width="0.4458781713074371" />
<path d="M584.86,260.37 C585.67,258.15 588.11,249.11 589.74,247.06 C591.37,245.00 592.99,246.62 594.62,248.05 C596.25,249.48 597.87,253.85 599.50,255.65 C601.13,257.44 602.75,260.98 604.38,258.84 C606.01,256.70 607.63,243.93 609.26,242.82 C610.89,241.71 613.33,250.63 614.14,252.19" fill="none" stroke="#9cc9ea" stroke-width="0.5589629237613443" />
<path d="M575.80,251.39 C576.65,251.21 579.21,248.41 580.92,250.35 C582.62,252.29 584.33,262.41 586.03,263.04 C587.74,263.68 589.44,255.50 591.15,254.15 C592.85,252.80 594.56,256.42 596.26,254.92 C597.97,253.42 599.67,245.26 601.38,245.15 C603.08,245.03 605.64,252.71 606.49,254.22" fill="none" stroke="#4f98d2" stroke-width="0.7604326355171734" />
<path d="M548.67,280.66 C551.91,279.31 561.66,276.55 568.15,272.55 C574.64,268.54 581.14,259.82 587.63,256.63 C594.13,253.44 600.62,254.46 607.12,253.40 C613.61,252.34 620.11,248.20 626.60,250.29 C633.10,252.38 639.59,263.43 646.09,265.92 C652.58,268.41 662.32,265.34 665.57,265.23" fill="none" stroke="#5aa0d6" stroke-width="0.6494324860486524" />
<path d="M576.11,265.12 C579.08,261.97 588.00,249.68 593.94,246.24 C599.88,242.79 605.83,243.56 611.77,244.48 C617.72,245.39 623.66,249.20 629.60,251.71 C635.55,254.22 641.49,256.08 647.44,259.54 C653.38,262.99 659.33,270.46 665.27,272.42 C671.21,274.39 680.13,271.50 683.10,271.32" fill="none" stroke="#8bbfe6" stroke-width="0.623586906609836" />
<path d="M564.93,267.88 C566.62,266.44 571.68,259.72 575.05,259.23 C578.42,258.74 581.80,267.07 585.17,264.94 C588.54,262.82 591.91,247.59 595.29,246.47 C598.66,245.35 602.03,257.21 605.40,258.22 C608.78,259.23 612.15,253.58 615.52,252.53 C618.89,251.49 623.95,252.06 625.64,251.96" fill="none" stroke="#3d8fcc" stroke-width="0.43115152207100904" />
<path d="M577.40,256.69 C579.90,256.87 587.41,258.66 592.41,257.77 C597.42,256.87 602.42,253.61 607.43,251.32 C612.43,249.03 617.44,241.95 622.44,244.05 C627.44,246.14 632.45,261.22 637.45,263.88 C642.46,266.55 647.46,259.16 652.46,260.02 C657.47,260.88 664.97,267.54 667.48,269.05" fill="none" stroke="#6fb0de" stroke-width="0.7045920414462801" />
<path d="M592.06,251.66 C594.28,252.60 600.92,258.62 605.34,257.30 C609.77,255.98 614.19,243.95 618.62,243.75 C623.04,243.56 627.47,253.54 631.90,256.13 C636.32,258.72 640.75,256.57 645.17,259.28 C649.60,261.99 654.02,269.75 658.45,272.39 C662.88,275.02 669.51,274.65 671.73,275.10" fill="none" stroke="#9cc9ea" stroke-width="0.6636181507780605" />
<path d="M587.89,254.35 C589.04,252.98 592.48,247.02 594.78,246.13 C597.07,245.24 599.37,249.16 601.66,249.00 C603.96,248.85 606.25,244.33 608.55,245.20 C610.84,246.07 613.14,254.32 615.43,254.23 C617.73,254.15 620.02,243.48 622.32,244.70 C624.61,245.93 628.06,258.78 629.20,261.59" fill="none" stroke="#4f98d2" stroke-width="0.6400835239977865" />
<path d="M564.56,264.55 C565.82,264.28 569.61,265.00 572.13,262.91 C574.66,260.82 577.18,251.81 579.71,252.01 C582.24,252.22 584.76,264.36 587.29,264.15 C589.81,263.94 592.34,253.05 594.86,250.75 C597.39,248.46 599.92,251.06 602.44,250.36 C604.97,249.67 608.76,247.21 610.02,246.58" fill="none" stroke="#5aa0d6" stroke-width="0.5492355604322772" />
<path d="M553.69,263.76 C556.97,262.92 566.81,260.12 573.37,258.75 C579.93,257.38 586.49,257.00 593.04,255.52 C599.60,254.03 606.16,250.40 612.72,249.85 C619.28,249.30 625.84,250.05 632.39,252.23 C638.95,254.42 645.51,261.13 652.07,262.96 C658.63,264.80 668.46,263.19 671.74,263.23" fill="none" stroke="#8bbfe6" stroke-width="0.522916013539524" />
<path d="M563.85,264.63 C566.64,263.28 575.02,258.07 580.61,256.53 C586.20,254.99 591.78,257.13 597.37,255.40 C602.95,253.66 608.54,246.06 614.13,246.11 C619.71,246.16 625.30,254.05 630.88,255.70 C636.47,257.34 642.06,253.56 647.64,255.99 C653.23,258.42 661.61,267.90 664.40,270.28" fill="none" stroke="#3d8fcc" stroke-width="0.6156303239999042" />
<path d="M577.86,264.51 C580.51,264.15 588.48,265.48 593.79,262.34 C599.11,259.20 604.42,245.92 609.73,245.68 C615.04,245.44 620.36,258.81 625.67,260.88 C630.98,262.95 636.29,257.72 641.61,258.08 C646.92,258.44 652.23,260.88 657.54,263.04 C662.86,265.19 670.82,269.66 673.48,270.99" fill="none" stroke="#6fb0de" stroke-width="0.7685004489578057" />
<path d="M597.08,249.12 C599.04,248.22 604.92,244.34 608.84,243.72 C612.76,243.09 616.67,242.89 620.59,245.35 C624.51,247.81 628.43,255.42 632.35,258.48 C636.27,261.54 640.19,263.97 644.11,263.71 C648.03,263.46 651.94,257.48 655.86,256.95 C659.78,256.42 665.66,259.93 667.62,260.53" fill="none" stroke="#9cc9ea" stroke-width="0.7980340320425305" />
<path d="M557.62,268.63 C558.90,266.84 562.72,258.17 565.27,257.90 C567.82,257.64 570.37,266.95 572.92,267.06 C575.47,267.18 578.01,260.23 580.56,258.60 C583.11,256.97 585.66,256.93 588.21,257.28 C590.76,257.62 593.31,262.80 595.86,260.69 C598.41,258.57 602.23,247.28 603.50,244.60" fill="none" stroke="#4f98d2" stroke-width="0.48606052786176596" />
<path d="M586.36,254.78 C588.15,254.00 593.54,250.41 597.13,250.09 C600.73,249.77 604.32,251.52 607.91,252.84 C611.50,254.16 615.09,256.43 618.68,258.00 C622.28,259.58 625.87,260.96 629.46,262.30 C633.05,263.64 636.64,264.52 640.23,266.04 C643.83,267.56 649.21,270.54 651.01,271.44" fill="none" stroke="#5aa0d6" stroke-width="0.4526781661415813" />
<path d="M537.80,276.36 C541.47,275.04 552.45,271.68 559.78,268.46 C567.10,265.24 574.43,258.47 581.75,257.03 C589.08,255.59 596.40,260.73 603.73,259.84 C611.05,258.95 618.38,252.51 625.70,251.69 C633.03,250.87 640.35,252.71 647.68,254.92 C655.00,257.13 665.99,263.28 669.65,264.95" fill="none" stroke="#8bbfe6" stroke-width="0.7614860687844501" />
<path d="M588.22,263.60 C588.87,261.62 590.83,252.81 592.14,251.72 C593.44,250.62 594.75,256.79 596.06,257.04 C597.36,257.29 598.67,253.08 599.98,253.20 C601.28,253.31 602.59,258.17 603.90,257.73 C605.20,257.28 606.51,253.16 607.82,250.51 C609.13,247.86 611.09,243.27 611.74,241.83" fill="none" stroke="#3d8fcc" stroke-width="0.6230516198943902" />
<path d="M590.48,260.40 C591.71,258.92 595.37,253.53 597.82,251.55 C600.27,249.58 602.71,249.18 605.16,248.54 C607.60,247.90 610.05,248.21 612.49,247.70 C614.94,247.19 617.39,244.56 619.83,245.49 C622.28,246.43 624.72,250.15 627.17,253.32 C629.61,256.49 633.28,262.64 634.50,264.51" fill="none" stroke="#6fb0de" stroke-width="0.6363033672189505" />
<path d="M585.13,253.98 C585.96,254.33 588.46,256.56 590.12,256.08 C591.78,255.60 593.45,253.25 595.11,251.10 C596.77,248.95 598.43,242.06 600.10,243.16 C601.76,244.27 603.42,257.61 605.09,257.71 C606.75,257.81 608.41,244.56 610.07,243.77 C611.74,242.97 614.23,251.41 615.06,252.94" fill="none" stroke="#9cc9ea" stroke-width="0.7922509914189473" />
<path d="M554.53,267.96 C556.42,267.56 562.10,265.56 565.88,265.59 C569.67,265.61 573.45,270.91 577.24,268.10 C581.02,265.29 584.81,252.18 588.59,248.73 C592.38,245.29 596.16,245.99 599.95,247.45 C603.73,248.90 607.52,257.45 611.30,257.46 C615.09,257.47 620.76,249.15 622.66,247.49" fill="none" stroke="#4f98d2" stroke-width="0.6668274056630914" />
<path d="M582.18,248.93 C582.68,250.93 584.17,258.66 585.16,260.98 C586.15,263.29 587.14,263.34 588.14,262.81 C589.13,262.29 590.12,259.49 591.11,257.83 C592.10,256.18 593.10,254.93 594.09,252.88 C595.08,250.82 596.07,245.58 597.06,245.52 C598.05,245.45 599.54,251.34 600.04,252.50" fill="none" stroke="#5aa0d6" stroke-width="0.4439303576254534" />
<path d="M556.76,270.00 C558.04,269.17 561.89,267.00 564.46,264.98 C567.02,262.96 569.59,259.81 572.16,257.87 C574.72,255.93 577.29,255.04 579.86,253.34 C582.42,251.64 584.99,249.11 587.56,247.67 C590.12,246.22 592.69,245.14 595.26,244.66 C597.82,244.17 601.67,244.72 602.96,244.73" fill="none" stroke="#8bbfe6" stroke-width="0.7930015655533513" />
<path d="M538.12,279.92 C541.51,278.33 551.68,274.47 558.47,270.36 C565.25,266.25 572.03,256.86 578.81,255.28 C585.59,253.70 592.37,260.78 599.15,260.87 C605.93,260.95 612.71,256.49 619.49,255.78 C626.27,255.08 633.05,255.07 639.84,256.65 C646.62,258.23 656.79,263.82 660.18,265.26" fill="none" stroke="#3d8fcc" stroke-width="0.7671869153413755" />
<path d="M546.01,278.11 C549.54,275.99 560.16,269.07 567.24,265.35 C574.32,261.62 581.40,257.97 588.48,255.76 C595.55,253.56 602.63,253.50 609.71,252.12 C616.79,250.73 623.87,246.34 630.95,247.45 C638.03,248.56 645.10,255.17 652.18,258.78 C659.26,262.40 669.88,267.41 673.42,269.14" fill="none" stroke="#6fb0de" stroke-width="0.48854265127847984" />
<path d="M552.3,276.9 l-0.8,1.9" fill="none" stroke="#8cc0e6" stroke-width="0.5" />
<path d="M542.8,285.7 l-1.8,1.4" fill="none" stroke="#5aa0d6" stroke-width="0.5" />
<path d="M562.4,257.2 l-0.7,3.9" fill="none" stroke="#5aa0d6" stroke-width="0.5" />
<path d="M618.2,260.7 l-4.0,3.8" fill="none" stroke="#8cc0e6" stroke-width="0.5" />
<path d="M553.0,274.1 l-4.5,-0.4" fill="none" stroke="#8cc0e6" stroke-width="0.5" />
<path d="M648.4,267.9 l-3.8,0.8" fill="none" stroke="#5aa0d6" stroke-width="0.5" />
<path d="M671.7,276.3 l3.5,-1.6" fill="none" stroke="#3d8fcc" stroke-width="0.5" />
<path d="M615.9,244.1 l4.2,-4.0" fill="none" stroke="#8cc0e6" stroke-width="0.5" />
<path d="M580.6,266.8 l1.1,-0.3" fill="none" stroke="#5aa0d6" stroke-width="0.5" />
<path d="M637.4,260.7 l1.1,0.6" fill="none" stroke="#8cc0e6" stroke-width="0.5" />
<path d="M673.2,280.4 l1.7,-1.3" fill="none" stroke="#3d8fcc" stroke-width="0.5" />
<path d="M608.1,253.6 l0.6,-0.1" fill="none" stroke="#5aa0d6" stroke-width="0.5" />
<path d="M668.4,275.4 l-3.0,-1.3" fill="none" stroke="#5aa0d6" stroke-width="0.5" />
<path d="M659.1,261.8 l-1.0,0.2" fill="none" stroke="#3d8fcc" stroke-width="0.5" />
<path d="M557.2,278.7 l4.2,2.2" fill="none" stroke="#5aa0d6" stroke-width="0.5" />
<path d="M631.6,254.9 l-1.3,2.5" fill="none" stroke="#3d8fcc" stroke-width="0.5" />
<path d="M542.9,268.7 l3.2,-3.8" fill="none" stroke="#8cc0e6" stroke-width="0.5" />
<path d="M566.8,274.8 l-0.3,0.8" fill="none" stroke="#3d8fcc" stroke-width="0.5" />
<path d="M658.6,264.0 l-0.4,2.3" fill="none" stroke="#8cc0e6" stroke-width="0.5" />
<path d="M616.4,241.0 l4.8,-0.8" fill="none" stroke="#5aa0d6" stroke-width="0.5" />
<path d="M589.5,251.4 l-4.0,2.7" fill="none" stroke="#5aa0d6" stroke-width="0.5" />
<path d="M659.2,256.3 l-3.1,0.9" fill="none" stroke="#8cc0e6" stroke-width="0.5" />
<path d="M550.1,268.1 l-2.3,1.6" fill="none" stroke="#8cc0e6" stroke-width="0.5" />
<path d="M550.9,272.3 l4.8,3.8" fill="none" stroke="#3d8fcc" stroke-width="0.5" />
<path d="M549.1,272.1 l4.3,-3.5" fill="none" stroke="#5aa0d6" stroke-width="0.5" />
<path d="M607.8,241.0 l1.5,3.3" fill="none" stroke="#5aa0d6" stroke-width="0.5" />
<path d="M619.3,241.4 l-4.3,-3.5" fill="none" stroke="#5aa0d6" stroke-width="0.5" />
<path d="M554.8,270.3 l3.2,-2.4" fill="none" stroke="#8cc0e6" stroke-width="0.5" />
<path d="M629.3,257.8 l2.6,-1.4" fill="none" stroke="#8cc0e6" stroke-width="0.5" />
<path d="M657.9,275.8 l-4.8,-3.5" fill="none" stroke="#3d8fcc" stroke-width="0.5" />
<path d="M666.5,259.2 l-0.6,-0.3" fill="none" stroke="#5aa0d6" stroke-width="0.5" />
<path d="M601.3,257.6 l-3.5,-0.4" fill="none" stroke="#3d8fcc" stroke-width="0.5" />
<path d="M615.8,255.9 l2.5,3.2" fill="none" stroke="#3d8fcc" stroke-width="0.5" />
<path d="M671.4,266.9 l3.3,-3.0" fill="none" stroke="#3d8fcc" stroke-width="0.5" />
<path d="M629.9,253.7 l0.8,1.4" fill="none" stroke="#5aa0d6" stroke-width="0.5" />
<path d="M679.1,281.2 l-2.8,-3.3" fill="none" stroke="#3d8fcc" stroke-width="0.5" />
<path d="M590.2,259.9 l1.4,2.9" fill="none" stroke="#3d8fcc" stroke-width="0.5" />
<path d="M579.0,265.8 l4.6,3.5" fill="none" stroke="#5aa0d6" stroke-width="0.5" />
<path d="M558.1,276.8 l-1.6,2.3" fill="none" stroke="#5aa0d6" stroke-width="0.5" />
<path d="M678.0,269.7 l0.8,3.3" fill="none" stroke="#3d8fcc" stroke-width="0.5" />
<path d="M623.3,248.9 l3.4,-2.8" fill="none" stroke="#3d8fcc" stroke-width="0.5" />
<path d="M653.4,261.0 l1.0,1.4" fill="none" stroke="#5aa0d6" stroke-width="0.5" />
<path d="M675.8,271.1 l3.7,2.0" fill="none" stroke="#8cc0e6" stroke-width="0.5" />
<path d="M543.0,272.6 l-4.7,1.9" fill="none" stroke="#5aa0d6" stroke-width="0.5" />
<path d="M672.6,278.7 l-3.9,-2.7" fill="none" stroke="#8cc0e6" stroke-width="0.5" />
<path d="M599.6,258.4 l-0.6,-2.6" fill="none" stroke="#3d8fcc" stroke-width="0.5" />
<path d="M575.1,258.1 l-2.4,-1.0" fill="none" stroke="#3d8fcc" stroke-width="0.5" />
<path d="M598.5,259.9 l-1.5,3.6" fill="none" stroke="#8cc0e6" stroke-width="0.5" />
<path d="M591.6,263.7 l3.1,3.7" fill="none" stroke="#3d8fcc" stroke-width="0.5" />
<path d="M600.8,250.8 l-3.7,0.3" fill="none" stroke="#3d8fcc" stroke-width="0.5" />
<path d="M567.4,260.0 l-4.3,-0.4" fill="none" stroke="#8cc0e6" stroke-width="0.5" />
<path d="M633.7,249.8 l2.8,3.1" fill="none" stroke="#5aa0d6" stroke-width="0.5" />
<path d="M603.0,255.9 l-4.3,0.6" fill="none" stroke="#3d8fcc" stroke-width="0.5" />
<path d="M550.2,283.3 l3.7,-0.4" fill="none" stroke="#5aa0d6" stroke-width="0.5" />
<path d="M631.8,253.4 l-1.1,3.0" fill="none" stroke="#8cc0e6" stroke-width="0.5" />
<path d="M545.2,286.2 l-2.7,1.0" fill="none" stroke="#3d8fcc" stroke-width="0.5" />
<path d="M588.0,265.3 l-2.4,0.7" fill="none" stroke="#5aa0d6" stroke-width="0.5" />
<path d="M581.7,265.7 l2.6,-2.8" fill="none" stroke="#8cc0e6" stroke-width="0.5" />
<path d="M555.9,276.7 l0.8,3.5" fill="none" stroke="#3d8fcc" stroke-width="0.5" />
<path d="M672.1,264.1 l2.6,-0.7" fill="none" stroke="#5aa0d6" stroke-width="0.5" />
<path d="M631.1,262.8 l0.4,-2.4" fill="none" stroke="#8cc0e6" stroke-width="0.5" />
<path d="M642.4,251.9 l-0.4,2.8" fill="none" stroke="#3d8fcc" stroke-width="0.5" />
<path d="M578.6,268.0 l0.3,-1.3" fill="none" stroke="#8cc0e6" stroke-width="0.5" />
<path d="M640.0,266.4 l0.8,3.6" fill="none" stroke="#3d8fcc" stroke-width="0.5" />
<path d="M634.8,250.6 l2.6,2.0" fill="none" stroke="#3d8fcc" stroke-width="0.5" />
<path d="M648.8,271.7 l3.0,-0.2" fill="none" stroke="#5aa0d6" stroke-width="0.5" />
<path d="M622.5,260.7 l-4.1,1.8" fill="none" stroke="#3d8fcc" stroke-width="0.5" />
<path d="M670.5,276.7 l-0.5,0.5" fill="none" stroke="#5aa0d6" stroke-width="0.5" />
<path d="M602.6,248.1 l-2.3,1.7" fill="none" stroke="#3d8fcc" stroke-width="0.5" />
<path d="M614.7,242.7 l-3.2,-3.3" fill="none" stroke="#8cc0e6" stroke-width="0.5" />
<path d="M646.5,261.5 l2.5,2.3" fill="none" stroke="#8cc0e6" stroke-width="0.5" />
<path d="M654.6,264.3 l-4.5,-2.7" fill="none" stroke="#8cc0e6" stroke-width="0.5" />
<path d="M575.0,253.7 l-1.4,3.2" fill="none" stroke="#8cc0e6" stroke-width="0.5" />
<path d="M564.1,271.0 l5.0,1.6" fill="none" stroke="#5aa0d6" stroke-width="0.5" />
<path d="M673.6,267.7 l-4.1,3.7" fill="none" stroke="#3d8fcc" stroke-width="0.5" />
<path d="M664.1,267.6 l2.1,-2.6" fill="none" stroke="#8cc0e6" stroke-width="0.5" />
<path d="M622.2,244.5 l1.2,2.6" fill="none" stroke="#8cc0e6" stroke-width="0.5" />
<path d="M586.6,259.8 l-4.4,-1.3" fill="none" stroke="#8cc0e6" stroke-width="0.5" />
<path d="M598.5,254.3 l-2.3,-1.8" fill="none" stroke="#3d8fcc" stroke-width="0.5" />
<path d="M581.4,257.3 l3.3,0.4" fill="none" stroke="#5aa0d6" stroke-width="0.5" />
<path d="M542.5,263.5 C540.5,249.7 547.42,240.5 558.08,240.5 C567.1,240.5 571.2,250.85 575.3,253.84 C580.22,254.3 583.5,256.6 583.5,259.36 C575.3,261.66 558.9,264.5 542.5,263.5 Z" fill="#88d0c0" stroke="#58a998" stroke-width="0.8" />
<ellipse cx="557.26" cy="251.54" rx="8.20" ry="5.98" fill="#6cbdaa" stroke="none" stroke-width="1" transform="rotate(-10 557.26 251.54)" />
<path d="M606,242.5 C604,229.6 611.1,221.0 622.15,221.0 C631.5,221.0 635.75,230.675 640.0,233.47 C645.1,233.9 648.5,236.05 648.5,238.63 C640.0,240.78 623.0,243.5 606,242.5 Z" fill="#88d0c0" stroke="#58a998" stroke-width="0.8" />
<ellipse cx="621.30" cy="231.32" rx="8.50" ry="5.59" fill="#6cbdaa" stroke="none" stroke-width="1" transform="rotate(-10 621.30 231.32)" />
<path d="M573,247 C582,240 592,238 600,239" fill="none" stroke="url(#garr)" stroke-width="3.4"/>
<path d="M598,233.5 L606,239 L598,244.5 Z" fill="#333" stroke="none" stroke-width="1" />
<path d="M651,232.5 C664,233 670,240 668,252 C666,262 661,270 656,276" fill="none" stroke="url(#curv)" stroke-width="3.6"/>
<path d="M651,271 L652.5,281 L661,276 Z" fill="#222" stroke="none" stroke-width="1" />
<circle cx="622.30" cy="297.70" r="15.50" fill="#80cab8" stroke="#52a694" stroke-width="0.9" />
<circle cx="626.00" cy="294.70" r="10.50" fill="#5fb8a4" stroke="none" stroke-width="1" />
<circle cx="623.06" cy="300.18" r="0.35" fill="#3f8f7e" stroke="none" stroke-width="1" />
<circle cx="631.39" cy="301.59" r="0.35" fill="#3f8f7e" stroke="none" stroke-width="1" />
<circle cx="621.61" cy="300.69" r="0.35" fill="#3f8f7e" stroke="none" stroke-width="1" />
<circle cx="613.27" cy="287.22" r="0.35" fill="#3f8f7e" stroke="none" stroke-width="1" />
<circle cx="622.57" cy="284.30" r="0.35" fill="#3f8f7e" stroke="none" stroke-width="1" />
<circle cx="629.02" cy="294.64" r="0.35" fill="#3f8f7e" stroke="none" stroke-width="1" />
<circle cx="624.33" cy="308.21" r="0.35" fill="#3f8f7e" stroke="none" stroke-width="1" />
<circle cx="622.50" cy="298.66" r="0.35" fill="#3f8f7e" stroke="none" stroke-width="1" />
<circle cx="615.04" cy="305.06" r="0.35" fill="#3f8f7e" stroke="none" stroke-width="1" />
<circle cx="618.45" cy="293.44" r="0.35" fill="#3f8f7e" stroke="none" stroke-width="1" />
<circle cx="624.00" cy="299.41" r="0.35" fill="#3f8f7e" stroke="none" stroke-width="1" />
<circle cx="616.72" cy="293.61" r="0.35" fill="#3f8f7e" stroke="none" stroke-width="1" />
<circle cx="612.27" cy="294.95" r="0.35" fill="#3f8f7e" stroke="none" stroke-width="1" />
<circle cx="611.41" cy="292.31" r="0.35" fill="#3f8f7e" stroke="none" stroke-width="1" />
<circle cx="628.66" cy="294.19" r="0.35" fill="#3f8f7e" stroke="none" stroke-width="1" />
<circle cx="617.79" cy="303.13" r="0.35" fill="#3f8f7e" stroke="none" stroke-width="1" />
<circle cx="622.31" cy="300.16" r="0.35" fill="#3f8f7e" stroke="none" stroke-width="1" />
<circle cx="621.15" cy="291.63" r="0.35" fill="#3f8f7e" stroke="none" stroke-width="1" />
<circle cx="627.75" cy="298.47" r="0.35" fill="#3f8f7e" stroke="none" stroke-width="1" />
<circle cx="621.93" cy="298.47" r="0.35" fill="#3f8f7e" stroke="none" stroke-width="1" />
</g>
<ellipse cx="609.0" cy="269.4" rx="73.5" ry="68.2" fill="none" stroke="#8aa4d8" stroke-width="0.9"/>
<text x="588.8" y="217.6" font-size="14" font-weight="bold" fill="#111111" stroke="#111111" stroke-width="0.22" text-anchor="middle" >G</text>
<text x="586.3" y="305.2" font-size="9.4" font-weight="bold" fill="#111111" stroke="#111111" stroke-width="0.22" text-anchor="middle" >Teff</text>
<text x="662.8" y="293.5" font-size="8.78" font-weight="bold" fill="#111111" stroke="#111111" stroke-width="0.22" text-anchor="middle" >ECM</text>
<ellipse cx="548.5" cy="439.2" rx="73.5" ry="68.2" fill="#ebf2fc"/>
<g clip-path="url(#clipH)">
<circle cx="517.40" cy="407.40" r="5.80" fill="#ea7f80" stroke="#dc6a6d" stroke-width="0.6" />
<circle cx="517.90" cy="407.90" r="3.20" fill="#de6569" stroke="none" stroke-width="1" />
<circle cx="527.50" cy="408.40" r="5.80" fill="#ea7f80" stroke="#dc6a6d" stroke-width="0.6" />
<circle cx="528.00" cy="408.90" r="3.20" fill="#de6569" stroke="none" stroke-width="1" />
<circle cx="541.70" cy="403.30" r="5.80" fill="#ea7f80" stroke="#dc6a6d" stroke-width="0.6" />
<circle cx="542.20" cy="403.80" r="3.20" fill="#de6569" stroke="none" stroke-width="1" />
<circle cx="535.60" cy="414.50" r="5.80" fill="#ea7f80" stroke="#dc6a6d" stroke-width="0.6" />
<circle cx="536.10" cy="415.00" r="3.20" fill="#de6569" stroke="none" stroke-width="1" />
<circle cx="545.70" cy="412.40" r="5.80" fill="#ea7f80" stroke="#dc6a6d" stroke-width="0.6" />
<circle cx="546.20" cy="412.90" r="3.20" fill="#de6569" stroke="none" stroke-width="1" />
<circle cx="556.90" cy="415.50" r="5.80" fill="#ea7f80" stroke="#dc6a6d" stroke-width="0.6" />
<circle cx="557.40" cy="416.00" r="3.20" fill="#de6569" stroke="none" stroke-width="1" />
<circle cx="515.40" cy="420.50" r="5.80" fill="#ea7f80" stroke="#dc6a6d" stroke-width="0.6" />
<circle cx="515.90" cy="421.00" r="3.20" fill="#de6569" stroke="none" stroke-width="1" />
<circle cx="549.80" cy="423.60" r="5.80" fill="#ea7f80" stroke="#dc6a6d" stroke-width="0.6" />
<circle cx="550.30" cy="424.10" r="3.20" fill="#de6569" stroke="none" stroke-width="1" />
<circle cx="513.30" cy="429.70" r="5.80" fill="#ea7f80" stroke="#dc6a6d" stroke-width="0.6" />
<circle cx="513.80" cy="430.20" r="3.20" fill="#de6569" stroke="none" stroke-width="1" />
<circle cx="555.90" cy="435.70" r="5.80" fill="#ea7f80" stroke="#dc6a6d" stroke-width="0.6" />
<circle cx="556.40" cy="436.20" r="3.20" fill="#de6569" stroke="none" stroke-width="1" />
<circle cx="511.30" cy="439.80" r="5.80" fill="#ea7f80" stroke="#dc6a6d" stroke-width="0.6" />
<circle cx="511.80" cy="440.30" r="3.20" fill="#de6569" stroke="none" stroke-width="1" />
<circle cx="523.50" cy="434.70" r="5.80" fill="#ea7f80" stroke="#dc6a6d" stroke-width="0.6" />
<circle cx="524.00" cy="435.20" r="3.20" fill="#de6569" stroke="none" stroke-width="1" />
<circle cx="539.70" cy="435.70" r="5.80" fill="#ea7f80" stroke="#dc6a6d" stroke-width="0.6" />
<circle cx="540.20" cy="436.20" r="3.20" fill="#de6569" stroke="none" stroke-width="1" />
<circle cx="533.60" cy="444.80" r="5.80" fill="#ea7f80" stroke="#dc6a6d" stroke-width="0.6" />
<circle cx="534.10" cy="445.30" r="3.20" fill="#de6569" stroke="none" stroke-width="1" />
<circle cx="520.40" cy="448.90" r="5.80" fill="#ea7f80" stroke="#dc6a6d" stroke-width="0.6" />
<circle cx="520.90" cy="449.40" r="3.20" fill="#de6569" stroke="none" stroke-width="1" />
<circle cx="549.80" cy="441.80" r="5.80" fill="#ea7f80" stroke="#dc6a6d" stroke-width="0.6" />
<circle cx="550.30" cy="442.30" r="3.20" fill="#de6569" stroke="none" stroke-width="1" />
<circle cx="561.90" cy="447.90" r="5.80" fill="#ea7f80" stroke="#dc6a6d" stroke-width="0.6" />
<circle cx="562.40" cy="448.40" r="3.20" fill="#de6569" stroke="none" stroke-width="1" />
<circle cx="529.50" cy="458.00" r="5.80" fill="#ea7f80" stroke="#dc6a6d" stroke-width="0.6" />
<circle cx="530.00" cy="458.50" r="3.20" fill="#de6569" stroke="none" stroke-width="1" />
<circle cx="561.90" cy="460.00" r="5.80" fill="#ea7f80" stroke="#dc6a6d" stroke-width="0.6" />
<circle cx="562.40" cy="460.50" r="3.20" fill="#de6569" stroke="none" stroke-width="1" />
<circle cx="525.50" cy="470.10" r="5.80" fill="#ea7f80" stroke="#dc6a6d" stroke-width="0.6" />
<circle cx="526.00" cy="470.60" r="3.20" fill="#de6569" stroke="none" stroke-width="1" />
<circle cx="537.60" cy="470.10" r="5.80" fill="#ea7f80" stroke="#dc6a6d" stroke-width="0.6" />
<circle cx="538.10" cy="470.60" r="3.20" fill="#de6569" stroke="none" stroke-width="1" />
<circle cx="547.80" cy="472.20" r="5.80" fill="#ea7f80" stroke="#dc6a6d" stroke-width="0.6" />
<circle cx="548.30" cy="472.70" r="3.20" fill="#de6569" stroke="none" stroke-width="1" />
<circle cx="559.90" cy="472.20" r="5.80" fill="#ea7f80" stroke="#dc6a6d" stroke-width="0.6" />
<circle cx="560.40" cy="472.70" r="3.20" fill="#de6569" stroke="none" stroke-width="1" />
<circle cx="541.70" cy="480.30" r="5.80" fill="#ea7f80" stroke="#dc6a6d" stroke-width="0.6" />
<circle cx="542.20" cy="480.80" r="3.20" fill="#de6569" stroke="none" stroke-width="1" />
<circle cx="553.80" cy="478.20" r="5.80" fill="#ea7f80" stroke="#dc6a6d" stroke-width="0.6" />
<circle cx="554.30" cy="478.70" r="3.20" fill="#de6569" stroke="none" stroke-width="1" />
<circle cx="578.10" cy="429.70" r="5.80" fill="#ea7f80" stroke="#dc6a6d" stroke-width="0.6" />
<circle cx="578.60" cy="430.20" r="3.20" fill="#de6569" stroke="none" stroke-width="1" />
<circle cx="526.00" cy="421.00" r="5.80" fill="#ea7f80" stroke="#dc6a6d" stroke-width="0.6" />
<circle cx="526.50" cy="421.50" r="3.20" fill="#de6569" stroke="none" stroke-width="1" />
<circle cx="541.00" cy="455.00" r="5.80" fill="#ea7f80" stroke="#dc6a6d" stroke-width="0.6" />
<circle cx="541.50" cy="455.50" r="3.20" fill="#de6569" stroke="none" stroke-width="1" />
<circle cx="552.00" cy="458.00" r="5.80" fill="#ea7f80" stroke="#dc6a6d" stroke-width="0.6" />
<circle cx="552.50" cy="458.50" r="3.20" fill="#de6569" stroke="none" stroke-width="1" />
<circle cx="506.30" cy="398.30" r="6.10" fill="#d6efcc" stroke="#a9d69c" stroke-width="0.7" />
<circle cx="506.60" cy="398.60" r="3.80" fill="#c3e6b6" stroke="none" stroke-width="1" />
<circle cx="519.40" cy="396.30" r="6.10" fill="#d6efcc" stroke="#a9d69c" stroke-width="0.7" />
<circle cx="519.70" cy="396.60" r="3.80" fill="#c3e6b6" stroke="none" stroke-width="1" />
<circle cx="531.60" cy="396.30" r="6.10" fill="#d6efcc" stroke="#a9d69c" stroke-width="0.7" />
<circle cx="531.90" cy="396.60" r="3.80" fill="#c3e6b6" stroke="none" stroke-width="1" />
<circle cx="540.70" cy="391.20" r="6.10" fill="#d6efcc" stroke="#a9d69c" stroke-width="0.7" />
<circle cx="541.00" cy="391.50" r="3.80" fill="#c3e6b6" stroke="none" stroke-width="1" />
<circle cx="549.80" cy="395.20" r="6.10" fill="#d6efcc" stroke="#a9d69c" stroke-width="0.7" />
<circle cx="550.10" cy="395.50" r="3.80" fill="#c3e6b6" stroke="none" stroke-width="1" />
<circle cx="555.90" cy="404.40" r="6.10" fill="#d6efcc" stroke="#a9d69c" stroke-width="0.7" />
<circle cx="556.20" cy="404.70" r="3.80" fill="#c3e6b6" stroke="none" stroke-width="1" />
<circle cx="568.00" cy="412.40" r="6.10" fill="#d6efcc" stroke="#a9d69c" stroke-width="0.7" />
<circle cx="568.30" cy="412.70" r="3.80" fill="#c3e6b6" stroke="none" stroke-width="1" />
<circle cx="571.00" cy="422.60" r="6.10" fill="#d6efcc" stroke="#a9d69c" stroke-width="0.7" />
<circle cx="571.30" cy="422.90" r="3.80" fill="#c3e6b6" stroke="none" stroke-width="1" />
<circle cx="560.90" cy="425.60" r="6.10" fill="#d6efcc" stroke="#a9d69c" stroke-width="0.7" />
<circle cx="561.20" cy="425.90" r="3.80" fill="#c3e6b6" stroke="none" stroke-width="1" />
<circle cx="568.00" cy="435.70" r="6.10" fill="#d6efcc" stroke="#a9d69c" stroke-width="0.7" />
<circle cx="568.30" cy="436.00" r="3.80" fill="#c3e6b6" stroke="none" stroke-width="1" />
<circle cx="574.10" cy="447.90" r="6.10" fill="#d6efcc" stroke="#a9d69c" stroke-width="0.7" />
<circle cx="574.40" cy="448.20" r="3.80" fill="#c3e6b6" stroke="none" stroke-width="1" />
<circle cx="574.10" cy="460.00" r="6.10" fill="#d6efcc" stroke="#a9d69c" stroke-width="0.7" />
<circle cx="574.40" cy="460.30" r="3.80" fill="#c3e6b6" stroke="none" stroke-width="1" />
<circle cx="570.00" cy="472.20" r="6.10" fill="#d6efcc" stroke="#a9d69c" stroke-width="0.7" />
<circle cx="570.30" cy="472.50" r="3.80" fill="#c3e6b6" stroke="none" stroke-width="1" />
<circle cx="565.00" cy="482.30" r="6.10" fill="#d6efcc" stroke="#a9d69c" stroke-width="0.7" />
<circle cx="565.30" cy="482.60" r="3.80" fill="#c3e6b6" stroke="none" stroke-width="1" />
<circle cx="555.90" cy="488.40" r="6.10" fill="#d6efcc" stroke="#a9d69c" stroke-width="0.7" />
<circle cx="556.20" cy="488.70" r="3.80" fill="#c3e6b6" stroke="none" stroke-width="1" />
<circle cx="545.70" cy="492.40" r="6.10" fill="#d6efcc" stroke="#a9d69c" stroke-width="0.7" />
<circle cx="546.00" cy="492.70" r="3.80" fill="#c3e6b6" stroke="none" stroke-width="1" />
<circle cx="534.60" cy="492.40" r="6.10" fill="#d6efcc" stroke="#a9d69c" stroke-width="0.7" />
<circle cx="534.90" cy="492.70" r="3.80" fill="#c3e6b6" stroke="none" stroke-width="1" />
<circle cx="531.60" cy="481.30" r="6.10" fill="#d6efcc" stroke="#a9d69c" stroke-width="0.7" />
<circle cx="531.90" cy="481.60" r="3.80" fill="#c3e6b6" stroke="none" stroke-width="1" />
<circle cx="513.30" cy="474.20" r="6.10" fill="#d6efcc" stroke="#a9d69c" stroke-width="0.7" />
<circle cx="513.60" cy="474.50" r="3.80" fill="#c3e6b6" stroke="none" stroke-width="1" />
<circle cx="517.40" cy="461.00" r="6.10" fill="#d6efcc" stroke="#a9d69c" stroke-width="0.7" />
<circle cx="517.70" cy="461.30" r="3.80" fill="#c3e6b6" stroke="none" stroke-width="1" />
<circle cx="507.30" cy="450.90" r="6.10" fill="#d6efcc" stroke="#a9d69c" stroke-width="0.7" />
<circle cx="507.60" cy="451.20" r="3.80" fill="#c3e6b6" stroke="none" stroke-width="1" />
<circle cx="501.20" cy="439.80" r="6.10" fill="#d6efcc" stroke="#a9d69c" stroke-width="0.7" />
<circle cx="501.50" cy="440.10" r="3.80" fill="#c3e6b6" stroke="none" stroke-width="1" />
<circle cx="503.20" cy="425.60" r="6.10" fill="#d6efcc" stroke="#a9d69c" stroke-width="0.7" />
<circle cx="503.50" cy="425.90" r="3.80" fill="#c3e6b6" stroke="none" stroke-width="1" />
<circle cx="507.30" cy="413.50" r="6.10" fill="#d6efcc" stroke="#a9d69c" stroke-width="0.7" />
<circle cx="507.60" cy="413.80" r="3.80" fill="#c3e6b6" stroke="none" stroke-width="1" />
<circle cx="510.00" cy="486.00" r="6.10" fill="#d6efcc" stroke="#a9d69c" stroke-width="0.7" />
<circle cx="510.30" cy="486.30" r="3.80" fill="#c3e6b6" stroke="none" stroke-width="1" />
<circle cx="580.00" cy="435.00" r="6.10" fill="#d6efcc" stroke="#a9d69c" stroke-width="0.7" />
<circle cx="580.30" cy="435.30" r="3.80" fill="#c3e6b6" stroke="none" stroke-width="1" />
<circle cx="498.00" cy="405.00" r="6.10" fill="#d6efcc" stroke="#a9d69c" stroke-width="0.7" />
<circle cx="498.30" cy="405.30" r="3.80" fill="#c3e6b6" stroke="none" stroke-width="1" />
<g >
<g fill="#a3a0dc" stroke="#a3a0dc" stroke-width="0.60" stroke-linejoin="round"><path d="M540.64,426.88 C540.28,428.41 538.42,430.47 537.27,431.49 C536.13,432.52 535.14,432.96 533.77,433.02 C532.39,433.07 529.96,432.60 529.02,431.83 C528.08,431.06 528.25,429.89 528.13,428.42 C528.01,426.94 527.69,424.21 528.32,422.99 C528.96,421.77 530.71,421.61 531.94,421.12 C533.16,420.64 534.43,419.87 535.68,420.08 C536.92,420.28 538.59,421.23 539.42,422.36 C540.24,423.50 540.99,425.36 540.64,426.88Z"/><path d="M537.51,427.91 L538.74,427.81 L539.96,427.77 L541.17,427.79 L542.38,427.87 L543.58,428.00 L544.77,428.20 L545.96,428.45 L547.14,428.76 L548.31,429.13 L549.48,429.56 L550.07,429.32 L549.82,428.73 L548.63,428.24 L547.43,427.80 L546.22,427.43 L545.00,427.12 L543.76,426.87 L542.51,426.68 L541.25,426.54 L539.97,426.47 L538.69,426.46 L537.40,426.51Z"/><path d="M535.76,429.72 L536.48,430.80 L537.24,431.83 L538.05,432.82 L538.90,433.76 L539.79,434.66 L540.72,435.51 L541.69,436.32 L542.71,437.08 L543.76,437.80 L544.86,438.47 L545.47,438.32 L545.32,437.71 L544.29,437.01 L543.30,436.28 L542.36,435.51 L541.46,434.70 L540.60,433.85 L539.79,432.96 L539.01,432.03 L538.29,431.06 L537.60,430.04 L536.96,428.99Z"/><path d="M533.56,430.72 L534.04,431.86 L534.45,433.01 L534.81,434.17 L535.11,435.34 L535.35,436.52 L535.53,437.72 L535.66,438.92 L535.73,440.14 L535.74,441.37 L535.69,442.61 L536.11,443.10 L536.59,442.69 L536.69,441.40 L536.73,440.13 L536.71,438.86 L536.63,437.60 L536.48,436.34 L536.28,435.10 L536.02,433.86 L535.69,432.62 L535.30,431.40 L534.86,430.18Z"/><path d="M531.30,429.62 L530.50,430.64 L529.75,431.68 L529.06,432.75 L528.42,433.85 L527.85,434.98 L527.32,436.12 L526.85,437.30 L526.44,438.50 L526.09,439.72 L525.78,440.97 L526.12,441.52 L526.66,441.18 L527.00,439.99 L527.39,438.82 L527.83,437.68 L528.33,436.58 L528.87,435.50 L529.47,434.45 L530.11,433.43 L530.81,432.43 L531.56,431.47 L532.36,430.53Z"/><path d="M529.67,427.84 L528.73,428.64 L527.77,429.39 L526.77,430.09 L525.75,430.73 L524.70,431.33 L523.62,431.87 L522.52,432.37 L521.38,432.81 L520.21,433.20 L519.02,433.54 L518.68,434.08 L519.23,434.42 L520.48,434.11 L521.70,433.76 L522.90,433.35 L524.08,432.88 L525.22,432.35 L526.35,431.78 L527.45,431.14 L528.52,430.45 L529.56,429.70 L530.58,428.90Z"/><path d="M530.02,425.34 L528.80,424.90 L527.58,424.51 L526.34,424.18 L525.10,423.92 L523.86,423.72 L522.60,423.57 L521.34,423.49 L520.07,423.47 L518.80,423.51 L517.51,423.61 L517.10,424.09 L517.59,424.51 L518.83,424.46 L520.06,424.47 L521.28,424.54 L522.48,424.67 L523.68,424.85 L524.86,425.09 L526.03,425.39 L527.19,425.75 L528.34,426.16 L529.48,426.64Z"/><path d="M531.21,423.24 L530.16,422.60 L529.14,421.91 L528.17,421.19 L527.24,420.41 L526.35,419.60 L525.50,418.74 L524.69,417.84 L523.92,416.90 L523.19,415.91 L522.49,414.88 L521.88,414.73 L521.73,415.34 L522.40,416.44 L523.12,417.49 L523.88,418.51 L524.69,419.48 L525.54,420.41 L526.44,421.30 L527.38,422.15 L528.37,422.96 L529.40,423.72 L530.48,424.44Z"/><path d="M533.69,422.80 L533.74,421.51 L533.73,420.23 L533.66,418.95 L533.52,417.69 L533.33,416.44 L533.08,415.20 L532.77,413.98 L532.40,412.77 L531.96,411.57 L531.47,410.38 L530.88,410.13 L530.64,410.72 L531.07,411.89 L531.44,413.06 L531.75,414.24 L532.00,415.43 L532.20,416.62 L532.33,417.82 L532.41,419.03 L532.43,420.24 L532.39,421.46 L532.29,422.69Z"/><path d="M536.05,423.29 L536.34,422.09 L536.68,420.91 L537.07,419.77 L537.52,418.64 L538.02,417.54 L538.57,416.47 L539.18,415.42 L539.84,414.39 L540.55,413.39 L541.32,412.41 L541.27,411.78 L540.64,411.83 L539.80,412.81 L539.02,413.82 L538.29,414.85 L537.62,415.92 L536.99,417.02 L536.42,418.15 L535.91,419.31 L535.45,420.50 L535.04,421.72 L534.69,422.96Z"/><path d="M537.24,425.51 L538.48,425.16 L539.70,424.75 L540.89,424.29 L542.05,423.78 L543.18,423.21 L544.28,422.58 L545.35,421.91 L546.38,421.18 L547.39,420.40 L548.37,419.56 L548.42,418.93 L547.79,418.88 L546.81,419.65 L545.81,420.36 L544.78,421.02 L543.73,421.63 L542.66,422.18 L541.56,422.68 L540.43,423.13 L539.29,423.52 L538.11,423.86 L536.91,424.15Z"/></g>
<g fill="#bcb9ec"><path d="M540.64,426.88 C540.28,428.41 538.42,430.47 537.27,431.49 C536.13,432.52 535.14,432.96 533.77,433.02 C532.39,433.07 529.96,432.60 529.02,431.83 C528.08,431.06 528.25,429.89 528.13,428.42 C528.01,426.94 527.69,424.21 528.32,422.99 C528.96,421.77 530.71,421.61 531.94,421.12 C533.16,420.64 534.43,419.87 535.68,420.08 C536.92,420.28 538.59,421.23 539.42,422.36 C540.24,423.50 540.99,425.36 540.64,426.88Z"/><path d="M537.51,427.91 L538.74,427.81 L539.96,427.77 L541.17,427.79 L542.38,427.87 L543.58,428.00 L544.77,428.20 L545.96,428.45 L547.14,428.76 L548.31,429.13 L549.48,429.56 L550.07,429.32 L549.82,428.73 L548.63,428.24 L547.43,427.80 L546.22,427.43 L545.00,427.12 L543.76,426.87 L542.51,426.68 L541.25,426.54 L539.97,426.47 L538.69,426.46 L537.40,426.51Z"/><path d="M535.76,429.72 L536.48,430.80 L537.24,431.83 L538.05,432.82 L538.90,433.76 L539.79,434.66 L540.72,435.51 L541.69,436.32 L542.71,437.08 L543.76,437.80 L544.86,438.47 L545.47,438.32 L545.32,437.71 L544.29,437.01 L543.30,436.28 L542.36,435.51 L541.46,434.70 L540.60,433.85 L539.79,432.96 L539.01,432.03 L538.29,431.06 L537.60,430.04 L536.96,428.99Z"/><path d="M533.56,430.72 L534.04,431.86 L534.45,433.01 L534.81,434.17 L535.11,435.34 L535.35,436.52 L535.53,437.72 L535.66,438.92 L535.73,440.14 L535.74,441.37 L535.69,442.61 L536.11,443.10 L536.59,442.69 L536.69,441.40 L536.73,440.13 L536.71,438.86 L536.63,437.60 L536.48,436.34 L536.28,435.10 L536.02,433.86 L535.69,432.62 L535.30,431.40 L534.86,430.18Z"/><path d="M531.30,429.62 L530.50,430.64 L529.75,431.68 L529.06,432.75 L528.42,433.85 L527.85,434.98 L527.32,436.12 L526.85,437.30 L526.44,438.50 L526.09,439.72 L525.78,440.97 L526.12,441.52 L526.66,441.18 L527.00,439.99 L527.39,438.82 L527.83,437.68 L528.33,436.58 L528.87,435.50 L529.47,434.45 L530.11,433.43 L530.81,432.43 L531.56,431.47 L532.36,430.53Z"/><path d="M529.67,427.84 L528.73,428.64 L527.77,429.39 L526.77,430.09 L525.75,430.73 L524.70,431.33 L523.62,431.87 L522.52,432.37 L521.38,432.81 L520.21,433.20 L519.02,433.54 L518.68,434.08 L519.23,434.42 L520.48,434.11 L521.70,433.76 L522.90,433.35 L524.08,432.88 L525.22,432.35 L526.35,431.78 L527.45,431.14 L528.52,430.45 L529.56,429.70 L530.58,428.90Z"/><path d="M530.02,425.34 L528.80,424.90 L527.58,424.51 L526.34,424.18 L525.10,423.92 L523.86,423.72 L522.60,423.57 L521.34,423.49 L520.07,423.47 L518.80,423.51 L517.51,423.61 L517.10,424.09 L517.59,424.51 L518.83,424.46 L520.06,424.47 L521.28,424.54 L522.48,424.67 L523.68,424.85 L524.86,425.09 L526.03,425.39 L527.19,425.75 L528.34,426.16 L529.48,426.64Z"/><path d="M531.21,423.24 L530.16,422.60 L529.14,421.91 L528.17,421.19 L527.24,420.41 L526.35,419.60 L525.50,418.74 L524.69,417.84 L523.92,416.90 L523.19,415.91 L522.49,414.88 L521.88,414.73 L521.73,415.34 L522.40,416.44 L523.12,417.49 L523.88,418.51 L524.69,419.48 L525.54,420.41 L526.44,421.30 L527.38,422.15 L528.37,422.96 L529.40,423.72 L530.48,424.44Z"/><path d="M533.69,422.80 L533.74,421.51 L533.73,420.23 L533.66,418.95 L533.52,417.69 L533.33,416.44 L533.08,415.20 L532.77,413.98 L532.40,412.77 L531.96,411.57 L531.47,410.38 L530.88,410.13 L530.64,410.72 L531.07,411.89 L531.44,413.06 L531.75,414.24 L532.00,415.43 L532.20,416.62 L532.33,417.82 L532.41,419.03 L532.43,420.24 L532.39,421.46 L532.29,422.69Z"/><path d="M536.05,423.29 L536.34,422.09 L536.68,420.91 L537.07,419.77 L537.52,418.64 L538.02,417.54 L538.57,416.47 L539.18,415.42 L539.84,414.39 L540.55,413.39 L541.32,412.41 L541.27,411.78 L540.64,411.83 L539.80,412.81 L539.02,413.82 L538.29,414.85 L537.62,415.92 L536.99,417.02 L536.42,418.15 L535.91,419.31 L535.45,420.50 L535.04,421.72 L534.69,422.96Z"/><path d="M537.24,425.51 L538.48,425.16 L539.70,424.75 L540.89,424.29 L542.05,423.78 L543.18,423.21 L544.28,422.58 L545.35,421.91 L546.38,421.18 L547.39,420.40 L548.37,419.56 L548.42,418.93 L547.79,418.88 L546.81,419.65 L545.81,420.36 L544.78,421.02 L543.73,421.63 L542.66,422.18 L541.56,422.68 L540.43,423.13 L539.29,423.52 L538.11,423.86 L536.91,424.15Z"/></g>
<ellipse cx="534.6" cy="427.1" rx="3.25" ry="2.6" fill="#8e8ad0"/>
</g>
<g >
<g fill="#a3a0dc" stroke="#a3a0dc" stroke-width="0.60" stroke-linejoin="round"><path d="M554.14,460.19 C553.85,461.36 552.79,461.27 551.46,462.13 C550.13,463.00 547.67,465.23 546.14,465.38 C544.61,465.52 543.36,464.03 542.27,463.00 C541.19,461.97 539.81,460.56 539.62,459.20 C539.43,457.83 540.39,456.04 541.13,454.79 C541.88,453.54 542.65,452.37 544.08,451.70 C545.50,451.03 548.17,450.19 549.69,450.76 C551.20,451.34 552.44,453.59 553.18,455.16 C553.92,456.73 554.42,459.03 554.14,460.19Z"/><path d="M550.63,459.99 L551.95,460.12 L553.26,460.30 L554.54,460.54 L555.82,460.84 L557.07,461.19 L558.31,461.59 L559.54,462.06 L560.75,462.58 L561.94,463.16 L563.11,463.79 L563.73,463.64 L563.57,463.02 L562.39,462.32 L561.18,461.68 L559.95,461.09 L558.70,460.56 L557.43,460.09 L556.14,459.68 L554.82,459.32 L553.49,459.02 L552.13,458.78 L550.76,458.60Z"/><path d="M548.53,461.67 L549.12,462.93 L549.77,464.14 L550.47,465.32 L551.21,466.46 L552.01,467.56 L552.85,468.62 L553.74,469.65 L554.67,470.63 L555.66,471.58 L556.69,472.50 L557.32,472.45 L557.28,471.82 L556.31,470.90 L555.40,469.94 L554.53,468.95 L553.71,467.93 L552.94,466.88 L552.21,465.79 L551.54,464.68 L550.92,463.52 L550.34,462.34 L549.81,461.12Z"/><path d="M546.02,462.35 L546.31,463.65 L546.54,464.95 L546.71,466.25 L546.82,467.55 L546.88,468.85 L546.87,470.16 L546.81,471.46 L546.68,472.77 L546.50,474.09 L546.26,475.40 L546.60,475.94 L547.14,475.60 L547.44,474.25 L547.68,472.91 L547.85,471.56 L547.97,470.20 L548.03,468.85 L548.02,467.49 L547.95,466.13 L547.82,464.77 L547.63,463.41 L547.38,462.05Z"/><path d="M543.77,460.87 L542.76,461.83 L541.81,462.82 L540.91,463.84 L540.05,464.90 L539.25,466.00 L538.50,467.13 L537.80,468.29 L537.15,469.49 L536.55,470.72 L536.00,471.98 L536.24,472.57 L536.83,472.34 L537.40,471.13 L538.03,469.96 L538.70,468.83 L539.42,467.73 L540.18,466.67 L540.99,465.65 L541.85,464.67 L542.75,463.72 L543.70,462.80 L544.69,461.92Z"/><path d="M542.35,458.70 L541.20,459.37 L540.04,459.99 L538.86,460.56 L537.66,461.06 L536.44,461.52 L535.19,461.92 L533.93,462.26 L532.65,462.55 L531.34,462.78 L530.02,462.96 L529.61,463.45 L530.10,463.86 L531.47,463.72 L532.82,463.53 L534.16,463.29 L535.48,462.98 L536.79,462.61 L538.08,462.19 L539.35,461.70 L540.61,461.16 L541.84,460.56 L543.06,459.90Z"/><path d="M543.06,456.10 L541.84,455.44 L540.61,454.84 L539.35,454.30 L538.08,453.81 L536.79,453.39 L535.48,453.02 L534.16,452.71 L532.82,452.47 L531.47,452.28 L530.10,452.14 L529.61,452.55 L530.02,453.04 L531.34,453.22 L532.65,453.45 L533.93,453.74 L535.19,454.08 L536.44,454.48 L537.66,454.94 L538.86,455.44 L540.04,456.01 L541.20,456.63 L542.35,457.30Z"/><path d="M544.69,454.08 L543.70,453.20 L542.75,452.28 L541.85,451.33 L540.99,450.35 L540.18,449.33 L539.42,448.27 L538.70,447.17 L538.03,446.04 L537.40,444.87 L536.83,443.66 L536.24,443.43 L536.00,444.02 L536.55,445.28 L537.15,446.51 L537.80,447.71 L538.50,448.87 L539.25,450.00 L540.05,451.10 L540.91,452.16 L541.81,453.18 L542.76,454.17 L543.77,455.13Z"/><path d="M547.38,453.95 L547.63,452.59 L547.82,451.23 L547.95,449.87 L548.02,448.51 L548.03,447.15 L547.97,445.80 L547.85,444.44 L547.68,443.09 L547.44,441.75 L547.14,440.40 L546.60,440.06 L546.26,440.60 L546.50,441.91 L546.68,443.23 L546.81,444.54 L546.87,445.84 L546.88,447.15 L546.82,448.45 L546.71,449.75 L546.54,451.05 L546.31,452.35 L546.02,453.65Z"/><path d="M549.81,454.88 L550.34,453.66 L550.92,452.48 L551.54,451.32 L552.21,450.21 L552.94,449.12 L553.71,448.07 L554.53,447.05 L555.40,446.06 L556.31,445.10 L557.28,444.18 L557.32,443.55 L556.69,443.50 L555.66,444.42 L554.67,445.37 L553.74,446.35 L552.85,447.38 L552.01,448.44 L551.21,449.54 L550.47,450.68 L549.77,451.86 L549.12,453.07 L548.53,454.33Z"/><path d="M550.76,457.40 L552.13,457.22 L553.49,456.98 L554.82,456.68 L556.14,456.32 L557.43,455.91 L558.70,455.44 L559.95,454.91 L561.18,454.32 L562.39,453.68 L563.57,452.98 L563.73,452.36 L563.11,452.21 L561.94,452.84 L560.75,453.42 L559.54,453.94 L558.31,454.41 L557.07,454.81 L555.82,455.16 L554.54,455.46 L553.26,455.70 L551.95,455.88 L550.63,456.01Z"/></g>
<g fill="#bcb9ec"><path d="M554.14,460.19 C553.85,461.36 552.79,461.27 551.46,462.13 C550.13,463.00 547.67,465.23 546.14,465.38 C544.61,465.52 543.36,464.03 542.27,463.00 C541.19,461.97 539.81,460.56 539.62,459.20 C539.43,457.83 540.39,456.04 541.13,454.79 C541.88,453.54 542.65,452.37 544.08,451.70 C545.50,451.03 548.17,450.19 549.69,450.76 C551.20,451.34 552.44,453.59 553.18,455.16 C553.92,456.73 554.42,459.03 554.14,460.19Z"/><path d="M550.63,459.99 L551.95,460.12 L553.26,460.30 L554.54,460.54 L555.82,460.84 L557.07,461.19 L558.31,461.59 L559.54,462.06 L560.75,462.58 L561.94,463.16 L563.11,463.79 L563.73,463.64 L563.57,463.02 L562.39,462.32 L561.18,461.68 L559.95,461.09 L558.70,460.56 L557.43,460.09 L556.14,459.68 L554.82,459.32 L553.49,459.02 L552.13,458.78 L550.76,458.60Z"/><path d="M548.53,461.67 L549.12,462.93 L549.77,464.14 L550.47,465.32 L551.21,466.46 L552.01,467.56 L552.85,468.62 L553.74,469.65 L554.67,470.63 L555.66,471.58 L556.69,472.50 L557.32,472.45 L557.28,471.82 L556.31,470.90 L555.40,469.94 L554.53,468.95 L553.71,467.93 L552.94,466.88 L552.21,465.79 L551.54,464.68 L550.92,463.52 L550.34,462.34 L549.81,461.12Z"/><path d="M546.02,462.35 L546.31,463.65 L546.54,464.95 L546.71,466.25 L546.82,467.55 L546.88,468.85 L546.87,470.16 L546.81,471.46 L546.68,472.77 L546.50,474.09 L546.26,475.40 L546.60,475.94 L547.14,475.60 L547.44,474.25 L547.68,472.91 L547.85,471.56 L547.97,470.20 L548.03,468.85 L548.02,467.49 L547.95,466.13 L547.82,464.77 L547.63,463.41 L547.38,462.05Z"/><path d="M543.77,460.87 L542.76,461.83 L541.81,462.82 L540.91,463.84 L540.05,464.90 L539.25,466.00 L538.50,467.13 L537.80,468.29 L537.15,469.49 L536.55,470.72 L536.00,471.98 L536.24,472.57 L536.83,472.34 L537.40,471.13 L538.03,469.96 L538.70,468.83 L539.42,467.73 L540.18,466.67 L540.99,465.65 L541.85,464.67 L542.75,463.72 L543.70,462.80 L544.69,461.92Z"/><path d="M542.35,458.70 L541.20,459.37 L540.04,459.99 L538.86,460.56 L537.66,461.06 L536.44,461.52 L535.19,461.92 L533.93,462.26 L532.65,462.55 L531.34,462.78 L530.02,462.96 L529.61,463.45 L530.10,463.86 L531.47,463.72 L532.82,463.53 L534.16,463.29 L535.48,462.98 L536.79,462.61 L538.08,462.19 L539.35,461.70 L540.61,461.16 L541.84,460.56 L543.06,459.90Z"/><path d="M543.06,456.10 L541.84,455.44 L540.61,454.84 L539.35,454.30 L538.08,453.81 L536.79,453.39 L535.48,453.02 L534.16,452.71 L532.82,452.47 L531.47,452.28 L530.10,452.14 L529.61,452.55 L530.02,453.04 L531.34,453.22 L532.65,453.45 L533.93,453.74 L535.19,454.08 L536.44,454.48 L537.66,454.94 L538.86,455.44 L540.04,456.01 L541.20,456.63 L542.35,457.30Z"/><path d="M544.69,454.08 L543.70,453.20 L542.75,452.28 L541.85,451.33 L540.99,450.35 L540.18,449.33 L539.42,448.27 L538.70,447.17 L538.03,446.04 L537.40,444.87 L536.83,443.66 L536.24,443.43 L536.00,444.02 L536.55,445.28 L537.15,446.51 L537.80,447.71 L538.50,448.87 L539.25,450.00 L540.05,451.10 L540.91,452.16 L541.81,453.18 L542.76,454.17 L543.77,455.13Z"/><path d="M547.38,453.95 L547.63,452.59 L547.82,451.23 L547.95,449.87 L548.02,448.51 L548.03,447.15 L547.97,445.80 L547.85,444.44 L547.68,443.09 L547.44,441.75 L547.14,440.40 L546.60,440.06 L546.26,440.60 L546.50,441.91 L546.68,443.23 L546.81,444.54 L546.87,445.84 L546.88,447.15 L546.82,448.45 L546.71,449.75 L546.54,451.05 L546.31,452.35 L546.02,453.65Z"/><path d="M549.81,454.88 L550.34,453.66 L550.92,452.48 L551.54,451.32 L552.21,450.21 L552.94,449.12 L553.71,448.07 L554.53,447.05 L555.40,446.06 L556.31,445.10 L557.28,444.18 L557.32,443.55 L556.69,443.50 L555.66,444.42 L554.67,445.37 L553.74,446.35 L552.85,447.38 L552.01,448.44 L551.21,449.54 L550.47,450.68 L549.77,451.86 L549.12,453.07 L548.53,454.33Z"/><path d="M550.76,457.40 L552.13,457.22 L553.49,456.98 L554.82,456.68 L556.14,456.32 L557.43,455.91 L558.70,455.44 L559.95,454.91 L561.18,454.32 L562.39,453.68 L563.57,452.98 L563.73,452.36 L563.11,452.21 L561.94,452.84 L560.75,453.42 L559.54,453.94 L558.31,454.41 L557.07,454.81 L555.82,455.16 L554.54,455.46 L553.26,455.70 L551.95,455.88 L550.63,456.01Z"/></g>
<ellipse cx="547.7" cy="458.5" rx="3.5" ry="2.8000000000000003" fill="#8e8ad0"/>
</g>
<g >
<g fill="#a3a0dc" stroke="#a3a0dc" stroke-width="0.60" stroke-linejoin="round"><path d="M497.64,438.20 C497.42,439.36 496.93,441.12 495.99,441.88 C495.06,442.63 493.18,442.55 492.04,442.73 C490.89,442.90 489.92,443.53 489.11,442.94 C488.29,442.35 487.37,440.59 487.14,439.18 C486.91,437.77 487.16,435.61 487.75,434.50 C488.33,433.40 489.60,432.77 490.63,432.53 C491.65,432.30 492.79,432.70 493.90,433.10 C495.02,433.49 496.71,434.04 497.33,434.89 C497.95,435.74 497.87,437.03 497.64,438.20Z"/><path d="M494.91,439.99 L495.93,440.19 L496.93,440.44 L497.90,440.75 L498.85,441.10 L499.78,441.51 L500.68,441.98 L501.55,442.50 L502.41,443.07 L503.24,443.69 L504.04,444.37 L504.68,444.35 L504.66,443.71 L503.85,442.96 L503.01,442.27 L502.13,441.62 L501.23,441.03 L500.30,440.49 L499.33,440.00 L498.34,439.57 L497.31,439.20 L496.26,438.88 L495.17,438.61Z"/><path d="M492.91,440.87 L493.18,441.96 L493.50,443.01 L493.87,444.04 L494.30,445.03 L494.79,446.00 L495.33,446.93 L495.92,447.83 L496.57,448.71 L497.26,449.55 L498.01,450.36 L498.65,450.38 L498.67,449.74 L497.99,448.94 L497.37,448.11 L496.80,447.25 L496.28,446.38 L495.81,445.48 L495.40,444.55 L495.05,443.60 L494.74,442.63 L494.49,441.63 L494.29,440.61Z"/><path d="M490.89,441.14 L491.01,442.18 L491.08,443.21 L491.09,444.23 L491.04,445.24 L490.94,446.25 L490.78,447.25 L490.56,448.24 L490.28,449.23 L489.94,450.21 L489.54,451.19 L489.76,451.79 L490.36,451.57 L490.82,450.57 L491.22,449.55 L491.57,448.52 L491.85,447.48 L492.08,446.43 L492.24,445.36 L492.34,444.28 L492.38,443.19 L492.36,442.09 L492.28,440.97Z"/><path d="M489.43,439.52 L488.48,440.11 L487.57,440.74 L486.72,441.42 L485.90,442.13 L485.13,442.89 L484.41,443.69 L483.74,444.53 L483.11,445.42 L482.52,446.34 L481.98,447.30 L482.16,447.92 L482.77,447.74 L483.33,446.85 L483.92,445.99 L484.56,445.19 L485.23,444.42 L485.95,443.70 L486.70,443.03 L487.49,442.39 L488.32,441.80 L489.20,441.25 L490.11,440.75Z"/><path d="M488.54,437.68 L487.60,438.12 L486.64,438.50 L485.68,438.83 L484.70,439.10 L483.71,439.31 L482.71,439.46 L481.69,439.56 L480.67,439.60 L479.63,439.58 L478.57,439.50 L478.07,439.90 L478.46,440.40 L479.56,440.53 L480.65,440.60 L481.74,440.61 L482.82,440.56 L483.89,440.44 L484.95,440.27 L486.01,440.03 L487.06,439.73 L488.10,439.37 L489.14,438.95Z"/><path d="M489.64,435.79 L488.78,435.07 L487.90,434.40 L487.00,433.80 L486.06,433.24 L485.11,432.75 L484.12,432.31 L483.11,431.93 L482.08,431.60 L481.02,431.33 L479.93,431.12 L479.41,431.47 L479.76,432.00 L480.79,432.25 L481.78,432.56 L482.74,432.91 L483.68,433.32 L484.58,433.77 L485.46,434.28 L486.31,434.84 L487.13,435.45 L487.92,436.10 L488.68,436.81Z"/><path d="M491.11,434.38 L490.40,433.62 L489.75,432.83 L489.14,432.01 L488.58,431.16 L488.07,430.28 L487.62,429.38 L487.21,428.44 L486.86,427.48 L486.55,426.49 L486.30,425.46 L485.77,425.11 L485.42,425.63 L485.63,426.72 L485.90,427.78 L486.23,428.81 L486.61,429.82 L487.05,430.81 L487.54,431.76 L488.10,432.70 L488.70,433.60 L489.37,434.48 L490.09,435.34Z"/><path d="M493.25,434.84 L493.67,433.80 L494.03,432.76 L494.33,431.71 L494.57,430.65 L494.74,429.59 L494.86,428.52 L494.91,427.44 L494.90,426.35 L494.83,425.26 L494.70,424.16 L494.20,423.77 L493.80,424.27 L493.88,425.33 L493.90,426.37 L493.86,427.39 L493.76,428.41 L493.61,429.41 L493.40,430.40 L493.13,431.38 L492.80,432.34 L492.42,433.30 L491.98,434.24Z"/><path d="M495.05,435.81 L495.55,434.90 L496.10,434.02 L496.69,433.19 L497.33,432.40 L498.00,431.65 L498.72,430.93 L499.49,430.26 L500.29,429.62 L501.15,429.03 L502.04,428.47 L502.22,427.86 L501.60,427.68 L500.64,428.22 L499.72,428.81 L498.83,429.44 L497.99,430.11 L497.19,430.83 L496.43,431.60 L495.72,432.42 L495.04,433.27 L494.41,434.18 L493.82,435.13Z"/><path d="M495.27,437.98 L496.39,438.06 L497.49,438.08 L498.58,438.04 L499.66,437.94 L500.73,437.78 L501.78,437.55 L502.82,437.27 L503.85,436.92 L504.87,436.52 L505.87,436.06 L506.09,435.46 L505.49,435.24 L504.51,435.64 L503.53,435.98 L502.54,436.26 L501.55,436.48 L500.55,436.64 L499.54,436.74 L498.53,436.79 L497.51,436.78 L496.48,436.71 L495.44,436.59Z"/></g>
<g fill="#bcb9ec"><path d="M497.64,438.20 C497.42,439.36 496.93,441.12 495.99,441.88 C495.06,442.63 493.18,442.55 492.04,442.73 C490.89,442.90 489.92,443.53 489.11,442.94 C488.29,442.35 487.37,440.59 487.14,439.18 C486.91,437.77 487.16,435.61 487.75,434.50 C488.33,433.40 489.60,432.77 490.63,432.53 C491.65,432.30 492.79,432.70 493.90,433.10 C495.02,433.49 496.71,434.04 497.33,434.89 C497.95,435.74 497.87,437.03 497.64,438.20Z"/><path d="M494.91,439.99 L495.93,440.19 L496.93,440.44 L497.90,440.75 L498.85,441.10 L499.78,441.51 L500.68,441.98 L501.55,442.50 L502.41,443.07 L503.24,443.69 L504.04,444.37 L504.68,444.35 L504.66,443.71 L503.85,442.96 L503.01,442.27 L502.13,441.62 L501.23,441.03 L500.30,440.49 L499.33,440.00 L498.34,439.57 L497.31,439.20 L496.26,438.88 L495.17,438.61Z"/><path d="M492.91,440.87 L493.18,441.96 L493.50,443.01 L493.87,444.04 L494.30,445.03 L494.79,446.00 L495.33,446.93 L495.92,447.83 L496.57,448.71 L497.26,449.55 L498.01,450.36 L498.65,450.38 L498.67,449.74 L497.99,448.94 L497.37,448.11 L496.80,447.25 L496.28,446.38 L495.81,445.48 L495.40,444.55 L495.05,443.60 L494.74,442.63 L494.49,441.63 L494.29,440.61Z"/><path d="M490.89,441.14 L491.01,442.18 L491.08,443.21 L491.09,444.23 L491.04,445.24 L490.94,446.25 L490.78,447.25 L490.56,448.24 L490.28,449.23 L489.94,450.21 L489.54,451.19 L489.76,451.79 L490.36,451.57 L490.82,450.57 L491.22,449.55 L491.57,448.52 L491.85,447.48 L492.08,446.43 L492.24,445.36 L492.34,444.28 L492.38,443.19 L492.36,442.09 L492.28,440.97Z"/><path d="M489.43,439.52 L488.48,440.11 L487.57,440.74 L486.72,441.42 L485.90,442.13 L485.13,442.89 L484.41,443.69 L483.74,444.53 L483.11,445.42 L482.52,446.34 L481.98,447.30 L482.16,447.92 L482.77,447.74 L483.33,446.85 L483.92,445.99 L484.56,445.19 L485.23,444.42 L485.95,443.70 L486.70,443.03 L487.49,442.39 L488.32,441.80 L489.20,441.25 L490.11,440.75Z"/><path d="M488.54,437.68 L487.60,438.12 L486.64,438.50 L485.68,438.83 L484.70,439.10 L483.71,439.31 L482.71,439.46 L481.69,439.56 L480.67,439.60 L479.63,439.58 L478.57,439.50 L478.07,439.90 L478.46,440.40 L479.56,440.53 L480.65,440.60 L481.74,440.61 L482.82,440.56 L483.89,440.44 L484.95,440.27 L486.01,440.03 L487.06,439.73 L488.10,439.37 L489.14,438.95Z"/><path d="M489.64,435.79 L488.78,435.07 L487.90,434.40 L487.00,433.80 L486.06,433.24 L485.11,432.75 L484.12,432.31 L483.11,431.93 L482.08,431.60 L481.02,431.33 L479.93,431.12 L479.41,431.47 L479.76,432.00 L480.79,432.25 L481.78,432.56 L482.74,432.91 L483.68,433.32 L484.58,433.77 L485.46,434.28 L486.31,434.84 L487.13,435.45 L487.92,436.10 L488.68,436.81Z"/><path d="M491.11,434.38 L490.40,433.62 L489.75,432.83 L489.14,432.01 L488.58,431.16 L488.07,430.28 L487.62,429.38 L487.21,428.44 L486.86,427.48 L486.55,426.49 L486.30,425.46 L485.77,425.11 L485.42,425.63 L485.63,426.72 L485.90,427.78 L486.23,428.81 L486.61,429.82 L487.05,430.81 L487.54,431.76 L488.10,432.70 L488.70,433.60 L489.37,434.48 L490.09,435.34Z"/><path d="M493.25,434.84 L493.67,433.80 L494.03,432.76 L494.33,431.71 L494.57,430.65 L494.74,429.59 L494.86,428.52 L494.91,427.44 L494.90,426.35 L494.83,425.26 L494.70,424.16 L494.20,423.77 L493.80,424.27 L493.88,425.33 L493.90,426.37 L493.86,427.39 L493.76,428.41 L493.61,429.41 L493.40,430.40 L493.13,431.38 L492.80,432.34 L492.42,433.30 L491.98,434.24Z"/><path d="M495.05,435.81 L495.55,434.90 L496.10,434.02 L496.69,433.19 L497.33,432.40 L498.00,431.65 L498.72,430.93 L499.49,430.26 L500.29,429.62 L501.15,429.03 L502.04,428.47 L502.22,427.86 L501.60,427.68 L500.64,428.22 L499.72,428.81 L498.83,429.44 L497.99,430.11 L497.19,430.83 L496.43,431.60 L495.72,432.42 L495.04,433.27 L494.41,434.18 L493.82,435.13Z"/><path d="M495.27,437.98 L496.39,438.06 L497.49,438.08 L498.58,438.04 L499.66,437.94 L500.73,437.78 L501.78,437.55 L502.82,437.27 L503.85,436.92 L504.87,436.52 L505.87,436.06 L506.09,435.46 L505.49,435.24 L504.51,435.64 L503.53,435.98 L502.54,436.26 L501.55,436.48 L500.55,436.64 L499.54,436.74 L498.53,436.79 L497.51,436.78 L496.48,436.71 L495.44,436.59Z"/></g>
<ellipse cx="493.1" cy="438.3" rx="2.75" ry="2.2" fill="#8e8ad0"/>
</g>
<g >
<g fill="#a3a0dc" stroke="#a3a0dc" stroke-width="0.60" stroke-linejoin="round"><path d="M592.16,460.35 C591.85,461.39 591.34,462.85 590.65,463.68 C589.96,464.50 589.31,465.23 588.03,465.31 C586.75,465.38 583.96,464.89 582.97,464.11 C581.99,463.33 582.16,461.72 582.10,460.61 C582.05,459.50 582.19,458.30 582.66,457.46 C583.13,456.62 583.94,456.12 584.94,455.56 C585.93,455.01 587.37,453.80 588.63,454.11 C589.90,454.42 591.93,456.39 592.52,457.43 C593.11,458.48 592.47,459.31 592.16,460.35Z"/><path d="M589.63,462.60 L590.61,462.96 L591.56,463.36 L592.47,463.82 L593.35,464.32 L594.20,464.87 L595.02,465.47 L595.80,466.12 L596.56,466.81 L597.28,467.56 L597.97,468.36 L598.60,468.44 L598.68,467.81 L598.00,466.94 L597.27,466.12 L596.51,465.34 L595.71,464.62 L594.88,463.94 L594.00,463.31 L593.08,462.73 L592.13,462.20 L591.14,461.71 L590.11,461.28Z"/><path d="M587.52,463.16 L587.61,464.28 L587.77,465.37 L587.98,466.44 L588.25,467.49 L588.57,468.52 L588.96,469.52 L589.40,470.51 L589.90,471.47 L590.46,472.41 L591.08,473.33 L591.70,473.45 L591.82,472.83 L591.28,471.92 L590.79,471.00 L590.36,470.07 L589.99,469.12 L589.67,468.16 L589.41,467.18 L589.20,466.19 L589.05,465.18 L588.96,464.16 L588.92,463.11Z"/><path d="M585.48,463.11 L585.44,464.16 L585.35,465.18 L585.20,466.19 L584.99,467.18 L584.73,468.16 L584.41,469.12 L584.04,470.07 L583.61,471.00 L583.12,471.92 L582.58,472.83 L582.70,473.45 L583.32,473.33 L583.94,472.41 L584.50,471.47 L585.00,470.51 L585.44,469.52 L585.83,468.52 L586.15,467.49 L586.42,466.44 L586.63,465.37 L586.79,464.28 L586.88,463.16Z"/><path d="M584.29,461.28 L583.26,461.71 L582.27,462.20 L581.32,462.73 L580.40,463.31 L579.52,463.94 L578.69,464.62 L577.89,465.34 L577.13,466.12 L576.40,466.94 L575.72,467.81 L575.80,468.44 L576.43,468.36 L577.12,467.56 L577.84,466.81 L578.60,466.12 L579.38,465.47 L580.20,464.87 L581.05,464.32 L581.93,463.82 L582.84,463.36 L583.79,462.96 L584.77,462.60Z"/><path d="M583.71,459.33 L582.70,459.61 L581.70,459.84 L580.69,460.01 L579.69,460.12 L578.68,460.18 L577.66,460.17 L576.64,460.11 L575.62,459.99 L574.60,459.81 L573.57,459.57 L573.02,459.88 L573.33,460.43 L574.39,460.73 L575.46,460.97 L576.53,461.15 L577.60,461.27 L578.68,461.32 L579.75,461.32 L580.84,461.25 L581.92,461.12 L583.01,460.93 L584.09,460.67Z"/><path d="M585.08,457.63 L584.35,456.78 L583.59,455.99 L582.79,455.25 L581.95,454.56 L581.08,453.92 L580.18,453.33 L579.24,452.79 L578.27,452.31 L577.27,451.88 L576.23,451.50 L575.65,451.76 L575.92,452.34 L576.89,452.75 L577.83,453.21 L578.72,453.71 L579.58,454.26 L580.41,454.85 L581.19,455.49 L581.94,456.17 L582.66,456.90 L583.33,457.67 L583.98,458.49Z"/><path d="M586.76,456.47 L586.18,455.60 L585.65,454.72 L585.18,453.81 L584.76,452.89 L584.40,451.95 L584.09,450.98 L583.84,450.00 L583.64,448.99 L583.49,447.96 L583.40,446.91 L582.94,446.47 L582.50,446.94 L582.54,448.04 L582.65,449.13 L582.81,450.20 L583.03,451.26 L583.31,452.30 L583.64,453.33 L584.04,454.33 L584.50,455.33 L585.02,456.30 L585.60,457.25Z"/><path d="M588.80,457.25 L589.38,456.30 L589.90,455.33 L590.36,454.33 L590.76,453.33 L591.09,452.30 L591.37,451.26 L591.59,450.20 L591.75,449.13 L591.86,448.04 L591.90,446.94 L591.46,446.47 L591.00,446.91 L590.91,447.96 L590.76,448.99 L590.56,450.00 L590.31,450.98 L590.00,451.95 L589.64,452.89 L589.22,453.81 L588.75,454.72 L588.22,455.60 L587.64,456.47Z"/><path d="M590.42,458.49 L591.07,457.67 L591.74,456.90 L592.46,456.17 L593.21,455.49 L593.99,454.85 L594.82,454.26 L595.68,453.71 L596.57,453.21 L597.51,452.75 L598.48,452.34 L598.75,451.76 L598.17,451.50 L597.13,451.88 L596.13,452.31 L595.16,452.79 L594.22,453.33 L593.32,453.92 L592.45,454.56 L591.61,455.25 L590.81,455.99 L590.05,456.78 L589.32,457.63Z"/><path d="M590.31,460.67 L591.39,460.93 L592.48,461.12 L593.56,461.25 L594.65,461.32 L595.73,461.32 L596.80,461.27 L597.87,461.15 L598.94,460.97 L600.01,460.73 L601.07,460.43 L601.38,459.88 L600.83,459.57 L599.80,459.81 L598.78,459.99 L597.76,460.11 L596.74,460.17 L595.73,460.18 L594.71,460.12 L593.71,460.01 L592.70,459.84 L591.70,459.61 L590.69,459.33Z"/></g>
<g fill="#bcb9ec"><path d="M592.16,460.35 C591.85,461.39 591.34,462.85 590.65,463.68 C589.96,464.50 589.31,465.23 588.03,465.31 C586.75,465.38 583.96,464.89 582.97,464.11 C581.99,463.33 582.16,461.72 582.10,460.61 C582.05,459.50 582.19,458.30 582.66,457.46 C583.13,456.62 583.94,456.12 584.94,455.56 C585.93,455.01 587.37,453.80 588.63,454.11 C589.90,454.42 591.93,456.39 592.52,457.43 C593.11,458.48 592.47,459.31 592.16,460.35Z"/><path d="M589.63,462.60 L590.61,462.96 L591.56,463.36 L592.47,463.82 L593.35,464.32 L594.20,464.87 L595.02,465.47 L595.80,466.12 L596.56,466.81 L597.28,467.56 L597.97,468.36 L598.60,468.44 L598.68,467.81 L598.00,466.94 L597.27,466.12 L596.51,465.34 L595.71,464.62 L594.88,463.94 L594.00,463.31 L593.08,462.73 L592.13,462.20 L591.14,461.71 L590.11,461.28Z"/><path d="M587.52,463.16 L587.61,464.28 L587.77,465.37 L587.98,466.44 L588.25,467.49 L588.57,468.52 L588.96,469.52 L589.40,470.51 L589.90,471.47 L590.46,472.41 L591.08,473.33 L591.70,473.45 L591.82,472.83 L591.28,471.92 L590.79,471.00 L590.36,470.07 L589.99,469.12 L589.67,468.16 L589.41,467.18 L589.20,466.19 L589.05,465.18 L588.96,464.16 L588.92,463.11Z"/><path d="M585.48,463.11 L585.44,464.16 L585.35,465.18 L585.20,466.19 L584.99,467.18 L584.73,468.16 L584.41,469.12 L584.04,470.07 L583.61,471.00 L583.12,471.92 L582.58,472.83 L582.70,473.45 L583.32,473.33 L583.94,472.41 L584.50,471.47 L585.00,470.51 L585.44,469.52 L585.83,468.52 L586.15,467.49 L586.42,466.44 L586.63,465.37 L586.79,464.28 L586.88,463.16Z"/><path d="M584.29,461.28 L583.26,461.71 L582.27,462.20 L581.32,462.73 L580.40,463.31 L579.52,463.94 L578.69,464.62 L577.89,465.34 L577.13,466.12 L576.40,466.94 L575.72,467.81 L575.80,468.44 L576.43,468.36 L577.12,467.56 L577.84,466.81 L578.60,466.12 L579.38,465.47 L580.20,464.87 L581.05,464.32 L581.93,463.82 L582.84,463.36 L583.79,462.96 L584.77,462.60Z"/><path d="M583.71,459.33 L582.70,459.61 L581.70,459.84 L580.69,460.01 L579.69,460.12 L578.68,460.18 L577.66,460.17 L576.64,460.11 L575.62,459.99 L574.60,459.81 L573.57,459.57 L573.02,459.88 L573.33,460.43 L574.39,460.73 L575.46,460.97 L576.53,461.15 L577.60,461.27 L578.68,461.32 L579.75,461.32 L580.84,461.25 L581.92,461.12 L583.01,460.93 L584.09,460.67Z"/><path d="M585.08,457.63 L584.35,456.78 L583.59,455.99 L582.79,455.25 L581.95,454.56 L581.08,453.92 L580.18,453.33 L579.24,452.79 L578.27,452.31 L577.27,451.88 L576.23,451.50 L575.65,451.76 L575.92,452.34 L576.89,452.75 L577.83,453.21 L578.72,453.71 L579.58,454.26 L580.41,454.85 L581.19,455.49 L581.94,456.17 L582.66,456.90 L583.33,457.67 L583.98,458.49Z"/><path d="M586.76,456.47 L586.18,455.60 L585.65,454.72 L585.18,453.81 L584.76,452.89 L584.40,451.95 L584.09,450.98 L583.84,450.00 L583.64,448.99 L583.49,447.96 L583.40,446.91 L582.94,446.47 L582.50,446.94 L582.54,448.04 L582.65,449.13 L582.81,450.20 L583.03,451.26 L583.31,452.30 L583.64,453.33 L584.04,454.33 L584.50,455.33 L585.02,456.30 L585.60,457.25Z"/><path d="M588.80,457.25 L589.38,456.30 L589.90,455.33 L590.36,454.33 L590.76,453.33 L591.09,452.30 L591.37,451.26 L591.59,450.20 L591.75,449.13 L591.86,448.04 L591.90,446.94 L591.46,446.47 L591.00,446.91 L590.91,447.96 L590.76,448.99 L590.56,450.00 L590.31,450.98 L590.00,451.95 L589.64,452.89 L589.22,453.81 L588.75,454.72 L588.22,455.60 L587.64,456.47Z"/><path d="M590.42,458.49 L591.07,457.67 L591.74,456.90 L592.46,456.17 L593.21,455.49 L593.99,454.85 L594.82,454.26 L595.68,453.71 L596.57,453.21 L597.51,452.75 L598.48,452.34 L598.75,451.76 L598.17,451.50 L597.13,451.88 L596.13,452.31 L595.16,452.79 L594.22,453.33 L593.32,453.92 L592.45,454.56 L591.61,455.25 L590.81,455.99 L590.05,456.78 L589.32,457.63Z"/><path d="M590.31,460.67 L591.39,460.93 L592.48,461.12 L593.56,461.25 L594.65,461.32 L595.73,461.32 L596.80,461.27 L597.87,461.15 L598.94,460.97 L600.01,460.73 L601.07,460.43 L601.38,459.88 L600.83,459.57 L599.80,459.81 L598.78,459.99 L597.76,460.11 L596.74,460.17 L595.73,460.18 L594.71,460.12 L593.71,460.01 L592.70,459.84 L591.70,459.61 L590.69,459.33Z"/></g>
<ellipse cx="588.2" cy="460.5" rx="2.75" ry="2.2" fill="#8e8ad0"/>
</g>
<ellipse cx="524.50" cy="384.10" rx="10.50" ry="7.00" fill="#e33c42" stroke="#c4272e" stroke-width="0.7" transform="rotate(-8 524.50 384.10)" />
<ellipse cx="523.68" cy="384.10" rx="7.88" ry="4.90" fill="#ec5a5f" stroke="none" stroke-width="1" transform="rotate(-8 523.68 384.10)" />
<circle cx="520.40" cy="384.10" r="3.85" fill="#a8141c" stroke="#d83a40" stroke-width="0.8" />
<circle cx="519.40" cy="383.10" r="0.50" fill="#6d0a10" stroke="none" stroke-width="1" />
<circle cx="521.40" cy="383.10" r="0.50" fill="#6d0a10" stroke="none" stroke-width="1" />
<circle cx="520.40" cy="385.10" r="0.50" fill="#6d0a10" stroke="none" stroke-width="1" />
<circle cx="519.20" cy="384.70" r="0.50" fill="#6d0a10" stroke="none" stroke-width="1" />
<circle cx="521.60" cy="384.70" r="0.50" fill="#6d0a10" stroke="none" stroke-width="1" />
<ellipse cx="494.10" cy="416.50" rx="7.50" ry="10.50" fill="#e33c42" stroke="#c4272e" stroke-width="0.7" transform="rotate(15 494.10 416.50)" />
<ellipse cx="494.22" cy="415.48" rx="5.62" ry="7.35" fill="#ec5a5f" stroke="none" stroke-width="1" transform="rotate(15 494.22 415.48)" />
<circle cx="494.70" cy="411.40" r="4.12" fill="#a8141c" stroke="#d83a40" stroke-width="0.8" />
<circle cx="493.70" cy="410.40" r="0.50" fill="#6d0a10" stroke="none" stroke-width="1" />
<circle cx="495.70" cy="410.40" r="0.50" fill="#6d0a10" stroke="none" stroke-width="1" />
<circle cx="494.70" cy="412.40" r="0.50" fill="#6d0a10" stroke="none" stroke-width="1" />
<circle cx="493.50" cy="412.00" r="0.50" fill="#6d0a10" stroke="none" stroke-width="1" />
<circle cx="495.90" cy="412.00" r="0.50" fill="#6d0a10" stroke="none" stroke-width="1" />
<ellipse cx="586.20" cy="443.80" rx="7.50" ry="10.50" fill="#e33c42" stroke="#c4272e" stroke-width="0.7" transform="rotate(-10 586.20 443.80)" />
<ellipse cx="586.08" cy="443.00" rx="5.62" ry="7.35" fill="#ec5a5f" stroke="none" stroke-width="1" transform="rotate(-10 586.08 443.00)" />
<circle cx="585.60" cy="439.80" r="4.12" fill="#a8141c" stroke="#d83a40" stroke-width="0.8" />
<circle cx="584.60" cy="438.80" r="0.50" fill="#6d0a10" stroke="none" stroke-width="1" />
<circle cx="586.60" cy="438.80" r="0.50" fill="#6d0a10" stroke="none" stroke-width="1" />
<circle cx="585.60" cy="440.80" r="0.50" fill="#6d0a10" stroke="none" stroke-width="1" />
<circle cx="584.40" cy="440.40" r="0.50" fill="#6d0a10" stroke="none" stroke-width="1" />
<circle cx="586.80" cy="440.40" r="0.50" fill="#6d0a10" stroke="none" stroke-width="1" />
<ellipse cx="584.20" cy="473.20" rx="8.00" ry="10.50" fill="#e33c42" stroke="#c4272e" stroke-width="0.7" transform="rotate(15 584.20 473.20)" />
<ellipse cx="584.48" cy="472.38" rx="6.00" ry="7.35" fill="#ec5a5f" stroke="none" stroke-width="1" transform="rotate(15 584.48 472.38)" />
<circle cx="585.60" cy="469.10" r="4.40" fill="#a8141c" stroke="#d83a40" stroke-width="0.8" />
<circle cx="584.60" cy="468.10" r="0.50" fill="#6d0a10" stroke="none" stroke-width="1" />
<circle cx="586.60" cy="468.10" r="0.50" fill="#6d0a10" stroke="none" stroke-width="1" />
<circle cx="585.60" cy="470.10" r="0.50" fill="#6d0a10" stroke="none" stroke-width="1" />
<circle cx="584.40" cy="469.70" r="0.50" fill="#6d0a10" stroke="none" stroke-width="1" />
<circle cx="586.80" cy="469.70" r="0.50" fill="#6d0a10" stroke="none" stroke-width="1" />
<ellipse cx="520.40" cy="487.30" rx="8.00" ry="10.50" fill="#e33c42" stroke="#c4272e" stroke-width="0.7" transform="rotate(-15 520.40 487.30)" />
<ellipse cx="520.00" cy="486.50" rx="6.00" ry="7.35" fill="#ec5a5f" stroke="none" stroke-width="1" transform="rotate(-15 520.00 486.50)" />
<circle cx="518.40" cy="483.30" r="4.40" fill="#a8141c" stroke="#d83a40" stroke-width="0.8" />
<circle cx="517.40" cy="482.30" r="0.50" fill="#6d0a10" stroke="none" stroke-width="1" />
<circle cx="519.40" cy="482.30" r="0.50" fill="#6d0a10" stroke="none" stroke-width="1" />
<circle cx="518.40" cy="484.30" r="0.50" fill="#6d0a10" stroke="none" stroke-width="1" />
<circle cx="517.20" cy="483.90" r="0.50" fill="#6d0a10" stroke="none" stroke-width="1" />
<circle cx="519.60" cy="483.90" r="0.50" fill="#6d0a10" stroke="none" stroke-width="1" />
<path d="M585.70,414.42 L582.47,416.57 L583.04,425.19 L577.95,417.49 L574.40,424.51 L574.08,416.57 L567.51,418.11 L571.23,411.79 L569.51,407.66 L574.27,407.38 L571.78,396.36 L577.01,403.86 L581.01,395.68 L580.14,406.71 L586.53,404.57 L583.58,410.24Z" fill="#e9c040" stroke="#d4a62a" stroke-width="0.6" />
<ellipse cx="578.50" cy="413.00" rx="2.60" ry="4.50" fill="#c49a2a" stroke="none" stroke-width="1" transform="rotate(15 578.50 413.00)" />
<path d="M513.39,479.91 L507.85,482.02 L507.19,485.41 L504.03,483.11 L502.01,491.83 L500.62,484.48 L495.86,486.38 L499.10,480.08 L494.09,477.29 L498.82,475.47 L497.40,469.26 L501.92,473.68 L503.82,467.48 L505.02,473.43 L510.31,470.43 L508.37,476.31Z" fill="#e9c040" stroke="#d4a62a" stroke-width="0.6" />
<ellipse cx="504.00" cy="480.00" rx="2.20" ry="4.00" fill="#c49a2a" stroke="none" stroke-width="1" transform="rotate(15 504.00 480.00)" />
<circle cx="566.00" cy="396.30" r="6.20" fill="none" stroke="#cfa2cf" stroke-width="2.2" />
<circle cx="566.00" cy="396.30" r="6.20" fill="none" stroke="#f1f4fc" stroke-width="1.0" stroke-dasharray="2 2"/>
<circle cx="566.00" cy="396.30" r="3.60" fill="#f8f8ff" stroke="none" stroke-width="1" />
<circle cx="499.20" cy="461.00" r="6.20" fill="none" stroke="#cfa2cf" stroke-width="2.2" />
<circle cx="499.20" cy="461.00" r="6.20" fill="none" stroke="#f1f4fc" stroke-width="1.0" stroke-dasharray="2 2"/>
<circle cx="499.20" cy="461.00" r="3.60" fill="#f8f8ff" stroke="none" stroke-width="1" />
</g>
<ellipse cx="548.5" cy="439.2" rx="73.5" ry="68.2" fill="none" stroke="#8aa4d8" stroke-width="0.9"/>
<text x="549.9" y="384.5" font-size="13.2" font-weight="bold" fill="#111111" stroke="#111111" stroke-width="0.22" text-anchor="middle" >TLS</text>
<text x="579.9" y="390.3" font-size="14" font-weight="bold" fill="#111111" stroke="#111111" stroke-width="0.22" text-anchor="middle" >H</text>
<text x="597.5" y="410.2" font-size="6.58" font-weight="bold" fill="#111111" stroke="#111111" stroke-width="0.22" text-anchor="middle" >Stromal</text>
<text x="591.4" y="418.1" font-size="6.58" font-weight="bold" fill="#111111" stroke="#111111" stroke-width="0.22" text-anchor="middle" >cell</text>
<text x="594.3" y="431.4" font-size="8.36" font-weight="bold" fill="#111111" stroke="#111111" stroke-width="0.22" text-anchor="middle" >B cell</text>
<text x="604.5" y="445.4" font-size="7.11" font-weight="bold" fill="#111111" stroke="#111111" stroke-width="0.22" text-anchor="middle" >Plasma</text>
<text x="599.7" y="454.4" font-size="7.11" font-weight="bold" fill="#111111" stroke="#111111" stroke-width="0.22" text-anchor="middle" >cell</text>
<text x="489.6" y="471.6" font-size="7.73" font-weight="bold" fill="#111111" stroke="#111111" stroke-width="0.22" text-anchor="middle" >HEV</text>
<text x="566.0" y="496.2" font-size="9.2" font-weight="bold" fill="#111111" stroke="#111111" stroke-width="0.22" text-anchor="middle" >T cell</text>
<ellipse cx="481" cy="569" rx="46" ry="46" fill="url(#glow)"/>
<ellipse cx="433.0" cy="571.8" rx="73.5" ry="68.2" fill="#ebf2fc"/>
<g clip-path="url(#clipI)">
<ellipse cx="481" cy="569" rx="46" ry="46" fill="url(#glow)"/>
<ellipse cx="409.60" cy="547.10" rx="6.60" ry="8.10" fill="#b5575d" stroke="none" stroke-width="1" transform="rotate(20 409.60 547.10)" />
<ellipse cx="391.00" cy="545.80" rx="5.60" ry="4.60" fill="#b5575d" stroke="none" stroke-width="1" />
<ellipse cx="381.00" cy="554.00" rx="4.10" ry="4.10" fill="#b5575d" stroke="none" stroke-width="1" />
<ellipse cx="364.90" cy="560.70" rx="4.10" ry="3.10" fill="#b5575d" stroke="none" stroke-width="1" transform="rotate(-20 364.90 560.70)" />
<ellipse cx="424.40" cy="558.20" rx="4.60" ry="6.10" fill="#b5575d" stroke="none" stroke-width="1" />
<ellipse cx="399.60" cy="558.20" rx="8.60" ry="6.60" fill="#b5575d" stroke="none" stroke-width="1" transform="rotate(10 399.60 558.20)" />
<ellipse cx="387.20" cy="564.40" rx="8.60" ry="6.60" fill="#b5575d" stroke="none" stroke-width="1" transform="rotate(-20 387.20 564.40)" />
<ellipse cx="377.30" cy="571.90" rx="6.60" ry="5.60" fill="#b5575d" stroke="none" stroke-width="1" />
<ellipse cx="392.20" cy="574.40" rx="9.60" ry="7.60" fill="#b5575d" stroke="none" stroke-width="1" />
<ellipse cx="409.60" cy="569.40" rx="7.60" ry="8.60" fill="#b5575d" stroke="none" stroke-width="1" />
<ellipse cx="422.00" cy="575.60" rx="3.60" ry="3.60" fill="#b5575d" stroke="none" stroke-width="1" />
<ellipse cx="414.50" cy="585.50" rx="6.60" ry="6.60" fill="#b5575d" stroke="none" stroke-width="1" />
<ellipse cx="399.60" cy="589.30" rx="6.60" ry="5.60" fill="#b5575d" stroke="none" stroke-width="1" />
<ellipse cx="382.30" cy="589.30" rx="4.60" ry="3.60" fill="#b5575d" stroke="none" stroke-width="1" />
<ellipse cx="391.00" cy="596.70" rx="7.60" ry="4.60" fill="#b5575d" stroke="none" stroke-width="1" />
<ellipse cx="407.00" cy="594.20" rx="4.60" ry="4.10" fill="#b5575d" stroke="none" stroke-width="1" />
<ellipse cx="372.30" cy="562.00" rx="3.60" ry="3.60" fill="#b5575d" stroke="none" stroke-width="1" />
<ellipse cx="417.00" cy="552.00" rx="3.60" ry="3.60" fill="#b5575d" stroke="none" stroke-width="1" />
<ellipse cx="409.60" cy="547.10" rx="6.00" ry="7.50" fill="#d4777c" stroke="none" stroke-width="1" transform="rotate(20 409.60 547.10)" />
<ellipse cx="391.00" cy="545.80" rx="5.00" ry="4.00" fill="#d4777c" stroke="none" stroke-width="1" />
<ellipse cx="381.00" cy="554.00" rx="3.50" ry="3.50" fill="#d4777c" stroke="none" stroke-width="1" />
<ellipse cx="364.90" cy="560.70" rx="3.50" ry="2.50" fill="#d4777c" stroke="none" stroke-width="1" transform="rotate(-20 364.90 560.70)" />
<ellipse cx="424.40" cy="558.20" rx="4.00" ry="5.50" fill="#d4777c" stroke="none" stroke-width="1" />
<ellipse cx="399.60" cy="558.20" rx="8.00" ry="6.00" fill="#d4777c" stroke="none" stroke-width="1" transform="rotate(10 399.60 558.20)" />
<ellipse cx="387.20" cy="564.40" rx="8.00" ry="6.00" fill="#d4777c" stroke="none" stroke-width="1" transform="rotate(-20 387.20 564.40)" />
<ellipse cx="377.30" cy="571.90" rx="6.00" ry="5.00" fill="#d4777c" stroke="none" stroke-width="1" />
<ellipse cx="392.20" cy="574.40" rx="9.00" ry="7.00" fill="#d4777c" stroke="none" stroke-width="1" />
<ellipse cx="409.60" cy="569.40" rx="7.00" ry="8.00" fill="#d4777c" stroke="none" stroke-width="1" />
<ellipse cx="422.00" cy="575.60" rx="3.00" ry="3.00" fill="#d4777c" stroke="none" stroke-width="1" />
<ellipse cx="414.50" cy="585.50" rx="6.00" ry="6.00" fill="#d4777c" stroke="none" stroke-width="1" />
<ellipse cx="399.60" cy="589.30" rx="6.00" ry="5.00" fill="#d4777c" stroke="none" stroke-width="1" />
<ellipse cx="382.30" cy="589.30" rx="4.00" ry="3.00" fill="#d4777c" stroke="none" stroke-width="1" />
<ellipse cx="391.00" cy="596.70" rx="7.00" ry="4.00" fill="#d4777c" stroke="none" stroke-width="1" />
<ellipse cx="407.00" cy="594.20" rx="4.00" ry="3.50" fill="#d4777c" stroke="none" stroke-width="1" />
<ellipse cx="372.30" cy="562.00" rx="3.00" ry="3.00" fill="#d4777c" stroke="none" stroke-width="1" />
<ellipse cx="417.00" cy="552.00" rx="3.00" ry="3.00" fill="#d4777c" stroke="none" stroke-width="1" />
<ellipse cx="391.00" cy="570.60" rx="7.00" ry="5.50" fill="#ad4f56" stroke="none" stroke-width="1" transform="rotate(-20 391.00 570.60)" />
<ellipse cx="405.00" cy="564.40" rx="4.00" ry="3.50" fill="#b8585e" stroke="none" stroke-width="1" />
<ellipse cx="399.00" cy="580.00" rx="3.00" ry="2.50" fill="#b8585e" stroke="none" stroke-width="1" />
<circle cx="410.96" cy="564.67" r="0.50" fill="#9e3f46" stroke="none" stroke-width="1" />
<circle cx="385.82" cy="587.02" r="0.50" fill="#9e3f46" stroke="none" stroke-width="1" />
<circle cx="380.18" cy="571.43" r="0.50" fill="#9e3f46" stroke="none" stroke-width="1" />
<circle cx="400.11" cy="577.51" r="0.50" fill="#9e3f46" stroke="none" stroke-width="1" />
<circle cx="381.55" cy="578.38" r="0.50" fill="#9e3f46" stroke="none" stroke-width="1" />
<circle cx="397.53" cy="588.30" r="0.50" fill="#9e3f46" stroke="none" stroke-width="1" />
<circle cx="376.28" cy="593.07" r="0.50" fill="#9e3f46" stroke="none" stroke-width="1" />
<circle cx="382.77" cy="586.60" r="0.50" fill="#9e3f46" stroke="none" stroke-width="1" />
<circle cx="397.83" cy="587.61" r="0.50" fill="#9e3f46" stroke="none" stroke-width="1" />
<circle cx="383.23" cy="564.47" r="0.50" fill="#9e3f46" stroke="none" stroke-width="1" />
<circle cx="378.92" cy="585.04" r="0.50" fill="#9e3f46" stroke="none" stroke-width="1" />
<circle cx="399.03" cy="559.22" r="0.50" fill="#9e3f46" stroke="none" stroke-width="1" />
<circle cx="383.63" cy="553.64" r="0.50" fill="#9e3f46" stroke="none" stroke-width="1" />
<circle cx="384.01" cy="575.20" r="0.50" fill="#9e3f46" stroke="none" stroke-width="1" />
<rect x="429.4" y="567" width="7.4" height="5" fill="#8a4fa0"/>
<circle cx="433.80" cy="569.50" r="0.90" fill="#e0205a" stroke="none" stroke-width="1" />
<rect x="438.8" y="567.2" width="20.4" height="4.4" fill="#2f78b8"/>
<path d="M425,567.5 L462,567.5 M425,571.5 L462,571.5" fill="none" stroke="#223" stroke-width="0.5" />
<circle cx="479.50" cy="568.70" r="22.50" fill="#cfe7d0" stroke="#6daf79" stroke-width="0.9" />
<circle cx="481.50" cy="569.40" r="14.00" fill="#6eb586" stroke="#4f9a69" stroke-width="0.8" />
<path d="M467,538 C455,528 425,528 413,538" fill="none" stroke="#7b2d2d" stroke-width="1" />
<path d="M416,534 L411,539.5 L418,540 Z" fill="#7b2d2d" stroke="none" stroke-width="1" />
<path d="M467,598 C455,610 425,608 413,599" fill="none" stroke="#2f6f7a" stroke-width="1" />
<path d="M417,596 L411,598.5 L416,602.5 Z" fill="#2f6f7a" stroke="none" stroke-width="1" />
<circle cx="413.66" cy="527.66" r="0.90" fill="#8a5aa8" stroke="none" stroke-width="1" />
<circle cx="420.61" cy="522.29" r="0.90" fill="#e3a34a" stroke="none" stroke-width="1" />
<circle cx="441.90" cy="522.19" r="0.90" fill="#e3a34a" stroke="none" stroke-width="1" />
<circle cx="420.96" cy="529.05" r="0.90" fill="#6a3c90" stroke="none" stroke-width="1" />
<circle cx="416.27" cy="527.04" r="0.90" fill="#6a3c90" stroke="none" stroke-width="1" />
<circle cx="437.18" cy="519.29" r="0.90" fill="#6a3c90" stroke="none" stroke-width="1" />
<circle cx="418.03" cy="523.74" r="0.90" fill="#8a5aa8" stroke="none" stroke-width="1" />
<circle cx="431.44" cy="518.52" r="0.90" fill="#8a5aa8" stroke="none" stroke-width="1" />
<circle cx="432.70" cy="525.62" r="0.90" fill="#e3a34a" stroke="none" stroke-width="1" />
<circle cx="452.09" cy="522.01" r="0.90" fill="#6a3c90" stroke="none" stroke-width="1" />
<circle cx="442.56" cy="524.67" r="0.90" fill="#e3a34a" stroke="none" stroke-width="1" />
<circle cx="432.20" cy="518.25" r="0.90" fill="#8a5aa8" stroke="none" stroke-width="1" />
<circle cx="414.64" cy="533.21" r="0.90" fill="#8a5aa8" stroke="none" stroke-width="1" />
<circle cx="448.16" cy="518.51" r="0.90" fill="#8a5aa8" stroke="none" stroke-width="1" />
<circle cx="452.41" cy="519.93" r="0.90" fill="#6a3c90" stroke="none" stroke-width="1" />
<circle cx="457.22" cy="525.35" r="0.90" fill="#8a5aa8" stroke="none" stroke-width="1" />
<circle cx="431.14" cy="519.90" r="0.90" fill="#8a5aa8" stroke="none" stroke-width="1" />
<circle cx="439.02" cy="521.53" r="0.90" fill="#8a5aa8" stroke="none" stroke-width="1" />
<circle cx="464.91" cy="535.31" r="0.90" fill="#e3a34a" stroke="none" stroke-width="1" />
<circle cx="455.65" cy="522.70" r="0.90" fill="#e3a34a" stroke="none" stroke-width="1" />
<circle cx="443.23" cy="524.57" r="0.90" fill="#6a3c90" stroke="none" stroke-width="1" />
<circle cx="428.93" cy="519.14" r="0.90" fill="#e3a34a" stroke="none" stroke-width="1" />
<circle cx="462.73" cy="606.47" r="0.90" fill="#5bb0e0" stroke="none" stroke-width="1" />
<circle cx="464.68" cy="606.04" r="0.90" fill="#8bc47a" stroke="none" stroke-width="1" />
<circle cx="462.15" cy="607.28" r="0.90" fill="#3a8fd0" stroke="none" stroke-width="1" />
<circle cx="419.16" cy="603.53" r="0.90" fill="#8bc47a" stroke="none" stroke-width="1" />
<circle cx="437.01" cy="615.74" r="0.90" fill="#5bb0e0" stroke="none" stroke-width="1" />
<circle cx="451.56" cy="608.50" r="0.90" fill="#5bb0e0" stroke="none" stroke-width="1" />
<circle cx="419.44" cy="603.60" r="0.90" fill="#8bc47a" stroke="none" stroke-width="1" />
<circle cx="421.77" cy="612.78" r="0.90" fill="#3a8fd0" stroke="none" stroke-width="1" />
<circle cx="438.69" cy="612.95" r="0.90" fill="#5bb0e0" stroke="none" stroke-width="1" />
<circle cx="428.01" cy="609.39" r="0.90" fill="#5bb0e0" stroke="none" stroke-width="1" />
<circle cx="439.47" cy="613.90" r="0.90" fill="#3a8fd0" stroke="none" stroke-width="1" />
<circle cx="439.21" cy="615.96" r="0.90" fill="#5bb0e0" stroke="none" stroke-width="1" />
<circle cx="450.42" cy="615.95" r="0.90" fill="#3a8fd0" stroke="none" stroke-width="1" />
<circle cx="426.76" cy="612.83" r="0.90" fill="#8bc47a" stroke="none" stroke-width="1" />
<circle cx="431.83" cy="607.00" r="0.90" fill="#8bc47a" stroke="none" stroke-width="1" />
<circle cx="444.47" cy="612.12" r="0.90" fill="#3a8fd0" stroke="none" stroke-width="1" />
<circle cx="420.14" cy="607.70" r="0.90" fill="#5bb0e0" stroke="none" stroke-width="1" />
<circle cx="415.70" cy="605.70" r="0.90" fill="#3a8fd0" stroke="none" stroke-width="1" />
<circle cx="455.60" cy="613.62" r="0.90" fill="#8bc47a" stroke="none" stroke-width="1" />
<circle cx="450.22" cy="611.83" r="0.90" fill="#5bb0e0" stroke="none" stroke-width="1" />
<circle cx="450.53" cy="611.43" r="0.90" fill="#5bb0e0" stroke="none" stroke-width="1" />
<circle cx="434.68" cy="612.76" r="0.90" fill="#5bb0e0" stroke="none" stroke-width="1" />
</g>
<ellipse cx="433.0" cy="571.8" rx="73.5" ry="68.2" fill="none" stroke="#8aa4d8" stroke-width="0.9"/>
<text x="400.3" y="528.5" font-size="13" font-weight="bold" fill="#111111" stroke="#111111" stroke-width="0.22" text-anchor="middle" >I</text>
<text x="438.8" y="539.6" font-size="6.58" font-weight="normal" fill="#e0a040" stroke="#e0a040" stroke-width="0.22" text-anchor="middle" >PFN</text>
<text x="439.1" y="547.6" font-size="7.63" font-weight="normal" fill="#9b6bb5" stroke="#9b6bb5" stroke-width="0.22" text-anchor="middle" >GzmB</text>
<text x="439.0" y="594.2" font-size="6.58" font-weight="normal" fill="#3a8fd0" stroke="#3a8fd0" stroke-width="0.22" text-anchor="middle" >IFNγ</text>
<text x="438.7" y="602.9" font-size="7.63" font-weight="normal" fill="#8bc47a" stroke="#8bc47a" stroke-width="0.22" text-anchor="middle" >TNFα</text>
<text x="395.0" y="612.0" font-size="7.31" font-weight="bold" fill="#111111" stroke="#111111" stroke-width="0.22" text-anchor="middle" >Tumor</text>
<text x="395.0" y="619.8" font-size="7.31" font-weight="bold" fill="#111111" stroke="#111111" stroke-width="0.22" text-anchor="middle" >cell</text>
<text x="475.0" y="612.0" font-size="8.05" font-weight="bold" fill="#111111" stroke="#111111" stroke-width="0.22" text-anchor="middle" >Teff</text>
<ellipse cx="239.4" cy="572.0" rx="73.5" ry="68.2" fill="#ebf2fc"/>
<g clip-path="url(#clipA)">
<circle cx="264.06" cy="548.19" r="1.35" fill="#a03d7e" stroke="none" stroke-width="1" />
<circle cx="286.36" cy="546.15" r="1.23" fill="#9c3c6c" stroke="none" stroke-width="1" />
<circle cx="301.08" cy="595.19" r="0.89" fill="#d77ab0" stroke="none" stroke-width="1" />
<circle cx="294.08" cy="546.50" r="1.30" fill="#c8589a" stroke="none" stroke-width="1" />
<circle cx="261.13" cy="547.76" r="1.51" fill="#a03d7e" stroke="none" stroke-width="1" />
<circle cx="257.13" cy="547.18" r="1.11" fill="#9c3c6c" stroke="none" stroke-width="1" />
<circle cx="278.13" cy="588.62" r="1.19" fill="#c8589a" stroke="none" stroke-width="1" />
<circle cx="263.22" cy="542.47" r="0.74" fill="#c8589a" stroke="none" stroke-width="1" />
<circle cx="307.30" cy="585.95" r="1.51" fill="#9c3c6c" stroke="none" stroke-width="1" />
<circle cx="290.08" cy="588.97" r="1.25" fill="#9c3c6c" stroke="none" stroke-width="1" />
<circle cx="287.26" cy="544.76" r="1.55" fill="#a03d7e" stroke="none" stroke-width="1" />
<circle cx="278.74" cy="587.87" r="1.31" fill="#9c3c6c" stroke="none" stroke-width="1" />
<circle cx="297.02" cy="543.64" r="1.30" fill="#d88ab8" stroke="none" stroke-width="1" />
<circle cx="295.06" cy="587.78" r="0.89" fill="#a03d7e" stroke="none" stroke-width="1" />
<circle cx="307.36" cy="575.24" r="1.26" fill="#9c3c6c" stroke="none" stroke-width="1" />
<circle cx="291.16" cy="546.06" r="1.60" fill="#d88ab8" stroke="none" stroke-width="1" />
<circle cx="294.47" cy="551.13" r="1.40" fill="#9c3c6c" stroke="none" stroke-width="1" />
<circle cx="306.48" cy="598.77" r="1.44" fill="#c8589a" stroke="none" stroke-width="1" />
<circle cx="265.29" cy="586.18" r="0.84" fill="#a03d7e" stroke="none" stroke-width="1" />
<circle cx="265.20" cy="587.48" r="1.41" fill="#c8589a" stroke="none" stroke-width="1" />
<circle cx="292.07" cy="552.56" r="1.06" fill="#d77ab0" stroke="none" stroke-width="1" />
<circle cx="262.40" cy="586.05" r="1.26" fill="#9c3c6c" stroke="none" stroke-width="1" />
<circle cx="271.77" cy="592.23" r="1.32" fill="#a03d7e" stroke="none" stroke-width="1" />
<circle cx="302.98" cy="557.82" r="0.92" fill="#9c3c6c" stroke="none" stroke-width="1" />
<circle cx="304.88" cy="594.17" r="0.75" fill="#d88ab8" stroke="none" stroke-width="1" />
<circle cx="257.39" cy="589.67" r="0.88" fill="#9c3c6c" stroke="none" stroke-width="1" />
<circle cx="282.72" cy="548.10" r="1.29" fill="#d88ab8" stroke="none" stroke-width="1" />
<circle cx="268.81" cy="587.35" r="0.74" fill="#d77ab0" stroke="none" stroke-width="1" />
<circle cx="293.48" cy="550.90" r="0.86" fill="#9c3c6c" stroke="none" stroke-width="1" />
<circle cx="304.64" cy="596.23" r="0.72" fill="#d77ab0" stroke="none" stroke-width="1" />
<circle cx="259.47" cy="594.80" r="1.60" fill="#9c3c6c" stroke="none" stroke-width="1" />
<path d="M194.90,571.50 C196.49,568.73 199.32,562.89 201.50,560.90 C203.68,558.90 207.42,558.70 209.40,558.20 C211.38,557.71 212.70,557.99 214.70,557.60 C216.69,557.21 220.31,555.80 222.70,555.60 C225.08,555.40 228.22,556.30 230.60,556.30 C232.98,556.30 236.41,555.32 238.60,555.60 C240.79,555.88 243.61,556.81 245.20,558.20 C246.79,559.60 248.21,562.90 249.20,564.90 C250.19,566.89 251.22,568.92 251.80,571.50 C252.39,574.08 253.19,579.33 253.10,582.10 C253.01,584.88 250.99,587.62 251.20,590.00 C251.41,592.38 253.62,595.40 254.50,598.00 C255.38,600.60 257.10,604.91 257.10,607.30 C257.10,609.68 255.69,612.12 254.50,613.90 C253.31,615.68 250.79,618.02 249.20,619.20 C247.61,620.38 245.69,621.80 243.90,621.80 C242.12,621.80 239.69,619.59 237.30,619.20 C234.92,618.81 230.79,619.20 228.00,619.20 C225.21,619.20 221.69,619.61 218.70,619.20 C215.71,618.80 210.88,617.50 208.10,616.50 C205.32,615.50 202.18,613.88 200.20,612.50 C198.22,611.12 196.10,609.47 194.90,607.30 C193.70,605.12 192.91,600.79 192.20,598.00 C191.49,595.21 190.39,591.49 190.20,588.70 C190.00,585.91 190.19,581.98 190.90,579.40 C191.61,576.82 193.31,574.27 194.90,571.50Z" fill="#f28c8c" stroke="#f5b0b0" stroke-width="2.2" />
<path d="M194.90,571.50 C196.49,568.73 199.32,562.89 201.50,560.90 C203.68,558.90 207.42,558.70 209.40,558.20 C211.38,557.71 212.70,557.99 214.70,557.60 C216.69,557.21 220.31,555.80 222.70,555.60 C225.08,555.40 228.22,556.30 230.60,556.30 C232.98,556.30 236.41,555.32 238.60,555.60 C240.79,555.88 243.61,556.81 245.20,558.20 C246.79,559.60 248.21,562.90 249.20,564.90 C250.19,566.89 251.22,568.92 251.80,571.50 C252.39,574.08 253.19,579.33 253.10,582.10 C253.01,584.88 250.99,587.62 251.20,590.00 C251.41,592.38 253.62,595.40 254.50,598.00 C255.38,600.60 257.10,604.91 257.10,607.30 C257.10,609.68 255.69,612.12 254.50,613.90 C253.31,615.68 250.79,618.02 249.20,619.20 C247.61,620.38 245.69,621.80 243.90,621.80 C242.12,621.80 239.69,619.59 237.30,619.20 C234.92,618.81 230.79,619.20 228.00,619.20 C225.21,619.20 221.69,619.61 218.70,619.20 C215.71,618.80 210.88,617.50 208.10,616.50 C205.32,615.50 202.18,613.88 200.20,612.50 C198.22,611.12 196.10,609.47 194.90,607.30 C193.70,605.12 192.91,600.79 192.20,598.00 C191.49,595.21 190.39,591.49 190.20,588.70 C190.00,585.91 190.19,581.98 190.90,579.40 C191.61,576.82 193.31,574.27 194.90,571.50Z" fill="#f28c8c" stroke="#c8474d" stroke-width="0.7" stroke-dasharray="2 1.5"/>
<path d="M234,616 C238,612 248,612 252,616 C255,620 254,626 248,628 C242,630 236,628 233,624 C232,621 232,618 234,616 Z" fill="#f5bcbc" stroke="none" stroke-width="1" />
<circle cx="238.00" cy="618.00" r="0.45" fill="#e89090" stroke="none" stroke-width="1" />
<circle cx="244.00" cy="616.00" r="0.45" fill="#e89090" stroke="none" stroke-width="1" />
<circle cx="248.00" cy="622.00" r="0.45" fill="#e89090" stroke="none" stroke-width="1" />
<circle cx="241.00" cy="624.00" r="0.45" fill="#e89090" stroke="none" stroke-width="1" />
<path d="M232,576 C236,574 240,576 240,581 C241,587 240,593 236,597 C232,600 227,599 226,596 C224,593 228,592 230,590 C232,586 229,580 232,576 Z" fill="#e06d70" stroke="none" stroke-width="1" />
<path d="M219,580 C222,577 226,578 226,582 C227,586 224,590 220,589 C217,588 216,583 219,580 Z" fill="#e06d70" stroke="none" stroke-width="1" />
<ellipse cx="216.00" cy="575.80" rx="2.60" ry="1.80" fill="#e67a7c" stroke="none" stroke-width="1" />
<ellipse cx="219.40" cy="595.00" rx="2.00" ry="1.80" fill="#e67a7c" stroke="none" stroke-width="1" />
<path d="M198,585 C197,592 199,598 203,603" fill="none" stroke="#e57a7c" stroke-width="1.2" stroke-linecap="round"/>
<path d="M203,582 C202,590 204,597 208,602" fill="none" stroke="#e57a7c" stroke-width="1.2" stroke-linecap="round"/>
<path d="M208,590 C208,596 210,600 214,604" fill="none" stroke="#e57a7c" stroke-width="1.2" stroke-linecap="round"/>
<path d="M236,566 C241,567 245,571 247,577" fill="none" stroke="#e57a7c" stroke-width="1.2" stroke-linecap="round"/>
<path d="M244,585 C246,590 246,596 244,600" fill="none" stroke="#e57a7c" stroke-width="1.2" stroke-linecap="round"/>
<ellipse cx="184.80" cy="574.40" rx="3.60" ry="3.20" fill="#f28c8c" stroke="#d0585e" stroke-width="0.6" />
<ellipse cx="197.20" cy="558.20" rx="3.00" ry="2.60" fill="#f28c8c" stroke="#d0585e" stroke-width="0.6" />
<ellipse cx="223.30" cy="553.30" rx="3.50" ry="2.80" fill="#f28c8c" stroke="#d0585e" stroke-width="0.6" />
<ellipse cx="263.00" cy="591.70" rx="5.20" ry="5.20" fill="#f28c8c" stroke="#d0585e" stroke-width="0.6" />
<ellipse cx="191.00" cy="609.10" rx="4.00" ry="1.80" fill="#f28c8c" stroke="#d0585e" stroke-width="0.6" />
<circle cx="188.00" cy="583.00" r="0.70" fill="#f2a0a0" stroke="none" stroke-width="1" />
<circle cx="186.00" cy="590.00" r="0.70" fill="#f2a0a0" stroke="none" stroke-width="1" />
<circle cx="190.00" cy="603.00" r="0.70" fill="#f2a0a0" stroke="none" stroke-width="1" />
<circle cx="196.00" cy="568.00" r="0.70" fill="#f2a0a0" stroke="none" stroke-width="1" />
<rect x="207.1" y="541" width="4" height="12" rx="1" fill="#5b8ed0"/>
<rect x="211.7" y="541" width="4" height="12" rx="1" fill="#5b8ed0"/>
<path d="M209.1,553 L209.1,565 M213.7,553 L213.7,565" fill="none" stroke="#334" stroke-width="0.6" />
<circle cx="211.40" cy="541.60" r="2.00" fill="#d0205a" stroke="none" stroke-width="1" />
<rect x="232.5" y="541" width="4" height="12" rx="1" fill="#8a4fa0"/>
<rect x="237.1" y="541" width="4" height="12" rx="1" fill="#8a4fa0"/>
<path d="M234.5,553 L234.5,565 M239.1,553 L239.1,565" fill="none" stroke="#334" stroke-width="0.6" />
<circle cx="236.80" cy="541.60" r="2.00" fill="#d0205a" stroke="none" stroke-width="1" />
<path d="M200,533 L206,533 L210,540" fill="none" stroke="#222" stroke-width="0.6" />
<path d="M304.86,571.29 L291.91,573.37 L300.02,581.20 L286.79,578.39 L286.33,587.03 L277.72,580.31 L271.43,583.90 L269.52,577.71 L254.76,582.94 L263.04,574.05 L247.27,573.07 L263.81,568.65 L252.21,563.06 L266.15,563.98 L261.24,555.19 L272.05,560.21 L276.01,554.76 L280.30,560.97 L289.71,555.56 L289.27,562.09 L302.98,561.03 L290.24,567.91Z" fill="#c8363c" stroke="#a82026" stroke-width="0.6" />
</g>
<ellipse cx="239.4" cy="572.0" rx="73.5" ry="68.2" fill="none" stroke="#8aa4d8" stroke-width="0.9"/>
<text x="209.0" y="526.7" font-size="14" font-weight="bold" fill="#111111" stroke="#111111" stroke-width="0.22" text-anchor="middle" >A</text>
<text x="192.0" y="537.1" font-size="8.05" font-weight="bold" fill="#c0272d" stroke="#c0272d" stroke-width="0.22" text-anchor="middle" >TSA</text>
<text x="224.3" y="536.6" font-size="8.78" font-weight="bold" fill="#111111" stroke="#111111" stroke-width="0.22" text-anchor="middle" >MHC</text>
<text x="263.6" y="535.9" font-size="8.57" font-weight="bold" fill="#111111" stroke="#111111" stroke-width="0.22" text-anchor="middle" >DAMPs</text>
<text x="277.0" y="567.0" font-size="6.9" font-weight="bold" fill="#ffffff" stroke="#ffffff" stroke-width="0.22" text-anchor="middle" >Metabolic</text>
<text x="277.0" y="575.1" font-size="6.9" font-weight="bold" fill="#ffffff" stroke="#ffffff" stroke-width="0.22" text-anchor="middle" >stress</text>
<text x="275.4" y="606.6" font-size="8.36" font-weight="bold" fill="#111111" stroke="#111111" stroke-width="0.22" text-anchor="middle" >Tumor</text>
<text x="276.9" y="615.3" font-size="8.36" font-weight="bold" fill="#111111" stroke="#111111" stroke-width="0.22" text-anchor="middle" >antigen</text>
<text x="231.7" y="632.0" font-size="8.15" font-weight="bold" fill="#111111" stroke="#111111" stroke-width="0.22" text-anchor="middle" >Tumor cell</text>
<ellipse cx="118.5" cy="436.4" rx="73.5" ry="68.2" fill="#ebf2fc"/>
<g clip-path="url(#clipB)">
<ellipse cx="79.90" cy="413.60" rx="26.20" ry="26.50" fill="#b7b0e2" stroke="#8f87cd" stroke-width="0.9" />
<ellipse cx="83.00" cy="416.00" rx="15.50" ry="18.00" fill="#a395d6" stroke="none" stroke-width="1" transform="rotate(-15 83.00 416.00)" />
<circle cx="80.76" cy="434.60" r="0.90" fill="#9a90d0" stroke="none" stroke-width="1" />
<circle cx="91.95" cy="433.11" r="0.90" fill="#9a90d0" stroke="none" stroke-width="1" />
<circle cx="82.39" cy="434.77" r="0.90" fill="#9a90d0" stroke="none" stroke-width="1" />
<circle cx="98.14" cy="404.50" r="0.90" fill="#9a90d0" stroke="none" stroke-width="1" />
<circle cx="101.83" cy="409.11" r="0.90" fill="#9a90d0" stroke="none" stroke-width="1" />
<circle cx="59.11" cy="407.12" r="0.90" fill="#9a90d0" stroke="none" stroke-width="1" />
<circle cx="62.61" cy="403.22" r="0.90" fill="#9a90d0" stroke="none" stroke-width="1" />
<circle cx="100.32" cy="413.18" r="0.90" fill="#9a90d0" stroke="none" stroke-width="1" />
<circle cx="102.90" cy="411.25" r="0.90" fill="#9a90d0" stroke="none" stroke-width="1" />
<circle cx="99.14" cy="417.06" r="0.90" fill="#9a90d0" stroke="none" stroke-width="1" />
<circle cx="57.24" cy="416.79" r="0.90" fill="#9a90d0" stroke="none" stroke-width="1" />
<circle cx="89.43" cy="433.09" r="0.90" fill="#9a90d0" stroke="none" stroke-width="1" />
<circle cx="64.64" cy="430.43" r="0.90" fill="#9a90d0" stroke="none" stroke-width="1" />
<circle cx="100.10" cy="403.53" r="0.90" fill="#9a90d0" stroke="none" stroke-width="1" />
<circle cx="87.77" cy="434.74" r="0.90" fill="#9a90d0" stroke="none" stroke-width="1" />
<circle cx="58.59" cy="422.32" r="0.90" fill="#9a90d0" stroke="none" stroke-width="1" />
<circle cx="56.87" cy="417.98" r="0.90" fill="#9a90d0" stroke="none" stroke-width="1" />
<circle cx="102.76" cy="411.60" r="0.90" fill="#9a90d0" stroke="none" stroke-width="1" />
<path d="M79.90,444.80 C80.85,444.05 82.70,443.05 84.36,442.77 C86.01,442.49 88.09,443.21 89.83,443.13 C91.57,443.05 92.96,442.59 94.80,442.30 C96.64,442.01 98.91,441.28 100.85,441.42 C102.80,441.55 104.56,442.75 106.47,443.10 C108.37,443.45 111.00,443.40 112.30,443.50 C113.60,443.60 113.86,443.28 114.28,443.70 C114.69,444.12 114.48,445.43 114.77,446.03 C115.05,446.63 116.14,446.84 116.00,447.30 C115.86,447.76 114.91,447.97 113.94,448.81 C112.97,449.64 111.31,451.30 110.20,452.30 C109.09,453.30 107.78,454.00 107.30,454.80 C106.82,455.60 107.60,456.02 107.33,457.12 C107.05,458.22 106.05,460.14 105.63,461.40 C105.21,462.66 104.52,463.64 104.80,464.70 C105.08,465.76 106.92,466.67 107.34,467.78 C107.76,468.90 107.12,470.21 107.33,471.37 C107.54,472.52 107.70,473.93 108.60,474.70 C109.50,475.47 111.76,475.69 112.72,475.97 C113.69,476.25 113.64,476.16 114.40,476.37 C115.16,476.57 116.13,476.85 117.30,477.20 C118.47,477.55 120.47,478.17 121.43,478.44 C122.40,478.72 122.34,478.66 123.10,478.87 C123.86,479.08 125.38,479.06 126.00,479.70 C126.62,480.34 126.94,481.86 126.80,482.70 C126.67,483.53 125.53,483.95 125.20,484.70 C124.87,485.45 125.25,486.38 124.80,487.20 C124.35,488.02 123.62,489.08 122.51,489.64 C121.40,490.20 119.42,490.11 118.13,490.53 C116.85,490.96 115.79,491.46 114.80,492.20 C113.81,492.94 113.28,494.40 112.17,494.96 C111.06,495.51 109.36,495.16 108.13,495.53 C106.90,495.91 106.01,496.57 104.80,497.20 C103.59,497.83 102.23,499.04 100.85,499.32 C99.46,499.59 97.89,498.80 96.47,498.87 C95.04,498.93 93.60,499.56 92.30,499.70 C91.00,499.84 89.79,500.12 88.69,499.70 C87.59,499.27 86.75,497.80 85.70,497.17 C84.65,496.53 83.42,496.42 82.40,495.90 C81.38,495.38 80.27,495.04 79.57,494.07 C78.87,493.11 78.78,491.25 78.20,490.10 C77.62,488.95 76.77,488.26 76.10,487.20 C75.43,486.14 74.44,485.11 74.17,483.73 C73.89,482.34 74.53,480.37 74.43,478.87 C74.34,477.36 73.88,476.08 73.60,474.70 C73.32,473.32 72.59,471.95 72.73,470.56 C72.88,469.18 74.11,467.76 74.47,466.37 C74.83,464.97 74.95,463.55 74.90,462.20 C74.85,460.85 74.02,459.39 74.15,458.29 C74.29,457.19 75.38,456.60 75.70,455.60 C76.02,454.60 75.97,453.43 76.10,452.30 C76.23,451.17 76.06,449.68 76.49,448.84 C76.91,448.01 78.06,447.97 78.63,447.30 C79.20,446.63 78.95,445.55 79.90,444.80Z" fill="#7369c0" stroke="#564ca2" stroke-width="0.8" />
<ellipse cx="94.30" cy="469.70" rx="10.00" ry="13.00" fill="#433b86" stroke="none" stroke-width="1" transform="rotate(10 94.30 469.70)" />
<circle cx="86.00" cy="452.00" r="1.30" fill="#a9a2dc" stroke="none" stroke-width="1" />
<circle cx="112.00" cy="490.00" r="1.30" fill="#a9a2dc" stroke="none" stroke-width="1" />
<circle cx="80.00" cy="488.00" r="1.30" fill="#a9a2dc" stroke="none" stroke-width="1" />
<circle cx="100.00" cy="448.00" r="1.30" fill="#a9a2dc" stroke="none" stroke-width="1" />
<path d="M126,418 C132,410 142,412 146,416 C152,412 160,414 162,422 C168,424 172,432 170,440 C174,446 172,454 166,458 C164,466 156,470 150,466 C144,470 136,468 134,462 C126,462 120,456 122,450 C116,446 116,438 122,434 C118,428 120,420 126,418 Z" fill="#f3a2a2" stroke="#e38384" stroke-width="0.6" />
<path d="M157.92,446.00 C157.94,447.81 157.81,449.91 156.97,451.47 C156.13,453.02 154.46,454.42 152.89,455.33 C151.31,456.23 149.23,457.00 147.50,456.90 C145.77,456.79 144.03,455.62 142.48,454.70 C140.93,453.78 139.35,452.82 138.20,451.37 C137.05,449.92 135.54,447.77 135.58,446.00 C135.62,444.23 137.41,442.44 138.43,440.76 C139.45,439.09 140.20,436.90 141.71,435.97 C143.22,435.03 145.61,435.07 147.50,435.15 C149.39,435.22 151.48,435.50 153.04,436.40 C154.60,437.31 156.05,438.99 156.87,440.59 C157.68,442.19 157.90,444.19 157.92,446.00Z" fill="#db777b" stroke="none" stroke-width="1" />
<circle cx="141.70" cy="407.00" r="3.50" fill="#f3a2a2" stroke="#e38384" stroke-width="0.5" />
<circle cx="154.00" cy="418.00" r="2.50" fill="#f3a2a2" stroke="#e38384" stroke-width="0.5" />
<circle cx="166.70" cy="421.00" r="2.00" fill="#f3a2a2" stroke="#e38384" stroke-width="0.5" />
<circle cx="172.00" cy="434.00" r="3.50" fill="#f3a2a2" stroke="#e38384" stroke-width="0.5" />
<circle cx="120.00" cy="458.00" r="3.50" fill="#f3a2a2" stroke="#e38384" stroke-width="0.5" />
<circle cx="150.00" cy="474.00" r="3.00" fill="#f3a2a2" stroke="#e38384" stroke-width="0.5" />
<circle cx="168.00" cy="462.00" r="2.50" fill="#f3a2a2" stroke="#e38384" stroke-width="0.5" />
<circle cx="155.03" cy="427.45" r="0.45" fill="#d06a70" stroke="none" stroke-width="1" />
<circle cx="144.57" cy="440.09" r="0.45" fill="#d06a70" stroke="none" stroke-width="1" />
<circle cx="156.75" cy="441.19" r="0.45" fill="#d06a70" stroke="none" stroke-width="1" />
<circle cx="156.14" cy="442.88" r="0.45" fill="#d06a70" stroke="none" stroke-width="1" />
<circle cx="144.04" cy="444.05" r="0.45" fill="#d06a70" stroke="none" stroke-width="1" />
<circle cx="149.67" cy="441.45" r="0.45" fill="#d06a70" stroke="none" stroke-width="1" />
<circle cx="156.56" cy="435.77" r="0.45" fill="#d06a70" stroke="none" stroke-width="1" />
<circle cx="150.61" cy="448.46" r="0.45" fill="#d06a70" stroke="none" stroke-width="1" />
<circle cx="145.26" cy="442.72" r="0.45" fill="#d06a70" stroke="none" stroke-width="1" />
<circle cx="148.56" cy="429.01" r="0.45" fill="#d06a70" stroke="none" stroke-width="1" />
<circle cx="164.00" cy="440.16" r="0.45" fill="#d06a70" stroke="none" stroke-width="1" />
<circle cx="151.96" cy="422.57" r="0.45" fill="#d06a70" stroke="none" stroke-width="1" />
<circle cx="159.22" cy="436.65" r="0.45" fill="#d06a70" stroke="none" stroke-width="1" />
<circle cx="137.34" cy="439.44" r="0.45" fill="#d06a70" stroke="none" stroke-width="1" />
<circle cx="154.72" cy="424.96" r="0.45" fill="#d06a70" stroke="none" stroke-width="1" />
<circle cx="155.63" cy="427.32" r="0.45" fill="#d06a70" stroke="none" stroke-width="1" />
<circle cx="155.79" cy="443.44" r="0.45" fill="#d06a70" stroke="none" stroke-width="1" />
<circle cx="157.49" cy="448.10" r="0.45" fill="#d06a70" stroke="none" stroke-width="1" />
<circle cx="137.68" cy="436.59" r="0.45" fill="#d06a70" stroke="none" stroke-width="1" />
<circle cx="150.32" cy="438.50" r="0.45" fill="#d06a70" stroke="none" stroke-width="1" />
<circle cx="145.94" cy="430.38" r="0.45" fill="#d06a70" stroke="none" stroke-width="1" />
<circle cx="152.00" cy="461.05" r="0.45" fill="#d06a70" stroke="none" stroke-width="1" />
<circle cx="156.28" cy="445.07" r="0.45" fill="#d06a70" stroke="none" stroke-width="1" />
<circle cx="135.89" cy="439.36" r="0.45" fill="#d06a70" stroke="none" stroke-width="1" />
<circle cx="158.46" cy="440.76" r="0.45" fill="#d06a70" stroke="none" stroke-width="1" />
<circle cx="151.96" cy="438.15" r="0.45" fill="#d06a70" stroke="none" stroke-width="1" />
<circle cx="144.58" cy="442.34" r="0.45" fill="#d06a70" stroke="none" stroke-width="1" />
<circle cx="142.10" cy="435.50" r="0.45" fill="#d06a70" stroke="none" stroke-width="1" />
<circle cx="147.99" cy="439.80" r="0.45" fill="#d06a70" stroke="none" stroke-width="1" />
<circle cx="128.81" cy="446.27" r="0.45" fill="#d06a70" stroke="none" stroke-width="1" />
<path d="M112,400 C122,396 134,398 140,408" fill="none" stroke="#7a2a30" stroke-width="0.7" />
<circle cx="116.00" cy="397.00" r="0.90" fill="#b83038" stroke="none" stroke-width="1" />
<circle cx="119.00" cy="402.00" r="0.90" fill="#b83038" stroke="none" stroke-width="1" />
<circle cx="123.00" cy="399.00" r="0.90" fill="#b83038" stroke="none" stroke-width="1" />
<circle cx="126.00" cy="404.00" r="0.90" fill="#b83038" stroke="none" stroke-width="1" />
<circle cx="129.00" cy="397.00" r="0.90" fill="#b83038" stroke="none" stroke-width="1" />
<circle cx="132.00" cy="402.00" r="0.90" fill="#b83038" stroke="none" stroke-width="1" />
<circle cx="135.00" cy="406.00" r="0.90" fill="#b83038" stroke="none" stroke-width="1" />
<circle cx="124.00" cy="394.00" r="0.90" fill="#b83038" stroke="none" stroke-width="1" />
<circle cx="130.00" cy="393.00" r="0.90" fill="#b83038" stroke="none" stroke-width="1" />
<path d="M104,411.5 L120.5,413.5" fill="none" stroke="#2a7a90" stroke-width="0.8" />
<path d="M119.5,410.5 C119.5,416.5 125.5,416.5 125.5,410.5" fill="none" stroke="#2c88b8" stroke-width="2.2" />
<circle cx="124.50" cy="414.50" r="1.60" fill="#d03040" stroke="none" stroke-width="1" />
<path d="M104,424 L119,426" fill="none" stroke="#2a7a90" stroke-width="0.8" />
<path d="M118,423 C118,429 124,429 124,423" fill="none" stroke="#2c88b8" stroke-width="2.2" />
<circle cx="123.00" cy="427.00" r="1.60" fill="#d03040" stroke="none" stroke-width="1" />
<path d="M104,432 L114,434" fill="none" stroke="#2a7a90" stroke-width="0.8" />
<path d="M113,431 C113,437 119,437 119,431" fill="none" stroke="#2c88b8" stroke-width="2.2" />
<circle cx="118.00" cy="435.00" r="1.60" fill="#d03040" stroke="none" stroke-width="1" />
<path d="M121,476 L125,462" fill="none" stroke="#444" stroke-width="0.6" />
<rect x="121.5" y="460" width="5" height="5" fill="#cbc3ea" stroke="#8f87cd" stroke-width="0.5"/>
<circle cx="128.00" cy="466.00" r="1.40" fill="#d04050" stroke="none" stroke-width="1" />
<path d="M132,480 L138,484 M135,487 L139,483" fill="none" stroke="#c78abd" stroke-width="1.2" />
<circle cx="143.00" cy="481.00" r="1.60" fill="#d03040" stroke="none" stroke-width="1" />
</g>
<ellipse cx="118.5" cy="436.4" rx="73.5" ry="68.2" fill="none" stroke="#8aa4d8" stroke-width="0.9"/>
<text x="117.9" y="384.6" font-size="14.8" font-weight="bold" fill="#111111" stroke="#111111" stroke-width="0.22" text-anchor="middle" >B</text>
<text x="95.2" y="385.4" font-size="7.11" font-weight="bold" fill="#111111" stroke="#111111" stroke-width="0.22" text-anchor="middle" >NK cell</text>
<text x="135.1" y="382.0" font-size="7.11" font-weight="bold" fill="#8b2530" stroke="#8b2530" stroke-width="0.22" text-anchor="middle" >PRF/</text>
<text x="134.8" y="388.2" font-size="7.11" font-weight="bold" fill="#8b2530" stroke="#8b2530" stroke-width="0.22" text-anchor="middle" >GzmB</text>
<text x="161.3" y="402.9" font-size="7.11" font-weight="bold" fill="#111111" stroke="#111111" stroke-width="0.22" text-anchor="middle" >Tumor</text>
<text x="161.5" y="409.9" font-size="7.11" font-weight="bold" fill="#111111" stroke="#111111" stroke-width="0.22" text-anchor="middle" >cell</text>
<text x="71.2" y="460.2" font-size="7.52" font-weight="bold" fill="#111111" stroke="#111111" stroke-width="0.22" text-anchor="middle" >M1</text>
<ellipse cx="76.3" cy="269.8" rx="73.5" ry="68.2" fill="#ebf2fc"/>
<g clip-path="url(#clipC)">
<g >
<g fill="#9c98d8" stroke="#9c98d8" stroke-width="0.90" stroke-linejoin="round"><path d="M105.50,238.33 C104.36,241.43 102.11,245.29 99.56,247.49 C97.02,249.69 93.28,251.12 90.23,251.52 C87.17,251.91 83.90,251.48 81.23,249.88 C78.56,248.28 75.14,244.85 74.22,241.89 C73.30,238.93 74.26,235.41 75.71,232.11 C77.16,228.81 79.99,223.54 82.92,222.08 C85.86,220.61 89.42,222.17 93.33,223.31 C97.25,224.44 104.40,226.39 106.43,228.89 C108.46,231.40 106.65,235.23 105.50,238.33Z"/><path d="M93.64,228.78 L94.16,226.42 L94.60,224.07 L94.95,221.71 L95.22,219.35 L95.40,216.99 L95.50,214.63 L95.52,212.26 L95.46,209.90 L95.32,207.54 L95.10,205.17 L93.83,204.04 L92.70,205.31 L92.66,207.59 L92.54,209.86 L92.35,212.12 L92.08,214.35 L91.73,216.56 L91.30,218.76 L90.80,220.93 L90.22,223.09 L89.57,225.23 L88.85,227.36Z"/><path d="M82.06,230.17 L80.03,229.48 L78.02,228.73 L76.05,227.90 L74.10,227.00 L72.19,226.04 L70.31,225.00 L68.45,223.88 L66.63,222.70 L64.84,221.44 L63.08,220.10 L61.39,220.20 L61.49,221.90 L63.15,223.49 L64.85,225.01 L66.61,226.47 L68.41,227.87 L70.26,229.20 L72.17,230.46 L74.12,231.65 L76.12,232.78 L78.17,233.84 L80.27,234.83Z"/><path d="M80.02,237.14 L78.16,237.48 L76.33,237.90 L74.54,238.40 L72.78,238.98 L71.06,239.64 L69.37,240.37 L67.72,241.17 L66.11,242.06 L64.53,243.01 L62.99,244.04 L62.58,245.69 L64.22,246.10 L65.80,245.35 L67.38,244.68 L68.98,244.09 L70.59,243.58 L72.21,243.15 L73.84,242.80 L75.48,242.52 L77.13,242.31 L78.79,242.18 L80.47,242.12Z"/><path d="M80.46,241.60 L79.21,243.48 L77.89,245.30 L76.53,247.07 L75.10,248.79 L73.61,250.46 L72.07,252.08 L70.46,253.64 L68.80,255.16 L67.08,256.62 L65.29,258.03 L64.97,259.70 L66.64,260.02 L68.64,258.77 L70.60,257.46 L72.51,256.08 L74.37,254.63 L76.18,253.12 L77.95,251.54 L79.66,249.90 L81.32,248.18 L82.94,246.40 L84.50,244.56Z"/><path d="M87.68,228.65 L87.26,227.17 L86.77,225.74 L86.20,224.37 L85.56,223.04 L84.85,221.77 L84.07,220.56 L83.22,219.39 L82.30,218.29 L81.32,217.23 L80.27,216.23 L78.58,216.16 L78.51,217.86 L79.26,218.92 L79.94,220.01 L80.54,221.11 L81.07,222.24 L81.52,223.39 L81.90,224.56 L82.21,225.75 L82.46,226.96 L82.63,228.20 L82.74,229.46Z"/><path d="M99.82,232.41 L100.49,231.15 L101.21,229.94 L101.99,228.78 L102.82,227.67 L103.71,226.60 L104.65,225.58 L105.66,224.61 L106.73,223.69 L107.86,222.81 L109.05,221.99 L109.55,220.36 L107.93,219.87 L106.49,220.53 L105.09,221.27 L103.74,222.08 L102.43,222.96 L101.17,223.91 L99.95,224.94 L98.78,226.04 L97.66,227.21 L96.59,228.46 L95.57,229.78Z"/><path d="M100.12,236.68 L102.62,236.09 L105.09,235.41 L107.53,234.66 L109.93,233.84 L112.30,232.93 L114.64,231.96 L116.95,230.91 L119.22,229.78 L121.46,228.58 L123.66,227.31 L124.16,225.68 L122.53,225.19 L120.28,226.19 L118.01,227.12 L115.73,227.97 L113.43,228.74 L111.11,229.43 L108.78,230.05 L106.43,230.59 L104.06,231.05 L101.68,231.44 L99.28,231.75Z"/><path d="M100.14,240.75 L102.56,240.63 L104.97,240.58 L107.38,240.61 L109.79,240.71 L112.20,240.89 L114.60,241.16 L117.01,241.50 L119.41,241.92 L121.80,242.42 L124.20,243.00 L125.70,242.22 L124.92,240.71 L122.53,239.86 L120.11,239.09 L117.67,238.39 L115.22,237.77 L112.74,237.23 L110.24,236.78 L107.73,236.40 L105.19,236.10 L102.64,235.89 L100.07,235.75Z"/><path d="M96.46,243.69 L97.69,244.93 L98.96,246.09 L100.27,247.17 L101.63,248.18 L103.02,249.10 L104.45,249.95 L105.92,250.73 L107.42,251.42 L108.96,252.04 L110.54,252.59 L112.10,251.93 L111.44,250.37 L110.09,249.63 L108.79,248.84 L107.55,248.00 L106.36,247.09 L105.23,246.13 L104.15,245.12 L103.12,244.06 L102.14,242.94 L101.21,241.76 L100.33,240.53Z"/></g>
<g fill="#b9b6e9"><path d="M105.50,238.33 C104.36,241.43 102.11,245.29 99.56,247.49 C97.02,249.69 93.28,251.12 90.23,251.52 C87.17,251.91 83.90,251.48 81.23,249.88 C78.56,248.28 75.14,244.85 74.22,241.89 C73.30,238.93 74.26,235.41 75.71,232.11 C77.16,228.81 79.99,223.54 82.92,222.08 C85.86,220.61 89.42,222.17 93.33,223.31 C97.25,224.44 104.40,226.39 106.43,228.89 C108.46,231.40 106.65,235.23 105.50,238.33Z"/><path d="M93.64,228.78 L94.16,226.42 L94.60,224.07 L94.95,221.71 L95.22,219.35 L95.40,216.99 L95.50,214.63 L95.52,212.26 L95.46,209.90 L95.32,207.54 L95.10,205.17 L93.83,204.04 L92.70,205.31 L92.66,207.59 L92.54,209.86 L92.35,212.12 L92.08,214.35 L91.73,216.56 L91.30,218.76 L90.80,220.93 L90.22,223.09 L89.57,225.23 L88.85,227.36Z"/><path d="M82.06,230.17 L80.03,229.48 L78.02,228.73 L76.05,227.90 L74.10,227.00 L72.19,226.04 L70.31,225.00 L68.45,223.88 L66.63,222.70 L64.84,221.44 L63.08,220.10 L61.39,220.20 L61.49,221.90 L63.15,223.49 L64.85,225.01 L66.61,226.47 L68.41,227.87 L70.26,229.20 L72.17,230.46 L74.12,231.65 L76.12,232.78 L78.17,233.84 L80.27,234.83Z"/><path d="M80.02,237.14 L78.16,237.48 L76.33,237.90 L74.54,238.40 L72.78,238.98 L71.06,239.64 L69.37,240.37 L67.72,241.17 L66.11,242.06 L64.53,243.01 L62.99,244.04 L62.58,245.69 L64.22,246.10 L65.80,245.35 L67.38,244.68 L68.98,244.09 L70.59,243.58 L72.21,243.15 L73.84,242.80 L75.48,242.52 L77.13,242.31 L78.79,242.18 L80.47,242.12Z"/><path d="M80.46,241.60 L79.21,243.48 L77.89,245.30 L76.53,247.07 L75.10,248.79 L73.61,250.46 L72.07,252.08 L70.46,253.64 L68.80,255.16 L67.08,256.62 L65.29,258.03 L64.97,259.70 L66.64,260.02 L68.64,258.77 L70.60,257.46 L72.51,256.08 L74.37,254.63 L76.18,253.12 L77.95,251.54 L79.66,249.90 L81.32,248.18 L82.94,246.40 L84.50,244.56Z"/><path d="M87.68,228.65 L87.26,227.17 L86.77,225.74 L86.20,224.37 L85.56,223.04 L84.85,221.77 L84.07,220.56 L83.22,219.39 L82.30,218.29 L81.32,217.23 L80.27,216.23 L78.58,216.16 L78.51,217.86 L79.26,218.92 L79.94,220.01 L80.54,221.11 L81.07,222.24 L81.52,223.39 L81.90,224.56 L82.21,225.75 L82.46,226.96 L82.63,228.20 L82.74,229.46Z"/><path d="M99.82,232.41 L100.49,231.15 L101.21,229.94 L101.99,228.78 L102.82,227.67 L103.71,226.60 L104.65,225.58 L105.66,224.61 L106.73,223.69 L107.86,222.81 L109.05,221.99 L109.55,220.36 L107.93,219.87 L106.49,220.53 L105.09,221.27 L103.74,222.08 L102.43,222.96 L101.17,223.91 L99.95,224.94 L98.78,226.04 L97.66,227.21 L96.59,228.46 L95.57,229.78Z"/><path d="M100.12,236.68 L102.62,236.09 L105.09,235.41 L107.53,234.66 L109.93,233.84 L112.30,232.93 L114.64,231.96 L116.95,230.91 L119.22,229.78 L121.46,228.58 L123.66,227.31 L124.16,225.68 L122.53,225.19 L120.28,226.19 L118.01,227.12 L115.73,227.97 L113.43,228.74 L111.11,229.43 L108.78,230.05 L106.43,230.59 L104.06,231.05 L101.68,231.44 L99.28,231.75Z"/><path d="M100.14,240.75 L102.56,240.63 L104.97,240.58 L107.38,240.61 L109.79,240.71 L112.20,240.89 L114.60,241.16 L117.01,241.50 L119.41,241.92 L121.80,242.42 L124.20,243.00 L125.70,242.22 L124.92,240.71 L122.53,239.86 L120.11,239.09 L117.67,238.39 L115.22,237.77 L112.74,237.23 L110.24,236.78 L107.73,236.40 L105.19,236.10 L102.64,235.89 L100.07,235.75Z"/><path d="M96.46,243.69 L97.69,244.93 L98.96,246.09 L100.27,247.17 L101.63,248.18 L103.02,249.10 L104.45,249.95 L105.92,250.73 L107.42,251.42 L108.96,252.04 L110.54,252.59 L112.10,251.93 L111.44,250.37 L110.09,249.63 L108.79,248.84 L107.55,248.00 L106.36,247.09 L105.23,246.13 L104.15,245.12 L103.12,244.06 L102.14,242.94 L101.21,241.76 L100.33,240.53Z"/></g>
<ellipse cx="90" cy="234" rx="11" ry="9" fill="#9d99d4"/>
</g>
<ellipse cx="97.00" cy="256.00" rx="6.00" ry="5.00" fill="#f3f6fd" stroke="#9c98d8" stroke-width="0.5" />
<path d="M42.4,288.6 L26.5,303" fill="none" stroke="#d3d5f1" stroke-width="4" stroke-linecap="round"/>
<path d="M42.4,288.6 L76.8,311" fill="none" stroke="#d3d5f1" stroke-width="4" stroke-linecap="round"/>
<path d="M42.4,288.6 L71.5,279.3" fill="none" stroke="#d3d5f1" stroke-width="4" stroke-linecap="round"/>
<path d="M42.4,288.6 L55,262" fill="none" stroke="#d3d5f1" stroke-width="4" stroke-linecap="round"/>
<g >
<g fill="#9c98d8" stroke="#9c98d8" stroke-width="0.90" stroke-linejoin="round"><path d="M62.35,290.11 C62.50,294.47 59.30,299.84 56.40,302.69 C53.49,305.53 49.29,307.42 44.91,307.18 C40.53,306.94 33.47,303.83 30.12,301.25 C26.77,298.67 25.40,295.35 24.79,291.69 C24.19,288.03 25.02,283.02 26.50,279.29 C27.97,275.56 30.46,270.82 33.67,269.31 C36.88,267.81 42.14,269.05 45.77,270.25 C49.41,271.46 52.72,273.24 55.48,276.55 C58.25,279.86 62.20,285.75 62.35,290.11Z"/><path d="M32.16,285.65 L29.93,285.44 L27.70,285.32 L25.49,285.28 L23.29,285.32 L21.10,285.45 L18.92,285.66 L16.76,285.96 L14.61,286.33 L12.48,286.79 L10.36,287.32 L9.32,288.84 L10.84,289.88 L12.92,289.69 L14.99,289.59 L17.04,289.56 L19.08,289.62 L21.10,289.75 L23.11,289.96 L25.11,290.24 L27.10,290.60 L29.07,291.04 L31.04,291.55Z"/><path d="M39.82,276.01 L38.45,274.53 L37.13,273.01 L35.87,271.44 L34.68,269.82 L33.55,268.16 L32.48,266.46 L31.47,264.71 L30.53,262.91 L29.65,261.06 L28.84,259.16 L27.21,258.31 L26.36,259.94 L26.88,262.04 L27.49,264.12 L28.17,266.18 L28.93,268.20 L29.76,270.20 L30.68,272.18 L31.68,274.13 L32.77,276.05 L33.93,277.94 L35.17,279.80Z"/><path d="M46.57,277.62 L47.07,275.40 L47.48,273.17 L47.81,270.95 L48.05,268.73 L48.21,266.52 L48.29,264.30 L48.28,262.09 L48.18,259.88 L48.01,257.68 L47.76,255.47 L46.38,254.25 L45.16,255.62 L45.07,257.74 L44.91,259.83 L44.66,261.90 L44.34,263.94 L43.95,265.96 L43.48,267.97 L42.93,269.95 L42.32,271.90 L41.63,273.84 L40.86,275.76Z"/><path d="M52.80,282.71 L54.33,280.77 L55.92,278.88 L57.57,277.05 L59.28,275.26 L61.04,273.53 L62.86,271.84 L64.75,270.21 L66.69,268.64 L68.70,267.11 L70.76,265.64 L71.22,263.86 L69.43,263.41 L67.12,264.63 L64.85,265.93 L62.62,267.29 L60.43,268.72 L58.30,270.22 L56.20,271.78 L54.16,273.42 L52.16,275.12 L50.20,276.90 L48.30,278.75Z"/><path d="M35.69,297.97 L34.53,300.07 L33.44,302.20 L32.43,304.36 L31.51,306.53 L30.67,308.73 L29.91,310.95 L29.22,313.20 L28.62,315.46 L28.10,317.74 L27.66,320.04 L28.60,321.62 L30.18,320.67 L30.93,318.55 L31.74,316.47 L32.62,314.44 L33.58,312.44 L34.59,310.49 L35.68,308.58 L36.82,306.70 L38.04,304.87 L39.32,303.08 L40.67,301.33Z"/><path d="M45.20,301.04 L46.80,302.82 L48.34,304.64 L49.82,306.51 L51.23,308.42 L52.59,310.39 L53.88,312.39 L55.10,314.45 L56.27,316.55 L57.36,318.70 L58.40,320.89 L60.07,321.66 L60.84,319.99 L60.09,317.59 L59.26,315.22 L58.36,312.87 L57.38,310.55 L56.33,308.26 L55.19,306.00 L53.98,303.78 L52.69,301.58 L51.32,299.41 L49.87,297.27Z"/><path d="M32.26,291.50 L30.55,292.13 L28.90,292.82 L27.30,293.59 L25.76,294.43 L24.27,295.34 L22.84,296.31 L21.46,297.35 L20.14,298.46 L18.88,299.63 L17.67,300.86 L17.54,302.69 L19.38,302.81 L20.70,301.93 L22.05,301.12 L23.43,300.40 L24.82,299.74 L26.24,299.16 L27.67,298.66 L29.13,298.22 L30.62,297.86 L32.12,297.56 L33.65,297.34Z"/></g>
<g fill="#b9b6e9"><path d="M62.35,290.11 C62.50,294.47 59.30,299.84 56.40,302.69 C53.49,305.53 49.29,307.42 44.91,307.18 C40.53,306.94 33.47,303.83 30.12,301.25 C26.77,298.67 25.40,295.35 24.79,291.69 C24.19,288.03 25.02,283.02 26.50,279.29 C27.97,275.56 30.46,270.82 33.67,269.31 C36.88,267.81 42.14,269.05 45.77,270.25 C49.41,271.46 52.72,273.24 55.48,276.55 C58.25,279.86 62.20,285.75 62.35,290.11Z"/><path d="M32.16,285.65 L29.93,285.44 L27.70,285.32 L25.49,285.28 L23.29,285.32 L21.10,285.45 L18.92,285.66 L16.76,285.96 L14.61,286.33 L12.48,286.79 L10.36,287.32 L9.32,288.84 L10.84,289.88 L12.92,289.69 L14.99,289.59 L17.04,289.56 L19.08,289.62 L21.10,289.75 L23.11,289.96 L25.11,290.24 L27.10,290.60 L29.07,291.04 L31.04,291.55Z"/><path d="M39.82,276.01 L38.45,274.53 L37.13,273.01 L35.87,271.44 L34.68,269.82 L33.55,268.16 L32.48,266.46 L31.47,264.71 L30.53,262.91 L29.65,261.06 L28.84,259.16 L27.21,258.31 L26.36,259.94 L26.88,262.04 L27.49,264.12 L28.17,266.18 L28.93,268.20 L29.76,270.20 L30.68,272.18 L31.68,274.13 L32.77,276.05 L33.93,277.94 L35.17,279.80Z"/><path d="M46.57,277.62 L47.07,275.40 L47.48,273.17 L47.81,270.95 L48.05,268.73 L48.21,266.52 L48.29,264.30 L48.28,262.09 L48.18,259.88 L48.01,257.68 L47.76,255.47 L46.38,254.25 L45.16,255.62 L45.07,257.74 L44.91,259.83 L44.66,261.90 L44.34,263.94 L43.95,265.96 L43.48,267.97 L42.93,269.95 L42.32,271.90 L41.63,273.84 L40.86,275.76Z"/><path d="M52.80,282.71 L54.33,280.77 L55.92,278.88 L57.57,277.05 L59.28,275.26 L61.04,273.53 L62.86,271.84 L64.75,270.21 L66.69,268.64 L68.70,267.11 L70.76,265.64 L71.22,263.86 L69.43,263.41 L67.12,264.63 L64.85,265.93 L62.62,267.29 L60.43,268.72 L58.30,270.22 L56.20,271.78 L54.16,273.42 L52.16,275.12 L50.20,276.90 L48.30,278.75Z"/><path d="M35.69,297.97 L34.53,300.07 L33.44,302.20 L32.43,304.36 L31.51,306.53 L30.67,308.73 L29.91,310.95 L29.22,313.20 L28.62,315.46 L28.10,317.74 L27.66,320.04 L28.60,321.62 L30.18,320.67 L30.93,318.55 L31.74,316.47 L32.62,314.44 L33.58,312.44 L34.59,310.49 L35.68,308.58 L36.82,306.70 L38.04,304.87 L39.32,303.08 L40.67,301.33Z"/><path d="M45.20,301.04 L46.80,302.82 L48.34,304.64 L49.82,306.51 L51.23,308.42 L52.59,310.39 L53.88,312.39 L55.10,314.45 L56.27,316.55 L57.36,318.70 L58.40,320.89 L60.07,321.66 L60.84,319.99 L60.09,317.59 L59.26,315.22 L58.36,312.87 L57.38,310.55 L56.33,308.26 L55.19,306.00 L53.98,303.78 L52.69,301.58 L51.32,299.41 L49.87,297.27Z"/><path d="M32.26,291.50 L30.55,292.13 L28.90,292.82 L27.30,293.59 L25.76,294.43 L24.27,295.34 L22.84,296.31 L21.46,297.35 L20.14,298.46 L18.88,299.63 L17.67,300.86 L17.54,302.69 L19.38,302.81 L20.70,301.93 L22.05,301.12 L23.43,300.40 L24.82,299.74 L26.24,299.16 L27.67,298.66 L29.13,298.22 L30.62,297.86 L32.12,297.56 L33.65,297.34Z"/></g>
<ellipse cx="40.5" cy="288.5" rx="9.5" ry="12" fill="#9d99d4"/>
</g>
<path d="M136.89,291.00 C136.93,292.12 135.97,293.18 135.92,294.38 C135.88,295.58 136.87,297.06 136.64,298.18 C136.41,299.31 135.44,300.34 134.55,301.13 C133.67,301.92 132.00,302.03 131.33,302.93 C130.65,303.84 131.11,305.64 130.52,306.55 C129.93,307.46 128.69,307.79 127.79,308.38 C126.88,308.97 125.91,309.27 125.07,310.07 C124.23,310.88 123.72,312.82 122.74,313.21 C121.75,313.61 120.29,312.33 119.17,312.42 C118.04,312.51 117.05,313.78 116.00,313.76 C114.95,313.75 113.85,312.82 112.85,312.34 C111.84,311.86 110.99,311.18 109.97,310.88 C108.95,310.58 107.63,311.00 106.72,310.52 C105.80,310.03 105.28,308.72 104.49,307.97 C103.70,307.23 102.62,306.86 101.96,306.05 C101.29,305.23 101.13,303.95 100.51,303.06 C99.88,302.17 98.67,301.66 98.21,300.71 C97.74,299.76 98.08,298.42 97.73,297.36 C97.38,296.30 96.45,295.43 96.11,294.37 C95.77,293.31 95.74,292.13 95.68,291.00 C95.63,289.87 95.93,288.80 95.76,287.57 C95.59,286.33 94.40,284.70 94.66,283.57 C94.92,282.44 96.34,281.57 97.31,280.80 C98.28,280.02 99.73,279.74 100.50,278.94 C101.28,278.13 101.44,276.99 101.97,275.96 C102.49,274.93 102.88,273.58 103.63,272.76 C104.39,271.95 105.64,271.94 106.52,271.06 C107.39,270.19 107.81,267.69 108.88,267.52 C109.94,267.35 111.71,269.58 112.90,270.04 C114.09,270.49 114.95,270.36 116.00,270.24 C117.05,270.13 118.20,269.19 119.20,269.34 C120.20,269.49 120.99,270.83 122.02,271.16 C123.04,271.49 124.25,271.13 125.36,271.33 C126.46,271.53 127.75,271.70 128.64,272.35 C129.53,273.01 129.87,274.43 130.70,275.25 C131.54,276.06 133.00,276.33 133.66,277.25 C134.32,278.18 134.49,279.61 134.65,280.82 C134.82,282.03 134.48,283.37 134.66,284.50 C134.84,285.64 135.35,286.57 135.73,287.65 C136.10,288.74 136.86,289.88 136.89,291.00Z" fill="#f39b9b" stroke="#e07a7a" stroke-width="0.6" />
<path d="M128.60,293.50 C128.58,294.98 128.21,296.50 127.65,297.91 C127.09,299.31 126.39,301.05 125.24,301.95 C124.09,302.85 122.23,303.11 120.74,303.32 C119.25,303.53 117.73,303.51 116.28,303.22 C114.83,302.94 113.14,302.52 112.03,301.62 C110.91,300.71 110.23,299.15 109.57,297.80 C108.92,296.45 108.26,295.00 108.11,293.50 C107.97,292.00 108.04,290.13 108.69,288.77 C109.33,287.41 110.75,286.27 111.99,285.34 C113.24,284.42 114.68,283.54 116.15,283.21 C117.62,282.88 119.37,282.98 120.81,283.37 C122.26,283.76 123.67,284.62 124.83,285.56 C125.99,286.51 127.14,287.72 127.76,289.04 C128.39,290.36 128.61,292.02 128.60,293.50Z" fill="#d36b70" stroke="none" stroke-width="1" />
<circle cx="104.87" cy="291.39" r="0.45" fill="#cc5a62" stroke="none" stroke-width="1" />
<circle cx="118.35" cy="285.03" r="0.45" fill="#cc5a62" stroke="none" stroke-width="1" />
<circle cx="110.02" cy="303.51" r="0.45" fill="#cc5a62" stroke="none" stroke-width="1" />
<circle cx="108.84" cy="291.62" r="0.45" fill="#cc5a62" stroke="none" stroke-width="1" />
<circle cx="110.53" cy="294.69" r="0.45" fill="#cc5a62" stroke="none" stroke-width="1" />
<circle cx="122.25" cy="301.98" r="0.45" fill="#cc5a62" stroke="none" stroke-width="1" />
<circle cx="126.82" cy="282.47" r="0.45" fill="#cc5a62" stroke="none" stroke-width="1" />
<circle cx="111.53" cy="285.94" r="0.45" fill="#cc5a62" stroke="none" stroke-width="1" />
<circle cx="113.36" cy="292.17" r="0.45" fill="#cc5a62" stroke="none" stroke-width="1" />
<circle cx="115.21" cy="285.12" r="0.45" fill="#cc5a62" stroke="none" stroke-width="1" />
<circle cx="110.91" cy="309.94" r="0.45" fill="#cc5a62" stroke="none" stroke-width="1" />
<circle cx="105.48" cy="307.51" r="0.45" fill="#cc5a62" stroke="none" stroke-width="1" />
<circle cx="104.77" cy="280.72" r="0.45" fill="#cc5a62" stroke="none" stroke-width="1" />
<circle cx="113.52" cy="288.43" r="0.45" fill="#cc5a62" stroke="none" stroke-width="1" />
<circle cx="114.80" cy="285.96" r="0.45" fill="#cc5a62" stroke="none" stroke-width="1" />
<circle cx="113.82" cy="292.43" r="0.45" fill="#cc5a62" stroke="none" stroke-width="1" />
<circle cx="122.86" cy="293.64" r="0.45" fill="#cc5a62" stroke="none" stroke-width="1" />
<circle cx="123.67" cy="291.68" r="0.45" fill="#cc5a62" stroke="none" stroke-width="1" />
<circle cx="127.75" cy="274.85" r="0.45" fill="#cc5a62" stroke="none" stroke-width="1" />
<circle cx="114.09" cy="292.00" r="0.45" fill="#cc5a62" stroke="none" stroke-width="1" />
<circle cx="115.28" cy="292.05" r="0.45" fill="#cc5a62" stroke="none" stroke-width="1" />
<circle cx="118.52" cy="303.17" r="0.45" fill="#cc5a62" stroke="none" stroke-width="1" />
<circle cx="115.53" cy="290.58" r="0.45" fill="#cc5a62" stroke="none" stroke-width="1" />
<circle cx="107.58" cy="291.66" r="0.45" fill="#cc5a62" stroke="none" stroke-width="1" />
<circle cx="113.84" cy="292.62" r="0.45" fill="#cc5a62" stroke="none" stroke-width="1" />
<circle cx="114.40" cy="292.27" r="0.45" fill="#cc5a62" stroke="none" stroke-width="1" />
<circle cx="110.93" cy="279.04" r="0.45" fill="#cc5a62" stroke="none" stroke-width="1" />
<circle cx="110.37" cy="285.10" r="0.45" fill="#cc5a62" stroke="none" stroke-width="1" />
<circle cx="123.10" cy="289.02" r="0.45" fill="#cc5a62" stroke="none" stroke-width="1" />
<circle cx="118.14" cy="298.16" r="0.45" fill="#cc5a62" stroke="none" stroke-width="1" />
<ellipse cx="97.30" cy="262.00" rx="5.00" ry="8.00" fill="#f39b9b" stroke="#e07a7a" stroke-width="0.6" transform="rotate(-20 97.30 262.00)" />
<rect x="57.4" y="283.3" width="42" height="3.2" rx="1.2" fill="#2a9a98"/>
<rect x="66" y="283.3" width="4" height="3.2" fill="#7ccac6"/>
<rect x="94" y="283.3" width="6" height="3.2" fill="#aaaaaa"/>
<rect x="70" y="289" width="10" height="2.6" rx="1" fill="#9b6bb5"/>
<rect x="82" y="289" width="10" height="2.6" rx="1" fill="#9b6bb5"/>
<path d="M63,293.5 L98,293.5 M63,298.5 L98,298.5" fill="none" stroke="#553" stroke-width="0.5" />
<rect x="70" y="293" width="8" height="6" rx="1" fill="#c8557a"/>
<rect x="79" y="293" width="10" height="6" rx="1" fill="#2f78b8"/>
</g>
<ellipse cx="76.3" cy="269.8" rx="73.5" ry="68.2" fill="none" stroke="#8aa4d8" stroke-width="0.9"/>
<text x="55.3" y="218.7" font-size="14" font-weight="bold" fill="#111111" stroke="#111111" stroke-width="0.22" text-anchor="middle" >C</text>
<text x="48.7" y="238.1" font-size="7.94" font-weight="bold" fill="#111111" stroke="#111111" stroke-width="0.22" text-anchor="middle" >Immature</text>
<text x="48.6" y="246.9" font-size="7.94" font-weight="bold" fill="#111111" stroke="#111111" stroke-width="0.22" text-anchor="middle" >DC</text>
<text x="126.4" y="269.3" font-size="7.73" font-weight="bold" fill="#111111" stroke="#111111" stroke-width="0.22" text-anchor="middle" >Tumor cell</text>
<path d="M211.17,76.61 L212.49,75.04 L213.77,73.52 L215.06,72.05 L216.36,70.64 L217.68,69.30 L219.00,68.03 L220.34,66.82 L221.70,65.68 L223.07,64.60 L224.45,63.59 L225.84,62.64 L227.25,61.75 L228.68,60.93 L230.11,60.18 L231.56,59.49 L233.03,58.86 L234.51,58.29 L236.00,57.78 L237.51,57.33 L239.03,56.94 L240.57,56.61 L242.13,56.34 L243.70,56.13 L245.29,55.98 L246.50,61.00 L261.60,50.50 L243.20,44.70 L244.41,49.72 L242.62,50.11 L240.86,50.56 L239.13,51.08 L237.43,51.66 L235.76,52.31 L234.13,53.03 L232.54,53.81 L230.97,54.65 L229.45,55.55 L227.96,56.52 L226.50,57.55 L225.08,58.64 L223.69,59.79 L222.34,61.00 L221.02,62.27 L219.74,63.59 L218.49,64.98 L217.28,66.43 L216.10,67.93 L214.96,69.50 L213.86,71.12 L212.79,72.81 L211.77,74.56 L210.83,76.39Z" fill="#787d80"/>
<path d="M405.51,50.20 L407.48,50.40 L409.41,50.59 L411.32,50.80 L413.20,51.06 L415.04,51.35 L416.85,51.68 L418.64,52.05 L420.39,52.46 L422.11,52.91 L423.80,53.41 L425.47,53.94 L427.10,54.52 L428.70,55.14 L430.28,55.80 L431.82,56.50 L433.34,57.25 L434.83,58.03 L436.29,58.85 L437.72,59.72 L439.12,60.63 L440.50,61.57 L441.85,62.56 L443.18,63.59 L444.48,64.66 L441.30,68.80 L460.00,72.30 L451.50,55.40 L448.32,59.54 L446.75,58.52 L445.16,57.56 L443.56,56.65 L441.93,55.79 L440.28,54.99 L438.61,54.24 L436.92,53.54 L435.21,52.89 L433.48,52.30 L431.74,51.76 L429.97,51.27 L428.19,50.83 L426.39,50.45 L424.57,50.12 L422.74,49.84 L420.89,49.61 L419.02,49.44 L417.14,49.31 L415.24,49.25 L413.32,49.23 L411.39,49.27 L409.44,49.37 L407.47,49.53 L405.49,49.80Z" fill="#787d80"/>
<path d="M575.18,152.66 L576.46,153.89 L577.73,155.09 L578.96,156.29 L580.16,157.50 L581.31,158.72 L582.42,159.95 L583.48,161.19 L584.51,162.44 L585.49,163.71 L586.43,164.99 L587.33,166.28 L588.19,167.58 L589.01,168.90 L589.78,170.23 L590.51,171.57 L591.20,172.93 L591.85,174.30 L592.46,175.68 L593.03,177.08 L593.56,178.49 L594.05,179.92 L594.50,181.36 L594.91,182.81 L595.28,184.28 L590.30,185.60 L603.10,198.90 L606.30,181.10 L601.32,182.42 L600.70,180.84 L600.05,179.30 L599.35,177.78 L598.61,176.28 L597.83,174.81 L597.01,173.37 L596.15,171.96 L595.24,170.57 L594.30,169.22 L593.32,167.89 L592.30,166.58 L591.23,165.31 L590.13,164.06 L589.00,162.85 L587.82,161.66 L586.60,160.49 L585.35,159.36 L584.05,158.26 L582.72,157.18 L581.35,156.14 L579.94,155.12 L578.48,154.14 L576.98,153.20 L575.42,152.34Z" fill="#787d80"/>
<path d="M604.31,338.55 L604.59,340.59 L604.87,342.56 L605.08,344.46 L605.23,346.31 L605.31,348.10 L605.33,349.82 L605.28,351.49 L605.16,353.10 L604.97,354.65 L604.73,356.13 L604.41,357.56 L604.03,358.92 L603.60,360.22 L603.10,361.46 L602.54,362.65 L601.92,363.78 L601.25,364.85 L600.52,365.86 L599.73,366.83 L598.89,367.75 L597.99,368.62 L597.02,369.44 L596.00,370.22 L594.92,370.96 L591.60,367.10 L586.00,381.60 L602.00,379.80 L598.68,375.94 L599.90,374.84 L601.05,373.68 L602.10,372.48 L603.08,371.22 L603.96,369.93 L604.76,368.58 L605.47,367.20 L606.09,365.78 L606.62,364.32 L607.06,362.82 L607.42,361.29 L607.70,359.73 L607.89,358.13 L608.00,356.50 L608.03,354.84 L607.98,353.15 L607.85,351.43 L607.65,349.67 L607.36,347.88 L607.00,346.06 L606.56,344.20 L606.04,342.31 L605.43,340.39 L604.69,338.45Z" fill="#787d80"/>
<path d="M537.61,510.95 L536.90,512.64 L536.22,514.28 L535.52,515.85 L534.79,517.35 L534.04,518.79 L533.27,520.16 L532.46,521.46 L531.63,522.69 L530.78,523.85 L529.89,524.95 L528.99,525.98 L528.05,526.94 L527.10,527.83 L526.12,528.66 L525.12,529.43 L524.09,530.13 L523.04,530.77 L521.97,531.35 L520.87,531.87 L519.75,532.33 L518.61,532.74 L517.43,533.09 L516.23,533.38 L515.00,533.62 L513.30,528.90 L500.20,540.50 L518.20,544.30 L516.50,539.58 L517.96,539.07 L519.38,538.50 L520.75,537.87 L522.07,537.16 L523.35,536.40 L524.58,535.57 L525.75,534.68 L526.87,533.73 L527.95,532.72 L528.97,531.65 L529.94,530.53 L530.86,529.35 L531.72,528.12 L532.54,526.83 L533.31,525.49 L534.03,524.10 L534.70,522.66 L535.33,521.16 L535.91,519.61 L536.44,518.01 L536.92,516.35 L537.35,514.65 L537.72,512.88 L537.99,511.05Z" fill="#ffffff" stroke="#ffffff" stroke-width="2.4" stroke-linejoin="round"/>
<path d="M537.61,510.95 L536.90,512.64 L536.22,514.28 L535.52,515.85 L534.79,517.35 L534.04,518.79 L533.27,520.16 L532.46,521.46 L531.63,522.69 L530.78,523.85 L529.89,524.95 L528.99,525.98 L528.05,526.94 L527.10,527.83 L526.12,528.66 L525.12,529.43 L524.09,530.13 L523.04,530.77 L521.97,531.35 L520.87,531.87 L519.75,532.33 L518.61,532.74 L517.43,533.09 L516.23,533.38 L515.00,533.62 L513.30,528.90 L500.20,540.50 L518.20,544.30 L516.50,539.58 L517.96,539.07 L519.38,538.50 L520.75,537.87 L522.07,537.16 L523.35,536.40 L524.58,535.57 L525.75,534.68 L526.87,533.73 L527.95,532.72 L528.97,531.65 L529.94,530.53 L530.86,529.35 L531.72,528.12 L532.54,526.83 L533.31,525.49 L534.03,524.10 L534.70,522.66 L535.33,521.16 L535.91,519.61 L536.44,518.01 L536.92,516.35 L537.35,514.65 L537.72,512.88 L537.99,511.05Z" fill="#787d80"/>
<path d="M359.76,587.80 L358.44,587.85 L357.14,587.93 L355.84,588.01 L354.56,588.08 L353.27,588.14 L352.00,588.18 L350.72,588.21 L349.45,588.23 L348.19,588.24 L346.93,588.22 L345.67,588.20 L344.42,588.15 L343.17,588.10 L341.93,588.02 L340.68,587.93 L339.45,587.83 L338.21,587.71 L336.98,587.57 L335.75,587.41 L334.53,587.25 L333.31,587.06 L332.09,586.86 L330.87,586.64 L329.66,586.41 L330.00,581.50 L312.80,587.40 L328.60,597.30 L328.94,592.39 L330.25,592.45 L331.57,592.48 L332.88,592.50 L334.19,592.50 L335.49,592.48 L336.80,592.43 L338.10,592.37 L339.40,592.30 L340.70,592.20 L342.00,592.08 L343.29,591.94 L344.59,591.78 L345.88,591.61 L347.16,591.41 L348.45,591.19 L349.73,590.96 L351.01,590.70 L352.28,590.42 L353.56,590.12 L354.82,589.80 L356.09,589.45 L357.35,589.08 L358.60,588.67 L359.84,588.20Z" fill="#ffffff" stroke="#ffffff" stroke-width="2.4" stroke-linejoin="round"/>
<path d="M359.76,587.80 L358.44,587.85 L357.14,587.93 L355.84,588.01 L354.56,588.08 L353.27,588.14 L352.00,588.18 L350.72,588.21 L349.45,588.23 L348.19,588.24 L346.93,588.22 L345.67,588.20 L344.42,588.15 L343.17,588.10 L341.93,588.02 L340.68,587.93 L339.45,587.83 L338.21,587.71 L336.98,587.57 L335.75,587.41 L334.53,587.25 L333.31,587.06 L332.09,586.86 L330.87,586.64 L329.66,586.41 L330.00,581.50 L312.80,587.40 L328.60,597.30 L328.94,592.39 L330.25,592.45 L331.57,592.48 L332.88,592.50 L334.19,592.50 L335.49,592.48 L336.80,592.43 L338.10,592.37 L339.40,592.30 L340.70,592.20 L342.00,592.08 L343.29,591.94 L344.59,591.78 L345.88,591.61 L347.16,591.41 L348.45,591.19 L349.73,590.96 L351.01,590.70 L352.28,590.42 L353.56,590.12 L354.82,589.80 L356.09,589.45 L357.35,589.08 L358.60,588.67 L359.84,588.20Z" fill="#787d80"/>
<path d="M178.84,531.20 L177.38,530.61 L175.96,530.05 L174.59,529.47 L173.28,528.87 L172.03,528.25 L170.84,527.60 L169.71,526.94 L168.63,526.24 L167.62,525.53 L166.66,524.79 L165.76,524.03 L164.92,523.25 L164.13,522.44 L163.40,521.62 L162.72,520.78 L162.10,519.91 L161.53,519.03 L161.01,518.13 L160.54,517.20 L160.12,516.26 L159.75,515.29 L159.42,514.30 L159.14,513.28 L158.90,512.24 L163.80,510.80 L151.20,497.60 L148.00,515.50 L152.90,514.06 L153.42,515.32 L153.99,516.54 L154.62,517.71 L155.30,518.84 L156.04,519.93 L156.83,520.97 L157.66,521.96 L158.55,522.90 L159.49,523.80 L160.47,524.64 L161.50,525.44 L162.57,526.19 L163.68,526.90 L164.84,527.56 L166.04,528.17 L167.29,528.74 L168.57,529.26 L169.90,529.74 L171.26,530.17 L172.67,530.56 L174.13,530.91 L175.62,531.20 L177.16,531.45 L178.76,531.60Z" fill="#787d80"/>
<path d="M78.16,378.88 L77.65,377.79 L77.13,376.74 L76.63,375.70 L76.16,374.68 L75.73,373.66 L75.33,372.65 L74.96,371.64 L74.63,370.65 L74.33,369.65 L74.07,368.67 L73.83,367.69 L73.64,366.71 L73.47,365.74 L73.34,364.78 L73.24,363.82 L73.17,362.86 L73.14,361.91 L73.13,360.97 L73.16,360.03 L73.22,359.09 L73.31,358.16 L73.42,357.23 L73.57,356.30 L73.75,355.37 L78.90,355.80 L72.30,338.30 L62.30,354.30 L67.45,354.73 L67.45,355.88 L67.49,357.02 L67.57,358.15 L67.69,359.27 L67.85,360.38 L68.04,361.48 L68.28,362.57 L68.55,363.64 L68.86,364.71 L69.20,365.76 L69.58,366.80 L70.00,367.83 L70.45,368.85 L70.94,369.86 L71.46,370.85 L72.02,371.83 L72.62,372.79 L73.25,373.75 L73.91,374.69 L74.61,375.61 L75.35,376.53 L76.12,377.42 L76.94,378.29 L77.84,379.12Z" fill="#787d80"/>
<path d="M70.50,200.50 L70.72,198.88 L70.93,197.31 L71.17,195.79 L71.44,194.32 L71.75,192.89 L72.10,191.51 L72.48,190.18 L72.90,188.90 L73.36,187.66 L73.86,186.47 L74.39,185.32 L74.97,184.22 L75.57,183.17 L76.22,182.16 L76.90,181.20 L77.61,180.28 L78.36,179.41 L79.14,178.57 L79.95,177.78 L80.80,177.02 L81.69,176.31 L82.61,175.63 L83.57,174.99 L84.56,174.38 L87.60,178.40 L95.50,163.00 L78.00,165.30 L81.04,169.32 L79.94,170.24 L78.90,171.20 L77.91,172.20 L76.98,173.23 L76.10,174.30 L75.28,175.41 L74.52,176.55 L73.82,177.73 L73.17,178.93 L72.58,180.17 L72.04,181.44 L71.56,182.74 L71.14,184.06 L70.77,185.42 L70.45,186.80 L70.19,188.21 L69.98,189.65 L69.83,191.12 L69.72,192.61 L69.67,194.14 L69.68,195.69 L69.74,197.26 L69.87,198.87 L70.10,200.50Z" fill="#787d80"/>
</svg>
</body></html>
